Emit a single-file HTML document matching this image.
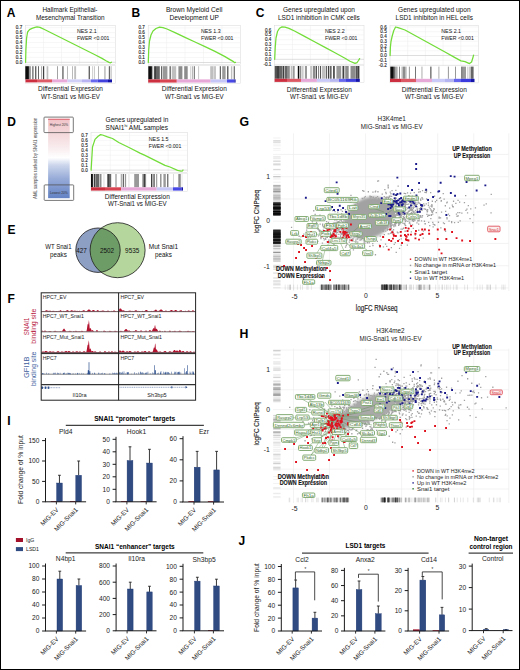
<!DOCTYPE html>
<html><head><meta charset="utf-8"><style>
html,body{margin:0;padding:0;background:#fff;}
body{width:520px;height:670px;overflow:hidden;}
svg{display:block;font-family:"Liberation Sans",sans-serif;}
</style></head><body>
<svg width="520" height="670" viewBox="0 0 520 670">
<defs><filter id="mblur" x="-20%" y="-20%" width="140%" height="140%"><feGaussianBlur stdDeviation="1.8"/></filter></defs>
<rect x="0" y="0" width="520" height="670" fill="#fff"/>
<rect x="25.5" y="25.5" width="90.1" height="39" fill="#fff" stroke="#d8d8d8" stroke-width="0.5"/>
<line x1="43.52" y1="25.5" x2="43.52" y2="64.5" stroke="#ececec" stroke-width="0.5"/>
<line x1="61.54" y1="25.5" x2="61.54" y2="64.5" stroke="#ececec" stroke-width="0.5"/>
<line x1="79.56" y1="25.5" x2="79.56" y2="64.5" stroke="#ececec" stroke-width="0.5"/>
<line x1="97.58" y1="25.5" x2="97.58" y2="64.5" stroke="#ececec" stroke-width="0.5"/>
<line x1="25.5" y1="27.65" x2="115.6" y2="27.65" stroke="#eeeeee" stroke-width="0.5"/>
<text x="22.2" y="29.25" font-size="4.6" text-anchor="end" fill="#222" stroke="#222" stroke-width="0.12">0.7</text>
<line x1="25.5" y1="32.6" x2="115.6" y2="32.6" stroke="#eeeeee" stroke-width="0.5"/>
<text x="22.2" y="34.2" font-size="4.6" text-anchor="end" fill="#222" stroke="#222" stroke-width="0.12">0.6</text>
<line x1="25.5" y1="37.55" x2="115.6" y2="37.55" stroke="#eeeeee" stroke-width="0.5"/>
<text x="22.2" y="39.15" font-size="4.6" text-anchor="end" fill="#222" stroke="#222" stroke-width="0.12">0.5</text>
<line x1="25.5" y1="42.5" x2="115.6" y2="42.5" stroke="#eeeeee" stroke-width="0.5"/>
<text x="22.2" y="44.1" font-size="4.6" text-anchor="end" fill="#222" stroke="#222" stroke-width="0.12">0.4</text>
<line x1="25.5" y1="47.45" x2="115.6" y2="47.45" stroke="#eeeeee" stroke-width="0.5"/>
<text x="22.2" y="49.05" font-size="4.6" text-anchor="end" fill="#222" stroke="#222" stroke-width="0.12">0.3</text>
<line x1="25.5" y1="52.4" x2="115.6" y2="52.4" stroke="#eeeeee" stroke-width="0.5"/>
<text x="22.2" y="54" font-size="4.6" text-anchor="end" fill="#222" stroke="#222" stroke-width="0.12">0.2</text>
<line x1="25.5" y1="57.35" x2="115.6" y2="57.35" stroke="#eeeeee" stroke-width="0.5"/>
<text x="22.2" y="58.95" font-size="4.6" text-anchor="end" fill="#222" stroke="#222" stroke-width="0.12">0.1</text>
<line x1="25.5" y1="62.3" x2="115.6" y2="62.3" stroke="#c8c8c8" stroke-width="0.6"/>
<text x="22.2" y="63.9" font-size="4.6" text-anchor="end" fill="#222" stroke="#222" stroke-width="0.12">0.0</text>
<polyline points="25.6,62.3 25.9,50 26.6,38 27.6,32 29.5,29.6 32,28.4 35,27.3 37,26.9 40,27.4 45,29.8 55,34.8 65,39.8 75,44.8 85,49.8 95,54.8 102,58.4 106,60.8 109,62.4 110.5,62.8 111.5,62.2" fill="none" stroke="#72dd38" stroke-width="1.25" stroke-linejoin="round" stroke-linecap="round"/>
<rect x="25.5" y="65.4" width="90.1" height="17.8" fill="#fff" stroke="#dcdcdc" stroke-width="0.5"/>
<rect x="25.3" y="66.2" width="3.6" height="13.2" fill="#000" fill-opacity="0.95"/>
<rect x="29.3" y="66.2" width="1.3" height="13.2" fill="#000" fill-opacity="0.6"/>
<rect x="32" y="66.2" width="1.7" height="13.2" fill="#000" fill-opacity="0.45"/>
<rect x="35" y="66.2" width="1.4" height="13.2" fill="#000" fill-opacity="0.6"/>
<rect x="38.2" y="66.2" width="0.8" height="13.2" fill="#000" fill-opacity="0.75"/>
<rect x="41.3" y="66.2" width="0.8" height="13.2" fill="#000" fill-opacity="0.45"/>
<rect x="43" y="66.2" width="1.2" height="13.2" fill="#000" fill-opacity="0.75"/>
<rect x="46.6" y="66.2" width="1.7" height="13.2" fill="#000" fill-opacity="0.25"/>
<rect x="57.2" y="66.2" width="0.8" height="13.2" fill="#000" fill-opacity="0.45"/>
<rect x="62" y="66.2" width="1.8" height="13.2" fill="#000" fill-opacity="0.45"/>
<rect x="67.2" y="66.2" width="0.6" height="13.2" fill="#000" fill-opacity="0.45"/>
<rect x="72.3" y="66.2" width="0.6" height="13.2" fill="#000" fill-opacity="0.45"/>
<rect x="74.2" y="66.2" width="1.9" height="13.2" fill="#000" fill-opacity="0.25"/>
<rect x="88.6" y="66.2" width="1.4" height="13.2" fill="#000" fill-opacity="0.6"/>
<rect x="92" y="66.2" width="0.7" height="13.2" fill="#000" fill-opacity="0.25"/>
<rect x="93.9" y="66.2" width="0.9" height="13.2" fill="#000" fill-opacity="0.25"/>
<rect x="98.2" y="66.2" width="0.7" height="13.2" fill="#000" fill-opacity="0.45"/>
<rect x="104.5" y="66.2" width="0.9" height="13.2" fill="#000" fill-opacity="0.45"/>
<rect x="108.8" y="66.2" width="1.4" height="13.2" fill="#000" fill-opacity="0.6"/>
<rect x="111" y="66.2" width="0.7" height="13.2" fill="#000" fill-opacity="0.25"/>
<rect x="25.5" y="79.4" width="11.5" height="3" fill="#cc2f3f"/>
<rect x="37" y="79.4" width="15" height="3" fill="#dd5a66"/>
<rect x="52" y="79.4" width="15.5" height="3" fill="#e8aad8"/>
<rect x="67.5" y="79.4" width="14.5" height="3" fill="#cfcff8"/>
<rect x="82" y="79.4" width="9" height="3" fill="#b9b3f2"/>
<rect x="91" y="79.4" width="6.5" height="3" fill="#6868ee"/>
<rect x="97.5" y="79.4" width="10.5" height="3" fill="#4040dd"/>
<rect x="108" y="79.4" width="4" height="3" fill="#1414a8"/>
<text x="70" y="12.3" font-size="6.5" text-anchor="middle" fill="#111" textLength="55" lengthAdjust="spacingAndGlyphs">Hallmark Epithelial-</text>
<text x="70.3" y="20.1" font-size="6.5" text-anchor="middle" fill="#111" textLength="68.7" lengthAdjust="spacingAndGlyphs">Mesenchymal Transition</text>
<text x="76.9" y="33.2" font-size="5.7" fill="#111" textLength="19.74" lengthAdjust="spacingAndGlyphs">NES 2.1</text>
<text x="76.9" y="39.8" font-size="5.7" fill="#111" textLength="32.5" lengthAdjust="spacingAndGlyphs">FWER &lt;0.001</text>
<text x="70.5" y="91.3" font-size="6.5" text-anchor="middle" fill="#111" textLength="65" lengthAdjust="spacingAndGlyphs">Differential Expression</text>
<text x="70.5" y="99" font-size="6.5" text-anchor="middle" fill="#111" textLength="58.8" lengthAdjust="spacingAndGlyphs">WT-Snai1 vs MIG-EV</text>
<text x="6.8" y="17" font-size="12" font-weight="bold">A</text>
<rect x="148.2" y="25.5" width="92.1" height="39" fill="#fff" stroke="#d8d8d8" stroke-width="0.5"/>
<line x1="166.62" y1="25.5" x2="166.62" y2="64.5" stroke="#ececec" stroke-width="0.5"/>
<line x1="185.04" y1="25.5" x2="185.04" y2="64.5" stroke="#ececec" stroke-width="0.5"/>
<line x1="203.46" y1="25.5" x2="203.46" y2="64.5" stroke="#ececec" stroke-width="0.5"/>
<line x1="221.88" y1="25.5" x2="221.88" y2="64.5" stroke="#ececec" stroke-width="0.5"/>
<line x1="148.2" y1="27.85" x2="240.3" y2="27.85" stroke="#eeeeee" stroke-width="0.5"/>
<text x="144.9" y="29.45" font-size="4.6" text-anchor="end" fill="#222" stroke="#222" stroke-width="0.12">0.7</text>
<line x1="148.2" y1="32.8" x2="240.3" y2="32.8" stroke="#eeeeee" stroke-width="0.5"/>
<text x="144.9" y="34.4" font-size="4.6" text-anchor="end" fill="#222" stroke="#222" stroke-width="0.12">0.6</text>
<line x1="148.2" y1="37.75" x2="240.3" y2="37.75" stroke="#eeeeee" stroke-width="0.5"/>
<text x="144.9" y="39.35" font-size="4.6" text-anchor="end" fill="#222" stroke="#222" stroke-width="0.12">0.5</text>
<line x1="148.2" y1="42.7" x2="240.3" y2="42.7" stroke="#eeeeee" stroke-width="0.5"/>
<text x="144.9" y="44.3" font-size="4.6" text-anchor="end" fill="#222" stroke="#222" stroke-width="0.12">0.4</text>
<line x1="148.2" y1="47.65" x2="240.3" y2="47.65" stroke="#eeeeee" stroke-width="0.5"/>
<text x="144.9" y="49.25" font-size="4.6" text-anchor="end" fill="#222" stroke="#222" stroke-width="0.12">0.3</text>
<line x1="148.2" y1="52.6" x2="240.3" y2="52.6" stroke="#eeeeee" stroke-width="0.5"/>
<text x="144.9" y="54.2" font-size="4.6" text-anchor="end" fill="#222" stroke="#222" stroke-width="0.12">0.2</text>
<line x1="148.2" y1="57.55" x2="240.3" y2="57.55" stroke="#eeeeee" stroke-width="0.5"/>
<text x="144.9" y="59.15" font-size="4.6" text-anchor="end" fill="#222" stroke="#222" stroke-width="0.12">0.1</text>
<line x1="148.2" y1="62.5" x2="240.3" y2="62.5" stroke="#c8c8c8" stroke-width="0.6"/>
<text x="144.9" y="64.1" font-size="4.6" text-anchor="end" fill="#222" stroke="#222" stroke-width="0.12">0.0</text>
<polyline points="148.3,62.5 148.7,50 149.5,41 151,35 153,31 156,28.5 159.5,27.1 163,27.6 167,29 175,32.6 185,37.4 195,42 205,46.6 215,51.4 225,56.6 230,59.6 233.5,61.6 234.5,62.6 235.5,62.3" fill="none" stroke="#72dd38" stroke-width="1.25" stroke-linejoin="round" stroke-linecap="round"/>
<rect x="148.2" y="65.4" width="92.1" height="18" fill="#fff" stroke="#dcdcdc" stroke-width="0.5"/>
<rect x="148.3" y="66.2" width="3.6" height="13.2" fill="#000" fill-opacity="0.95"/>
<rect x="152.3" y="66.2" width="0.9" height="13.2" fill="#000" fill-opacity="0.45"/>
<rect x="154.1" y="66.2" width="1.9" height="13.2" fill="#000" fill-opacity="0.75"/>
<rect x="156" y="66.2" width="3.8" height="13.2" fill="#000" fill-opacity="0.6"/>
<rect x="161.2" y="66.2" width="1" height="13.2" fill="#000" fill-opacity="0.75"/>
<rect x="162.9" y="66.2" width="4.5" height="13.2" fill="#000" fill-opacity="0.4"/>
<rect x="169.6" y="66.2" width="1.1" height="13.2" fill="#000" fill-opacity="0.75"/>
<rect x="171.8" y="66.2" width="4.4" height="13.2" fill="#000" fill-opacity="0.25"/>
<rect x="178.4" y="66.2" width="4" height="13.2" fill="#000" fill-opacity="0.45"/>
<rect x="184.2" y="66.2" width="3.5" height="13.2" fill="#000" fill-opacity="0.45"/>
<rect x="190.4" y="66.2" width="0.8" height="13.2" fill="#000" fill-opacity="0.25"/>
<rect x="192.4" y="66.2" width="0.6" height="13.2" fill="#000" fill-opacity="0.45"/>
<rect x="193.8" y="66.2" width="1" height="13.2" fill="#000" fill-opacity="0.6"/>
<rect x="198.2" y="66.2" width="0.9" height="13.2" fill="#000" fill-opacity="0.25"/>
<rect x="210.2" y="66.2" width="3.4" height="13.2" fill="#000" fill-opacity="0.25"/>
<rect x="214.5" y="66.2" width="1" height="13.2" fill="#000" fill-opacity="0.45"/>
<rect x="219.8" y="66.2" width="1" height="13.2" fill="#000" fill-opacity="0.75"/>
<rect x="222.2" y="66.2" width="3.4" height="13.2" fill="#000" fill-opacity="0.4"/>
<rect x="227" y="66.2" width="1.5" height="13.2" fill="#000" fill-opacity="0.6"/>
<rect x="230.9" y="66.2" width="1.4" height="13.2" fill="#000" fill-opacity="0.25"/>
<rect x="233.75" y="66.2" width="0.95" height="13.2" fill="#000" fill-opacity="0.75"/>
<rect x="148.2" y="79.4" width="11.8" height="3.2" fill="#cc2f3f"/>
<rect x="160" y="79.4" width="16.8" height="3.2" fill="#d94452"/>
<rect x="176.8" y="79.4" width="33.9" height="3.2" fill="#e6a8d6"/>
<rect x="210.7" y="79.4" width="16.3" height="3.2" fill="#c6c6f6"/>
<rect x="227" y="79.4" width="7.3" height="3.2" fill="#4848e6"/>
<rect x="234.3" y="79.4" width="1.3" height="3.2" fill="#1414a8"/>
<text x="194.2" y="12.3" font-size="6.5" text-anchor="middle" fill="#111" textLength="56.5" lengthAdjust="spacingAndGlyphs">Brown Myeloid Cell</text>
<text x="194.1" y="20.1" font-size="6.5" text-anchor="middle" fill="#111" textLength="49.3" lengthAdjust="spacingAndGlyphs">Development UP</text>
<text x="201" y="33.2" font-size="5.7" fill="#111" textLength="19.74" lengthAdjust="spacingAndGlyphs">NES 1.3</text>
<text x="201" y="39.8" font-size="5.7" fill="#111" textLength="32.5" lengthAdjust="spacingAndGlyphs">FWER &lt;0.001</text>
<text x="194.3" y="91.3" font-size="6.5" text-anchor="middle" fill="#111" textLength="65" lengthAdjust="spacingAndGlyphs">Differential Expression</text>
<text x="194.3" y="99" font-size="6.5" text-anchor="middle" fill="#111" textLength="58.8" lengthAdjust="spacingAndGlyphs">WT-Snai1 vs MIG-EV</text>
<text x="131.6" y="17" font-size="12" font-weight="bold">B</text>
<rect x="274.6" y="25.5" width="89.4" height="39.3" fill="#fff" stroke="#d8d8d8" stroke-width="0.5"/>
<line x1="292.48" y1="25.5" x2="292.48" y2="64.8" stroke="#ececec" stroke-width="0.5"/>
<line x1="310.36" y1="25.5" x2="310.36" y2="64.8" stroke="#ececec" stroke-width="0.5"/>
<line x1="328.24" y1="25.5" x2="328.24" y2="64.8" stroke="#ececec" stroke-width="0.5"/>
<line x1="346.12" y1="25.5" x2="346.12" y2="64.8" stroke="#ececec" stroke-width="0.5"/>
<line x1="274.6" y1="29.9" x2="364" y2="29.9" stroke="#eeeeee" stroke-width="0.5"/>
<text x="271.3" y="31.5" font-size="4.6" text-anchor="end" fill="#222" stroke="#222" stroke-width="0.12">0.6</text>
<line x1="274.6" y1="34.8" x2="364" y2="34.8" stroke="#eeeeee" stroke-width="0.5"/>
<text x="271.3" y="36.4" font-size="4.6" text-anchor="end" fill="#222" stroke="#222" stroke-width="0.12">0.5</text>
<line x1="274.6" y1="39.7" x2="364" y2="39.7" stroke="#eeeeee" stroke-width="0.5"/>
<text x="271.3" y="41.3" font-size="4.6" text-anchor="end" fill="#222" stroke="#222" stroke-width="0.12">0.4</text>
<line x1="274.6" y1="44.6" x2="364" y2="44.6" stroke="#eeeeee" stroke-width="0.5"/>
<text x="271.3" y="46.2" font-size="4.6" text-anchor="end" fill="#222" stroke="#222" stroke-width="0.12">0.3</text>
<line x1="274.6" y1="49.5" x2="364" y2="49.5" stroke="#eeeeee" stroke-width="0.5"/>
<text x="271.3" y="51.1" font-size="4.6" text-anchor="end" fill="#222" stroke="#222" stroke-width="0.12">0.2</text>
<line x1="274.6" y1="54.4" x2="364" y2="54.4" stroke="#eeeeee" stroke-width="0.5"/>
<text x="271.3" y="56" font-size="4.6" text-anchor="end" fill="#222" stroke="#222" stroke-width="0.12">0.1</text>
<line x1="274.6" y1="59.3" x2="364" y2="59.3" stroke="#c8c8c8" stroke-width="0.6"/>
<text x="271.3" y="60.9" font-size="4.6" text-anchor="end" fill="#222" stroke="#222" stroke-width="0.12">0.0</text>
<line x1="274.6" y1="64.2" x2="364" y2="64.2" stroke="#eeeeee" stroke-width="0.5"/>
<text x="271.3" y="65.8" font-size="4.6" text-anchor="end" fill="#222" stroke="#222" stroke-width="0.12">-0.1</text>
<polyline points="274.7,59.3 275.2,48 276,38 277.5,31.5 279.5,28.2 282,26.9 285,27.1 289,28.4 295,31.2 305,36.6 315,42 325,47.4 335,52.8 345,58.2 350,61.2 355,63.4 357,62.6 358.5,60.5 359.6,58.6" fill="none" stroke="#72dd38" stroke-width="1.25" stroke-linejoin="round" stroke-linecap="round"/>
<rect x="274.6" y="65.2" width="89.4" height="17.5" fill="#fff" stroke="#dcdcdc" stroke-width="0.5"/>
<rect x="274.8" y="66" width="0.9" height="12.8" fill="#000" fill-opacity="0.95"/>
<rect x="276.1" y="66" width="2.9" height="12.8" fill="#000" fill-opacity="0.75"/>
<rect x="279" y="66" width="3.7" height="12.8" fill="#000" fill-opacity="0.6"/>
<rect x="283.2" y="66" width="0.8" height="12.8" fill="#000" fill-opacity="0.95"/>
<rect x="284.5" y="66" width="2.5" height="12.8" fill="#000" fill-opacity="0.6"/>
<rect x="287" y="66" width="2.8" height="12.8" fill="#000" fill-opacity="0.45"/>
<rect x="290.7" y="66" width="1.8" height="12.8" fill="#000" fill-opacity="0.25"/>
<rect x="292.9" y="66" width="1.8" height="12.8" fill="#000" fill-opacity="0.4"/>
<rect x="297.8" y="66" width="1.3" height="12.8" fill="#000" fill-opacity="0.95"/>
<rect x="299.5" y="66" width="1.8" height="12.8" fill="#000" fill-opacity="0.45"/>
<rect x="302.2" y="66" width="1.3" height="12.8" fill="#000" fill-opacity="0.25"/>
<rect x="304.9" y="66" width="2.1" height="12.8" fill="#000" fill-opacity="0.4"/>
<rect x="310.2" y="66" width="1.7" height="12.8" fill="#000" fill-opacity="0.25"/>
<rect x="312.8" y="66" width="2.7" height="12.8" fill="#000" fill-opacity="0.45"/>
<rect x="315.9" y="66" width="1" height="12.8" fill="#000" fill-opacity="0.75"/>
<rect x="318.2" y="66" width="0.9" height="12.8" fill="#000" fill-opacity="0.6"/>
<rect x="320" y="66" width="0.9" height="12.8" fill="#000" fill-opacity="0.75"/>
<rect x="321.8" y="66" width="3.9" height="12.8" fill="#000" fill-opacity="0.25"/>
<rect x="326.2" y="66" width="0.9" height="12.8" fill="#000" fill-opacity="0.75"/>
<rect x="328" y="66" width="1.3" height="12.8" fill="#000" fill-opacity="0.75"/>
<rect x="330.2" y="66" width="1.3" height="12.8" fill="#000" fill-opacity="0.75"/>
<rect x="333.3" y="66" width="1.3" height="12.8" fill="#000" fill-opacity="0.95"/>
<rect x="336.4" y="66" width="4.8" height="12.8" fill="#000" fill-opacity="0.4"/>
<rect x="342.5" y="66" width="1.8" height="12.8" fill="#000" fill-opacity="0.75"/>
<rect x="345.2" y="66" width="3.5" height="12.8" fill="#000" fill-opacity="0.45"/>
<rect x="350.5" y="66" width="5.3" height="12.8" fill="#000" fill-opacity="0.45"/>
<rect x="356.3" y="66" width="1.3" height="12.8" fill="#000" fill-opacity="0.95"/>
<rect x="358" y="66" width="1.4" height="12.8" fill="#000" fill-opacity="0.75"/>
<rect x="274.6" y="78.8" width="12.4" height="3.1" fill="#cc2f3f"/>
<rect x="287" y="78.8" width="14" height="3.1" fill="#dc5864"/>
<rect x="301" y="78.8" width="15.9" height="3.1" fill="#e6a8d6"/>
<rect x="316.9" y="78.8" width="13.1" height="3.1" fill="#cacaf8"/>
<rect x="330" y="78.8" width="9" height="3.1" fill="#b8b8f0"/>
<rect x="339" y="78.8" width="7" height="3.1" fill="#6868ee"/>
<rect x="346" y="78.8" width="10" height="3.1" fill="#4040dd"/>
<rect x="356" y="78.8" width="3.8" height="3.1" fill="#1414a8"/>
<text x="319" y="12.3" font-size="6.5" text-anchor="middle" fill="#111" textLength="72" lengthAdjust="spacingAndGlyphs">Genes upregulated upon</text>
<text x="318.9" y="20.1" font-size="6.5" text-anchor="middle" fill="#111" textLength="81.8" lengthAdjust="spacingAndGlyphs">LSD1 inhibition in CMK cells</text>
<text x="325" y="33.2" font-size="5.7" fill="#111" textLength="19.74" lengthAdjust="spacingAndGlyphs">NES 2.2</text>
<text x="325" y="39.8" font-size="5.7" fill="#111" textLength="32.5" lengthAdjust="spacingAndGlyphs">FWER &lt;0.001</text>
<text x="319.3" y="91.5" font-size="6.5" text-anchor="middle" fill="#111" textLength="65" lengthAdjust="spacingAndGlyphs">Differential Expression</text>
<text x="319.3" y="99.2" font-size="6.5" text-anchor="middle" fill="#111" textLength="58.8" lengthAdjust="spacingAndGlyphs">WT-Snai1 vs MIG-EV</text>
<text x="255.8" y="17" font-size="12" font-weight="bold">C</text>
<rect x="390" y="25.5" width="88.5" height="40.5" fill="#fff" stroke="#d8d8d8" stroke-width="0.5"/>
<line x1="407.7" y1="25.5" x2="407.7" y2="66" stroke="#ececec" stroke-width="0.5"/>
<line x1="425.4" y1="25.5" x2="425.4" y2="66" stroke="#ececec" stroke-width="0.5"/>
<line x1="443.1" y1="25.5" x2="443.1" y2="66" stroke="#ececec" stroke-width="0.5"/>
<line x1="460.8" y1="25.5" x2="460.8" y2="66" stroke="#ececec" stroke-width="0.5"/>
<line x1="390" y1="26.94" x2="478.5" y2="26.94" stroke="#eeeeee" stroke-width="0.5"/>
<text x="386.7" y="28.54" font-size="4.6" text-anchor="end" fill="#222" stroke="#222" stroke-width="0.12">0.6</text>
<line x1="390" y1="31.7" x2="478.5" y2="31.7" stroke="#eeeeee" stroke-width="0.5"/>
<text x="386.7" y="33.3" font-size="4.6" text-anchor="end" fill="#222" stroke="#222" stroke-width="0.12">0.5</text>
<line x1="390" y1="36.46" x2="478.5" y2="36.46" stroke="#eeeeee" stroke-width="0.5"/>
<text x="386.7" y="38.06" font-size="4.6" text-anchor="end" fill="#222" stroke="#222" stroke-width="0.12">0.4</text>
<line x1="390" y1="41.22" x2="478.5" y2="41.22" stroke="#eeeeee" stroke-width="0.5"/>
<text x="386.7" y="42.82" font-size="4.6" text-anchor="end" fill="#222" stroke="#222" stroke-width="0.12">0.3</text>
<line x1="390" y1="45.98" x2="478.5" y2="45.98" stroke="#eeeeee" stroke-width="0.5"/>
<text x="386.7" y="47.58" font-size="4.6" text-anchor="end" fill="#222" stroke="#222" stroke-width="0.12">0.2</text>
<line x1="390" y1="50.74" x2="478.5" y2="50.74" stroke="#eeeeee" stroke-width="0.5"/>
<text x="386.7" y="52.34" font-size="4.6" text-anchor="end" fill="#222" stroke="#222" stroke-width="0.12">0.1</text>
<line x1="390" y1="55.5" x2="478.5" y2="55.5" stroke="#c8c8c8" stroke-width="0.6"/>
<text x="386.7" y="57.1" font-size="4.6" text-anchor="end" fill="#222" stroke="#222" stroke-width="0.12">0.0</text>
<line x1="390" y1="60.26" x2="478.5" y2="60.26" stroke="#eeeeee" stroke-width="0.5"/>
<text x="386.7" y="61.86" font-size="4.6" text-anchor="end" fill="#222" stroke="#222" stroke-width="0.12">-0.1</text>
<line x1="390" y1="65.02" x2="478.5" y2="65.02" stroke="#eeeeee" stroke-width="0.5"/>
<text x="386.7" y="66.62" font-size="4.6" text-anchor="end" fill="#222" stroke="#222" stroke-width="0.12">-0.2</text>
<polyline points="390.1,55.5 390.4,47 391,41.5 392.2,36 393.8,30.5 395.6,27 398,27.6 405,30 415,35.5 425,41 435,46.5 445,52 455,57.6 461,60.9 465,61.6 469.5,63.6 471.6,62 472.8,58 473.6,55.2" fill="none" stroke="#72dd38" stroke-width="1.25" stroke-linejoin="round" stroke-linecap="round"/>
<rect x="390" y="65.8" width="88.5" height="17.1" fill="#fff" stroke="#dcdcdc" stroke-width="0.5"/>
<rect x="390.3" y="66.6" width="2.7" height="12.2" fill="#000" fill-opacity="0.95"/>
<rect x="393" y="66.6" width="1.8" height="12.2" fill="#000" fill-opacity="0.75"/>
<rect x="395.2" y="66.6" width="1.3" height="12.2" fill="#000" fill-opacity="0.45"/>
<rect x="396.5" y="66.6" width="1.3" height="12.2" fill="#000" fill-opacity="0.25"/>
<rect x="399.2" y="66.6" width="0.8" height="12.2" fill="#000" fill-opacity="0.6"/>
<rect x="401.4" y="66.6" width="1.6" height="12.2" fill="#000" fill-opacity="0.25"/>
<rect x="403" y="66.6" width="2.2" height="12.2" fill="#000" fill-opacity="0.45"/>
<rect x="405.2" y="66.6" width="1.5" height="12.2" fill="#000" fill-opacity="0.25"/>
<rect x="408.9" y="66.6" width="0.9" height="12.2" fill="#000" fill-opacity="0.45"/>
<rect x="415.1" y="66.6" width="0.9" height="12.2" fill="#000" fill-opacity="0.6"/>
<rect x="421.3" y="66.6" width="1.3" height="12.2" fill="#000" fill-opacity="0.25"/>
<rect x="430.2" y="66.6" width="1.3" height="12.2" fill="#000" fill-opacity="0.6"/>
<rect x="438.2" y="66.6" width="1.3" height="12.2" fill="#000" fill-opacity="0.25"/>
<rect x="447.9" y="66.6" width="0.9" height="12.2" fill="#000" fill-opacity="0.45"/>
<rect x="455" y="66.6" width="0.9" height="12.2" fill="#000" fill-opacity="0.45"/>
<rect x="461.2" y="66.6" width="1.3" height="12.2" fill="#000" fill-opacity="0.6"/>
<rect x="462.5" y="66.6" width="3.5" height="12.2" fill="#000" fill-opacity="0.4"/>
<rect x="467.4" y="66.6" width="0.9" height="12.2" fill="#000" fill-opacity="0.25"/>
<rect x="469.2" y="66.6" width="1.8" height="12.2" fill="#000" fill-opacity="0.25"/>
<rect x="471" y="66.6" width="2.6" height="12.2" fill="#000" fill-opacity="0.6"/>
<rect x="390" y="78.8" width="11" height="3.3" fill="#cc2f3f"/>
<rect x="401" y="78.8" width="15" height="3.3" fill="#dc5864"/>
<rect x="416" y="78.8" width="16" height="3.3" fill="#e6a8d6"/>
<rect x="432" y="78.8" width="13" height="3.3" fill="#cacaf8"/>
<rect x="445" y="78.8" width="9" height="3.3" fill="#b4b4f0"/>
<rect x="454" y="78.8" width="7" height="3.3" fill="#6464ee"/>
<rect x="461" y="78.8" width="10" height="3.3" fill="#3a3ade"/>
<rect x="471" y="78.8" width="3.5" height="3.3" fill="#1414a8"/>
<text x="434.3" y="12.3" font-size="6.5" text-anchor="middle" fill="#111" textLength="72.6" lengthAdjust="spacingAndGlyphs">Genes upregulated upon</text>
<text x="434.3" y="20.1" font-size="6.5" text-anchor="middle" fill="#111" textLength="77.4" lengthAdjust="spacingAndGlyphs">LSD1 inhibiton in HEL cells</text>
<text x="441.3" y="33.2" font-size="5.7" fill="#111" textLength="19.74" lengthAdjust="spacingAndGlyphs">NES 2.1</text>
<text x="441.3" y="39.8" font-size="5.7" fill="#111" textLength="32.5" lengthAdjust="spacingAndGlyphs">FWER &lt;0.001</text>
<text x="434.3" y="91.5" font-size="6.5" text-anchor="middle" fill="#111" textLength="65" lengthAdjust="spacingAndGlyphs">Differential Expression</text>
<text x="434.3" y="99.2" font-size="6.5" text-anchor="middle" fill="#111" textLength="58.8" lengthAdjust="spacingAndGlyphs">WT-Snai1 vs MIG-EV</text>
<rect x="91" y="132.7" width="96.5" height="39.7" fill="#fff" stroke="#d8d8d8" stroke-width="0.5"/>
<line x1="110.3" y1="132.7" x2="110.3" y2="172.4" stroke="#ececec" stroke-width="0.5"/>
<line x1="129.6" y1="132.7" x2="129.6" y2="172.4" stroke="#ececec" stroke-width="0.5"/>
<line x1="148.9" y1="132.7" x2="148.9" y2="172.4" stroke="#ececec" stroke-width="0.5"/>
<line x1="168.2" y1="132.7" x2="168.2" y2="172.4" stroke="#ececec" stroke-width="0.5"/>
<line x1="91" y1="135.45" x2="187.5" y2="135.45" stroke="#eeeeee" stroke-width="0.5"/>
<text x="87.7" y="137.05" font-size="4.6" text-anchor="end" fill="#222" stroke="#222" stroke-width="0.12">0.7</text>
<line x1="91" y1="140.4" x2="187.5" y2="140.4" stroke="#eeeeee" stroke-width="0.5"/>
<text x="87.7" y="142" font-size="4.6" text-anchor="end" fill="#222" stroke="#222" stroke-width="0.12">0.6</text>
<line x1="91" y1="145.35" x2="187.5" y2="145.35" stroke="#eeeeee" stroke-width="0.5"/>
<text x="87.7" y="146.95" font-size="4.6" text-anchor="end" fill="#222" stroke="#222" stroke-width="0.12">0.5</text>
<line x1="91" y1="150.3" x2="187.5" y2="150.3" stroke="#eeeeee" stroke-width="0.5"/>
<text x="87.7" y="151.9" font-size="4.6" text-anchor="end" fill="#222" stroke="#222" stroke-width="0.12">0.4</text>
<line x1="91" y1="155.25" x2="187.5" y2="155.25" stroke="#eeeeee" stroke-width="0.5"/>
<text x="87.7" y="156.85" font-size="4.6" text-anchor="end" fill="#222" stroke="#222" stroke-width="0.12">0.3</text>
<line x1="91" y1="160.2" x2="187.5" y2="160.2" stroke="#eeeeee" stroke-width="0.5"/>
<text x="87.7" y="161.8" font-size="4.6" text-anchor="end" fill="#222" stroke="#222" stroke-width="0.12">0.2</text>
<line x1="91" y1="165.15" x2="187.5" y2="165.15" stroke="#eeeeee" stroke-width="0.5"/>
<text x="87.7" y="166.75" font-size="4.6" text-anchor="end" fill="#222" stroke="#222" stroke-width="0.12">0.1</text>
<line x1="91" y1="170.1" x2="187.5" y2="170.1" stroke="#c8c8c8" stroke-width="0.6"/>
<text x="87.7" y="171.7" font-size="4.6" text-anchor="end" fill="#222" stroke="#222" stroke-width="0.12">0.0</text>
<polyline points="91.1,170.1 91.6,162 92.5,147 95,139.4 98.1,136.2 100.6,134.6 102.5,135 107.5,136.9 112.5,138.5 118.75,142.5 130,148 140,153.1 145,155.4 155,160.4 165,165.4 170,167 177.5,170.4 181,171.2 182.5,171 183,170" fill="none" stroke="#72dd38" stroke-width="1.25" stroke-linejoin="round" stroke-linecap="round"/>
<rect x="91" y="173.2" width="96.5" height="18.2" fill="#fff" stroke="#dcdcdc" stroke-width="0.5"/>
<rect x="91" y="174" width="1.9" height="13.3" fill="#000" fill-opacity="0.95"/>
<rect x="93.8" y="174" width="1" height="13.3" fill="#000" fill-opacity="0.95"/>
<rect x="95.3" y="174" width="3.8" height="13.3" fill="#000" fill-opacity="0.6"/>
<rect x="99.6" y="174" width="1.9" height="13.3" fill="#000" fill-opacity="0.45"/>
<rect x="103.5" y="174" width="0.9" height="13.3" fill="#000" fill-opacity="0.15"/>
<rect x="107.3" y="174" width="1.7" height="13.3" fill="#000" fill-opacity="0.75"/>
<rect x="109" y="174" width="2.2" height="13.3" fill="#000" fill-opacity="0.6"/>
<rect x="115" y="174" width="2" height="13.3" fill="#000" fill-opacity="0.25"/>
<rect x="120.8" y="174" width="0.9" height="13.3" fill="#000" fill-opacity="0.45"/>
<rect x="122.7" y="174" width="1.4" height="13.3" fill="#000" fill-opacity="0.6"/>
<rect x="125.1" y="174" width="1" height="13.3" fill="#000" fill-opacity="0.45"/>
<rect x="128.5" y="174" width="0.9" height="13.3" fill="#000" fill-opacity="0.15"/>
<rect x="134.2" y="174" width="4.8" height="13.3" fill="#000" fill-opacity="0.4"/>
<rect x="142.3" y="174" width="1.3" height="13.3" fill="#000" fill-opacity="0.45"/>
<rect x="143.6" y="174" width="1.6" height="13.3" fill="#000" fill-opacity="0.75"/>
<rect x="145.2" y="174" width="0.9" height="13.3" fill="#000" fill-opacity="0.45"/>
<rect x="151" y="174" width="1.4" height="13.3" fill="#000" fill-opacity="0.75"/>
<rect x="153.3" y="174" width="1.5" height="13.3" fill="#000" fill-opacity="0.6"/>
<rect x="156.2" y="174" width="1" height="13.3" fill="#000" fill-opacity="0.45"/>
<rect x="160.1" y="174" width="1.4" height="13.3" fill="#000" fill-opacity="0.45"/>
<rect x="163.4" y="174" width="2.4" height="13.3" fill="#000" fill-opacity="0.4"/>
<rect x="167.3" y="174" width="1" height="13.3" fill="#000" fill-opacity="0.75"/>
<rect x="173" y="174" width="1" height="13.3" fill="#000" fill-opacity="0.15"/>
<rect x="178.3" y="174" width="2.45" height="13.3" fill="#000" fill-opacity="0.45"/>
<rect x="181.7" y="174" width="0.6" height="13.3" fill="#000" fill-opacity="0.15"/>
<rect x="91" y="187.3" width="14" height="3.3" fill="#cc2f3f"/>
<rect x="105" y="187.3" width="16.25" height="3.3" fill="#d94452"/>
<rect x="121.25" y="187.3" width="35.45" height="3.3" fill="#e6a8d6"/>
<rect x="156.7" y="187.3" width="16.3" height="3.3" fill="#c8c8f6"/>
<rect x="173" y="187.3" width="8.5" height="3.3" fill="#4848e6"/>
<rect x="181.5" y="187.3" width="1.5" height="3.3" fill="#1414a8"/>
<text x="137" y="121.6" font-size="6.5" text-anchor="middle" fill="#111" textLength="62.9" lengthAdjust="spacingAndGlyphs">Genes upregulated in</text>
<text x="148.8" y="141.2" font-size="5.7" fill="#111" textLength="19.74" lengthAdjust="spacingAndGlyphs">NES 1.5</text>
<text x="148.8" y="147.8" font-size="5.7" fill="#111" textLength="32.5" lengthAdjust="spacingAndGlyphs">FWER &lt;0.001</text>
<text x="137.3" y="199" font-size="6.5" text-anchor="middle" fill="#111" textLength="65" lengthAdjust="spacingAndGlyphs">Differential Expression</text>
<text x="137.3" y="206.3" font-size="6.5" text-anchor="middle" fill="#111" textLength="58.8" lengthAdjust="spacingAndGlyphs">WT-Snai1 vs MIG-EV</text>
<text x="7.3" y="125.6" font-size="12" font-weight="bold">D</text>
<text x="105.6" y="129.6" font-size="6.5" fill="#111">SNAI1<tspan font-size="3.8" dy="-2.6">hi</tspan><tspan dy="2.6"> AML samples</tspan></text>
<text x="36.7" y="158.3" font-size="4.6" text-anchor="middle" fill="#444" textLength="81.3" lengthAdjust="spacingAndGlyphs" transform="rotate(-90 36.7 158.3)">AML samples ranked by SNAI1 expression</text>
<defs><linearGradient id="rk" x1="0" y1="0" x2="0" y2="1"><stop offset="0" stop-color="#e9a2aa"/><stop offset="0.02" stop-color="#f1c6cb"/><stop offset="0.17" stop-color="#f3d6d9"/><stop offset="0.38" stop-color="#f9eef0"/><stop offset="0.49" stop-color="#ffffff"/><stop offset="0.58" stop-color="#cdd7ec"/><stop offset="0.75" stop-color="#98acd8"/><stop offset="1" stop-color="#6382c4"/></linearGradient></defs>
<rect x="48.1" y="118.8" width="21.6" height="79.4" fill="url(#rk)"/>
<rect x="48.1" y="118.8" width="21.6" height="1" fill="#de6a76"/>
<rect x="44" y="117.1" width="29.3" height="15.5" fill="none" stroke="#555" stroke-width="0.8" rx="0.8"/>
<rect x="44.2" y="184.9" width="29.5" height="15.5" fill="none" stroke="#555" stroke-width="0.8" rx="0.8"/>
<text x="59" y="126.4" font-size="3.9" text-anchor="middle" fill="#333" textLength="18.3" lengthAdjust="spacingAndGlyphs">Highest 20%</text>
<text x="58.9" y="194.2" font-size="3.9" text-anchor="middle" fill="#333" textLength="17.7" lengthAdjust="spacingAndGlyphs">Lowest 20%</text>
<text x="7.5" y="233.5" font-size="12" font-weight="bold">E</text>
<defs><clipPath id="cb"><circle cx="98" cy="250.2" r="22.2"/></clipPath></defs>
<circle cx="98" cy="250.2" r="22.2" fill="#8e9fc4"/>
<circle cx="117.6" cy="250.2" r="27.5" fill="#b5d79d"/>
<circle cx="117.6" cy="250.2" r="27.5" fill="#6e9c67" clip-path="url(#cb)"/>
<circle cx="98" cy="250.2" r="22.2" fill="none" stroke="#1a1a1a" stroke-width="0.8"/>
<circle cx="117.6" cy="250.2" r="27.5" fill="none" stroke="#1a1a1a" stroke-width="0.8"/>
<text x="81.6" y="252.6" font-size="6.4" text-anchor="middle" fill="#111">427</text>
<text x="107" y="252.6" font-size="6.4" text-anchor="middle" fill="#111">2502</text>
<text x="132.2" y="252.6" font-size="6.4" text-anchor="middle" fill="#111">9535</text>
<text x="58.4" y="248.6" font-size="6.3" text-anchor="middle" fill="#111" textLength="26.3" lengthAdjust="spacingAndGlyphs">WT Snai1</text>
<text x="58.4" y="256.8" font-size="6.3" text-anchor="middle" fill="#111">peaks</text>
<text x="163.4" y="248.6" font-size="6.3" text-anchor="middle" fill="#111" textLength="29.2" lengthAdjust="spacingAndGlyphs">Mut Snai1</text>
<text x="163.4" y="256.8" font-size="6.3" text-anchor="middle" fill="#111">peaks</text>
<text x="7.5" y="302.8" font-size="12" font-weight="bold">F</text>
<path d="M41.7,311.4 L41.7,310.88 L42.1,310.92 L42.5,311.09 L42.9,311.17 L43.3,311.04 L43.7,311.1 L44.1,310.91 L44.5,311.15 L44.9,311.06 L45.3,310.83 L45.7,310.56 L46.1,310.33 L46.5,310.21 L46.9,310.25 L47.3,310.43 L47.7,310.7 L48.1,310.85 L48.5,310.81 L48.9,310.89 L49.3,310.83 L49.7,310.65 L50.1,310.61 L50.5,310.73 L50.9,310.94 L51.3,311.06 L51.7,311.25 L52.1,311.08 L52.5,310.99 L52.9,310.84 L53.3,310.82 L53.7,311.06 L54.1,310.87 L54.5,311.17 L54.9,310.9 L55.3,311.03 L55.7,311.29 L56.1,310.94 L56.5,311.1 L56.9,310.89 L57.3,310.97 L57.7,311.3 L58.1,311.05 L58.5,310.87 L58.9,311.18 L59.3,310.96 L59.7,310.63 L60.1,310.33 L60.5,310.2 L60.9,310.33 L61.3,310.63 L61.7,310.9 L62.1,311.08 L62.5,311.26 L62.9,311.14 L63.3,311.05 L63.7,310.83 L64.1,311.25 L64.5,311.02 L64.9,310.95 L65.3,311.03 L65.7,310.89 L66.1,310.79 L66.5,310.49 L66.9,310.24 L67.3,310.11 L67.7,310.15 L68.1,310.35 L68.5,310.64 L68.9,310.92 L69.3,311.14 L69.7,311.2 L70.1,311.02 L70.5,310.77 L70.9,310.5 L71.3,310.28 L71.7,310.2 L72.1,310.28 L72.5,310.5 L72.9,310.77 L73.3,310.88 L73.7,310.85 L74.1,310.84 L74.5,310.73 L74.9,310.61 L75.3,310.65 L75.7,310.83 L76.1,310.89 L76.5,310.88 L76.9,310.85 L77.3,311.01 L77.7,310.83 L78.1,311.01 L78.5,311.07 L78.9,310.97 L79.3,310.8 L79.7,310.84 L80.1,310.9 L80.5,311.26 L80.9,310.99 L81.3,311.06 L81.7,310.98 L82.1,310.88 L82.5,310.83 L82.9,310.56 L83.3,310.33 L83.7,310.21 L84.1,310.25 L84.5,310.43 L84.9,310.7 L85.3,310.96 L85.7,311.16 L86.1,310.95 L86.5,311.11 L86.9,310.89 L87.3,310.58 L87.7,310.21 L88.1,309.84 L88.5,309.55 L88.9,309.41 L89.3,309.45 L89.7,309.68 L90.1,310.02 L90.5,310.4 L90.9,310.74 L91.3,311.01 L91.7,310.98 L92.1,310.69 L92.5,310.35 L92.9,310.06 L93.3,309.91 L93.7,309.96 L94.1,310.19 L94.5,310.52 L94.9,310.85 L95.3,311.1 L95.7,311.17 L96.1,311.18 L96.5,310.92 L96.9,310.57 L97.3,310.24 L97.7,310.1 L98.1,310.24 L98.5,310.57 L98.9,310.81 L99.3,311.18 L99.7,311.12 L100.1,310.93 L100.5,310.88 L100.9,310.84 L101.3,311.08 L101.7,310.87 L102.1,310.65 L102.5,310.47 L102.9,310.4 L103.3,310.47 L103.7,310.65 L104.1,310.87 L104.5,311 L104.9,311.08 L105.3,311.21 L105.7,311.06 L106.1,311.1 L106.5,311.02 L106.9,311.05 L107.3,310.83 L107.7,310.65 L108.1,310.61 L108.5,310.73 L108.9,310.94 L109.3,311.15 L109.7,310.93 L110.1,311.13 L110.5,311.28 L110.9,311.16 L111.3,311.18 L111.7,310.82 L112.1,311.12 L112.5,311.16 L112.9,310.97 L113.3,310.69 L113.7,310.46 L114.1,310.41 L114.5,310.56 L114.9,310.83 L115.3,311.09 L115.7,310.97 L116.1,311.3 L116.5,311.2 L116.9,311.13 L117.3,311.18 L117.7,310.98 L118.1,311.11 L118.1,311.4 Z" fill="#b3132f" stroke="none" stroke-width="1"/>
<path d="M119.1,311.4 L119.1,309.62 L119.5,309.06 L119.9,308.62 L120.3,308.41 L120.7,308.48 L121.1,308.82 L121.5,309.33 L121.9,309.9 L122.3,310.42 L122.7,310.25 L123.1,310.21 L123.5,310.33 L123.9,310.56 L124.3,310.83 L124.7,310.87 L125.1,311 L125.5,311.11 L125.9,311.16 L126.3,310.96 L126.7,311.07 L127.1,310.96 L127.5,310.97 L127.9,311.23 L128.3,310.92 L128.7,310.81 L129.1,310.82 L129.5,310.73 L129.9,310.61 L130.3,310.65 L130.7,310.83 L131.1,310.83 L131.5,311.15 L131.9,311.12 L132.3,310.85 L132.7,311.14 L133.1,311.03 L133.5,311.08 L133.9,311.23 L134.3,311.01 L134.7,310.83 L135.1,310.56 L135.5,310.33 L135.9,310.21 L136.3,310.25 L136.7,310.43 L137.1,310.7 L137.5,310.96 L137.9,311.03 L138.3,310.87 L138.7,311.23 L139.1,311.02 L139.5,311.11 L139.9,311 L140.3,311.24 L140.7,310.91 L141.1,311.25 L141.5,311.22 L141.9,310.9 L142.3,310.83 L142.7,311.08 L143.1,311.09 L143.5,311.18 L143.9,311.16 L144.3,310.99 L144.7,310.92 L145.1,310.61 L145.5,310.27 L145.9,310 L146.3,309.9 L146.7,310 L147.1,310.27 L147.5,310.61 L147.9,310.92 L148.3,311.08 L148.7,311.28 L149.1,310.94 L149.5,311.13 L149.9,311.14 L150.3,311.26 L150.7,311.08 L151.1,311.01 L151.5,311.1 L151.9,310.87 L152.3,310.96 L152.7,311.18 L153.1,311.04 L153.5,310.84 L153.9,311.04 L154.3,310.74 L154.7,310.35 L155.1,309.95 L155.5,309.67 L155.9,309.61 L156.3,309.79 L156.7,310.14 L157.1,310.55 L157.5,310.9 L157.9,311.15 L158.3,311.08 L158.7,310.82 L159.1,310.74 L159.5,310.4 L159.9,310.02 L160.3,309.68 L160.7,309.45 L161.1,309.41 L161.5,309.55 L161.9,309.84 L162.3,310.21 L162.7,310.58 L163.1,310.89 L163.5,311.08 L163.9,311.05 L164.3,311.08 L164.7,310.94 L165.1,310.85 L165.5,310.73 L165.9,310.61 L166.3,310.65 L166.7,310.83 L167.1,311.05 L167.5,311.18 L167.9,310.99 L168.3,310.96 L168.7,310.98 L169.1,311.01 L169.5,310.89 L169.9,310.85 L170.3,310.52 L170.7,310.19 L171.1,309.96 L171.5,309.91 L171.9,310.06 L172.3,310.35 L172.7,310.69 L173.1,310.84 L173.5,310.92 L173.9,310.82 L174.3,310.77 L174.7,310.44 L175.1,310.12 L175.5,309.93 L175.9,309.93 L176.3,310.12 L176.7,310.44 L177.1,310.77 L177.5,311.04 L177.9,311.2 L178.3,311.2 L178.7,311.25 L179.1,310.8 L179.5,310.86 L179.9,310.84 L180.3,310.47 L180.7,310.18 L181.1,310.11 L181.5,310.31 L181.9,310.66 L182.3,311 L182.7,311.17 L183.1,311.12 L183.5,310.99 L183.9,310.99 L184.3,311.2 L184.7,311 L185.1,310.86 L185.5,310.86 L185.9,310.97 L186.3,311.26 L186.7,311.09 L187.1,311.23 L187.5,311.03 L187.9,310.76 L188.3,310.51 L188.7,310.4 L189.1,310.51 L189.5,310.76 L189.9,310.95 L190.3,311.05 L190.7,311.05 L191.1,311.17 L191.5,311.08 L191.9,310.88 L192.3,310.55 L192.7,310.27 L193.1,310.21 L193.5,310.39 L193.9,310.72 L194.3,310.96 L194.7,310.94 L195.1,310.9 L195.1,311.4 Z" fill="#b3132f" stroke="none" stroke-width="1"/>
<line x1="41.2" y1="311.65" x2="195.6" y2="311.65" stroke="#222" stroke-width="0.6"/>
<path d="M41.7,331.6 L41.7,331 L42.1,330.85 L42.5,330.8 L42.9,330.85 L43.3,331 L43.7,331.13 L44.1,330.9 L44.5,330.71 L44.9,330.6 L45.3,330.64 L45.7,330.8 L46.1,331.02 L46.5,331.12 L46.9,331.4 L47.3,331.28 L47.7,331.14 L48.1,331.39 L48.5,331.03 L48.9,331.05 L49.3,331.04 L49.7,330.93 L50.1,330.9 L50.5,330.97 L50.9,331.11 L51.3,331.27 L51.7,331.29 L52.1,331.49 L52.5,331.39 L52.9,331.28 L53.3,331.25 L53.7,331.22 L54.1,331.04 L54.5,330.88 L54.9,330.8 L55.3,330.83 L55.7,330.96 L56.1,331.08 L56.5,331.22 L56.9,331.18 L57.3,331.41 L57.7,331 L58.1,331.07 L58.5,331.44 L58.9,331.33 L59.3,331.14 L59.7,331.14 L60.1,331.03 L60.5,331.29 L60.9,331.08 L61.3,331.16 L61.7,331.31 L62.1,331 L62.5,330.5 L62.9,329.85 L63.3,329.19 L63.7,328.72 L64.1,328.61 L64.5,328.92 L64.9,329.51 L65.3,330.18 L65.7,330.77 L66.1,331.18 L66.5,331.15 L66.9,331.16 L67.3,331.31 L67.7,331.28 L68.1,331.25 L68.5,331.11 L68.9,331.13 L69.3,330.96 L69.7,330.83 L70.1,330.8 L70.5,330.88 L70.9,331.04 L71.3,331.01 L71.7,331.2 L72.1,331.3 L72.5,331.41 L72.9,331.25 L73.3,331.01 L73.7,331.11 L74.1,331.23 L74.5,331.07 L74.9,331.13 L75.3,330.96 L75.7,330.83 L76.1,330.8 L76.5,330.88 L76.9,331.04 L77.3,331.22 L77.7,331.02 L78.1,331.49 L78.5,331.11 L78.9,331.09 L79.3,331.06 L79.7,331.13 L80.1,331.1 L80.5,331.24 L80.9,331.13 L81.3,330.96 L81.7,330.83 L82.1,330.8 L82.5,330.88 L82.9,331.04 L83.3,331.22 L83.7,331.26 L84.1,331.32 L84.5,331.33 L84.9,331.23 L85.3,331.19 L85.7,331.19 L86.1,331.27 L86.5,331.01 L86.9,329.31 L87.3,326.16 L87.7,323.72 L88.1,324.64 L88.5,323.31 L88.9,320 L89.3,323.31 L89.7,328.58 L90.1,328.57 L90.5,328.1 L90.9,328.57 L91.3,329.64 L91.7,330.64 L92.1,330.26 L92.5,330.1 L92.9,330.26 L93.3,330.64 L93.7,331.05 L94.1,331.35 L94.5,331.42 L94.9,331.24 L95.3,331.4 L95.7,331.14 L96.1,330.75 L96.5,330.34 L96.9,330.11 L97.3,330.19 L97.7,330.53 L98.1,330.95 L98.5,331.29 L98.9,331.41 L99.3,331.45 L99.7,331.05 L100.1,331.24 L100.5,331.4 L100.9,331.2 L101.3,331.09 L101.7,331.49 L102.1,331.49 L102.5,331.39 L102.9,331.14 L103.3,330.89 L103.7,330.66 L104.1,330.61 L104.5,330.76 L104.9,331.03 L105.3,331.01 L105.7,331.1 L106.1,331.24 L106.5,331.39 L106.9,331.18 L107.3,331.3 L107.7,331.21 L108.1,331.34 L108.5,331.18 L108.9,331.25 L109.3,331.03 L109.7,330.85 L110.1,330.81 L110.5,330.93 L110.9,331.07 L111.3,331.34 L111.7,331.03 L112.1,331.13 L112.5,331.29 L112.9,331.37 L113.3,331.49 L113.7,331.06 L114.1,331.14 L114.5,330.93 L114.9,330.81 L115.3,330.85 L115.7,331.03 L116.1,331.07 L116.5,331.01 L116.9,331.15 L117.3,331.25 L117.7,331.31 L118.1,331.33 L118.1,331.6 Z" fill="#b3132f" stroke="none" stroke-width="1"/>
<path d="M119.1,331.6 L119.1,331.27 L119.5,331.22 L119.9,331.04 L120.3,330.96 L120.7,330.83 L121.1,330.8 L121.5,330.88 L121.9,331.04 L122.3,331.19 L122.7,331.1 L123.1,331.41 L123.5,331.22 L123.9,330.93 L124.3,330.53 L124.7,330.06 L125.1,329.58 L125.5,329.19 L125.9,329.01 L126.3,329.07 L126.7,329.36 L127.1,329.81 L127.5,330.3 L127.9,330.75 L128.3,330.63 L128.7,330.45 L129.1,330.41 L129.5,330.53 L129.9,330.76 L130.3,331.03 L130.7,331.08 L131.1,331.24 L131.5,331.18 L131.9,331.25 L132.3,331.17 L132.7,331.27 L133.1,331.36 L133.5,331 L133.9,331 L134.3,331.08 L134.7,330.89 L135.1,330.55 L135.5,330.26 L135.9,330.11 L136.3,330.16 L136.7,330.39 L137.1,330.72 L137.5,331.05 L137.9,331.3 L138.3,331.02 L138.7,331.08 L139.1,331.36 L139.5,331.16 L139.9,330.9 L140.3,330.63 L140.7,330.45 L141.1,330.41 L141.5,330.53 L141.9,330.76 L142.3,331.03 L142.7,331.27 L143.1,331.43 L143.5,331.33 L143.9,331.02 L144.3,331.12 L144.7,331.13 L145.1,330.9 L145.5,330.71 L145.9,330.6 L146.3,330.64 L146.7,330.8 L147.1,331.02 L147.5,331.23 L147.9,331.39 L148.3,331.13 L148.7,330.89 L149.1,330.55 L149.5,330.26 L149.9,330.11 L150.3,330.16 L150.7,330.39 L151.1,330.72 L151.5,331.05 L151.9,331.01 L152.3,330.31 L152.7,329.36 L153.1,328.47 L153.5,328.1 L153.9,328.47 L154.3,328.45 L154.7,325.77 L155.1,325 L155.5,327.04 L155.9,329.26 L156.3,328.68 L156.7,328.68 L157.1,329.26 L157.5,330.1 L157.9,330.83 L158.3,331.28 L158.7,331.2 L159.1,331.03 L159.5,330.76 L159.9,330.61 L160.3,330.66 L160.7,330.89 L161.1,331.07 L161.5,331.39 L161.9,331.42 L162.3,331.05 L162.7,331.09 L163.1,331.38 L163.5,331.41 L163.9,331.13 L164.3,331.03 L164.7,330.85 L165.1,330.81 L165.5,330.93 L165.9,331.14 L166.3,331.29 L166.7,331.45 L167.1,331.48 L167.5,331.02 L167.9,331.38 L168.3,331.15 L168.7,331.29 L169.1,331.03 L169.5,330.76 L169.9,330.61 L170.3,330.66 L170.7,330.89 L171.1,331.17 L171.5,331.39 L171.9,331.22 L172.3,331.07 L172.7,331.19 L173.1,331.36 L173.5,331.04 L173.9,331.25 L174.3,331.03 L174.7,330.85 L175.1,330.81 L175.5,330.93 L175.9,331.14 L176.3,331.32 L176.7,331.21 L177.1,331.43 L177.5,331.32 L177.9,331.05 L178.3,331.01 L178.7,331.17 L179.1,331.03 L179.5,330.76 L179.9,330.61 L180.3,330.66 L180.7,330.89 L181.1,331.04 L181.5,331.15 L181.9,331.02 L182.3,331.49 L182.7,331.18 L183.1,331.26 L183.5,331.13 L183.9,331.34 L184.3,331 L184.7,331.46 L185.1,331.23 L185.5,331.13 L185.9,331.05 L186.3,331.13 L186.7,331.15 L187.1,331.1 L187.5,330.93 L187.9,330.81 L188.3,330.85 L188.7,331.03 L189.1,331.06 L189.5,331.29 L189.9,331.1 L190.3,331.07 L190.7,331.21 L191.1,331.19 L191.5,331.31 L191.9,331.21 L192.3,331.1 L192.7,330.94 L193.1,330.9 L193.5,331 L193.9,331.06 L194.3,331.14 L194.7,331.31 L195.1,331.13 L195.1,331.6 Z" fill="#b3132f" stroke="none" stroke-width="1"/>
<line x1="41.2" y1="331.85" x2="195.6" y2="331.85" stroke="#222" stroke-width="0.6"/>
<path d="M41.7,352.4 L41.7,351.82 L42.1,351.7 L42.5,351.51 L42.9,351.4 L43.3,351.44 L43.7,351.6 L44.1,351.82 L44.5,351.65 L44.9,351.37 L45.3,351.11 L45.7,350.94 L46.1,350.9 L46.5,351.01 L46.9,351.23 L47.3,351.51 L47.7,351.79 L48.1,351.83 L48.5,351.96 L48.9,351.7 L49.3,351.43 L49.7,351.25 L50.1,351.21 L50.5,351.33 L50.9,351.56 L51.3,351.83 L51.7,351.85 L52.1,351.7 L52.5,351.51 L52.9,351.4 L53.3,351.44 L53.7,351.6 L54.1,351.82 L54.5,352.03 L54.9,351.8 L55.3,351.96 L55.7,352.21 L56.1,351.85 L56.5,351.9 L56.9,351.64 L57.3,351.35 L57.7,351.15 L58.1,351.11 L58.5,351.24 L58.9,351.49 L59.3,351.79 L59.7,352.04 L60.1,351.92 L60.5,351.94 L60.9,351.82 L61.3,351.6 L61.7,351.44 L62.1,351.4 L62.5,351.51 L62.9,351.7 L63.3,351.93 L63.7,351.86 L64.1,351.85 L64.5,351.85 L64.9,351.52 L65.3,351.19 L65.7,350.96 L66.1,350.91 L66.5,351.06 L66.9,351.35 L67.3,351.69 L67.7,351.69 L68.1,351.35 L68.5,351.06 L68.9,350.91 L69.3,350.96 L69.7,351.19 L70.1,351.52 L70.5,351.85 L70.9,352.04 L71.3,351.97 L71.7,351.93 L72.1,351.7 L72.5,351.51 L72.9,351.4 L73.3,351.44 L73.7,351.6 L74.1,351.82 L74.5,351.89 L74.9,351.94 L75.3,351.85 L75.7,351.83 L76.1,351.56 L76.5,351.33 L76.9,351.21 L77.3,351.25 L77.7,351.43 L78.1,351.7 L78.5,351.96 L78.9,351.82 L79.3,351.6 L79.7,351.44 L80.1,351.4 L80.5,351.51 L80.9,351.7 L81.3,351.93 L81.7,352.12 L82.1,352.12 L82.5,351.96 L82.9,351.7 L83.3,351.43 L83.7,351.25 L84.1,351.21 L84.5,351.33 L84.9,351.56 L85.3,351.83 L85.7,351.89 L86.1,352.14 L86.5,351.31 L86.9,349.33 L87.3,346.45 L87.7,344.49 L88.1,345.21 L88.5,342.14 L88.9,340.26 L89.3,345.07 L89.7,349.51 L90.1,348.54 L90.5,348.54 L90.9,349.51 L91.3,350.79 L91.7,351.44 L92.1,351.06 L92.5,350.9 L92.9,351.06 L93.3,351.44 L93.7,351.85 L94.1,351.72 L94.5,351.39 L94.9,351.21 L95.3,351.27 L95.7,351.55 L96.1,351.88 L96.5,352.08 L96.9,351.86 L97.3,352.24 L97.7,352.01 L98.1,352.1 L98.5,352.04 L98.9,351.97 L99.3,351.69 L99.7,351.46 L100.1,351.41 L100.5,351.56 L100.9,351.83 L101.3,352.02 L101.7,352.23 L102.1,352.27 L102.5,352.28 L102.9,352.22 L103.3,352.23 L103.7,351.98 L104.1,351.66 L104.5,351.31 L104.9,351.11 L105.3,351.18 L105.7,351.47 L106.1,351.84 L106.5,352.13 L106.9,352 L107.3,351.99 L107.7,351.9 L108.1,351.83 L108.5,351.56 L108.9,351.41 L109.3,351.46 L109.7,351.69 L110.1,351.97 L110.5,352.1 L110.9,351.88 L111.3,351.55 L111.7,351.27 L112.1,351.21 L112.5,351.39 L112.9,351.72 L113.3,352.03 L113.7,352.04 L114.1,351.94 L114.5,351.73 L114.9,351.61 L115.3,351.65 L115.7,351.83 L116.1,351.82 L116.5,351.94 L116.9,352.08 L117.3,352.04 L117.7,352.01 L118.1,352.27 L118.1,352.4 Z" fill="#b3132f" stroke="none" stroke-width="1"/>
<path d="M119.1,352.4 L119.1,351 L119.5,350.61 L119.9,350.41 L120.3,350.48 L120.7,350.79 L121.1,351.23 L121.5,351.5 L121.9,351.16 L122.3,350.85 L122.7,350.65 L123.1,350.61 L123.5,350.73 L123.9,351 L124.3,351.33 L124.7,351.66 L125.1,351.85 L125.5,351.96 L125.9,351.7 L126.3,351.43 L126.7,351.25 L127.1,351.21 L127.5,351.33 L127.9,351.56 L128.3,351.83 L128.7,351.69 L129.1,351.35 L129.5,351.06 L129.9,350.91 L130.3,350.96 L130.7,351.19 L131.1,351.52 L131.5,351.85 L131.9,352.1 L132.3,352.14 L132.7,351.99 L133.1,352.2 L133.5,351.95 L133.9,351.82 L134.3,351.6 L134.7,351.44 L135.1,351.4 L135.5,351.51 L135.9,351.7 L136.3,351.93 L136.7,351.83 L137.1,351.56 L137.5,351.33 L137.9,351.21 L138.3,351.25 L138.7,351.43 L139.1,351.7 L139.5,351.96 L139.9,351.95 L140.3,351.96 L140.7,351.93 L141.1,351.7 L141.5,351.51 L141.9,351.4 L142.3,351.44 L142.7,351.6 L143.1,351.82 L143.5,351.85 L143.9,351.52 L144.3,351.19 L144.7,350.96 L145.1,350.91 L145.5,351.06 L145.9,351.35 L146.3,351.69 L146.7,351.98 L147.1,352.16 L147.5,351.95 L147.9,351.7 L148.3,351.43 L148.7,351.25 L149.1,351.21 L149.5,351.33 L149.9,351.56 L150.3,351.83 L150.7,352.07 L151.1,352.06 L151.5,351.82 L151.9,352.06 L152.3,351.82 L152.7,351.72 L153.1,350.48 L153.5,348.68 L153.9,347.46 L154.3,347.9 L154.7,346.84 L155.1,343.2 L155.5,344.62 L155.9,349.04 L156.3,349.48 L156.7,349.48 L157.1,350.06 L157.5,350.9 L157.9,351.63 L158.3,351.81 L158.7,351.8 L159.1,351.7 L159.5,351.51 L159.9,351.4 L160.3,351.44 L160.7,351.6 L161.1,351.82 L161.5,352.03 L161.9,352.04 L162.3,352.06 L162.7,351.99 L163.1,352.1 L163.5,351.83 L163.9,351.52 L164.3,351.19 L164.7,350.96 L165.1,350.91 L165.5,351.06 L165.9,351.35 L166.3,351.69 L166.7,351.95 L167.1,351.95 L167.5,352.19 L167.9,352.16 L168.3,352.07 L168.7,351.83 L169.1,351.56 L169.5,351.33 L169.9,351.21 L170.3,351.25 L170.7,351.43 L171.1,351.7 L171.5,351.81 L171.9,352.02 L172.3,351.99 L172.7,351.81 L173.1,351.35 L173.5,350.8 L173.9,350.27 L174.3,349.94 L174.7,349.94 L175.1,350.27 L175.5,350.8 L175.9,351.23 L176.3,350.79 L176.7,350.48 L177.1,350.41 L177.5,350.61 L177.9,351 L178.3,351.44 L178.7,350.88 L179.1,350.31 L179.5,349.9 L179.9,349.81 L180.3,350.07 L180.7,350.59 L181.1,351.17 L181.5,351.68 L181.9,351.52 L182.3,351.19 L182.7,350.96 L183.1,350.91 L183.5,351.06 L183.9,351.35 L184.3,351.69 L184.7,351.95 L185.1,352.1 L185.5,351.96 L185.9,351.7 L186.3,351.43 L186.7,351.25 L187.1,351.21 L187.5,351.33 L187.9,351.56 L188.3,351.83 L188.7,351.92 L189.1,351.97 L189.5,351.75 L189.9,351.39 L190.3,351.14 L190.7,351.14 L191.1,351.39 L191.5,351.75 L191.9,351.97 L192.3,352.13 L192.7,352.15 L193.1,351.94 L193.5,351.73 L193.9,351.61 L194.3,351.65 L194.7,351.83 L195.1,352.05 L195.1,352.4 Z" fill="#b3132f" stroke="none" stroke-width="1"/>
<line x1="41.2" y1="352.65" x2="195.6" y2="352.65" stroke="#222" stroke-width="0.6"/>
<line x1="41.2" y1="374.2" x2="195.6" y2="374.2" stroke="#333" stroke-width="0.6"/>
<rect x="88.65" y="362.2" width="0.7" height="12" fill="#2c4f8e"/>
<rect x="87.8" y="370.2" width="1.2" height="4" fill="#2c4f8e"/>
<rect x="89.3" y="371.2" width="1" height="3" fill="#2c4f8e"/>
<rect x="89.12" y="372.91" width="0.45" height="1.29" fill="#2c4f8e"/>
<rect x="98.01" y="372.69" width="0.45" height="1.51" fill="#2c4f8e"/>
<rect x="113.47" y="373.02" width="0.45" height="1.18" fill="#2c4f8e"/>
<rect x="77.42" y="373.5" width="0.45" height="0.7" fill="#2c4f8e"/>
<rect x="42.77" y="373.54" width="0.45" height="0.66" fill="#2c4f8e"/>
<rect x="99.97" y="373.61" width="0.45" height="0.59" fill="#2c4f8e"/>
<rect x="88.7" y="373.65" width="0.45" height="0.55" fill="#2c4f8e"/>
<rect x="57.69" y="373.54" width="0.45" height="0.66" fill="#2c4f8e"/>
<rect x="63.76" y="372.65" width="0.45" height="1.55" fill="#2c4f8e"/>
<rect x="57.34" y="372.67" width="0.45" height="1.53" fill="#2c4f8e"/>
<rect x="109.7" y="373.44" width="0.45" height="0.76" fill="#2c4f8e"/>
<rect x="52.85" y="373.72" width="0.45" height="0.48" fill="#2c4f8e"/>
<rect x="42.03" y="372.99" width="0.45" height="1.21" fill="#2c4f8e"/>
<rect x="103.98" y="373.22" width="0.45" height="0.98" fill="#2c4f8e"/>
<rect x="95.33" y="373.73" width="0.45" height="0.47" fill="#2c4f8e"/>
<rect x="98.76" y="372.79" width="0.45" height="1.41" fill="#2c4f8e"/>
<rect x="69.61" y="373.11" width="0.45" height="1.09" fill="#2c4f8e"/>
<rect x="55.52" y="372.65" width="0.45" height="1.55" fill="#2c4f8e"/>
<rect x="112.43" y="372.67" width="0.45" height="1.53" fill="#2c4f8e"/>
<rect x="81.65" y="372.87" width="0.45" height="1.33" fill="#2c4f8e"/>
<rect x="102.36" y="372.77" width="0.45" height="1.43" fill="#2c4f8e"/>
<rect x="48.7" y="373.39" width="0.45" height="0.81" fill="#2c4f8e"/>
<rect x="67.61" y="372.69" width="0.45" height="1.51" fill="#2c4f8e"/>
<rect x="65.85" y="373.59" width="0.45" height="0.61" fill="#2c4f8e"/>
<rect x="94.15" y="372.6" width="0.45" height="1.6" fill="#2c4f8e"/>
<rect x="116.76" y="373.16" width="0.45" height="1.04" fill="#2c4f8e"/>
<rect x="86.92" y="372.81" width="0.45" height="1.39" fill="#2c4f8e"/>
<rect x="46.01" y="372.7" width="0.45" height="1.5" fill="#2c4f8e"/>
<rect x="105.5" y="373.64" width="0.45" height="0.56" fill="#2c4f8e"/>
<rect x="89.69" y="372.85" width="0.45" height="1.35" fill="#2c4f8e"/>
<rect x="53.12" y="372.79" width="0.45" height="1.41" fill="#2c4f8e"/>
<rect x="117.72" y="372.78" width="0.45" height="1.42" fill="#2c4f8e"/>
<rect x="78.88" y="372.92" width="0.45" height="1.28" fill="#2c4f8e"/>
<rect x="72.46" y="373.62" width="0.45" height="0.58" fill="#2c4f8e"/>
<rect x="114.72" y="373.05" width="0.45" height="1.15" fill="#2c4f8e"/>
<rect x="48.55" y="373.47" width="0.45" height="0.73" fill="#2c4f8e"/>
<rect x="69.24" y="372.86" width="0.45" height="1.34" fill="#2c4f8e"/>
<rect x="92.24" y="372.89" width="0.45" height="1.31" fill="#2c4f8e"/>
<rect x="63.12" y="373.22" width="0.45" height="0.98" fill="#2c4f8e"/>
<rect x="64.11" y="372.67" width="0.45" height="1.53" fill="#2c4f8e"/>
<rect x="42.66" y="373.14" width="0.45" height="1.06" fill="#2c4f8e"/>
<rect x="76.96" y="372.82" width="0.45" height="1.38" fill="#2c4f8e"/>
<rect x="68.21" y="373.03" width="0.45" height="1.17" fill="#2c4f8e"/>
<rect x="68.38" y="372.79" width="0.45" height="1.41" fill="#2c4f8e"/>
<rect x="115.96" y="372.65" width="0.45" height="1.55" fill="#2c4f8e"/>
<rect x="54.4" y="372.8" width="0.45" height="1.4" fill="#2c4f8e"/>
<rect x="94.32" y="372.94" width="0.45" height="1.26" fill="#2c4f8e"/>
<rect x="101.08" y="373.1" width="0.45" height="1.1" fill="#2c4f8e"/>
<rect x="89.18" y="372.87" width="0.45" height="1.33" fill="#2c4f8e"/>
<rect x="43.87" y="373.61" width="0.45" height="0.59" fill="#2c4f8e"/>
<rect x="58.42" y="372.98" width="0.45" height="1.22" fill="#2c4f8e"/>
<rect x="77.62" y="373.53" width="0.45" height="0.67" fill="#2c4f8e"/>
<rect x="65.89" y="373.58" width="0.45" height="0.62" fill="#2c4f8e"/>
<rect x="77.14" y="373.34" width="0.45" height="0.86" fill="#2c4f8e"/>
<rect x="59.85" y="372.72" width="0.45" height="1.48" fill="#2c4f8e"/>
<rect x="62.94" y="373.31" width="0.45" height="0.89" fill="#2c4f8e"/>
<rect x="70.19" y="373.76" width="0.45" height="0.44" fill="#2c4f8e"/>
<rect x="83.21" y="373.39" width="0.45" height="0.81" fill="#2c4f8e"/>
<rect x="103.98" y="373.3" width="0.45" height="0.9" fill="#2c4f8e"/>
<rect x="69.85" y="373.63" width="0.45" height="0.57" fill="#2c4f8e"/>
<rect x="114.52" y="372.64" width="0.45" height="1.56" fill="#2c4f8e"/>
<rect x="109.68" y="373.8" width="0.45" height="0.4" fill="#2c4f8e"/>
<rect x="88.53" y="373.63" width="0.45" height="0.57" fill="#2c4f8e"/>
<rect x="70.34" y="373.28" width="0.45" height="0.92" fill="#2c4f8e"/>
<rect x="115.68" y="373.34" width="0.45" height="0.86" fill="#2c4f8e"/>
<rect x="87.06" y="373.49" width="0.45" height="0.71" fill="#2c4f8e"/>
<rect x="73.35" y="373.42" width="0.45" height="0.78" fill="#2c4f8e"/>
<rect x="63.54" y="373.23" width="0.45" height="0.97" fill="#2c4f8e"/>
<rect x="75.48" y="373.45" width="0.45" height="0.75" fill="#2c4f8e"/>
<rect x="42.78" y="373.16" width="0.45" height="1.04" fill="#2c4f8e"/>
<rect x="154.3" y="365.2" width="0.6" height="9" fill="#2c4f8e"/>
<rect x="154.8" y="370.2" width="1" height="4" fill="#2c4f8e"/>
<rect x="184.15" y="368.2" width="0.5" height="6" fill="#2c4f8e"/>
<rect x="187" y="365.2" width="0.6" height="9" fill="#2c4f8e"/>
<rect x="186.1" y="371.2" width="0.8" height="3" fill="#2c4f8e"/>
<rect x="192.75" y="371.2" width="0.5" height="3" fill="#2c4f8e"/>
<rect x="179.31" y="371.73" width="0.45" height="2.47" fill="#2c4f8e"/>
<rect x="121.46" y="372.78" width="0.45" height="1.42" fill="#2c4f8e"/>
<rect x="187.29" y="373.55" width="0.45" height="0.65" fill="#2c4f8e"/>
<rect x="160.33" y="372.54" width="0.45" height="1.66" fill="#2c4f8e"/>
<rect x="140.38" y="371.78" width="0.45" height="2.42" fill="#2c4f8e"/>
<rect x="179.46" y="373.49" width="0.45" height="0.71" fill="#2c4f8e"/>
<rect x="119.41" y="371.88" width="0.45" height="2.32" fill="#2c4f8e"/>
<rect x="193.45" y="371.88" width="0.45" height="2.32" fill="#2c4f8e"/>
<rect x="159.99" y="372.31" width="0.45" height="1.89" fill="#2c4f8e"/>
<rect x="171.42" y="371.67" width="0.45" height="2.53" fill="#2c4f8e"/>
<rect x="146.54" y="373.43" width="0.45" height="0.77" fill="#2c4f8e"/>
<rect x="142.03" y="372.47" width="0.45" height="1.73" fill="#2c4f8e"/>
<rect x="144.79" y="373.12" width="0.45" height="1.08" fill="#2c4f8e"/>
<rect x="143.12" y="372.74" width="0.45" height="1.46" fill="#2c4f8e"/>
<rect x="192.9" y="373.75" width="0.45" height="0.45" fill="#2c4f8e"/>
<rect x="120.64" y="372.07" width="0.45" height="2.13" fill="#2c4f8e"/>
<rect x="119.96" y="373.7" width="0.45" height="0.5" fill="#2c4f8e"/>
<rect x="134.11" y="372.14" width="0.45" height="2.06" fill="#2c4f8e"/>
<rect x="145.28" y="373.02" width="0.45" height="1.18" fill="#2c4f8e"/>
<rect x="127.43" y="372.15" width="0.45" height="2.05" fill="#2c4f8e"/>
<rect x="122.04" y="371.72" width="0.45" height="2.48" fill="#2c4f8e"/>
<rect x="165.39" y="371.78" width="0.45" height="2.42" fill="#2c4f8e"/>
<rect x="160.43" y="373.11" width="0.45" height="1.09" fill="#2c4f8e"/>
<rect x="125.18" y="373.47" width="0.45" height="0.73" fill="#2c4f8e"/>
<rect x="131.47" y="373.69" width="0.45" height="0.51" fill="#2c4f8e"/>
<rect x="149.92" y="373.28" width="0.45" height="0.92" fill="#2c4f8e"/>
<rect x="153.68" y="372.87" width="0.45" height="1.33" fill="#2c4f8e"/>
<rect x="121.75" y="372.71" width="0.45" height="1.49" fill="#2c4f8e"/>
<rect x="174.52" y="371.71" width="0.45" height="2.49" fill="#2c4f8e"/>
<rect x="127.33" y="372.84" width="0.45" height="1.36" fill="#2c4f8e"/>
<rect x="141.53" y="372.8" width="0.45" height="1.4" fill="#2c4f8e"/>
<rect x="192.96" y="372.8" width="0.45" height="1.4" fill="#2c4f8e"/>
<rect x="155.44" y="373.16" width="0.45" height="1.04" fill="#2c4f8e"/>
<rect x="147.74" y="371.63" width="0.45" height="2.57" fill="#2c4f8e"/>
<rect x="156.97" y="373.06" width="0.45" height="1.14" fill="#2c4f8e"/>
<rect x="178.32" y="371.89" width="0.45" height="2.31" fill="#2c4f8e"/>
<rect x="177.78" y="372.27" width="0.45" height="1.93" fill="#2c4f8e"/>
<rect x="146.71" y="372.25" width="0.45" height="1.95" fill="#2c4f8e"/>
<rect x="177.39" y="372.28" width="0.45" height="1.92" fill="#2c4f8e"/>
<rect x="168.33" y="372.52" width="0.45" height="1.68" fill="#2c4f8e"/>
<rect x="138.2" y="372.32" width="0.45" height="1.88" fill="#2c4f8e"/>
<rect x="168.16" y="372.05" width="0.45" height="2.15" fill="#2c4f8e"/>
<rect x="174.98" y="371.98" width="0.45" height="2.22" fill="#2c4f8e"/>
<rect x="184.95" y="372.29" width="0.45" height="1.91" fill="#2c4f8e"/>
<rect x="158.39" y="372.64" width="0.45" height="1.56" fill="#2c4f8e"/>
<rect x="190.05" y="372.75" width="0.45" height="1.45" fill="#2c4f8e"/>
<rect x="174.42" y="373.42" width="0.45" height="0.78" fill="#2c4f8e"/>
<rect x="169.52" y="372.87" width="0.45" height="1.33" fill="#2c4f8e"/>
<rect x="167.36" y="372.22" width="0.45" height="1.98" fill="#2c4f8e"/>
<rect x="152.58" y="372.37" width="0.45" height="1.83" fill="#2c4f8e"/>
<rect x="166.91" y="373.71" width="0.45" height="0.49" fill="#2c4f8e"/>
<rect x="123.36" y="373.51" width="0.45" height="0.69" fill="#2c4f8e"/>
<rect x="133.87" y="373.72" width="0.45" height="0.48" fill="#2c4f8e"/>
<rect x="165.47" y="372.5" width="0.45" height="1.7" fill="#2c4f8e"/>
<rect x="119.32" y="372.91" width="0.45" height="1.29" fill="#2c4f8e"/>
<rect x="127.96" y="371.97" width="0.45" height="2.23" fill="#2c4f8e"/>
<rect x="165.6" y="373.59" width="0.45" height="0.61" fill="#2c4f8e"/>
<rect x="163.13" y="371.69" width="0.45" height="2.51" fill="#2c4f8e"/>
<rect x="180.66" y="372.39" width="0.45" height="1.81" fill="#2c4f8e"/>
<rect x="164.27" y="372.56" width="0.45" height="1.64" fill="#2c4f8e"/>
<rect x="165.23" y="373.03" width="0.45" height="1.17" fill="#2c4f8e"/>
<rect x="127.42" y="372.56" width="0.45" height="1.64" fill="#2c4f8e"/>
<rect x="166.8" y="371.84" width="0.45" height="2.36" fill="#2c4f8e"/>
<rect x="136.36" y="373.16" width="0.45" height="1.04" fill="#2c4f8e"/>
<rect x="191.84" y="371.79" width="0.45" height="2.41" fill="#2c4f8e"/>
<rect x="193.34" y="372.71" width="0.45" height="1.49" fill="#2c4f8e"/>
<rect x="193.59" y="372.72" width="0.45" height="1.48" fill="#2c4f8e"/>
<rect x="128.48" y="372.43" width="0.45" height="1.77" fill="#2c4f8e"/>
<rect x="178.29" y="371.98" width="0.45" height="2.22" fill="#2c4f8e"/>
<rect x="139.95" y="371.74" width="0.45" height="2.46" fill="#2c4f8e"/>
<rect x="123.75" y="371.37" width="0.5" height="2.83" fill="#2c4f8e"/>
<rect x="126.75" y="372.28" width="0.5" height="1.92" fill="#2c4f8e"/>
<rect x="141.75" y="372.24" width="0.5" height="1.96" fill="#2c4f8e"/>
<rect x="145.75" y="372.44" width="0.5" height="1.76" fill="#2c4f8e"/>
<rect x="160.75" y="371.02" width="0.5" height="3.18" fill="#2c4f8e"/>
<rect x="165.75" y="372.2" width="0.5" height="2" fill="#2c4f8e"/>
<rect x="175.75" y="371.67" width="0.5" height="2.53" fill="#2c4f8e"/>
<rect x="178.75" y="371.89" width="0.5" height="2.31" fill="#2c4f8e"/>
<rect x="189.75" y="371.6" width="0.5" height="2.6" fill="#2c4f8e"/>
<line x1="41.2" y1="353.6" x2="195.6" y2="353.6" stroke="#222" stroke-width="1"/>
<line x1="41.2" y1="384.6" x2="195.6" y2="384.6" stroke="#333" stroke-width="1.2"/>
<line x1="41.5" y1="387.7" x2="60.5" y2="387.7" stroke="#2c4f8e" stroke-width="0.5" stroke-dasharray="1 0.6"/>
<rect x="41.4" y="386.5" width="1.6" height="2.4" fill="#2c4f8e"/>
<rect x="44.7" y="386.5" width="1.6" height="2.4" fill="#2c4f8e"/>
<rect x="47.7" y="386.5" width="1.6" height="2.4" fill="#2c4f8e"/>
<line x1="119.5" y1="387.3" x2="187" y2="387.3" stroke="#2c4f8e" stroke-width="0.5" stroke-dasharray="1.1 0.7"/>
<rect x="171.3" y="386.3" width="1" height="2" fill="#2c4f8e"/>
<path d="M185.5,386.1 L187.5,387.3 L185.5,388.5 Z" fill="#2c4f8e" stroke="none" stroke-width="1"/>
<text x="79.6" y="396.8" font-size="5.6" text-anchor="middle" fill="#222">Il10ra</text>
<text x="157" y="396.6" font-size="5.6" text-anchor="middle" fill="#222">Sh3bp5</text>
<text x="42.8" y="299.4" font-size="5" fill="#222" textLength="23.7" lengthAdjust="spacingAndGlyphs">HPC7_EV</text>
<text x="42.8" y="318.4" font-size="5" fill="#222" textLength="41" lengthAdjust="spacingAndGlyphs">HPC7_WT_Snai1</text>
<text x="42.8" y="339.1" font-size="5" fill="#222" textLength="41.62" lengthAdjust="spacingAndGlyphs">HPC7_Mut_Snai1</text>
<text x="42.8" y="359.6" font-size="5" fill="#222" textLength="13.87" lengthAdjust="spacingAndGlyphs">HPC7</text>
<text x="120.4" y="299.4" font-size="5" fill="#222" textLength="23.7" lengthAdjust="spacingAndGlyphs">HPC7_EV</text>
<text x="120.4" y="318.4" font-size="5" fill="#222" textLength="41" lengthAdjust="spacingAndGlyphs">HPC7_WT_Snai1</text>
<text x="120.4" y="339.1" font-size="5" fill="#222" textLength="41.62" lengthAdjust="spacingAndGlyphs">HPC7_Mut_Snai1</text>
<text x="120.4" y="359.6" font-size="5" fill="#222" textLength="13.87" lengthAdjust="spacingAndGlyphs">HPC7</text>
<rect x="41.2" y="292.8" width="154.4" height="107.4" fill="none" stroke="#222" stroke-width="1"/>
<line x1="118.6" y1="292.8" x2="118.6" y2="400.2" stroke="#222" stroke-width="1"/>
<text x="28.8" y="326.4" font-size="6.4" text-anchor="middle" fill="#b8203f" textLength="17.7" lengthAdjust="spacingAndGlyphs" transform="rotate(-90 28.8 326.4)">SNAI1</text>
<text x="35.9" y="326.2" font-size="6.3" text-anchor="middle" fill="#b8203f" textLength="35" lengthAdjust="spacingAndGlyphs" transform="rotate(-90 35.9 326.2)">binding site</text>
<text x="28.8" y="367.2" font-size="6.4" text-anchor="middle" fill="#3d5d9c" textLength="21.5" lengthAdjust="spacingAndGlyphs" transform="rotate(-90 28.8 367.2)">GFI1B</text>
<text x="35.9" y="368.8" font-size="6.3" text-anchor="middle" fill="#3d5d9c" textLength="34.3" lengthAdjust="spacingAndGlyphs" transform="rotate(-90 35.9 368.8)">binding site</text>
<text x="7.2" y="425" font-size="12" font-weight="bold">I</text>
<text x="94.2" y="420.8" font-size="6.3" font-weight="bold" textLength="80.9" lengthAdjust="spacingAndGlyphs">SNAI1 “promoter” targets</text>
<line x1="65.8" y1="425.3" x2="203.9" y2="425.3" stroke="#111" stroke-width="1"/>
<text x="95" y="548.6" font-size="6.3" font-weight="bold" textLength="79.7" lengthAdjust="spacingAndGlyphs">SNAI1 “enhancer” targets</text>
<line x1="65.7" y1="552.9" x2="203.3" y2="552.9" stroke="#111" stroke-width="1"/>
<text x="23" y="469.6" font-size="7.3" text-anchor="middle" fill="#1a1a1a" textLength="68.7" lengthAdjust="spacingAndGlyphs" transform="rotate(-90 23 469.6)">Fold change of % input</text>
<rect x="15.9" y="538" width="7.1" height="4" fill="#a3102a"/>
<rect x="15.9" y="547.1" width="7.1" height="4" fill="#2f4b82"/>
<text x="26" y="542.2" font-size="5.2" fill="#222">IgG</text>
<text x="26" y="551.2" font-size="5.2" fill="#222">LSD1</text>
<rect x="50.8" y="501" width="5.6" height="0.8" fill="#a3102a"/>
<rect x="70" y="501" width="5.6" height="0.8" fill="#a3102a"/>
<line x1="59.45" y1="483.03" x2="59.45" y2="475.28" stroke="#222" stroke-width="0.9"/>
<line x1="58.05" y1="475.28" x2="60.85" y2="475.28" stroke="#222" stroke-width="0.9"/>
<rect x="56.6" y="483.03" width="5.7" height="18.77" fill="#2f4b82" stroke="#1d3670" stroke-width="0.4"/>
<line x1="78.65" y1="475.28" x2="78.65" y2="461" stroke="#222" stroke-width="0.9"/>
<line x1="77.25" y1="461" x2="80.05" y2="461" stroke="#222" stroke-width="0.9"/>
<rect x="75.8" y="475.28" width="5.7" height="26.52" fill="#2f4b82" stroke="#1d3670" stroke-width="0.4"/>
<line x1="45.5" y1="501.8" x2="45.5" y2="438" stroke="#1a1a1a" stroke-width="1"/>
<line x1="45" y1="501.8" x2="86.1" y2="501.8" stroke="#1a1a1a" stroke-width="1"/>
<line x1="42.1" y1="501.8" x2="45.5" y2="501.8" stroke="#1a1a1a" stroke-width="1"/>
<text x="39.4" y="504.2" font-size="6.6" text-anchor="end" fill="#1a1a1a">0</text>
<line x1="42.1" y1="481.4" x2="45.5" y2="481.4" stroke="#1a1a1a" stroke-width="1"/>
<text x="39.4" y="483.8" font-size="6.6" text-anchor="end" fill="#1a1a1a">50</text>
<line x1="42.1" y1="461" x2="45.5" y2="461" stroke="#1a1a1a" stroke-width="1"/>
<text x="39.4" y="463.4" font-size="6.6" text-anchor="end" fill="#1a1a1a">100</text>
<line x1="42.1" y1="440.6" x2="45.5" y2="440.6" stroke="#1a1a1a" stroke-width="1"/>
<text x="39.4" y="443" font-size="6.6" text-anchor="end" fill="#1a1a1a">150</text>
<line x1="56.4" y1="501.8" x2="56.4" y2="504.4" stroke="#1a1a1a" stroke-width="0.9"/>
<text x="59" y="510.2" font-size="6.4" text-anchor="end" fill="#1a1a1a" transform="rotate(-45 59 510.2)">MIG-EV</text>
<line x1="75.7" y1="501.8" x2="75.7" y2="504.4" stroke="#1a1a1a" stroke-width="0.9"/>
<text x="78.3" y="510.2" font-size="6.4" text-anchor="end" fill="#1a1a1a" transform="rotate(-45 78.3 510.2)">MIG-Snai1</text>
<text x="65.7" y="433.5" font-size="6.7" text-anchor="middle" fill="#1a1a1a">Pld4</text>
<rect x="121.1" y="501" width="5.9" height="0.8" fill="#a3102a"/>
<rect x="140.6" y="501" width="5.9" height="0.8" fill="#a3102a"/>
<line x1="130" y1="460.55" x2="130" y2="446.8" stroke="#222" stroke-width="0.9"/>
<line x1="128.6" y1="446.8" x2="131.4" y2="446.8" stroke="#222" stroke-width="0.9"/>
<rect x="127.1" y="460.55" width="5.8" height="41.25" fill="#2f4b82" stroke="#1d3670" stroke-width="0.4"/>
<line x1="149.45" y1="463.05" x2="149.45" y2="449.3" stroke="#222" stroke-width="0.9"/>
<line x1="148.05" y1="449.3" x2="150.85" y2="449.3" stroke="#222" stroke-width="0.9"/>
<rect x="146.6" y="463.05" width="5.7" height="38.75" fill="#2f4b82" stroke="#1d3670" stroke-width="0.4"/>
<line x1="116" y1="501.8" x2="116" y2="436.8" stroke="#1a1a1a" stroke-width="1"/>
<line x1="115.5" y1="501.8" x2="156.6" y2="501.8" stroke="#1a1a1a" stroke-width="1"/>
<line x1="112.6" y1="501.8" x2="116" y2="501.8" stroke="#1a1a1a" stroke-width="1"/>
<text x="109.9" y="504.2" font-size="6.6" text-anchor="end" fill="#1a1a1a">0</text>
<line x1="112.6" y1="489.3" x2="116" y2="489.3" stroke="#1a1a1a" stroke-width="1"/>
<text x="109.9" y="491.7" font-size="6.6" text-anchor="end" fill="#1a1a1a">10</text>
<line x1="112.6" y1="476.8" x2="116" y2="476.8" stroke="#1a1a1a" stroke-width="1"/>
<text x="109.9" y="479.2" font-size="6.6" text-anchor="end" fill="#1a1a1a">20</text>
<line x1="112.6" y1="464.3" x2="116" y2="464.3" stroke="#1a1a1a" stroke-width="1"/>
<text x="109.9" y="466.7" font-size="6.6" text-anchor="end" fill="#1a1a1a">30</text>
<line x1="112.6" y1="451.8" x2="116" y2="451.8" stroke="#1a1a1a" stroke-width="1"/>
<text x="109.9" y="454.2" font-size="6.6" text-anchor="end" fill="#1a1a1a">40</text>
<line x1="112.6" y1="439.3" x2="116" y2="439.3" stroke="#1a1a1a" stroke-width="1"/>
<text x="109.9" y="441.7" font-size="6.6" text-anchor="end" fill="#1a1a1a">50</text>
<line x1="126.9" y1="501.8" x2="126.9" y2="504.4" stroke="#1a1a1a" stroke-width="0.9"/>
<text x="129.5" y="510.2" font-size="6.4" text-anchor="end" fill="#1a1a1a" transform="rotate(-45 129.5 510.2)">MIG-EV</text>
<line x1="146.2" y1="501.8" x2="146.2" y2="504.4" stroke="#1a1a1a" stroke-width="0.9"/>
<text x="148.8" y="510.2" font-size="6.4" text-anchor="end" fill="#1a1a1a" transform="rotate(-45 148.8 510.2)">MIG-Snai1</text>
<text x="136.5" y="433.8" font-size="6.7" text-anchor="middle" fill="#1a1a1a">Hook1</text>
<rect x="188.3" y="501.16" width="5.8" height="0.84" fill="#a3102a"/>
<rect x="207.9" y="501.2" width="5.8" height="0.8" fill="#a3102a"/>
<line x1="197.15" y1="467.19" x2="197.15" y2="451.36" stroke="#222" stroke-width="0.9"/>
<line x1="195.75" y1="451.36" x2="198.55" y2="451.36" stroke="#222" stroke-width="0.9"/>
<rect x="194.2" y="467.19" width="5.9" height="34.82" fill="#2f4b82" stroke="#1d3670" stroke-width="0.4"/>
<line x1="216.6" y1="469.93" x2="216.6" y2="451.36" stroke="#222" stroke-width="0.9"/>
<line x1="215.2" y1="451.36" x2="218" y2="451.36" stroke="#222" stroke-width="0.9"/>
<rect x="213.8" y="469.93" width="5.6" height="32.07" fill="#2f4b82" stroke="#1d3670" stroke-width="0.4"/>
<line x1="183" y1="502" x2="183" y2="436.2" stroke="#1a1a1a" stroke-width="1"/>
<line x1="182.5" y1="502" x2="224" y2="502" stroke="#1a1a1a" stroke-width="1"/>
<line x1="179.6" y1="502" x2="183" y2="502" stroke="#1a1a1a" stroke-width="1"/>
<text x="176.9" y="504.4" font-size="6.6" text-anchor="end" fill="#1a1a1a">0</text>
<line x1="179.6" y1="480.9" x2="183" y2="480.9" stroke="#1a1a1a" stroke-width="1"/>
<text x="176.9" y="483.3" font-size="6.6" text-anchor="end" fill="#1a1a1a">20</text>
<line x1="179.6" y1="459.8" x2="183" y2="459.8" stroke="#1a1a1a" stroke-width="1"/>
<text x="176.9" y="462.2" font-size="6.6" text-anchor="end" fill="#1a1a1a">40</text>
<line x1="179.6" y1="438.7" x2="183" y2="438.7" stroke="#1a1a1a" stroke-width="1"/>
<text x="176.9" y="441.1" font-size="6.6" text-anchor="end" fill="#1a1a1a">60</text>
<line x1="194" y1="502" x2="194" y2="504.6" stroke="#1a1a1a" stroke-width="0.9"/>
<text x="196.6" y="510.4" font-size="6.4" text-anchor="end" fill="#1a1a1a" transform="rotate(-45 196.6 510.4)">MIG-EV</text>
<line x1="213.6" y1="502" x2="213.6" y2="504.6" stroke="#1a1a1a" stroke-width="0.9"/>
<text x="216.2" y="510.4" font-size="6.4" text-anchor="end" fill="#1a1a1a" transform="rotate(-45 216.2 510.4)">MIG-Snai1</text>
<text x="203.9" y="433.9" font-size="6.7" text-anchor="middle" fill="#1a1a1a">Ezr</text>
<line x1="59.8" y1="579" x2="59.8" y2="571.2" stroke="#222" stroke-width="0.9"/>
<line x1="58.4" y1="571.2" x2="61.2" y2="571.2" stroke="#222" stroke-width="0.9"/>
<rect x="57" y="579" width="5.6" height="52" fill="#2f4b82" stroke="#1d3670" stroke-width="0.4"/>
<line x1="78.9" y1="585.5" x2="78.9" y2="579" stroke="#222" stroke-width="0.9"/>
<line x1="77.5" y1="579" x2="80.3" y2="579" stroke="#222" stroke-width="0.9"/>
<rect x="76.1" y="585.5" width="5.6" height="45.5" fill="#2f4b82" stroke="#1d3670" stroke-width="0.4"/>
<line x1="45.5" y1="631" x2="45.5" y2="563.5" stroke="#1a1a1a" stroke-width="1"/>
<line x1="45" y1="631" x2="86.1" y2="631" stroke="#1a1a1a" stroke-width="1"/>
<line x1="42.1" y1="631" x2="45.5" y2="631" stroke="#1a1a1a" stroke-width="1"/>
<text x="39.4" y="633.4" font-size="6.6" text-anchor="end" fill="#1a1a1a">0</text>
<line x1="42.1" y1="618" x2="45.5" y2="618" stroke="#1a1a1a" stroke-width="1"/>
<text x="39.4" y="620.4" font-size="6.6" text-anchor="end" fill="#1a1a1a">20</text>
<line x1="42.1" y1="605" x2="45.5" y2="605" stroke="#1a1a1a" stroke-width="1"/>
<text x="39.4" y="607.4" font-size="6.6" text-anchor="end" fill="#1a1a1a">40</text>
<line x1="42.1" y1="592" x2="45.5" y2="592" stroke="#1a1a1a" stroke-width="1"/>
<text x="39.4" y="594.4" font-size="6.6" text-anchor="end" fill="#1a1a1a">60</text>
<line x1="42.1" y1="579" x2="45.5" y2="579" stroke="#1a1a1a" stroke-width="1"/>
<text x="39.4" y="581.4" font-size="6.6" text-anchor="end" fill="#1a1a1a">80</text>
<line x1="42.1" y1="566" x2="45.5" y2="566" stroke="#1a1a1a" stroke-width="1"/>
<text x="39.4" y="568.4" font-size="6.6" text-anchor="end" fill="#1a1a1a">100</text>
<line x1="56.4" y1="631" x2="56.4" y2="633.6" stroke="#1a1a1a" stroke-width="0.9"/>
<text x="59" y="639.4" font-size="6.4" text-anchor="end" fill="#1a1a1a" transform="rotate(-45 59 639.4)">MIG-EV</text>
<line x1="75.7" y1="631" x2="75.7" y2="633.6" stroke="#1a1a1a" stroke-width="0.9"/>
<text x="78.3" y="639.4" font-size="6.4" text-anchor="end" fill="#1a1a1a" transform="rotate(-45 78.3 639.4)">MIG-Snai1</text>
<text x="65.7" y="561.3" font-size="6.7" text-anchor="middle" fill="#1a1a1a">N4bp1</text>
<line x1="130.25" y1="589" x2="130.25" y2="582.2" stroke="#222" stroke-width="0.9"/>
<line x1="128.85" y1="582.2" x2="131.65" y2="582.2" stroke="#222" stroke-width="0.9"/>
<rect x="127.4" y="589" width="5.7" height="41.8" fill="#2f4b82" stroke="#1d3670" stroke-width="0.4"/>
<line x1="149.5" y1="591.92" x2="149.5" y2="586.25" stroke="#222" stroke-width="0.9"/>
<line x1="148.1" y1="586.25" x2="150.9" y2="586.25" stroke="#222" stroke-width="0.9"/>
<rect x="146.8" y="591.92" width="5.4" height="38.88" fill="#2f4b82" stroke="#1d3670" stroke-width="0.4"/>
<line x1="116.1" y1="630.8" x2="116.1" y2="563.5" stroke="#1a1a1a" stroke-width="1"/>
<line x1="115.6" y1="630.8" x2="156.5" y2="630.8" stroke="#1a1a1a" stroke-width="1"/>
<line x1="112.7" y1="630.8" x2="116.1" y2="630.8" stroke="#1a1a1a" stroke-width="1"/>
<text x="110" y="633.2" font-size="6.6" text-anchor="end" fill="#1a1a1a">0</text>
<line x1="112.7" y1="614.6" x2="116.1" y2="614.6" stroke="#1a1a1a" stroke-width="1"/>
<text x="110" y="617" font-size="6.6" text-anchor="end" fill="#1a1a1a">200</text>
<line x1="112.7" y1="598.4" x2="116.1" y2="598.4" stroke="#1a1a1a" stroke-width="1"/>
<text x="110" y="600.8" font-size="6.6" text-anchor="end" fill="#1a1a1a">400</text>
<line x1="112.7" y1="582.2" x2="116.1" y2="582.2" stroke="#1a1a1a" stroke-width="1"/>
<text x="110" y="584.6" font-size="6.6" text-anchor="end" fill="#1a1a1a">600</text>
<line x1="112.7" y1="566" x2="116.1" y2="566" stroke="#1a1a1a" stroke-width="1"/>
<text x="110" y="568.4" font-size="6.6" text-anchor="end" fill="#1a1a1a">800</text>
<line x1="127.1" y1="630.8" x2="127.1" y2="633.4" stroke="#1a1a1a" stroke-width="0.9"/>
<text x="129.7" y="639.2" font-size="6.4" text-anchor="end" fill="#1a1a1a" transform="rotate(-45 129.7 639.2)">MIG-EV</text>
<line x1="146.5" y1="630.8" x2="146.5" y2="633.4" stroke="#1a1a1a" stroke-width="0.9"/>
<text x="149.1" y="639.2" font-size="6.4" text-anchor="end" fill="#1a1a1a" transform="rotate(-45 149.1 639.2)">MIG-Snai1</text>
<text x="136.6" y="561.3" font-size="6.7" text-anchor="middle" fill="#1a1a1a">Il10ra</text>
<rect x="208" y="630" width="5.5" height="0.8" fill="#a3102a"/>
<line x1="197.35" y1="581.13" x2="197.35" y2="577.26" stroke="#222" stroke-width="0.9"/>
<line x1="195.95" y1="577.26" x2="198.75" y2="577.26" stroke="#222" stroke-width="0.9"/>
<rect x="194.6" y="581.13" width="5.5" height="49.66" fill="#2f4b82" stroke="#1d3670" stroke-width="0.4"/>
<line x1="216.45" y1="585.97" x2="216.45" y2="579.2" stroke="#222" stroke-width="0.9"/>
<line x1="215.05" y1="579.2" x2="217.85" y2="579.2" stroke="#222" stroke-width="0.9"/>
<rect x="213.6" y="585.97" width="5.7" height="44.83" fill="#2f4b82" stroke="#1d3670" stroke-width="0.4"/>
<line x1="183" y1="630.8" x2="183" y2="563.8" stroke="#1a1a1a" stroke-width="1"/>
<line x1="182.5" y1="630.8" x2="224" y2="630.8" stroke="#1a1a1a" stroke-width="1"/>
<line x1="179.6" y1="630.8" x2="183" y2="630.8" stroke="#1a1a1a" stroke-width="1"/>
<text x="176.9" y="633.2" font-size="6.6" text-anchor="end" fill="#1a1a1a">0</text>
<line x1="179.6" y1="617.9" x2="183" y2="617.9" stroke="#1a1a1a" stroke-width="1"/>
<text x="176.9" y="620.3" font-size="6.6" text-anchor="end" fill="#1a1a1a">20</text>
<line x1="179.6" y1="605" x2="183" y2="605" stroke="#1a1a1a" stroke-width="1"/>
<text x="176.9" y="607.4" font-size="6.6" text-anchor="end" fill="#1a1a1a">40</text>
<line x1="179.6" y1="592.1" x2="183" y2="592.1" stroke="#1a1a1a" stroke-width="1"/>
<text x="176.9" y="594.5" font-size="6.6" text-anchor="end" fill="#1a1a1a">60</text>
<line x1="179.6" y1="579.2" x2="183" y2="579.2" stroke="#1a1a1a" stroke-width="1"/>
<text x="176.9" y="581.6" font-size="6.6" text-anchor="end" fill="#1a1a1a">80</text>
<line x1="179.6" y1="566.3" x2="183" y2="566.3" stroke="#1a1a1a" stroke-width="1"/>
<text x="176.9" y="568.7" font-size="6.6" text-anchor="end" fill="#1a1a1a">100</text>
<line x1="194.4" y1="630.8" x2="194.4" y2="633.4" stroke="#1a1a1a" stroke-width="0.9"/>
<text x="197" y="639.2" font-size="6.4" text-anchor="end" fill="#1a1a1a" transform="rotate(-45 197 639.2)">MIG-EV</text>
<line x1="213.4" y1="630.8" x2="213.4" y2="633.4" stroke="#1a1a1a" stroke-width="0.9"/>
<text x="216" y="639.2" font-size="6.4" text-anchor="end" fill="#1a1a1a" transform="rotate(-45 216 639.2)">MIG-Snai1</text>
<text x="204.1" y="561.6" font-size="6.7" text-anchor="middle" fill="#1a1a1a">Sh3bp5</text>
<text x="238.6" y="545.2" font-size="12" font-weight="bold">J</text>
<text x="345.6" y="548.3" font-size="6.3" font-weight="bold" textLength="39.8" lengthAdjust="spacingAndGlyphs">LSD1 targets</text>
<line x1="302" y1="553.1" x2="428.6" y2="553.1" stroke="#111" stroke-width="1"/>
<text x="474" y="540.6" font-size="6.3" font-weight="bold" textLength="34" lengthAdjust="spacingAndGlyphs">Non-target</text>
<text x="469.5" y="548.6" font-size="6.3" font-weight="bold" textLength="43" lengthAdjust="spacingAndGlyphs">control region</text>
<line x1="468.6" y1="553.1" x2="513" y2="553.1" stroke="#111" stroke-width="1"/>
<text x="259" y="597.6" font-size="7.3" text-anchor="middle" fill="#1a1a1a" textLength="68.7" lengthAdjust="spacingAndGlyphs" transform="rotate(-90 259 597.6)">Fold change of % input</text>
<line x1="295.65" y1="587.91" x2="295.65" y2="580.04" stroke="#222" stroke-width="0.9"/>
<line x1="294.25" y1="580.04" x2="297.05" y2="580.04" stroke="#222" stroke-width="0.9"/>
<rect x="292.9" y="587.91" width="5.5" height="43.09" fill="#2f4b82" stroke="#1d3670" stroke-width="0.4"/>
<line x1="314.9" y1="618.1" x2="314.9" y2="612.29" stroke="#222" stroke-width="0.9"/>
<line x1="313.5" y1="612.29" x2="316.3" y2="612.29" stroke="#222" stroke-width="0.9"/>
<rect x="312.1" y="618.1" width="5.6" height="12.9" fill="#2f4b82" stroke="#1d3670" stroke-width="0.4"/>
<line x1="281.3" y1="631" x2="281.3" y2="564" stroke="#1a1a1a" stroke-width="1"/>
<line x1="280.8" y1="631" x2="322" y2="631" stroke="#1a1a1a" stroke-width="1"/>
<line x1="277.9" y1="631" x2="281.3" y2="631" stroke="#1a1a1a" stroke-width="1"/>
<text x="275.2" y="633.4" font-size="6.6" text-anchor="end" fill="#1a1a1a">0</text>
<line x1="277.9" y1="618.1" x2="281.3" y2="618.1" stroke="#1a1a1a" stroke-width="1"/>
<text x="275.2" y="620.5" font-size="6.6" text-anchor="end" fill="#1a1a1a">20</text>
<line x1="277.9" y1="605.2" x2="281.3" y2="605.2" stroke="#1a1a1a" stroke-width="1"/>
<text x="275.2" y="607.6" font-size="6.6" text-anchor="end" fill="#1a1a1a">40</text>
<line x1="277.9" y1="592.3" x2="281.3" y2="592.3" stroke="#1a1a1a" stroke-width="1"/>
<text x="275.2" y="594.7" font-size="6.6" text-anchor="end" fill="#1a1a1a">60</text>
<line x1="277.9" y1="579.4" x2="281.3" y2="579.4" stroke="#1a1a1a" stroke-width="1"/>
<text x="275.2" y="581.8" font-size="6.6" text-anchor="end" fill="#1a1a1a">80</text>
<line x1="277.9" y1="566.5" x2="281.3" y2="566.5" stroke="#1a1a1a" stroke-width="1"/>
<text x="275.2" y="568.9" font-size="6.6" text-anchor="end" fill="#1a1a1a">100</text>
<line x1="292.2" y1="631" x2="292.2" y2="633.6" stroke="#1a1a1a" stroke-width="0.9"/>
<text x="294.8" y="639.4" font-size="6.4" text-anchor="end" fill="#1a1a1a" transform="rotate(-45 294.8 639.4)">MIG-EV</text>
<line x1="311.4" y1="631" x2="311.4" y2="633.6" stroke="#1a1a1a" stroke-width="0.9"/>
<text x="314" y="639.4" font-size="6.4" text-anchor="end" fill="#1a1a1a" transform="rotate(-45 314 639.4)">MIG-Snai1</text>
<text x="302" y="561.5" font-size="6.7" text-anchor="middle" fill="#1a1a1a">Ccl2</text>
<polyline points="295.4,579.5 295.4,571.9 314.7,571.9 314.7,599.9" fill="none" stroke="#1a1a1a" stroke-width="0.8" stroke-linejoin="round" stroke-linecap="round"/>
<text x="305.4" y="570.7" font-size="4.5" text-anchor="middle" fill="#1a1a1a">*</text>
<line x1="359.05" y1="589.56" x2="359.05" y2="581" stroke="#222" stroke-width="0.9"/>
<line x1="357.65" y1="581" x2="360.45" y2="581" stroke="#222" stroke-width="0.9"/>
<rect x="356.2" y="589.56" width="5.7" height="41.44" fill="#2f4b82" stroke="#1d3670" stroke-width="0.4"/>
<line x1="378.3" y1="613.73" x2="378.3" y2="606" stroke="#222" stroke-width="0.9"/>
<line x1="376.9" y1="606" x2="379.7" y2="606" stroke="#222" stroke-width="0.9"/>
<rect x="375.4" y="613.73" width="5.8" height="17.27" fill="#2f4b82" stroke="#1d3670" stroke-width="0.4"/>
<line x1="344.4" y1="631" x2="344.4" y2="567.9" stroke="#1a1a1a" stroke-width="1"/>
<line x1="343.9" y1="631" x2="385.4" y2="631" stroke="#1a1a1a" stroke-width="1"/>
<line x1="341" y1="631" x2="344.4" y2="631" stroke="#1a1a1a" stroke-width="1"/>
<text x="338.3" y="633.4" font-size="6.6" text-anchor="end" fill="#1a1a1a">0</text>
<line x1="341" y1="615.85" x2="344.4" y2="615.85" stroke="#1a1a1a" stroke-width="1"/>
<text x="338.3" y="618.25" font-size="6.6" text-anchor="end" fill="#1a1a1a">20</text>
<line x1="341" y1="600.7" x2="344.4" y2="600.7" stroke="#1a1a1a" stroke-width="1"/>
<text x="338.3" y="603.1" font-size="6.6" text-anchor="end" fill="#1a1a1a">40</text>
<line x1="341" y1="585.55" x2="344.4" y2="585.55" stroke="#1a1a1a" stroke-width="1"/>
<text x="338.3" y="587.95" font-size="6.6" text-anchor="end" fill="#1a1a1a">60</text>
<line x1="341" y1="570.4" x2="344.4" y2="570.4" stroke="#1a1a1a" stroke-width="1"/>
<text x="338.3" y="572.8" font-size="6.6" text-anchor="end" fill="#1a1a1a">80</text>
<line x1="355.6" y1="631" x2="355.6" y2="633.6" stroke="#1a1a1a" stroke-width="0.9"/>
<text x="358.2" y="639.4" font-size="6.4" text-anchor="end" fill="#1a1a1a" transform="rotate(-45 358.2 639.4)">MIG-EV</text>
<line x1="374.9" y1="631" x2="374.9" y2="633.6" stroke="#1a1a1a" stroke-width="0.9"/>
<text x="377.5" y="639.4" font-size="6.4" text-anchor="end" fill="#1a1a1a" transform="rotate(-45 377.5 639.4)">MIG-Snai1</text>
<text x="365.2" y="561.7" font-size="6.7" text-anchor="middle" fill="#1a1a1a">Anxa2</text>
<polyline points="358.5,577.5 358.5,574.2 378.3,574.2 378.3,601.2" fill="none" stroke="#1a1a1a" stroke-width="0.8" stroke-linejoin="round" stroke-linecap="round"/>
<text x="368.7" y="573" font-size="4.5" text-anchor="middle" fill="#1a1a1a">*</text>
<rect x="413" y="629.38" width="6.8" height="1.62" fill="#a3102a"/>
<rect x="432.6" y="630.2" width="6.6" height="0.8" fill="#a3102a"/>
<line x1="422.85" y1="580.1" x2="422.85" y2="576.46" stroke="#222" stroke-width="0.9"/>
<line x1="421.45" y1="576.46" x2="424.25" y2="576.46" stroke="#222" stroke-width="0.9"/>
<rect x="419.9" y="580.1" width="5.9" height="50.9" fill="#2f4b82" stroke="#1d3670" stroke-width="0.4"/>
<line x1="442" y1="614.84" x2="442" y2="607.37" stroke="#222" stroke-width="0.9"/>
<line x1="440.6" y1="607.37" x2="443.4" y2="607.37" stroke="#222" stroke-width="0.9"/>
<rect x="439.3" y="614.84" width="5.4" height="16.16" fill="#2f4b82" stroke="#1d3670" stroke-width="0.4"/>
<line x1="408.1" y1="631" x2="408.1" y2="567.9" stroke="#1a1a1a" stroke-width="1"/>
<line x1="407.6" y1="631" x2="449.1" y2="631" stroke="#1a1a1a" stroke-width="1"/>
<line x1="404.7" y1="631" x2="408.1" y2="631" stroke="#1a1a1a" stroke-width="1"/>
<text x="402" y="633.4" font-size="6.6" text-anchor="end" fill="#1a1a1a">0</text>
<line x1="404.7" y1="610.8" x2="408.1" y2="610.8" stroke="#1a1a1a" stroke-width="1"/>
<text x="402" y="613.2" font-size="6.6" text-anchor="end" fill="#1a1a1a">10</text>
<line x1="404.7" y1="590.6" x2="408.1" y2="590.6" stroke="#1a1a1a" stroke-width="1"/>
<text x="402" y="593" font-size="6.6" text-anchor="end" fill="#1a1a1a">20</text>
<line x1="404.7" y1="570.4" x2="408.1" y2="570.4" stroke="#1a1a1a" stroke-width="1"/>
<text x="402" y="572.8" font-size="6.6" text-anchor="end" fill="#1a1a1a">30</text>
<line x1="419.6" y1="631" x2="419.6" y2="633.6" stroke="#1a1a1a" stroke-width="0.9"/>
<text x="422.2" y="639.4" font-size="6.4" text-anchor="end" fill="#1a1a1a" transform="rotate(-45 422.2 639.4)">MIG-EV</text>
<line x1="439" y1="631" x2="439" y2="633.6" stroke="#1a1a1a" stroke-width="0.9"/>
<text x="441.6" y="639.4" font-size="6.4" text-anchor="end" fill="#1a1a1a" transform="rotate(-45 441.6 639.4)">MIG-Snai1</text>
<text x="428.9" y="561.7" font-size="6.7" text-anchor="middle" fill="#1a1a1a">Cd14</text>
<polyline points="422.3,575.5 422.3,571.9 442.2,571.9 442.2,599" fill="none" stroke="#1a1a1a" stroke-width="0.8" stroke-linejoin="round" stroke-linecap="round"/>
<text x="432.4" y="570.7" font-size="4.5" text-anchor="middle" fill="#1a1a1a">*</text>
<line x1="486.25" y1="629.31" x2="486.25" y2="628.67" stroke="#222" stroke-width="0.9"/>
<line x1="484.85" y1="628.67" x2="487.65" y2="628.67" stroke="#222" stroke-width="0.9"/>
<rect x="483.8" y="629.31" width="4.9" height="1.29" fill="#2f4b82" stroke="#1d3670" stroke-width="0.4"/>
<line x1="506" y1="629.74" x2="506" y2="629.52" stroke="#222" stroke-width="0.9"/>
<line x1="504.6" y1="629.52" x2="507.4" y2="629.52" stroke="#222" stroke-width="0.9"/>
<rect x="503.5" y="629.74" width="5" height="0.86" fill="#2f4b82" stroke="#1d3670" stroke-width="0.4"/>
<line x1="472.2" y1="630.6" x2="472.2" y2="563.6" stroke="#1a1a1a" stroke-width="1"/>
<line x1="471.7" y1="630.6" x2="512.5" y2="630.6" stroke="#1a1a1a" stroke-width="1"/>
<line x1="468.8" y1="630.6" x2="472.2" y2="630.6" stroke="#1a1a1a" stroke-width="1"/>
<text x="466.1" y="633" font-size="6.6" text-anchor="end" fill="#1a1a1a">0</text>
<line x1="468.8" y1="609.1" x2="472.2" y2="609.1" stroke="#1a1a1a" stroke-width="1"/>
<text x="466.1" y="611.5" font-size="6.6" text-anchor="end" fill="#1a1a1a">10</text>
<line x1="468.8" y1="587.6" x2="472.2" y2="587.6" stroke="#1a1a1a" stroke-width="1"/>
<text x="466.1" y="590" font-size="6.6" text-anchor="end" fill="#1a1a1a">20</text>
<line x1="468.8" y1="566.1" x2="472.2" y2="566.1" stroke="#1a1a1a" stroke-width="1"/>
<text x="466.1" y="568.5" font-size="6.6" text-anchor="end" fill="#1a1a1a">30</text>
<line x1="483.5" y1="630.6" x2="483.5" y2="633.2" stroke="#1a1a1a" stroke-width="0.9"/>
<text x="486.1" y="639" font-size="6.4" text-anchor="end" fill="#1a1a1a" transform="rotate(-45 486.1 639)">MIG-EV</text>
<line x1="503.2" y1="630.6" x2="503.2" y2="633.2" stroke="#1a1a1a" stroke-width="0.9"/>
<text x="505.8" y="639" font-size="6.4" text-anchor="end" fill="#1a1a1a" transform="rotate(-45 505.8 639)">MIG-Snai1</text>
<text x="492.8" y="561.1" font-size="6.7" text-anchor="middle" fill="#1a1a1a">Control</text>
<line x1="293.5" y1="133.3" x2="293.5" y2="291" stroke="#ebebeb" stroke-width="0.6"/>
<line x1="329.55" y1="133.3" x2="329.55" y2="291" stroke="#ebebeb" stroke-width="0.6"/>
<line x1="365.6" y1="133.3" x2="365.6" y2="291" stroke="#ebebeb" stroke-width="0.6"/>
<line x1="401.65" y1="133.3" x2="401.65" y2="291" stroke="#ebebeb" stroke-width="0.6"/>
<line x1="437.7" y1="133.3" x2="437.7" y2="291" stroke="#ebebeb" stroke-width="0.6"/>
<line x1="473.75" y1="133.3" x2="473.75" y2="291" stroke="#ebebeb" stroke-width="0.6"/>
<line x1="508.79" y1="133.3" x2="508.79" y2="291" stroke="#ebebeb" stroke-width="0.6"/>
<line x1="273" y1="154.45" x2="508.6" y2="154.45" stroke="#ebebeb" stroke-width="0.6"/>
<line x1="273" y1="176.7" x2="508.6" y2="176.7" stroke="#ebebeb" stroke-width="0.6"/>
<line x1="273" y1="198.95" x2="508.6" y2="198.95" stroke="#ebebeb" stroke-width="0.6"/>
<line x1="273" y1="221.2" x2="508.6" y2="221.2" stroke="#ebebeb" stroke-width="0.6"/>
<line x1="273" y1="243.45" x2="508.6" y2="243.45" stroke="#ebebeb" stroke-width="0.6"/>
<line x1="273" y1="265.7" x2="508.6" y2="265.7" stroke="#ebebeb" stroke-width="0.6"/>
<line x1="273" y1="287.95" x2="508.6" y2="287.95" stroke="#ebebeb" stroke-width="0.6"/>
<path d="M273.2 141.6H280.6M273.2 150.2H280.6M273.2 182.2H280.6M273.2 142.2H280.6M273.2 158.8H280.6M273.2 195.5H280.6M273.2 161.0H280.6M273.2 144.1H280.6M273.2 176.9H280.6M273.2 157.1H280.6M273.2 186.1H280.6M273.2 158.1H280.6M273.2 188.7H280.6M273.2 188.5H280.6M273.2 145.8H280.6M273.2 170.1H280.6M273.2 163.4H280.6M273.2 142.1H280.6M273.2 194.2H280.6M273.2 156.6H280.6M273.2 174.4H280.6M273.2 138.0H280.6M273.2 196.7H280.6M273.2 198.7H280.6M273.2 179.1H280.6M273.2 142.6H280.6M273.2 177.8H280.6M273.2 164.9H280.6M273.2 165.2H280.6M273.2 148.4H280.6" stroke="#000" stroke-width="0.5" stroke-opacity="0.12"/>
<path d="M273.2 140.6H280.6M273.2 161.2H280.6M273.2 164.2H280.6M273.2 169.4H280.6M273.2 176.5H280.6" stroke="#000" stroke-width="0.5" stroke-opacity="0.3"/>
<path d="M273.2 187.6H280.6M273.2 199.4H280.6M273.2 195.3H280.6M273.2 197.7H280.6M273.2 197.6H280.6M273.2 191.8H280.6M273.2 194.3H280.6M273.2 190.1H280.6M273.2 196.1H280.6M273.2 192.3H280.6M273.2 198.3H280.6M273.2 190.0H280.6M273.2 191.5H280.6M273.2 186.4H280.6M273.2 185.7H280.6M273.2 188.6H280.6M273.2 185.3H280.6M273.2 192.2H280.6M273.2 191.5H280.6M273.2 200.0H280.6M273.2 185.7H280.6M273.2 201.7H280.6M273.2 186.6H280.6M273.2 199.1H280.6M273.2 191.1H280.6M273.2 189.2H280.6M273.2 195.4H280.6M273.2 191.0H280.6M273.2 185.3H280.6M273.2 187.2H280.6M273.2 196.5H280.6M273.2 197.2H280.6M273.2 201.9H280.6M273.2 189.3H280.6M273.2 198.1H280.6M273.2 190.8H280.6M273.2 193.8H280.6M273.2 189.7H280.6M273.2 192.0H280.6M273.2 200.5H280.6M273.2 256.5H280.6M273.2 259.8H280.6M273.2 252.6H280.6M273.2 244.1H280.6M273.2 243.7H280.6M273.2 244.6H280.6M273.2 245.4H280.6M273.2 246.3H280.6M273.2 248.6H280.6M273.2 245.9H280.6M273.2 259.2H280.6M273.2 249.8H280.6M273.2 252.1H280.6M273.2 257.9H280.6M273.2 246.4H280.6M273.2 252.5H280.6M273.2 243.8H280.6M273.2 252.2H280.6M273.2 260.6H280.6M273.2 253.8H280.6M273.2 248.7H280.6M273.2 255.0H280.6M273.2 252.5H280.6M273.2 252.5H280.6M273.2 255.1H280.6M273.2 256.5H280.6M273.2 259.9H280.6M273.2 261.6H280.6M273.2 261.3H280.6M273.2 258.4H280.6M273.2 256.0H280.6M273.2 258.2H280.6M273.2 246.7H280.6M273.2 246.8H280.6M273.2 259.0H280.6M273.2 251.3H280.6M273.2 243.4H280.6M273.2 257.2H280.6M273.2 245.5H280.6M273.2 248.2H280.6" stroke="#000" stroke-width="0.5" stroke-opacity="0.2"/>
<path d="M273.2 205.8H280.6M273.2 208.0H280.6M273.2 214.3H280.6M273.2 208.4H280.6M273.2 213.1H280.6M273.2 209.4H280.6M273.2 207.0H280.6M273.2 211.9H280.6M273.2 211.0H280.6M273.2 207.4H280.6M273.2 215.5H280.6M273.2 203.7H280.6M273.2 213.5H280.6M273.2 211.9H280.6M273.2 211.7H280.6M273.2 208.7H280.6M273.2 212.2H280.6M273.2 203.1H280.6M273.2 211.2H280.6M273.2 213.8H280.6M273.2 207.8H280.6M273.2 212.1H280.6M273.2 211.5H280.6M273.2 209.0H280.6M273.2 212.5H280.6M273.2 208.8H280.6M273.2 204.1H280.6M273.2 209.3H280.6M273.2 212.3H280.6M273.2 204.6H280.6M273.2 208.5H280.6M273.2 213.4H280.6M273.2 202.7H280.6M273.2 213.7H280.6M273.2 207.1H280.6M273.2 207.2H280.6M273.2 211.6H280.6M273.2 210.0H280.6M273.2 206.2H280.6M273.2 204.5H280.6M273.2 208.0H280.6M273.2 214.1H280.6M273.2 215.4H280.6M273.2 211.8H280.6M273.2 211.5H280.6M273.2 211.4H280.6M273.2 214.4H280.6M273.2 204.6H280.6M273.2 204.4H280.6M273.2 213.5H280.6M273.2 202.8H280.6M273.2 209.3H280.6M273.2 207.7H280.6M273.2 214.4H280.6M273.2 210.6H280.6M273.2 205.4H280.6M273.2 203.3H280.6M273.2 208.6H280.6M273.2 209.7H280.6M273.2 208.6H280.6M273.2 210.1H280.6M273.2 203.3H280.6M273.2 207.2H280.6M273.2 213.3H280.6M273.2 206.3H280.6M273.2 204.9H280.6M273.2 204.8H280.6M273.2 214.7H280.6M273.2 213.8H280.6M273.2 207.8H280.6M273.2 206.8H280.6M273.2 207.3H280.6M273.2 214.0H280.6M273.2 214.3H280.6M273.2 214.9H280.6M273.2 213.6H280.6M273.2 211.3H280.6M273.2 204.0H280.6M273.2 214.7H280.6M273.2 204.7H280.6M273.2 212.1H280.6M273.2 207.1H280.6M273.2 203.0H280.6M273.2 211.1H280.6M273.2 205.8H280.6M273.2 214.0H280.6M273.2 204.8H280.6M273.2 211.2H280.6M273.2 208.2H280.6M273.2 203.1H280.6M273.2 233.5H280.6M273.2 233.9H280.6M273.2 240.4H280.6M273.2 240.4H280.6M273.2 242.7H280.6M273.2 231.8H280.6M273.2 232.5H280.6M273.2 234.8H280.6M273.2 234.0H280.6M273.2 232.4H280.6M273.2 240.1H280.6M273.2 229.6H280.6M273.2 237.1H280.6M273.2 231.4H280.6M273.2 233.9H280.6M273.2 233.6H280.6M273.2 236.0H280.6M273.2 242.7H280.6M273.2 239.9H280.6M273.2 235.6H280.6M273.2 243.5H280.6M273.2 233.1H280.6M273.2 232.2H280.6M273.2 238.5H280.6M273.2 240.4H280.6M273.2 239.7H280.6M273.2 236.6H280.6M273.2 239.7H280.6M273.2 234.2H280.6M273.2 242.9H280.6M273.2 239.9H280.6M273.2 240.8H280.6M273.2 237.1H280.6M273.2 242.4H280.6M273.2 236.1H280.6M273.2 242.9H280.6M273.2 235.8H280.6M273.2 242.9H280.6M273.2 234.0H280.6M273.2 236.8H280.6M273.2 237.4H280.6M273.2 237.3H280.6M273.2 241.4H280.6M273.2 241.5H280.6M273.2 232.1H280.6M273.2 239.5H280.6M273.2 236.9H280.6M273.2 235.2H280.6M273.2 231.1H280.6M273.2 242.3H280.6M273.2 243.4H280.6M273.2 239.7H280.6M273.2 237.6H280.6M273.2 230.7H280.6M273.2 234.0H280.6M273.2 234.1H280.6M273.2 230.7H280.6M273.2 234.8H280.6M273.2 234.7H280.6M273.2 235.3H280.6M273.2 230.5H280.6M273.2 231.4H280.6M273.2 242.9H280.6M273.2 237.3H280.6M273.2 232.8H280.6M273.2 235.8H280.6M273.2 234.6H280.6M273.2 236.3H280.6M273.2 232.0H280.6M273.2 240.0H280.6M273.2 242.7H280.6M273.2 238.4H280.6M273.2 243.0H280.6M273.2 241.0H280.6M273.2 237.1H280.6M273.2 236.9H280.6M273.2 239.2H280.6M273.2 234.7H280.6M273.2 230.6H280.6M273.2 235.9H280.6M273.2 241.0H280.6M273.2 239.0H280.6M273.2 230.1H280.6M273.2 241.2H280.6M273.2 230.2H280.6M273.2 236.8H280.6M273.2 232.0H280.6M273.2 233.7H280.6M273.2 232.8H280.6M273.2 238.2H280.6" stroke="#000" stroke-width="0.5" stroke-opacity="0.6"/>
<path d="M273.2 287.8H280.6M273.2 267.3H280.6M273.2 285.1H280.6M273.2 269.5H280.6M273.2 284.2H280.6M273.2 272.7H280.6M273.2 277.7H280.6M273.2 281.1H280.6M273.2 282.1H280.6M273.2 267.8H280.6M273.2 280.8H280.6M273.2 266.7H280.6M273.2 268.9H280.6M273.2 283.8H280.6M273.2 266.3H280.6M273.2 273.6H280.6M273.2 265.2H280.6M273.2 278.3H280.6" stroke="#000" stroke-width="0.5" stroke-opacity="0.18"/>
<path d="M290.5 284.6V289.9M297.4 284.6V289.9M320.2 284.6V289.9M300.5 284.6V289.9M302.5 284.6V289.9M285.2 284.6V289.9M293.7 284.6V289.9M287.9 284.6V289.9M306.9 284.6V289.9M289.7 284.6V289.9M290.5 284.6V289.9M289.3 284.6V289.9M311.4 284.6V289.9M308.1 284.6V289.9" stroke="#000" stroke-width="0.5" stroke-opacity="0.18"/>
<path d="M329.2 284.6V289.9M329.8 284.6V289.9M328.7 284.6V289.9M336.3 284.6V289.9M336.9 284.6V289.9M324.7 284.6V289.9M325.3 284.6V289.9M338.5 284.6V289.9M328.8 284.6V289.9M339.6 284.6V289.9M325.9 284.6V289.9M323.7 284.6V289.9M323.0 284.6V289.9M345.0 284.6V289.9M336.0 284.6V289.9M321.5 284.6V289.9M331.0 284.6V289.9M338.7 284.6V289.9M327.1 284.6V289.9M344.3 284.6V289.9M321.1 284.6V289.9M335.7 284.6V289.9M337.1 284.6V289.9M326.3 284.6V289.9M348.6 284.6V289.9M336.3 284.6V289.9M324.7 284.6V289.9M342.1 284.6V289.9M321.8 284.6V289.9M340.1 284.6V289.9M344.4 284.6V289.9M338.9 284.6V289.9M321.6 284.6V289.9M322.8 284.6V289.9M344.2 284.6V289.9M344.7 284.6V289.9M328.5 284.6V289.9M347.0 284.6V289.9M343.8 284.6V289.9M324.0 284.6V289.9M345.8 284.6V289.9M321.4 284.6V289.9M330.1 284.6V289.9M326.9 284.6V289.9M326.9 284.6V289.9M335.0 284.6V289.9M322.3 284.6V289.9M348.0 284.6V289.9M326.9 284.6V289.9M340.1 284.6V289.9M330.8 284.6V289.9M346.7 284.6V289.9M336.7 284.6V289.9M334.9 284.6V289.9M342.3 284.6V289.9M336.7 284.6V289.9M333.6 284.6V289.9M325.9 284.6V289.9M343.4 284.6V289.9M338.6 284.6V289.9M334.0 284.6V289.9M348.7 284.6V289.9M334.0 284.6V289.9M341.8 284.6V289.9M325.6 284.6V289.9M331.1 284.6V289.9M338.7 284.6V289.9M328.2 284.6V289.9M348.9 284.6V289.9M348.7 284.6V289.9M339.1 284.6V289.9M341.1 284.6V289.9M328.6 284.6V289.9M342.6 284.6V289.9M345.1 284.6V289.9M333.9 284.6V289.9M336.8 284.6V289.9M339.3 284.6V289.9M328.0 284.6V289.9M322.3 284.6V289.9M384.5 284.6V289.9M391.0 284.6V289.9M393.1 284.6V289.9M397.3 284.6V289.9M386.1 284.6V289.9M384.2 284.6V289.9M389.0 284.6V289.9M384.1 284.6V289.9M385.9 284.6V289.9M390.3 284.6V289.9M394.0 284.6V289.9M383.0 284.6V289.9M384.3 284.6V289.9M390.0 284.6V289.9M390.9 284.6V289.9M384.3 284.6V289.9M393.5 284.6V289.9M391.7 284.6V289.9M399.3 284.6V289.9M399.1 284.6V289.9M392.9 284.6V289.9M382.7 284.6V289.9M390.9 284.6V289.9M386.2 284.6V289.9M386.3 284.6V289.9M382.4 284.6V289.9M394.1 284.6V289.9M393.5 284.6V289.9M386.2 284.6V289.9M385.4 284.6V289.9M399.9 284.6V289.9M391.5 284.6V289.9M394.2 284.6V289.9M385.7 284.6V289.9M398.9 284.6V289.9M394.7 284.6V289.9M390.7 284.6V289.9M383.1 284.6V289.9M389.3 284.6V289.9M381.5 284.6V289.9M385.0 284.6V289.9M395.9 284.6V289.9M383.1 284.6V289.9M384.9 284.6V289.9M387.5 284.6V289.9M399.4 284.6V289.9M384.1 284.6V289.9M388.9 284.6V289.9M391.1 284.6V289.9M381.9 284.6V289.9M391.7 284.6V289.9M382.3 284.6V289.9M387.1 284.6V289.9M387.1 284.6V289.9M399.9 284.6V289.9M389.3 284.6V289.9M386.7 284.6V289.9M387.3 284.6V289.9M386.7 284.6V289.9M384.1 284.6V289.9M387.0 284.6V289.9M394.1 284.6V289.9M387.7 284.6V289.9M385.4 284.6V289.9M381.7 284.6V289.9M396.0 284.6V289.9M386.7 284.6V289.9M386.1 284.6V289.9M397.1 284.6V289.9M399.4 284.6V289.9M391.5 284.6V289.9M382.3 284.6V289.9M396.9 284.6V289.9M395.5 284.6V289.9M381.3 284.6V289.9M386.5 284.6V289.9M396.9 284.6V289.9M390.0 284.6V289.9M384.4 284.6V289.9M399.7 284.6V289.9" stroke="#000" stroke-width="0.5" stroke-opacity="0.45"/>
<path d="M406.4 284.6V289.9M405.4 284.6V289.9M420.8 284.6V289.9M429.6 284.6V289.9M421.2 284.6V289.9M400.6 284.6V289.9M400.6 284.6V289.9M406.4 284.6V289.9M419.9 284.6V289.9M428.8 284.6V289.9M403.5 284.6V289.9M420.1 284.6V289.9M420.3 284.6V289.9M400.9 284.6V289.9M427.1 284.6V289.9M409.4 284.6V289.9M411.2 284.6V289.9M423.8 284.6V289.9M416.3 284.6V289.9M418.8 284.6V289.9M401.7 284.6V289.9M418.7 284.6V289.9M404.5 284.6V289.9M424.7 284.6V289.9M423.2 284.6V289.9M419.5 284.6V289.9M419.3 284.6V289.9M429.3 284.6V289.9M424.9 284.6V289.9M421.5 284.6V289.9M410.8 284.6V289.9M400.4 284.6V289.9M430.0 284.6V289.9M401.9 284.6V289.9M401.3 284.6V289.9M417.8 284.6V289.9M429.8 284.6V289.9M413.4 284.6V289.9M406.3 284.6V289.9M400.6 284.6V289.9" stroke="#000" stroke-width="0.5" stroke-opacity="0.25"/>
<path d="M442.1 284.6V289.9M457.2 284.6V289.9M456.2 284.6V289.9M450.2 284.6V289.9M495.9 284.6V289.9M505.0 284.6V289.9M503.4 284.6V289.9M444.7 284.6V289.9M482.3 284.6V289.9M442.3 284.6V289.9M464.7 284.6V289.9M467.5 284.6V289.9M453.6 284.6V289.9M488.8 284.6V289.9M446.5 284.6V289.9M490.2 284.6V289.9M487.4 284.6V289.9M477.2 284.6V289.9M435.7 284.6V289.9M439.1 284.6V289.9M490.5 284.6V289.9M501.9 284.6V289.9M448.0 284.6V289.9M480.0 284.6V289.9M486.8 284.6V289.9" stroke="#000" stroke-width="0.5" stroke-opacity="0.2"/>
<path d="M345.7 222.4h1.3v1.3h-1.3zM393.7 215.8h1.3v1.3h-1.3zM343.4 226.4h1.3v1.3h-1.3zM382.5 206.7h1.3v1.3h-1.3zM345.9 235.0h1.3v1.3h-1.3zM387.4 210.1h1.3v1.3h-1.3zM405.3 201.2h1.3v1.3h-1.3zM370.0 220.6h1.3v1.3h-1.3zM427.8 204.6h1.3v1.3h-1.3zM355.2 231.2h1.3v1.3h-1.3zM374.2 216.2h1.3v1.3h-1.3zM364.7 220.4h1.3v1.3h-1.3zM378.1 211.0h1.3v1.3h-1.3zM395.9 209.7h1.3v1.3h-1.3zM333.4 223.3h1.3v1.3h-1.3zM341.5 227.7h1.3v1.3h-1.3zM340.3 226.7h1.3v1.3h-1.3zM355.3 220.9h1.3v1.3h-1.3zM443.5 198.4h1.3v1.3h-1.3zM390.4 222.8h1.3v1.3h-1.3zM365.9 214.6h1.3v1.3h-1.3zM370.2 215.6h1.3v1.3h-1.3zM374.4 224.9h1.3v1.3h-1.3zM384.4 220.6h1.3v1.3h-1.3zM412.6 210.5h1.3v1.3h-1.3zM387.0 213.7h1.3v1.3h-1.3zM392.8 216.7h1.3v1.3h-1.3zM393.8 212.8h1.3v1.3h-1.3zM399.5 205.6h1.3v1.3h-1.3zM375.2 222.9h1.3v1.3h-1.3zM388.8 209.7h1.3v1.3h-1.3zM407.7 210.9h1.3v1.3h-1.3zM384.2 210.7h1.3v1.3h-1.3zM378.3 214.6h1.3v1.3h-1.3zM376.1 221.3h1.3v1.3h-1.3zM350.2 227.0h1.3v1.3h-1.3zM384.9 202.9h1.3v1.3h-1.3zM393.3 204.0h1.3v1.3h-1.3zM389.0 207.9h1.3v1.3h-1.3zM376.1 210.9h1.3v1.3h-1.3zM410.5 209.7h1.3v1.3h-1.3zM357.2 207.2h1.3v1.3h-1.3zM377.5 209.1h1.3v1.3h-1.3zM391.1 221.2h1.3v1.3h-1.3zM424.8 189.8h1.3v1.3h-1.3zM376.0 211.1h1.3v1.3h-1.3zM374.9 223.8h1.3v1.3h-1.3zM369.7 215.7h1.3v1.3h-1.3zM396.3 205.8h1.3v1.3h-1.3zM373.4 207.3h1.3v1.3h-1.3zM355.7 216.5h1.3v1.3h-1.3zM396.2 213.4h1.3v1.3h-1.3zM333.4 235.5h1.3v1.3h-1.3zM377.3 212.5h1.3v1.3h-1.3zM405.6 216.2h1.3v1.3h-1.3zM372.2 213.0h1.3v1.3h-1.3zM368.7 236.8h1.3v1.3h-1.3zM389.6 195.5h1.3v1.3h-1.3zM393.9 218.8h1.3v1.3h-1.3zM363.2 218.7h1.3v1.3h-1.3zM426.0 198.3h1.3v1.3h-1.3zM374.6 205.4h1.3v1.3h-1.3zM370.4 204.3h1.3v1.3h-1.3zM357.3 225.6h1.3v1.3h-1.3zM387.8 202.8h1.3v1.3h-1.3zM386.3 211.7h1.3v1.3h-1.3zM332.8 234.2h1.3v1.3h-1.3zM359.0 225.6h1.3v1.3h-1.3zM384.8 216.9h1.3v1.3h-1.3zM389.2 212.5h1.3v1.3h-1.3zM365.0 219.0h1.3v1.3h-1.3zM381.4 208.8h1.3v1.3h-1.3zM361.8 222.5h1.3v1.3h-1.3zM342.7 213.9h1.3v1.3h-1.3zM403.6 210.5h1.3v1.3h-1.3zM361.8 230.1h1.3v1.3h-1.3zM375.8 215.3h1.3v1.3h-1.3zM419.4 202.9h1.3v1.3h-1.3zM355.3 241.0h1.3v1.3h-1.3zM402.6 208.0h1.3v1.3h-1.3zM337.4 226.2h1.3v1.3h-1.3zM337.4 201.2h1.3v1.3h-1.3zM396.4 206.8h1.3v1.3h-1.3zM368.4 235.1h1.3v1.3h-1.3zM369.4 230.4h1.3v1.3h-1.3zM385.1 230.5h1.3v1.3h-1.3zM352.5 214.1h1.3v1.3h-1.3zM407.7 216.9h1.3v1.3h-1.3zM339.0 220.4h1.3v1.3h-1.3zM390.6 220.2h1.3v1.3h-1.3zM357.1 227.3h1.3v1.3h-1.3zM346.4 230.2h1.3v1.3h-1.3zM399.2 205.1h1.3v1.3h-1.3zM416.6 206.2h1.3v1.3h-1.3zM369.2 226.1h1.3v1.3h-1.3zM369.5 228.6h1.3v1.3h-1.3zM333.7 223.3h1.3v1.3h-1.3zM403.3 202.9h1.3v1.3h-1.3zM401.0 208.0h1.3v1.3h-1.3zM356.6 221.5h1.3v1.3h-1.3zM364.1 228.5h1.3v1.3h-1.3zM335.6 239.3h1.3v1.3h-1.3zM372.0 216.8h1.3v1.3h-1.3zM361.9 209.9h1.3v1.3h-1.3zM376.0 212.4h1.3v1.3h-1.3zM398.5 216.8h1.3v1.3h-1.3zM329.6 224.0h1.3v1.3h-1.3zM357.3 212.1h1.3v1.3h-1.3zM379.5 208.2h1.3v1.3h-1.3zM388.7 229.0h1.3v1.3h-1.3zM387.7 218.7h1.3v1.3h-1.3zM355.8 225.7h1.3v1.3h-1.3zM388.8 206.6h1.3v1.3h-1.3zM394.0 224.4h1.3v1.3h-1.3zM359.4 239.4h1.3v1.3h-1.3zM370.0 214.0h1.3v1.3h-1.3zM355.6 220.6h1.3v1.3h-1.3zM377.2 208.9h1.3v1.3h-1.3zM354.4 229.1h1.3v1.3h-1.3zM355.7 209.2h1.3v1.3h-1.3zM395.7 212.3h1.3v1.3h-1.3zM377.0 215.7h1.3v1.3h-1.3zM376.6 218.2h1.3v1.3h-1.3zM364.9 229.4h1.3v1.3h-1.3zM358.3 209.3h1.3v1.3h-1.3zM383.8 214.2h1.3v1.3h-1.3zM367.5 218.7h1.3v1.3h-1.3zM379.8 220.6h1.3v1.3h-1.3zM376.4 214.9h1.3v1.3h-1.3zM356.0 228.3h1.3v1.3h-1.3zM350.6 231.9h1.3v1.3h-1.3zM391.4 230.4h1.3v1.3h-1.3zM366.4 224.1h1.3v1.3h-1.3zM358.8 220.9h1.3v1.3h-1.3zM396.6 210.5h1.3v1.3h-1.3zM369.1 223.4h1.3v1.3h-1.3zM369.4 211.8h1.3v1.3h-1.3zM363.6 228.9h1.3v1.3h-1.3zM344.8 233.8h1.3v1.3h-1.3zM342.1 217.9h1.3v1.3h-1.3zM379.8 217.5h1.3v1.3h-1.3zM403.7 214.1h1.3v1.3h-1.3zM388.4 207.3h1.3v1.3h-1.3zM338.7 238.9h1.3v1.3h-1.3zM352.1 216.6h1.3v1.3h-1.3zM400.2 219.4h1.3v1.3h-1.3zM394.8 214.5h1.3v1.3h-1.3zM363.6 224.4h1.3v1.3h-1.3zM365.2 233.6h1.3v1.3h-1.3zM350.5 233.2h1.3v1.3h-1.3zM382.8 199.1h1.3v1.3h-1.3zM431.2 204.0h1.3v1.3h-1.3zM334.9 231.3h1.3v1.3h-1.3zM351.8 208.5h1.3v1.3h-1.3zM384.5 220.0h1.3v1.3h-1.3zM392.4 208.2h1.3v1.3h-1.3zM337.0 231.7h1.3v1.3h-1.3zM367.0 219.2h1.3v1.3h-1.3zM375.0 219.7h1.3v1.3h-1.3zM376.3 221.2h1.3v1.3h-1.3zM352.8 211.8h1.3v1.3h-1.3zM380.0 212.4h1.3v1.3h-1.3zM337.7 228.7h1.3v1.3h-1.3zM389.9 222.7h1.3v1.3h-1.3zM395.9 214.2h1.3v1.3h-1.3zM380.9 216.5h1.3v1.3h-1.3zM376.9 207.5h1.3v1.3h-1.3zM363.4 208.5h1.3v1.3h-1.3zM355.2 229.6h1.3v1.3h-1.3zM387.5 221.7h1.3v1.3h-1.3zM364.1 213.2h1.3v1.3h-1.3zM398.3 224.0h1.3v1.3h-1.3zM383.1 200.6h1.3v1.3h-1.3zM398.0 212.5h1.3v1.3h-1.3zM359.2 223.7h1.3v1.3h-1.3zM347.2 226.8h1.3v1.3h-1.3zM368.1 220.1h1.3v1.3h-1.3zM397.7 212.5h1.3v1.3h-1.3zM340.6 218.7h1.3v1.3h-1.3zM349.0 227.7h1.3v1.3h-1.3zM369.3 221.3h1.3v1.3h-1.3zM350.5 225.8h1.3v1.3h-1.3zM419.4 209.3h1.3v1.3h-1.3zM369.2 210.2h1.3v1.3h-1.3zM388.3 207.6h1.3v1.3h-1.3zM390.8 227.6h1.3v1.3h-1.3zM353.5 222.1h1.3v1.3h-1.3zM383.0 205.1h1.3v1.3h-1.3zM382.3 216.9h1.3v1.3h-1.3zM373.0 219.2h1.3v1.3h-1.3zM377.5 211.3h1.3v1.3h-1.3zM364.8 226.1h1.3v1.3h-1.3zM353.7 214.7h1.3v1.3h-1.3zM399.9 202.7h1.3v1.3h-1.3zM390.7 206.4h1.3v1.3h-1.3zM372.1 212.9h1.3v1.3h-1.3zM349.4 225.7h1.3v1.3h-1.3zM356.3 216.8h1.3v1.3h-1.3zM359.6 222.2h1.3v1.3h-1.3zM380.8 205.2h1.3v1.3h-1.3zM355.0 229.7h1.3v1.3h-1.3zM389.8 221.3h1.3v1.3h-1.3zM381.9 219.5h1.3v1.3h-1.3zM369.9 232.3h1.3v1.3h-1.3zM387.6 217.4h1.3v1.3h-1.3zM352.7 207.6h1.3v1.3h-1.3zM387.6 187.1h1.3v1.3h-1.3zM381.0 218.1h1.3v1.3h-1.3zM374.5 205.1h1.3v1.3h-1.3zM371.6 214.6h1.3v1.3h-1.3zM383.3 221.7h1.3v1.3h-1.3zM374.9 220.9h1.3v1.3h-1.3zM345.2 218.8h1.3v1.3h-1.3zM386.6 213.3h1.3v1.3h-1.3zM352.5 238.5h1.3v1.3h-1.3zM382.7 215.7h1.3v1.3h-1.3zM335.7 228.5h1.3v1.3h-1.3zM339.3 227.2h1.3v1.3h-1.3zM375.3 214.3h1.3v1.3h-1.3zM376.9 215.3h1.3v1.3h-1.3zM347.5 227.6h1.3v1.3h-1.3zM361.1 222.7h1.3v1.3h-1.3zM378.0 211.6h1.3v1.3h-1.3zM407.5 227.5h1.3v1.3h-1.3zM380.8 217.0h1.3v1.3h-1.3zM421.4 197.1h1.3v1.3h-1.3zM336.4 224.8h1.3v1.3h-1.3zM360.9 213.5h1.3v1.3h-1.3zM349.3 225.0h1.3v1.3h-1.3zM369.3 219.4h1.3v1.3h-1.3zM359.5 235.3h1.3v1.3h-1.3zM382.1 207.6h1.3v1.3h-1.3zM370.7 226.0h1.3v1.3h-1.3zM376.6 212.4h1.3v1.3h-1.3zM368.4 219.0h1.3v1.3h-1.3zM402.6 217.9h1.3v1.3h-1.3zM360.1 235.6h1.3v1.3h-1.3zM357.0 227.7h1.3v1.3h-1.3zM351.4 228.9h1.3v1.3h-1.3zM411.0 208.6h1.3v1.3h-1.3zM369.7 201.9h1.3v1.3h-1.3zM370.8 231.4h1.3v1.3h-1.3zM380.9 222.5h1.3v1.3h-1.3zM407.6 217.5h1.3v1.3h-1.3zM359.6 233.5h1.3v1.3h-1.3zM374.3 225.0h1.3v1.3h-1.3zM370.7 221.1h1.3v1.3h-1.3zM358.9 214.4h1.3v1.3h-1.3zM392.4 211.8h1.3v1.3h-1.3zM352.7 231.4h1.3v1.3h-1.3zM378.0 198.2h1.3v1.3h-1.3zM362.3 226.6h1.3v1.3h-1.3zM357.1 230.4h1.3v1.3h-1.3zM351.1 225.3h1.3v1.3h-1.3zM403.2 209.3h1.3v1.3h-1.3zM361.1 233.2h1.3v1.3h-1.3zM376.8 216.8h1.3v1.3h-1.3zM345.6 233.5h1.3v1.3h-1.3zM371.2 210.5h1.3v1.3h-1.3zM385.7 212.6h1.3v1.3h-1.3zM365.2 217.4h1.3v1.3h-1.3zM371.9 201.5h1.3v1.3h-1.3zM347.7 227.5h1.3v1.3h-1.3zM399.6 212.3h1.3v1.3h-1.3zM403.0 209.7h1.3v1.3h-1.3zM375.3 219.8h1.3v1.3h-1.3zM342.3 233.5h1.3v1.3h-1.3zM420.1 199.7h1.3v1.3h-1.3zM385.3 207.0h1.3v1.3h-1.3zM384.5 206.7h1.3v1.3h-1.3zM366.4 221.2h1.3v1.3h-1.3zM393.4 214.6h1.3v1.3h-1.3zM343.4 227.6h1.3v1.3h-1.3zM360.4 216.5h1.3v1.3h-1.3zM356.6 230.2h1.3v1.3h-1.3zM365.0 208.1h1.3v1.3h-1.3zM371.1 216.9h1.3v1.3h-1.3zM372.4 215.6h1.3v1.3h-1.3zM392.2 201.7h1.3v1.3h-1.3zM336.6 217.5h1.3v1.3h-1.3zM372.1 220.3h1.3v1.3h-1.3zM424.0 204.8h1.3v1.3h-1.3zM414.2 198.9h1.3v1.3h-1.3zM349.9 220.4h1.3v1.3h-1.3zM388.1 214.4h1.3v1.3h-1.3zM321.8 234.5h1.3v1.3h-1.3zM368.0 227.4h1.3v1.3h-1.3zM411.7 208.8h1.3v1.3h-1.3zM363.7 222.5h1.3v1.3h-1.3zM355.2 228.5h1.3v1.3h-1.3zM374.2 214.9h1.3v1.3h-1.3zM361.2 221.6h1.3v1.3h-1.3zM342.1 222.3h1.3v1.3h-1.3zM355.9 220.8h1.3v1.3h-1.3zM352.5 227.2h1.3v1.3h-1.3zM376.8 225.8h1.3v1.3h-1.3zM425.6 203.3h1.3v1.3h-1.3zM370.6 223.9h1.3v1.3h-1.3zM406.7 197.8h1.3v1.3h-1.3zM378.6 226.4h1.3v1.3h-1.3zM361.3 216.2h1.3v1.3h-1.3zM361.1 229.9h1.3v1.3h-1.3zM346.5 230.8h1.3v1.3h-1.3zM372.5 222.7h1.3v1.3h-1.3zM372.6 196.6h1.3v1.3h-1.3zM410.5 215.1h1.3v1.3h-1.3zM379.6 215.2h1.3v1.3h-1.3zM369.2 210.8h1.3v1.3h-1.3zM365.0 222.3h1.3v1.3h-1.3zM364.1 220.9h1.3v1.3h-1.3zM400.0 204.3h1.3v1.3h-1.3zM343.1 229.3h1.3v1.3h-1.3zM354.9 216.5h1.3v1.3h-1.3zM377.0 209.8h1.3v1.3h-1.3zM370.8 232.7h1.3v1.3h-1.3zM381.9 213.4h1.3v1.3h-1.3zM383.1 224.7h1.3v1.3h-1.3zM373.9 222.6h1.3v1.3h-1.3zM357.3 219.3h1.3v1.3h-1.3zM379.8 222.5h1.3v1.3h-1.3zM335.1 246.9h1.3v1.3h-1.3zM359.7 212.8h1.3v1.3h-1.3zM371.0 235.2h1.3v1.3h-1.3zM353.5 219.9h1.3v1.3h-1.3zM408.3 199.0h1.3v1.3h-1.3zM380.1 214.2h1.3v1.3h-1.3zM349.2 227.7h1.3v1.3h-1.3zM365.0 225.7h1.3v1.3h-1.3zM373.5 220.5h1.3v1.3h-1.3zM379.5 205.0h1.3v1.3h-1.3zM388.2 210.3h1.3v1.3h-1.3zM367.0 230.8h1.3v1.3h-1.3zM369.7 214.5h1.3v1.3h-1.3zM350.3 214.5h1.3v1.3h-1.3zM364.9 217.1h1.3v1.3h-1.3zM365.1 229.4h1.3v1.3h-1.3zM416.9 214.2h1.3v1.3h-1.3zM392.0 216.6h1.3v1.3h-1.3zM378.2 222.3h1.3v1.3h-1.3zM363.2 213.4h1.3v1.3h-1.3zM414.2 212.6h1.3v1.3h-1.3zM372.4 210.7h1.3v1.3h-1.3zM358.5 216.3h1.3v1.3h-1.3zM355.2 218.0h1.3v1.3h-1.3zM381.6 206.1h1.3v1.3h-1.3zM380.0 224.7h1.3v1.3h-1.3zM386.5 222.2h1.3v1.3h-1.3zM388.4 201.9h1.3v1.3h-1.3zM385.0 218.5h1.3v1.3h-1.3zM398.0 209.4h1.3v1.3h-1.3zM345.2 228.0h1.3v1.3h-1.3zM402.9 211.7h1.3v1.3h-1.3zM374.8 219.7h1.3v1.3h-1.3zM335.7 231.9h1.3v1.3h-1.3zM379.9 214.2h1.3v1.3h-1.3zM368.4 235.1h1.3v1.3h-1.3zM398.6 205.1h1.3v1.3h-1.3zM394.3 201.9h1.3v1.3h-1.3zM362.5 225.1h1.3v1.3h-1.3zM379.0 203.3h1.3v1.3h-1.3zM335.7 229.7h1.3v1.3h-1.3zM356.7 217.9h1.3v1.3h-1.3zM403.8 211.3h1.3v1.3h-1.3zM345.3 225.0h1.3v1.3h-1.3zM366.0 231.3h1.3v1.3h-1.3zM391.3 216.5h1.3v1.3h-1.3zM386.9 223.7h1.3v1.3h-1.3zM395.9 222.2h1.3v1.3h-1.3zM394.9 225.3h1.3v1.3h-1.3zM402.0 212.4h1.3v1.3h-1.3zM338.5 229.0h1.3v1.3h-1.3zM379.5 223.3h1.3v1.3h-1.3zM361.5 218.8h1.3v1.3h-1.3zM368.5 242.1h1.3v1.3h-1.3zM362.9 217.2h1.3v1.3h-1.3zM378.6 208.5h1.3v1.3h-1.3zM357.2 202.7h1.3v1.3h-1.3zM389.5 210.7h1.3v1.3h-1.3zM395.6 204.1h1.3v1.3h-1.3zM374.4 222.0h1.3v1.3h-1.3zM394.3 208.5h1.3v1.3h-1.3zM331.2 237.6h1.3v1.3h-1.3zM382.3 214.3h1.3v1.3h-1.3zM378.2 211.3h1.3v1.3h-1.3zM375.3 205.0h1.3v1.3h-1.3zM359.4 224.4h1.3v1.3h-1.3zM379.1 210.3h1.3v1.3h-1.3zM389.2 201.9h1.3v1.3h-1.3zM361.8 211.9h1.3v1.3h-1.3zM382.3 223.0h1.3v1.3h-1.3zM369.2 202.9h1.3v1.3h-1.3zM389.1 216.7h1.3v1.3h-1.3zM320.3 237.9h1.3v1.3h-1.3zM357.0 221.5h1.3v1.3h-1.3zM422.1 198.4h1.3v1.3h-1.3zM378.9 223.1h1.3v1.3h-1.3zM346.5 226.6h1.3v1.3h-1.3zM362.0 197.9h1.3v1.3h-1.3zM363.4 225.0h1.3v1.3h-1.3zM396.6 210.5h1.3v1.3h-1.3zM345.5 215.5h1.3v1.3h-1.3zM365.4 229.8h1.3v1.3h-1.3zM379.1 212.3h1.3v1.3h-1.3zM364.9 214.6h1.3v1.3h-1.3zM389.9 219.6h1.3v1.3h-1.3zM327.7 248.3h1.3v1.3h-1.3zM369.4 209.3h1.3v1.3h-1.3zM393.8 201.3h1.3v1.3h-1.3zM412.3 206.6h1.3v1.3h-1.3zM395.0 223.1h1.3v1.3h-1.3zM387.1 210.8h1.3v1.3h-1.3zM370.1 221.8h1.3v1.3h-1.3zM348.0 223.5h1.3v1.3h-1.3zM399.8 213.0h1.3v1.3h-1.3zM383.7 219.7h1.3v1.3h-1.3zM377.7 224.0h1.3v1.3h-1.3zM380.3 217.3h1.3v1.3h-1.3zM379.0 220.6h1.3v1.3h-1.3zM346.7 227.4h1.3v1.3h-1.3zM394.6 199.7h1.3v1.3h-1.3zM365.1 213.8h1.3v1.3h-1.3zM388.6 210.4h1.3v1.3h-1.3zM338.6 224.7h1.3v1.3h-1.3zM351.2 214.8h1.3v1.3h-1.3zM389.2 208.5h1.3v1.3h-1.3zM317.3 228.4h1.3v1.3h-1.3zM387.3 223.3h1.3v1.3h-1.3zM393.1 211.5h1.3v1.3h-1.3zM368.2 224.4h1.3v1.3h-1.3zM350.1 227.3h1.3v1.3h-1.3zM438.9 197.8h1.3v1.3h-1.3zM376.7 221.5h1.3v1.3h-1.3zM358.8 225.8h1.3v1.3h-1.3zM353.0 216.6h1.3v1.3h-1.3zM366.3 213.0h1.3v1.3h-1.3zM347.2 217.8h1.3v1.3h-1.3zM371.6 213.0h1.3v1.3h-1.3zM369.9 225.2h1.3v1.3h-1.3zM398.3 213.9h1.3v1.3h-1.3zM369.0 225.5h1.3v1.3h-1.3zM376.6 219.6h1.3v1.3h-1.3zM378.3 213.6h1.3v1.3h-1.3zM357.3 232.7h1.3v1.3h-1.3zM381.5 208.3h1.3v1.3h-1.3zM387.2 222.4h1.3v1.3h-1.3zM385.2 211.3h1.3v1.3h-1.3zM378.3 212.9h1.3v1.3h-1.3zM365.2 218.2h1.3v1.3h-1.3zM392.2 216.1h1.3v1.3h-1.3zM341.0 227.3h1.3v1.3h-1.3zM376.4 230.7h1.3v1.3h-1.3zM357.5 217.5h1.3v1.3h-1.3zM368.9 218.1h1.3v1.3h-1.3zM344.9 218.6h1.3v1.3h-1.3zM410.1 208.9h1.3v1.3h-1.3zM356.3 231.0h1.3v1.3h-1.3zM391.4 211.7h1.3v1.3h-1.3zM355.0 213.5h1.3v1.3h-1.3zM388.7 208.7h1.3v1.3h-1.3zM334.1 229.2h1.3v1.3h-1.3zM385.7 223.4h1.3v1.3h-1.3zM392.3 201.5h1.3v1.3h-1.3zM394.5 217.1h1.3v1.3h-1.3zM356.9 215.0h1.3v1.3h-1.3zM393.7 202.6h1.3v1.3h-1.3zM398.1 211.4h1.3v1.3h-1.3zM363.3 234.4h1.3v1.3h-1.3zM389.1 195.9h1.3v1.3h-1.3zM362.1 224.3h1.3v1.3h-1.3zM386.2 211.2h1.3v1.3h-1.3zM342.5 231.5h1.3v1.3h-1.3zM348.4 209.2h1.3v1.3h-1.3zM356.6 215.7h1.3v1.3h-1.3zM413.6 192.0h1.3v1.3h-1.3zM403.0 197.0h1.3v1.3h-1.3zM345.4 227.9h1.3v1.3h-1.3zM356.4 224.4h1.3v1.3h-1.3zM428.9 214.8h1.3v1.3h-1.3zM384.2 223.9h1.3v1.3h-1.3zM401.1 200.0h1.3v1.3h-1.3zM361.1 205.3h1.3v1.3h-1.3zM373.8 207.6h1.3v1.3h-1.3zM378.9 220.2h1.3v1.3h-1.3zM363.9 221.1h1.3v1.3h-1.3zM385.5 213.2h1.3v1.3h-1.3zM423.2 205.2h1.3v1.3h-1.3zM362.1 226.1h1.3v1.3h-1.3zM355.4 233.4h1.3v1.3h-1.3zM350.8 216.9h1.3v1.3h-1.3zM373.5 218.8h1.3v1.3h-1.3zM379.7 207.7h1.3v1.3h-1.3zM385.5 208.3h1.3v1.3h-1.3zM360.1 223.2h1.3v1.3h-1.3zM355.4 223.3h1.3v1.3h-1.3zM354.5 225.6h1.3v1.3h-1.3zM368.4 220.6h1.3v1.3h-1.3zM366.4 223.2h1.3v1.3h-1.3zM400.5 212.6h1.3v1.3h-1.3zM350.3 222.5h1.3v1.3h-1.3zM348.6 232.5h1.3v1.3h-1.3zM374.0 230.0h1.3v1.3h-1.3zM302.5 235.0h1.3v1.3h-1.3zM394.5 224.3h1.3v1.3h-1.3zM352.8 218.9h1.3v1.3h-1.3zM329.2 236.4h1.3v1.3h-1.3zM346.1 226.6h1.3v1.3h-1.3zM329.5 223.0h1.3v1.3h-1.3zM369.0 216.5h1.3v1.3h-1.3zM365.1 235.9h1.3v1.3h-1.3zM368.9 228.9h1.3v1.3h-1.3zM372.4 224.3h1.3v1.3h-1.3zM365.3 221.4h1.3v1.3h-1.3zM388.9 207.4h1.3v1.3h-1.3zM350.4 224.0h1.3v1.3h-1.3zM403.7 205.4h1.3v1.3h-1.3zM356.4 223.2h1.3v1.3h-1.3zM364.6 212.8h1.3v1.3h-1.3zM372.9 214.8h1.3v1.3h-1.3zM420.0 215.0h1.3v1.3h-1.3zM350.2 237.1h1.3v1.3h-1.3zM337.7 221.0h1.3v1.3h-1.3zM378.5 203.8h1.3v1.3h-1.3zM329.5 236.4h1.3v1.3h-1.3zM403.4 201.4h1.3v1.3h-1.3zM391.3 206.0h1.3v1.3h-1.3zM372.9 217.8h1.3v1.3h-1.3zM372.9 211.3h1.3v1.3h-1.3zM368.6 216.4h1.3v1.3h-1.3zM403.6 217.7h1.3v1.3h-1.3zM355.9 218.1h1.3v1.3h-1.3zM366.5 220.6h1.3v1.3h-1.3zM417.5 202.1h1.3v1.3h-1.3zM363.1 212.1h1.3v1.3h-1.3zM426.6 211.1h1.3v1.3h-1.3zM357.7 221.0h1.3v1.3h-1.3zM358.4 205.3h1.3v1.3h-1.3zM383.5 217.7h1.3v1.3h-1.3zM382.8 221.0h1.3v1.3h-1.3zM359.1 220.7h1.3v1.3h-1.3zM423.8 220.6h1.3v1.3h-1.3zM381.2 205.1h1.3v1.3h-1.3zM388.2 198.9h1.3v1.3h-1.3zM381.9 214.1h1.3v1.3h-1.3zM369.3 225.1h1.3v1.3h-1.3zM407.5 217.0h1.3v1.3h-1.3zM369.5 222.6h1.3v1.3h-1.3zM355.2 239.4h1.3v1.3h-1.3zM363.9 219.1h1.3v1.3h-1.3zM375.3 210.6h1.3v1.3h-1.3zM368.6 223.7h1.3v1.3h-1.3zM378.8 211.0h1.3v1.3h-1.3zM352.6 234.8h1.3v1.3h-1.3zM350.0 216.0h1.3v1.3h-1.3zM393.8 218.6h1.3v1.3h-1.3zM374.6 210.9h1.3v1.3h-1.3zM400.9 214.9h1.3v1.3h-1.3zM367.0 208.7h1.3v1.3h-1.3zM424.3 191.8h1.3v1.3h-1.3zM347.5 221.3h1.3v1.3h-1.3zM365.7 220.1h1.3v1.3h-1.3zM357.8 225.5h1.3v1.3h-1.3zM371.9 204.3h1.3v1.3h-1.3zM387.3 210.4h1.3v1.3h-1.3zM372.7 223.4h1.3v1.3h-1.3zM367.2 209.9h1.3v1.3h-1.3zM390.1 198.0h1.3v1.3h-1.3zM377.8 216.5h1.3v1.3h-1.3zM337.2 224.6h1.3v1.3h-1.3zM334.9 216.7h1.3v1.3h-1.3zM358.5 221.7h1.3v1.3h-1.3zM342.9 229.7h1.3v1.3h-1.3zM352.0 214.9h1.3v1.3h-1.3zM377.5 225.3h1.3v1.3h-1.3zM330.4 230.0h1.3v1.3h-1.3zM361.6 229.2h1.3v1.3h-1.3zM384.9 215.7h1.3v1.3h-1.3zM374.6 221.7h1.3v1.3h-1.3zM359.8 224.8h1.3v1.3h-1.3zM337.5 222.7h1.3v1.3h-1.3zM380.9 228.5h1.3v1.3h-1.3zM374.4 208.5h1.3v1.3h-1.3zM377.3 206.7h1.3v1.3h-1.3zM366.4 219.5h1.3v1.3h-1.3zM344.0 232.5h1.3v1.3h-1.3zM332.7 235.6h1.3v1.3h-1.3zM377.4 212.5h1.3v1.3h-1.3zM397.3 209.9h1.3v1.3h-1.3zM350.7 220.6h1.3v1.3h-1.3zM369.0 205.3h1.3v1.3h-1.3zM414.5 198.9h1.3v1.3h-1.3zM347.6 228.7h1.3v1.3h-1.3zM376.3 222.1h1.3v1.3h-1.3zM383.5 209.5h1.3v1.3h-1.3zM390.3 211.1h1.3v1.3h-1.3zM353.0 229.6h1.3v1.3h-1.3zM369.5 208.6h1.3v1.3h-1.3zM406.2 201.0h1.3v1.3h-1.3zM380.0 210.6h1.3v1.3h-1.3zM389.9 203.2h1.3v1.3h-1.3zM390.7 224.4h1.3v1.3h-1.3zM392.8 209.2h1.3v1.3h-1.3zM362.2 216.7h1.3v1.3h-1.3zM378.4 216.6h1.3v1.3h-1.3zM335.6 227.2h1.3v1.3h-1.3zM384.2 214.9h1.3v1.3h-1.3zM337.8 224.0h1.3v1.3h-1.3zM387.7 212.2h1.3v1.3h-1.3zM381.4 218.0h1.3v1.3h-1.3zM357.9 217.9h1.3v1.3h-1.3zM364.5 218.6h1.3v1.3h-1.3zM442.6 192.9h1.3v1.3h-1.3zM375.1 229.3h1.3v1.3h-1.3zM374.2 211.6h1.3v1.3h-1.3zM356.9 223.9h1.3v1.3h-1.3zM323.4 227.2h1.3v1.3h-1.3zM359.3 216.3h1.3v1.3h-1.3zM401.7 210.9h1.3v1.3h-1.3zM393.5 210.1h1.3v1.3h-1.3zM367.7 221.2h1.3v1.3h-1.3zM353.7 213.3h1.3v1.3h-1.3zM391.2 220.2h1.3v1.3h-1.3zM390.4 218.3h1.3v1.3h-1.3zM339.6 217.9h1.3v1.3h-1.3zM344.5 216.6h1.3v1.3h-1.3zM376.5 209.9h1.3v1.3h-1.3zM383.2 206.1h1.3v1.3h-1.3zM379.7 211.4h1.3v1.3h-1.3zM377.5 208.1h1.3v1.3h-1.3zM363.7 212.5h1.3v1.3h-1.3zM404.7 209.3h1.3v1.3h-1.3zM381.7 219.1h1.3v1.3h-1.3zM365.9 217.6h1.3v1.3h-1.3zM364.8 226.6h1.3v1.3h-1.3zM371.5 216.6h1.3v1.3h-1.3zM379.1 210.6h1.3v1.3h-1.3zM333.8 217.8h1.3v1.3h-1.3zM368.4 224.8h1.3v1.3h-1.3zM364.1 216.8h1.3v1.3h-1.3zM391.0 215.4h1.3v1.3h-1.3zM375.6 229.0h1.3v1.3h-1.3zM375.8 217.7h1.3v1.3h-1.3zM362.8 213.8h1.3v1.3h-1.3zM410.9 199.3h1.3v1.3h-1.3zM355.3 211.0h1.3v1.3h-1.3zM364.9 220.2h1.3v1.3h-1.3zM359.6 217.9h1.3v1.3h-1.3zM384.1 213.5h1.3v1.3h-1.3zM367.6 220.2h1.3v1.3h-1.3zM363.5 212.9h1.3v1.3h-1.3zM360.9 222.1h1.3v1.3h-1.3zM367.6 224.8h1.3v1.3h-1.3zM367.2 230.3h1.3v1.3h-1.3zM381.0 211.3h1.3v1.3h-1.3zM365.7 207.9h1.3v1.3h-1.3zM354.5 218.6h1.3v1.3h-1.3zM382.5 219.1h1.3v1.3h-1.3zM367.0 212.6h1.3v1.3h-1.3zM373.5 215.4h1.3v1.3h-1.3zM402.3 207.9h1.3v1.3h-1.3zM336.1 233.4h1.3v1.3h-1.3zM390.1 213.9h1.3v1.3h-1.3zM348.9 239.2h1.3v1.3h-1.3zM379.1 204.6h1.3v1.3h-1.3zM345.2 241.7h1.3v1.3h-1.3zM382.9 219.0h1.3v1.3h-1.3zM365.8 222.1h1.3v1.3h-1.3zM352.8 220.0h1.3v1.3h-1.3zM391.9 209.6h1.3v1.3h-1.3zM360.2 213.4h1.3v1.3h-1.3zM369.8 214.2h1.3v1.3h-1.3zM352.1 218.5h1.3v1.3h-1.3zM388.2 203.7h1.3v1.3h-1.3zM372.8 214.4h1.3v1.3h-1.3zM359.8 214.7h1.3v1.3h-1.3zM388.9 205.1h1.3v1.3h-1.3zM363.9 229.3h1.3v1.3h-1.3zM370.7 219.8h1.3v1.3h-1.3zM356.2 217.8h1.3v1.3h-1.3zM392.5 209.3h1.3v1.3h-1.3zM396.0 208.3h1.3v1.3h-1.3zM351.3 228.1h1.3v1.3h-1.3zM364.6 214.8h1.3v1.3h-1.3zM391.9 211.4h1.3v1.3h-1.3zM393.9 218.0h1.3v1.3h-1.3zM369.8 207.3h1.3v1.3h-1.3zM381.7 207.4h1.3v1.3h-1.3zM331.9 241.5h1.3v1.3h-1.3zM353.7 215.5h1.3v1.3h-1.3zM406.9 212.8h1.3v1.3h-1.3zM351.2 231.3h1.3v1.3h-1.3zM353.2 219.0h1.3v1.3h-1.3zM365.5 205.7h1.3v1.3h-1.3zM387.6 218.7h1.3v1.3h-1.3zM377.2 217.6h1.3v1.3h-1.3zM389.1 206.4h1.3v1.3h-1.3zM364.8 213.3h1.3v1.3h-1.3zM384.4 215.1h1.3v1.3h-1.3zM377.7 211.3h1.3v1.3h-1.3zM365.4 224.8h1.3v1.3h-1.3zM399.3 210.3h1.3v1.3h-1.3zM359.6 217.9h1.3v1.3h-1.3zM340.8 226.1h1.3v1.3h-1.3zM343.3 229.1h1.3v1.3h-1.3zM334.3 233.7h1.3v1.3h-1.3zM391.3 213.9h1.3v1.3h-1.3zM346.4 212.1h1.3v1.3h-1.3zM358.9 210.5h1.3v1.3h-1.3zM361.1 231.8h1.3v1.3h-1.3zM411.5 210.1h1.3v1.3h-1.3zM388.4 204.5h1.3v1.3h-1.3zM344.3 225.0h1.3v1.3h-1.3zM360.1 216.7h1.3v1.3h-1.3zM372.0 227.3h1.3v1.3h-1.3zM373.5 211.8h1.3v1.3h-1.3zM366.0 215.4h1.3v1.3h-1.3zM361.0 221.3h1.3v1.3h-1.3zM379.7 214.7h1.3v1.3h-1.3zM399.2 203.3h1.3v1.3h-1.3zM390.2 207.5h1.3v1.3h-1.3zM375.6 225.5h1.3v1.3h-1.3zM394.8 198.6h1.3v1.3h-1.3zM377.1 218.3h1.3v1.3h-1.3zM371.5 209.1h1.3v1.3h-1.3zM378.4 223.4h1.3v1.3h-1.3zM368.7 224.5h1.3v1.3h-1.3zM368.0 225.6h1.3v1.3h-1.3zM353.8 211.9h1.3v1.3h-1.3zM394.5 223.5h1.3v1.3h-1.3zM351.6 226.9h1.3v1.3h-1.3zM364.1 230.3h1.3v1.3h-1.3zM391.1 224.5h1.3v1.3h-1.3zM387.0 208.5h1.3v1.3h-1.3zM364.6 224.8h1.3v1.3h-1.3zM373.6 216.3h1.3v1.3h-1.3zM328.0 239.4h1.3v1.3h-1.3zM383.6 215.5h1.3v1.3h-1.3zM363.5 227.6h1.3v1.3h-1.3zM357.4 227.6h1.3v1.3h-1.3zM431.4 210.6h1.3v1.3h-1.3zM404.8 205.2h1.3v1.3h-1.3zM376.8 215.1h1.3v1.3h-1.3zM364.3 208.1h1.3v1.3h-1.3zM383.1 215.0h1.3v1.3h-1.3zM369.7 217.0h1.3v1.3h-1.3zM348.2 226.8h1.3v1.3h-1.3zM359.1 216.9h1.3v1.3h-1.3zM385.0 228.0h1.3v1.3h-1.3zM367.6 211.8h1.3v1.3h-1.3zM345.0 234.1h1.3v1.3h-1.3zM393.5 212.9h1.3v1.3h-1.3zM362.8 229.4h1.3v1.3h-1.3zM375.9 220.9h1.3v1.3h-1.3zM376.8 213.4h1.3v1.3h-1.3zM387.2 216.0h1.3v1.3h-1.3zM361.2 220.6h1.3v1.3h-1.3zM370.3 217.1h1.3v1.3h-1.3zM361.1 222.6h1.3v1.3h-1.3zM359.9 225.6h1.3v1.3h-1.3zM375.6 208.3h1.3v1.3h-1.3zM361.0 216.6h1.3v1.3h-1.3zM379.6 214.9h1.3v1.3h-1.3zM386.7 217.9h1.3v1.3h-1.3zM384.3 212.2h1.3v1.3h-1.3zM298.5 235.6h1.3v1.3h-1.3zM385.0 199.8h1.3v1.3h-1.3zM349.9 223.3h1.3v1.3h-1.3zM379.8 222.9h1.3v1.3h-1.3zM397.7 207.4h1.3v1.3h-1.3zM355.5 231.3h1.3v1.3h-1.3zM363.5 202.7h1.3v1.3h-1.3zM418.0 223.4h1.3v1.3h-1.3zM333.8 223.5h1.3v1.3h-1.3zM370.1 223.1h1.3v1.3h-1.3zM385.1 213.5h1.3v1.3h-1.3zM378.4 214.1h1.3v1.3h-1.3zM349.3 214.4h1.3v1.3h-1.3zM362.6 212.1h1.3v1.3h-1.3zM387.0 213.4h1.3v1.3h-1.3zM375.3 217.3h1.3v1.3h-1.3zM333.3 231.0h1.3v1.3h-1.3zM381.4 227.2h1.3v1.3h-1.3zM340.7 218.5h1.3v1.3h-1.3zM389.5 224.5h1.3v1.3h-1.3zM382.1 215.4h1.3v1.3h-1.3zM393.0 214.4h1.3v1.3h-1.3zM367.6 224.7h1.3v1.3h-1.3zM376.1 217.7h1.3v1.3h-1.3zM358.4 224.2h1.3v1.3h-1.3zM356.3 217.6h1.3v1.3h-1.3zM350.4 235.4h1.3v1.3h-1.3zM351.8 215.4h1.3v1.3h-1.3zM361.5 216.0h1.3v1.3h-1.3zM387.9 217.2h1.3v1.3h-1.3zM388.4 209.6h1.3v1.3h-1.3zM371.4 223.3h1.3v1.3h-1.3zM371.0 227.7h1.3v1.3h-1.3zM366.4 223.8h1.3v1.3h-1.3zM381.6 212.7h1.3v1.3h-1.3zM358.6 215.2h1.3v1.3h-1.3zM397.7 210.3h1.3v1.3h-1.3zM356.5 218.4h1.3v1.3h-1.3zM320.2 236.6h1.3v1.3h-1.3zM384.7 199.4h1.3v1.3h-1.3zM356.5 210.8h1.3v1.3h-1.3zM421.9 190.0h1.3v1.3h-1.3zM322.0 223.6h1.3v1.3h-1.3zM376.4 209.1h1.3v1.3h-1.3zM368.5 223.5h1.3v1.3h-1.3zM367.4 207.9h1.3v1.3h-1.3zM390.2 215.0h1.3v1.3h-1.3zM380.4 209.1h1.3v1.3h-1.3zM384.4 214.8h1.3v1.3h-1.3zM358.2 227.3h1.3v1.3h-1.3zM362.9 224.6h1.3v1.3h-1.3zM338.5 237.8h1.3v1.3h-1.3zM391.0 221.0h1.3v1.3h-1.3zM344.2 226.0h1.3v1.3h-1.3zM403.2 199.8h1.3v1.3h-1.3zM363.4 228.0h1.3v1.3h-1.3zM360.7 227.9h1.3v1.3h-1.3zM360.5 217.5h1.3v1.3h-1.3zM349.4 230.0h1.3v1.3h-1.3zM366.7 219.6h1.3v1.3h-1.3zM355.8 228.3h1.3v1.3h-1.3zM348.0 230.2h1.3v1.3h-1.3zM383.4 216.6h1.3v1.3h-1.3zM305.5 231.8h1.3v1.3h-1.3zM370.7 224.8h1.3v1.3h-1.3zM366.7 242.1h1.3v1.3h-1.3zM336.6 219.0h1.3v1.3h-1.3zM418.1 188.7h1.3v1.3h-1.3zM356.4 222.0h1.3v1.3h-1.3zM389.0 222.4h1.3v1.3h-1.3zM409.8 212.9h1.3v1.3h-1.3zM379.8 224.4h1.3v1.3h-1.3zM380.1 215.8h1.3v1.3h-1.3zM395.5 220.1h1.3v1.3h-1.3zM372.0 204.2h1.3v1.3h-1.3zM346.5 222.4h1.3v1.3h-1.3zM381.6 219.0h1.3v1.3h-1.3zM366.4 208.8h1.3v1.3h-1.3zM396.8 206.7h1.3v1.3h-1.3zM378.0 224.8h1.3v1.3h-1.3zM374.2 203.8h1.3v1.3h-1.3zM394.9 221.8h1.3v1.3h-1.3zM327.4 235.3h1.3v1.3h-1.3zM375.8 221.0h1.3v1.3h-1.3zM365.5 217.1h1.3v1.3h-1.3zM391.6 210.9h1.3v1.3h-1.3zM399.2 221.1h1.3v1.3h-1.3zM382.3 211.8h1.3v1.3h-1.3zM340.0 217.3h1.3v1.3h-1.3zM337.6 238.4h1.3v1.3h-1.3zM430.0 192.0h1.3v1.3h-1.3zM380.3 205.3h1.3v1.3h-1.3zM397.1 219.5h1.3v1.3h-1.3zM382.7 204.3h1.3v1.3h-1.3zM368.7 218.3h1.3v1.3h-1.3zM362.1 215.1h1.3v1.3h-1.3zM360.2 225.7h1.3v1.3h-1.3zM345.6 232.3h1.3v1.3h-1.3zM376.9 213.0h1.3v1.3h-1.3zM363.8 228.2h1.3v1.3h-1.3zM379.6 213.1h1.3v1.3h-1.3zM399.8 214.0h1.3v1.3h-1.3zM363.2 216.5h1.3v1.3h-1.3zM405.3 209.0h1.3v1.3h-1.3zM370.4 225.5h1.3v1.3h-1.3zM364.0 213.0h1.3v1.3h-1.3zM390.7 204.2h1.3v1.3h-1.3zM336.5 221.4h1.3v1.3h-1.3zM352.1 218.9h1.3v1.3h-1.3zM320.6 232.9h1.3v1.3h-1.3zM353.0 213.5h1.3v1.3h-1.3zM374.8 207.2h1.3v1.3h-1.3zM362.6 205.5h1.3v1.3h-1.3zM362.5 206.1h1.3v1.3h-1.3zM361.6 228.3h1.3v1.3h-1.3zM391.7 215.5h1.3v1.3h-1.3zM370.9 228.5h1.3v1.3h-1.3zM364.7 219.1h1.3v1.3h-1.3zM356.8 219.2h1.3v1.3h-1.3zM322.1 225.0h1.3v1.3h-1.3zM363.3 209.1h1.3v1.3h-1.3zM364.5 225.0h1.3v1.3h-1.3zM362.4 218.5h1.3v1.3h-1.3zM385.2 217.8h1.3v1.3h-1.3zM354.8 219.4h1.3v1.3h-1.3zM390.2 226.2h1.3v1.3h-1.3zM349.3 229.4h1.3v1.3h-1.3zM409.5 198.1h1.3v1.3h-1.3zM389.6 209.2h1.3v1.3h-1.3zM347.7 216.1h1.3v1.3h-1.3zM362.5 226.6h1.3v1.3h-1.3zM414.5 217.2h1.3v1.3h-1.3zM402.5 207.9h1.3v1.3h-1.3zM352.0 222.1h1.3v1.3h-1.3zM353.8 221.5h1.3v1.3h-1.3zM358.1 230.9h1.3v1.3h-1.3zM430.4 205.5h1.3v1.3h-1.3zM393.8 212.2h1.3v1.3h-1.3zM387.0 223.4h1.3v1.3h-1.3zM349.4 249.3h1.3v1.3h-1.3zM394.2 208.3h1.3v1.3h-1.3zM346.4 218.6h1.3v1.3h-1.3zM385.2 191.8h1.3v1.3h-1.3zM377.4 209.4h1.3v1.3h-1.3zM385.7 208.2h1.3v1.3h-1.3zM371.7 221.2h1.3v1.3h-1.3zM387.8 204.1h1.3v1.3h-1.3zM346.7 233.7h1.3v1.3h-1.3zM371.3 204.3h1.3v1.3h-1.3zM367.7 232.1h1.3v1.3h-1.3zM389.9 207.1h1.3v1.3h-1.3zM414.8 204.5h1.3v1.3h-1.3zM415.4 211.4h1.3v1.3h-1.3zM392.0 211.3h1.3v1.3h-1.3zM346.1 227.2h1.3v1.3h-1.3zM401.4 201.2h1.3v1.3h-1.3zM364.0 211.6h1.3v1.3h-1.3zM392.0 205.5h1.3v1.3h-1.3zM378.5 213.7h1.3v1.3h-1.3zM354.2 223.4h1.3v1.3h-1.3zM375.0 222.7h1.3v1.3h-1.3zM366.0 218.3h1.3v1.3h-1.3zM376.9 208.4h1.3v1.3h-1.3zM349.8 227.1h1.3v1.3h-1.3zM378.2 219.1h1.3v1.3h-1.3zM379.5 219.4h1.3v1.3h-1.3zM398.1 212.4h1.3v1.3h-1.3zM347.4 219.0h1.3v1.3h-1.3zM408.7 222.4h1.3v1.3h-1.3zM369.4 218.1h1.3v1.3h-1.3zM394.9 200.1h1.3v1.3h-1.3zM368.8 230.7h1.3v1.3h-1.3zM386.9 206.0h1.3v1.3h-1.3zM382.4 214.4h1.3v1.3h-1.3zM354.5 204.1h1.3v1.3h-1.3zM346.0 236.6h1.3v1.3h-1.3zM393.7 209.7h1.3v1.3h-1.3zM387.0 211.0h1.3v1.3h-1.3zM409.2 196.7h1.3v1.3h-1.3zM360.3 213.5h1.3v1.3h-1.3zM346.6 238.0h1.3v1.3h-1.3zM398.6 213.8h1.3v1.3h-1.3zM325.3 231.0h1.3v1.3h-1.3zM357.8 217.9h1.3v1.3h-1.3zM371.0 224.0h1.3v1.3h-1.3zM356.7 216.3h1.3v1.3h-1.3zM352.0 222.4h1.3v1.3h-1.3zM350.7 220.3h1.3v1.3h-1.3zM411.3 202.6h1.3v1.3h-1.3zM396.7 207.6h1.3v1.3h-1.3zM351.3 225.9h1.3v1.3h-1.3zM373.8 214.0h1.3v1.3h-1.3zM359.1 216.8h1.3v1.3h-1.3zM356.6 221.7h1.3v1.3h-1.3zM372.1 226.6h1.3v1.3h-1.3zM394.2 211.3h1.3v1.3h-1.3zM374.7 217.4h1.3v1.3h-1.3zM326.3 241.3h1.3v1.3h-1.3zM352.8 215.6h1.3v1.3h-1.3zM359.7 216.6h1.3v1.3h-1.3zM349.8 230.5h1.3v1.3h-1.3zM362.1 212.5h1.3v1.3h-1.3zM336.1 229.2h1.3v1.3h-1.3zM381.2 214.3h1.3v1.3h-1.3zM371.9 211.9h1.3v1.3h-1.3zM378.6 223.7h1.3v1.3h-1.3zM386.2 219.9h1.3v1.3h-1.3zM364.9 208.8h1.3v1.3h-1.3zM425.6 191.9h1.3v1.3h-1.3zM381.6 221.1h1.3v1.3h-1.3zM355.7 209.7h1.3v1.3h-1.3zM379.6 226.4h1.3v1.3h-1.3zM406.6 203.8h1.3v1.3h-1.3zM401.1 206.7h1.3v1.3h-1.3zM325.3 236.5h1.3v1.3h-1.3zM369.2 219.9h1.3v1.3h-1.3zM405.3 213.8h1.3v1.3h-1.3zM370.2 218.8h1.3v1.3h-1.3zM370.3 226.2h1.3v1.3h-1.3zM345.6 244.9h1.3v1.3h-1.3zM379.6 217.3h1.3v1.3h-1.3zM376.7 224.6h1.3v1.3h-1.3zM372.4 225.2h1.3v1.3h-1.3zM350.2 221.4h1.3v1.3h-1.3zM386.2 209.5h1.3v1.3h-1.3zM371.4 221.0h1.3v1.3h-1.3zM402.8 199.8h1.3v1.3h-1.3zM358.5 229.9h1.3v1.3h-1.3zM380.4 213.1h1.3v1.3h-1.3zM352.4 205.9h1.3v1.3h-1.3zM326.7 236.8h1.3v1.3h-1.3zM377.6 208.8h1.3v1.3h-1.3zM331.9 232.3h1.3v1.3h-1.3zM403.6 198.4h1.3v1.3h-1.3zM366.8 219.0h1.3v1.3h-1.3zM353.0 220.1h1.3v1.3h-1.3zM349.4 239.6h1.3v1.3h-1.3zM339.1 226.6h1.3v1.3h-1.3zM343.5 217.3h1.3v1.3h-1.3zM400.3 202.4h1.3v1.3h-1.3zM386.5 205.2h1.3v1.3h-1.3zM378.1 209.6h1.3v1.3h-1.3zM382.5 209.0h1.3v1.3h-1.3zM350.2 229.0h1.3v1.3h-1.3zM350.5 217.5h1.3v1.3h-1.3zM383.3 220.7h1.3v1.3h-1.3zM350.8 228.2h1.3v1.3h-1.3zM391.3 213.4h1.3v1.3h-1.3zM367.0 224.5h1.3v1.3h-1.3zM369.7 206.3h1.3v1.3h-1.3zM357.3 224.7h1.3v1.3h-1.3zM409.3 202.0h1.3v1.3h-1.3zM347.5 216.4h1.3v1.3h-1.3zM344.8 221.2h1.3v1.3h-1.3zM317.2 240.7h1.3v1.3h-1.3zM392.3 216.8h1.3v1.3h-1.3zM356.5 221.8h1.3v1.3h-1.3zM372.4 221.3h1.3v1.3h-1.3zM357.6 208.2h1.3v1.3h-1.3zM404.8 206.2h1.3v1.3h-1.3zM347.2 228.8h1.3v1.3h-1.3zM366.0 215.8h1.3v1.3h-1.3zM407.2 212.1h1.3v1.3h-1.3zM375.5 220.2h1.3v1.3h-1.3zM375.4 222.2h1.3v1.3h-1.3zM380.5 206.7h1.3v1.3h-1.3zM363.7 222.7h1.3v1.3h-1.3zM374.8 227.1h1.3v1.3h-1.3zM411.8 217.0h1.3v1.3h-1.3zM364.5 226.7h1.3v1.3h-1.3zM405.0 212.4h1.3v1.3h-1.3zM361.3 206.4h1.3v1.3h-1.3zM369.7 224.4h1.3v1.3h-1.3zM372.2 216.3h1.3v1.3h-1.3zM356.1 223.7h1.3v1.3h-1.3zM367.7 213.5h1.3v1.3h-1.3zM389.0 206.8h1.3v1.3h-1.3zM369.7 212.4h1.3v1.3h-1.3zM367.7 210.2h1.3v1.3h-1.3zM381.1 218.6h1.3v1.3h-1.3zM399.2 221.9h1.3v1.3h-1.3zM351.2 229.7h1.3v1.3h-1.3zM369.5 227.9h1.3v1.3h-1.3zM346.1 239.4h1.3v1.3h-1.3zM374.8 222.9h1.3v1.3h-1.3zM420.0 198.6h1.3v1.3h-1.3zM347.4 214.6h1.3v1.3h-1.3zM374.6 208.9h1.3v1.3h-1.3zM348.1 215.7h1.3v1.3h-1.3zM396.2 214.3h1.3v1.3h-1.3zM353.8 225.8h1.3v1.3h-1.3zM378.1 197.8h1.3v1.3h-1.3zM411.7 195.4h1.3v1.3h-1.3zM367.6 221.6h1.3v1.3h-1.3zM380.3 217.6h1.3v1.3h-1.3zM362.1 222.2h1.3v1.3h-1.3zM390.7 213.2h1.3v1.3h-1.3zM377.5 218.3h1.3v1.3h-1.3zM368.1 221.5h1.3v1.3h-1.3zM399.8 208.4h1.3v1.3h-1.3zM404.9 210.0h1.3v1.3h-1.3zM395.5 221.9h1.3v1.3h-1.3zM363.6 220.7h1.3v1.3h-1.3zM358.5 222.5h1.3v1.3h-1.3zM352.2 224.6h1.3v1.3h-1.3zM357.8 221.8h1.3v1.3h-1.3zM365.9 227.2h1.3v1.3h-1.3zM363.4 220.0h1.3v1.3h-1.3zM344.6 224.7h1.3v1.3h-1.3zM399.5 211.9h1.3v1.3h-1.3zM384.3 209.7h1.3v1.3h-1.3zM354.9 212.6h1.3v1.3h-1.3zM426.9 210.4h1.3v1.3h-1.3zM419.0 210.2h1.3v1.3h-1.3zM404.1 222.7h1.3v1.3h-1.3zM397.0 209.9h1.3v1.3h-1.3zM344.4 231.8h1.3v1.3h-1.3zM349.5 231.0h1.3v1.3h-1.3zM380.6 216.9h1.3v1.3h-1.3zM317.8 235.3h1.3v1.3h-1.3zM382.5 214.3h1.3v1.3h-1.3zM409.1 221.5h1.3v1.3h-1.3zM377.6 216.1h1.3v1.3h-1.3zM388.0 223.6h1.3v1.3h-1.3zM343.9 227.0h1.3v1.3h-1.3zM374.0 231.1h1.3v1.3h-1.3zM380.3 215.6h1.3v1.3h-1.3zM388.3 233.2h1.3v1.3h-1.3zM383.2 221.5h1.3v1.3h-1.3zM361.9 214.7h1.3v1.3h-1.3zM409.1 206.4h1.3v1.3h-1.3zM369.9 208.5h1.3v1.3h-1.3zM352.9 224.4h1.3v1.3h-1.3zM361.3 228.3h1.3v1.3h-1.3zM376.5 201.1h1.3v1.3h-1.3zM377.7 212.5h1.3v1.3h-1.3zM371.6 209.4h1.3v1.3h-1.3zM376.2 223.4h1.3v1.3h-1.3zM374.5 206.2h1.3v1.3h-1.3zM370.5 209.2h1.3v1.3h-1.3zM370.8 202.8h1.3v1.3h-1.3zM378.4 211.1h1.3v1.3h-1.3zM366.0 213.2h1.3v1.3h-1.3zM367.4 230.4h1.3v1.3h-1.3zM378.9 225.1h1.3v1.3h-1.3zM404.5 202.8h1.3v1.3h-1.3zM372.7 212.4h1.3v1.3h-1.3zM315.9 221.8h1.3v1.3h-1.3zM358.2 216.6h1.3v1.3h-1.3zM428.1 214.6h1.3v1.3h-1.3zM363.3 217.7h1.3v1.3h-1.3zM381.5 228.1h1.3v1.3h-1.3zM352.0 212.1h1.3v1.3h-1.3zM359.2 217.2h1.3v1.3h-1.3zM342.5 233.0h1.3v1.3h-1.3zM332.7 226.7h1.3v1.3h-1.3zM397.5 210.1h1.3v1.3h-1.3zM366.4 217.6h1.3v1.3h-1.3zM382.5 217.2h1.3v1.3h-1.3zM384.4 199.6h1.3v1.3h-1.3zM420.7 208.7h1.3v1.3h-1.3zM344.9 210.8h1.3v1.3h-1.3zM393.7 202.6h1.3v1.3h-1.3zM385.5 215.8h1.3v1.3h-1.3zM393.6 203.3h1.3v1.3h-1.3zM397.9 218.9h1.3v1.3h-1.3zM394.7 214.2h1.3v1.3h-1.3zM364.6 217.2h1.3v1.3h-1.3zM364.8 202.2h1.3v1.3h-1.3zM384.6 212.3h1.3v1.3h-1.3zM368.2 217.0h1.3v1.3h-1.3zM367.3 214.7h1.3v1.3h-1.3zM391.1 206.2h1.3v1.3h-1.3zM345.0 227.9h1.3v1.3h-1.3zM374.2 226.5h1.3v1.3h-1.3zM380.6 216.6h1.3v1.3h-1.3zM373.6 214.5h1.3v1.3h-1.3zM358.8 209.7h1.3v1.3h-1.3zM394.9 215.7h1.3v1.3h-1.3zM382.5 209.3h1.3v1.3h-1.3zM355.7 225.1h1.3v1.3h-1.3zM387.6 233.2h1.3v1.3h-1.3zM343.7 223.2h1.3v1.3h-1.3zM385.9 221.0h1.3v1.3h-1.3zM391.0 195.7h1.3v1.3h-1.3zM376.9 216.8h1.3v1.3h-1.3zM373.9 225.0h1.3v1.3h-1.3zM384.4 213.0h1.3v1.3h-1.3zM388.6 202.4h1.3v1.3h-1.3zM373.2 216.1h1.3v1.3h-1.3zM379.5 202.5h1.3v1.3h-1.3zM340.7 226.6h1.3v1.3h-1.3zM358.8 220.6h1.3v1.3h-1.3zM390.5 212.2h1.3v1.3h-1.3zM388.4 211.9h1.3v1.3h-1.3zM356.9 227.0h1.3v1.3h-1.3zM342.3 224.4h1.3v1.3h-1.3zM363.8 213.7h1.3v1.3h-1.3zM393.4 218.6h1.3v1.3h-1.3zM348.8 219.7h1.3v1.3h-1.3zM353.3 221.4h1.3v1.3h-1.3zM385.7 217.0h1.3v1.3h-1.3zM411.1 212.9h1.3v1.3h-1.3zM381.7 218.3h1.3v1.3h-1.3zM309.8 236.4h1.3v1.3h-1.3zM369.0 214.3h1.3v1.3h-1.3zM369.5 224.1h1.3v1.3h-1.3zM361.2 223.1h1.3v1.3h-1.3zM388.9 215.2h1.3v1.3h-1.3zM399.2 203.8h1.3v1.3h-1.3zM356.3 214.3h1.3v1.3h-1.3zM323.2 231.2h1.3v1.3h-1.3zM351.1 224.4h1.3v1.3h-1.3zM397.5 210.8h1.3v1.3h-1.3zM368.8 209.0h1.3v1.3h-1.3zM355.9 228.6h1.3v1.3h-1.3zM393.6 207.2h1.3v1.3h-1.3zM341.4 225.2h1.3v1.3h-1.3zM389.4 214.2h1.3v1.3h-1.3zM363.6 219.1h1.3v1.3h-1.3zM377.0 221.8h1.3v1.3h-1.3zM390.6 224.7h1.3v1.3h-1.3zM370.8 201.9h1.3v1.3h-1.3zM349.4 224.4h1.3v1.3h-1.3zM323.0 237.7h1.3v1.3h-1.3zM347.4 224.2h1.3v1.3h-1.3zM361.7 206.7h1.3v1.3h-1.3zM352.4 223.5h1.3v1.3h-1.3zM377.1 211.5h1.3v1.3h-1.3zM391.8 224.2h1.3v1.3h-1.3zM420.0 206.8h1.3v1.3h-1.3zM356.8 234.5h1.3v1.3h-1.3zM362.8 233.9h1.3v1.3h-1.3zM376.4 221.2h1.3v1.3h-1.3zM379.4 221.8h1.3v1.3h-1.3zM374.0 200.4h1.3v1.3h-1.3zM397.8 209.5h1.3v1.3h-1.3zM351.0 212.6h1.3v1.3h-1.3zM335.6 238.7h1.3v1.3h-1.3zM400.5 214.5h1.3v1.3h-1.3zM401.6 205.3h1.3v1.3h-1.3zM419.6 191.1h1.3v1.3h-1.3zM385.0 219.0h1.3v1.3h-1.3zM385.2 203.5h1.3v1.3h-1.3zM375.4 238.9h1.3v1.3h-1.3zM364.1 222.8h1.3v1.3h-1.3zM371.1 220.8h1.3v1.3h-1.3zM397.1 220.5h1.3v1.3h-1.3zM381.9 230.2h1.3v1.3h-1.3zM325.1 238.6h1.3v1.3h-1.3zM356.0 229.1h1.3v1.3h-1.3zM357.1 217.4h1.3v1.3h-1.3zM384.8 213.7h1.3v1.3h-1.3zM376.6 221.9h1.3v1.3h-1.3zM350.9 234.5h1.3v1.3h-1.3zM363.3 228.9h1.3v1.3h-1.3zM365.2 214.3h1.3v1.3h-1.3zM384.1 204.5h1.3v1.3h-1.3zM352.0 240.1h1.3v1.3h-1.3zM348.2 209.4h1.3v1.3h-1.3zM387.4 217.0h1.3v1.3h-1.3zM400.9 213.0h1.3v1.3h-1.3zM408.4 210.8h1.3v1.3h-1.3zM363.4 215.0h1.3v1.3h-1.3zM347.4 226.0h1.3v1.3h-1.3zM414.2 202.9h1.3v1.3h-1.3zM348.3 226.4h1.3v1.3h-1.3zM371.6 223.8h1.3v1.3h-1.3zM381.1 205.9h1.3v1.3h-1.3zM373.2 210.9h1.3v1.3h-1.3zM378.6 215.0h1.3v1.3h-1.3zM355.9 215.1h1.3v1.3h-1.3zM401.5 213.1h1.3v1.3h-1.3zM353.2 219.2h1.3v1.3h-1.3zM374.4 208.7h1.3v1.3h-1.3zM382.8 215.9h1.3v1.3h-1.3zM342.1 221.5h1.3v1.3h-1.3zM374.3 226.9h1.3v1.3h-1.3zM339.9 240.7h1.3v1.3h-1.3zM385.6 217.4h1.3v1.3h-1.3zM300.2 244.5h1.3v1.3h-1.3zM358.4 222.6h1.3v1.3h-1.3zM372.9 220.3h1.3v1.3h-1.3zM388.2 205.7h1.3v1.3h-1.3zM367.3 207.3h1.3v1.3h-1.3zM369.4 225.2h1.3v1.3h-1.3zM375.5 227.8h1.3v1.3h-1.3zM365.6 227.7h1.3v1.3h-1.3zM362.8 219.0h1.3v1.3h-1.3zM319.0 229.7h1.3v1.3h-1.3zM377.8 218.0h1.3v1.3h-1.3zM387.6 211.0h1.3v1.3h-1.3zM364.2 227.7h1.3v1.3h-1.3zM388.0 207.8h1.3v1.3h-1.3zM340.1 232.3h1.3v1.3h-1.3zM346.5 218.7h1.3v1.3h-1.3zM359.6 230.9h1.3v1.3h-1.3zM404.8 205.4h1.3v1.3h-1.3zM377.2 214.7h1.3v1.3h-1.3zM368.2 218.7h1.3v1.3h-1.3zM391.5 209.2h1.3v1.3h-1.3zM362.1 220.0h1.3v1.3h-1.3zM412.7 210.9h1.3v1.3h-1.3zM343.5 225.0h1.3v1.3h-1.3zM347.3 204.9h1.3v1.3h-1.3zM385.6 209.7h1.3v1.3h-1.3zM380.0 200.8h1.3v1.3h-1.3zM350.0 224.5h1.3v1.3h-1.3zM335.8 218.6h1.3v1.3h-1.3zM370.4 205.0h1.3v1.3h-1.3zM366.0 227.6h1.3v1.3h-1.3zM356.7 216.1h1.3v1.3h-1.3zM354.1 221.0h1.3v1.3h-1.3zM356.3 227.7h1.3v1.3h-1.3zM359.8 209.0h1.3v1.3h-1.3zM348.6 222.0h1.3v1.3h-1.3zM389.5 218.8h1.3v1.3h-1.3zM339.3 215.7h1.3v1.3h-1.3zM409.7 209.4h1.3v1.3h-1.3zM345.9 218.6h1.3v1.3h-1.3zM371.1 224.5h1.3v1.3h-1.3zM363.6 238.5h1.3v1.3h-1.3zM354.2 232.2h1.3v1.3h-1.3zM343.3 221.5h1.3v1.3h-1.3zM377.7 203.5h1.3v1.3h-1.3zM313.5 239.3h1.3v1.3h-1.3zM353.6 213.0h1.3v1.3h-1.3zM394.5 210.9h1.3v1.3h-1.3zM373.9 223.2h1.3v1.3h-1.3zM360.6 224.6h1.3v1.3h-1.3zM316.9 218.9h1.3v1.3h-1.3zM387.9 197.7h1.3v1.3h-1.3zM398.8 206.8h1.3v1.3h-1.3zM390.0 225.9h1.3v1.3h-1.3zM349.7 217.7h1.3v1.3h-1.3zM363.5 232.7h1.3v1.3h-1.3zM371.6 228.0h1.3v1.3h-1.3zM371.8 206.1h1.3v1.3h-1.3zM347.0 228.4h1.3v1.3h-1.3zM383.8 215.0h1.3v1.3h-1.3zM375.8 223.4h1.3v1.3h-1.3zM364.4 238.4h1.3v1.3h-1.3zM367.9 209.4h1.3v1.3h-1.3zM347.3 226.4h1.3v1.3h-1.3zM387.3 204.5h1.3v1.3h-1.3zM397.2 217.9h1.3v1.3h-1.3zM362.6 207.2h1.3v1.3h-1.3zM361.5 218.8h1.3v1.3h-1.3zM353.3 228.3h1.3v1.3h-1.3zM306.8 240.4h1.3v1.3h-1.3zM323.6 239.3h1.3v1.3h-1.3zM350.2 213.8h1.3v1.3h-1.3zM388.4 210.4h1.3v1.3h-1.3zM360.3 232.0h1.3v1.3h-1.3zM382.2 221.6h1.3v1.3h-1.3zM369.1 211.7h1.3v1.3h-1.3zM367.5 219.6h1.3v1.3h-1.3zM349.8 216.2h1.3v1.3h-1.3zM383.3 209.5h1.3v1.3h-1.3zM407.2 220.8h1.3v1.3h-1.3zM372.2 213.1h1.3v1.3h-1.3zM378.9 213.8h1.3v1.3h-1.3zM381.9 227.1h1.3v1.3h-1.3zM369.9 209.8h1.3v1.3h-1.3zM370.4 220.1h1.3v1.3h-1.3zM390.1 226.5h1.3v1.3h-1.3zM380.3 204.2h1.3v1.3h-1.3zM366.0 226.1h1.3v1.3h-1.3zM383.1 218.5h1.3v1.3h-1.3zM353.6 222.0h1.3v1.3h-1.3zM335.2 223.2h1.3v1.3h-1.3zM345.3 229.7h1.3v1.3h-1.3zM387.5 214.1h1.3v1.3h-1.3zM377.3 206.1h1.3v1.3h-1.3zM404.9 193.0h1.3v1.3h-1.3zM359.5 214.5h1.3v1.3h-1.3zM335.3 222.2h1.3v1.3h-1.3zM400.2 215.9h1.3v1.3h-1.3zM381.8 209.0h1.3v1.3h-1.3zM368.1 224.1h1.3v1.3h-1.3zM404.7 219.2h1.3v1.3h-1.3zM375.2 209.9h1.3v1.3h-1.3zM376.7 204.7h1.3v1.3h-1.3zM404.1 205.6h1.3v1.3h-1.3zM410.5 201.7h1.3v1.3h-1.3zM344.6 228.2h1.3v1.3h-1.3zM377.5 215.1h1.3v1.3h-1.3zM334.4 210.9h1.3v1.3h-1.3zM337.3 236.4h1.3v1.3h-1.3zM381.4 214.0h1.3v1.3h-1.3zM405.3 207.1h1.3v1.3h-1.3zM379.9 210.3h1.3v1.3h-1.3zM355.5 232.6h1.3v1.3h-1.3zM361.5 213.2h1.3v1.3h-1.3zM365.4 210.3h1.3v1.3h-1.3zM359.5 215.8h1.3v1.3h-1.3zM372.3 211.6h1.3v1.3h-1.3zM371.9 216.6h1.3v1.3h-1.3zM361.4 211.5h1.3v1.3h-1.3zM370.9 214.5h1.3v1.3h-1.3zM386.0 221.1h1.3v1.3h-1.3zM353.5 223.5h1.3v1.3h-1.3zM399.6 218.5h1.3v1.3h-1.3zM349.4 231.9h1.3v1.3h-1.3zM363.1 228.7h1.3v1.3h-1.3zM353.8 219.1h1.3v1.3h-1.3zM347.8 224.9h1.3v1.3h-1.3zM345.9 226.9h1.3v1.3h-1.3zM383.1 230.3h1.3v1.3h-1.3zM372.9 216.1h1.3v1.3h-1.3zM370.4 216.5h1.3v1.3h-1.3zM380.8 225.6h1.3v1.3h-1.3zM369.0 213.9h1.3v1.3h-1.3zM400.1 220.7h1.3v1.3h-1.3zM358.7 232.2h1.3v1.3h-1.3zM371.3 226.4h1.3v1.3h-1.3zM350.2 218.2h1.3v1.3h-1.3zM420.9 220.3h1.3v1.3h-1.3zM407.8 215.1h1.3v1.3h-1.3zM386.7 211.3h1.3v1.3h-1.3zM398.8 212.2h1.3v1.3h-1.3zM353.6 223.6h1.3v1.3h-1.3zM389.0 220.2h1.3v1.3h-1.3zM380.7 215.7h1.3v1.3h-1.3zM375.7 216.9h1.3v1.3h-1.3zM385.0 208.3h1.3v1.3h-1.3zM365.5 222.6h1.3v1.3h-1.3zM324.8 237.9h1.3v1.3h-1.3zM338.5 222.2h1.3v1.3h-1.3zM348.2 230.0h1.3v1.3h-1.3zM383.4 207.3h1.3v1.3h-1.3zM398.4 217.2h1.3v1.3h-1.3zM377.0 208.5h1.3v1.3h-1.3zM353.3 225.0h1.3v1.3h-1.3zM345.2 230.4h1.3v1.3h-1.3zM387.3 213.1h1.3v1.3h-1.3zM363.8 224.6h1.3v1.3h-1.3zM405.0 203.1h1.3v1.3h-1.3zM344.8 209.0h1.3v1.3h-1.3zM362.8 221.7h1.3v1.3h-1.3zM361.1 225.4h1.3v1.3h-1.3zM385.8 225.2h1.3v1.3h-1.3zM372.5 220.4h1.3v1.3h-1.3zM409.9 204.5h1.3v1.3h-1.3zM381.4 211.4h1.3v1.3h-1.3zM384.9 213.5h1.3v1.3h-1.3zM318.4 229.7h1.3v1.3h-1.3zM364.9 214.6h1.3v1.3h-1.3zM378.7 220.3h1.3v1.3h-1.3zM352.4 231.2h1.3v1.3h-1.3zM378.1 217.1h1.3v1.3h-1.3zM352.6 226.2h1.3v1.3h-1.3zM379.5 221.0h1.3v1.3h-1.3zM369.1 223.4h1.3v1.3h-1.3zM315.3 233.0h1.3v1.3h-1.3zM373.3 211.5h1.3v1.3h-1.3zM400.3 215.7h1.3v1.3h-1.3zM384.9 212.4h1.3v1.3h-1.3zM373.6 211.2h1.3v1.3h-1.3zM391.0 222.4h1.3v1.3h-1.3zM404.1 210.4h1.3v1.3h-1.3zM357.4 227.3h1.3v1.3h-1.3zM367.0 227.9h1.3v1.3h-1.3zM395.6 208.2h1.3v1.3h-1.3zM352.3 217.2h1.3v1.3h-1.3zM377.1 216.0h1.3v1.3h-1.3zM392.9 212.9h1.3v1.3h-1.3zM366.3 215.8h1.3v1.3h-1.3zM332.0 238.2h1.3v1.3h-1.3zM383.0 206.8h1.3v1.3h-1.3zM335.3 228.1h1.3v1.3h-1.3zM357.5 224.2h1.3v1.3h-1.3zM385.0 203.0h1.3v1.3h-1.3zM410.3 200.2h1.3v1.3h-1.3zM385.9 213.0h1.3v1.3h-1.3zM331.3 226.3h1.3v1.3h-1.3zM346.0 233.7h1.3v1.3h-1.3zM374.6 229.3h1.3v1.3h-1.3zM410.5 202.7h1.3v1.3h-1.3zM379.9 212.1h1.3v1.3h-1.3zM377.2 216.1h1.3v1.3h-1.3zM387.3 218.8h1.3v1.3h-1.3zM377.9 215.1h1.3v1.3h-1.3zM388.9 221.7h1.3v1.3h-1.3zM377.3 217.5h1.3v1.3h-1.3zM385.7 210.1h1.3v1.3h-1.3zM376.0 213.4h1.3v1.3h-1.3zM381.6 205.0h1.3v1.3h-1.3zM378.6 212.1h1.3v1.3h-1.3zM351.7 225.2h1.3v1.3h-1.3zM388.7 205.4h1.3v1.3h-1.3zM350.8 224.2h1.3v1.3h-1.3zM366.1 219.2h1.3v1.3h-1.3zM361.5 224.1h1.3v1.3h-1.3zM370.6 217.4h1.3v1.3h-1.3zM394.1 218.3h1.3v1.3h-1.3zM351.1 217.8h1.3v1.3h-1.3zM382.9 216.4h1.3v1.3h-1.3zM346.9 217.0h1.3v1.3h-1.3zM348.6 215.9h1.3v1.3h-1.3zM377.4 217.6h1.3v1.3h-1.3zM368.3 212.8h1.3v1.3h-1.3zM372.2 231.1h1.3v1.3h-1.3zM356.8 238.5h1.3v1.3h-1.3zM380.7 208.6h1.3v1.3h-1.3zM394.4 222.0h1.3v1.3h-1.3zM418.0 191.4h1.3v1.3h-1.3zM369.6 233.7h1.3v1.3h-1.3zM353.1 215.3h1.3v1.3h-1.3zM416.8 209.6h1.3v1.3h-1.3zM331.9 236.5h1.3v1.3h-1.3zM413.5 206.5h1.3v1.3h-1.3zM341.5 242.3h1.3v1.3h-1.3zM385.8 208.1h1.3v1.3h-1.3zM361.6 222.4h1.3v1.3h-1.3zM373.6 220.1h1.3v1.3h-1.3zM360.1 225.7h1.3v1.3h-1.3zM359.1 212.2h1.3v1.3h-1.3zM380.6 207.8h1.3v1.3h-1.3zM411.9 224.3h1.3v1.3h-1.3zM370.5 211.1h1.3v1.3h-1.3zM367.3 223.8h1.3v1.3h-1.3zM380.6 219.6h1.3v1.3h-1.3zM353.7 225.4h1.3v1.3h-1.3zM373.1 217.6h1.3v1.3h-1.3zM391.5 212.4h1.3v1.3h-1.3zM361.6 197.8h1.3v1.3h-1.3zM367.0 221.4h1.3v1.3h-1.3zM368.8 224.2h1.3v1.3h-1.3zM337.8 226.0h1.3v1.3h-1.3zM403.6 223.0h1.3v1.3h-1.3zM355.5 219.3h1.3v1.3h-1.3zM357.2 218.1h1.3v1.3h-1.3zM370.9 226.7h1.3v1.3h-1.3zM367.3 223.2h1.3v1.3h-1.3zM383.7 234.0h1.3v1.3h-1.3zM380.9 205.4h1.3v1.3h-1.3zM375.2 215.3h1.3v1.3h-1.3zM360.4 218.7h1.3v1.3h-1.3zM368.8 228.6h1.3v1.3h-1.3zM346.2 242.7h1.3v1.3h-1.3zM381.4 214.1h1.3v1.3h-1.3zM395.5 209.5h1.3v1.3h-1.3zM387.0 224.0h1.3v1.3h-1.3zM331.5 233.6h1.3v1.3h-1.3zM364.8 217.3h1.3v1.3h-1.3zM369.1 220.1h1.3v1.3h-1.3zM372.8 215.8h1.3v1.3h-1.3zM376.3 214.4h1.3v1.3h-1.3zM361.1 221.7h1.3v1.3h-1.3zM340.0 235.3h1.3v1.3h-1.3zM366.0 216.4h1.3v1.3h-1.3zM355.6 233.2h1.3v1.3h-1.3zM392.7 218.6h1.3v1.3h-1.3zM334.6 235.7h1.3v1.3h-1.3zM346.2 243.5h1.3v1.3h-1.3zM363.6 207.6h1.3v1.3h-1.3zM355.8 228.7h1.3v1.3h-1.3zM396.7 210.5h1.3v1.3h-1.3zM369.7 208.3h1.3v1.3h-1.3zM346.4 225.6h1.3v1.3h-1.3zM382.9 213.5h1.3v1.3h-1.3zM346.5 232.1h1.3v1.3h-1.3zM410.5 208.0h1.3v1.3h-1.3zM366.2 211.5h1.3v1.3h-1.3zM333.1 229.2h1.3v1.3h-1.3zM333.8 218.1h1.3v1.3h-1.3zM350.5 223.1h1.3v1.3h-1.3zM352.0 222.6h1.3v1.3h-1.3zM378.8 216.0h1.3v1.3h-1.3zM365.1 218.0h1.3v1.3h-1.3zM366.8 223.3h1.3v1.3h-1.3zM385.6 207.8h1.3v1.3h-1.3zM342.7 233.7h1.3v1.3h-1.3zM355.2 220.4h1.3v1.3h-1.3zM341.6 214.7h1.3v1.3h-1.3zM372.9 216.6h1.3v1.3h-1.3zM390.9 218.4h1.3v1.3h-1.3zM380.0 212.7h1.3v1.3h-1.3zM399.9 218.2h1.3v1.3h-1.3zM402.0 205.1h1.3v1.3h-1.3zM377.5 208.4h1.3v1.3h-1.3zM366.6 220.9h1.3v1.3h-1.3zM390.1 215.6h1.3v1.3h-1.3zM395.4 201.1h1.3v1.3h-1.3zM376.8 215.3h1.3v1.3h-1.3zM358.1 228.8h1.3v1.3h-1.3zM403.2 217.1h1.3v1.3h-1.3zM373.9 215.2h1.3v1.3h-1.3zM352.7 228.4h1.3v1.3h-1.3zM356.9 206.1h1.3v1.3h-1.3zM380.2 205.2h1.3v1.3h-1.3zM416.1 198.0h1.3v1.3h-1.3zM400.6 213.3h1.3v1.3h-1.3zM357.3 211.0h1.3v1.3h-1.3zM403.8 216.8h1.3v1.3h-1.3zM396.9 208.7h1.3v1.3h-1.3zM389.5 205.7h1.3v1.3h-1.3zM413.3 211.1h1.3v1.3h-1.3zM372.4 208.2h1.3v1.3h-1.3zM366.8 215.2h1.3v1.3h-1.3zM370.7 231.0h1.3v1.3h-1.3zM360.5 214.4h1.3v1.3h-1.3zM360.6 232.6h1.3v1.3h-1.3zM361.6 220.0h1.3v1.3h-1.3zM383.0 212.3h1.3v1.3h-1.3zM383.9 222.5h1.3v1.3h-1.3zM359.5 227.1h1.3v1.3h-1.3zM363.0 217.0h1.3v1.3h-1.3zM401.3 211.4h1.3v1.3h-1.3zM395.4 202.9h1.3v1.3h-1.3zM347.8 230.7h1.3v1.3h-1.3zM375.9 227.1h1.3v1.3h-1.3zM413.0 220.6h1.3v1.3h-1.3zM346.1 219.1h1.3v1.3h-1.3zM356.5 216.7h1.3v1.3h-1.3zM351.3 215.5h1.3v1.3h-1.3zM360.1 215.6h1.3v1.3h-1.3zM394.3 222.9h1.3v1.3h-1.3zM353.5 236.1h1.3v1.3h-1.3zM348.7 217.3h1.3v1.3h-1.3zM372.0 211.3h1.3v1.3h-1.3zM403.4 201.2h1.3v1.3h-1.3zM388.3 216.4h1.3v1.3h-1.3zM364.4 217.4h1.3v1.3h-1.3zM391.5 204.1h1.3v1.3h-1.3zM379.2 217.9h1.3v1.3h-1.3zM371.1 205.4h1.3v1.3h-1.3zM378.9 200.7h1.3v1.3h-1.3zM357.4 215.1h1.3v1.3h-1.3zM377.5 210.4h1.3v1.3h-1.3zM356.6 219.4h1.3v1.3h-1.3zM371.5 219.9h1.3v1.3h-1.3zM347.1 235.3h1.3v1.3h-1.3zM365.7 215.3h1.3v1.3h-1.3zM378.5 214.0h1.3v1.3h-1.3zM379.9 225.7h1.3v1.3h-1.3zM395.8 210.5h1.3v1.3h-1.3zM356.7 226.0h1.3v1.3h-1.3zM394.2 210.0h1.3v1.3h-1.3zM337.1 211.5h1.3v1.3h-1.3zM341.0 213.3h1.3v1.3h-1.3zM391.3 219.9h1.3v1.3h-1.3zM399.8 200.4h1.3v1.3h-1.3zM395.5 206.2h1.3v1.3h-1.3zM380.0 213.8h1.3v1.3h-1.3zM361.5 218.5h1.3v1.3h-1.3zM400.5 210.5h1.3v1.3h-1.3zM415.4 217.3h1.3v1.3h-1.3zM373.7 228.3h1.3v1.3h-1.3zM335.2 225.9h1.3v1.3h-1.3zM366.0 223.5h1.3v1.3h-1.3zM350.2 225.4h1.3v1.3h-1.3zM338.1 228.5h1.3v1.3h-1.3zM361.7 229.9h1.3v1.3h-1.3zM381.9 228.9h1.3v1.3h-1.3zM382.3 212.7h1.3v1.3h-1.3zM384.4 213.2h1.3v1.3h-1.3zM390.2 214.5h1.3v1.3h-1.3zM349.7 220.9h1.3v1.3h-1.3zM356.1 224.8h1.3v1.3h-1.3zM375.6 223.6h1.3v1.3h-1.3zM394.2 223.0h1.3v1.3h-1.3zM399.4 210.2h1.3v1.3h-1.3zM409.6 198.8h1.3v1.3h-1.3zM387.6 211.1h1.3v1.3h-1.3zM375.6 227.0h1.3v1.3h-1.3zM361.0 227.7h1.3v1.3h-1.3zM357.7 222.6h1.3v1.3h-1.3zM355.9 221.0h1.3v1.3h-1.3zM367.5 222.4h1.3v1.3h-1.3zM381.5 211.5h1.3v1.3h-1.3zM344.2 227.7h1.3v1.3h-1.3zM436.0 199.7h1.3v1.3h-1.3zM383.0 221.2h1.3v1.3h-1.3zM394.1 199.9h1.3v1.3h-1.3zM385.6 214.8h1.3v1.3h-1.3zM373.7 231.4h1.3v1.3h-1.3zM385.8 216.1h1.3v1.3h-1.3zM381.6 212.1h1.3v1.3h-1.3zM377.6 200.2h1.3v1.3h-1.3zM392.8 216.7h1.3v1.3h-1.3zM386.2 208.9h1.3v1.3h-1.3zM373.9 206.5h1.3v1.3h-1.3zM365.1 232.7h1.3v1.3h-1.3zM350.1 220.8h1.3v1.3h-1.3zM351.8 222.1h1.3v1.3h-1.3zM340.6 223.5h1.3v1.3h-1.3zM367.5 225.7h1.3v1.3h-1.3zM361.1 222.7h1.3v1.3h-1.3zM392.7 210.1h1.3v1.3h-1.3zM368.6 217.4h1.3v1.3h-1.3zM392.2 208.5h1.3v1.3h-1.3zM410.7 212.3h1.3v1.3h-1.3zM390.7 211.5h1.3v1.3h-1.3zM359.5 216.6h1.3v1.3h-1.3zM391.0 205.0h1.3v1.3h-1.3zM383.4 221.0h1.3v1.3h-1.3zM376.7 213.4h1.3v1.3h-1.3zM408.8 206.5h1.3v1.3h-1.3zM376.3 204.7h1.3v1.3h-1.3zM374.4 220.3h1.3v1.3h-1.3zM379.2 209.8h1.3v1.3h-1.3zM376.3 229.0h1.3v1.3h-1.3zM364.4 212.2h1.3v1.3h-1.3zM357.2 215.3h1.3v1.3h-1.3zM376.7 222.3h1.3v1.3h-1.3zM390.2 228.7h1.3v1.3h-1.3zM328.1 241.5h1.3v1.3h-1.3zM384.4 216.2h1.3v1.3h-1.3zM386.6 214.1h1.3v1.3h-1.3zM375.9 220.5h1.3v1.3h-1.3zM364.6 212.3h1.3v1.3h-1.3zM389.5 222.7h1.3v1.3h-1.3zM385.4 198.7h1.3v1.3h-1.3zM389.3 219.9h1.3v1.3h-1.3zM389.0 211.3h1.3v1.3h-1.3zM366.2 211.9h1.3v1.3h-1.3zM399.4 213.9h1.3v1.3h-1.3zM375.7 219.5h1.3v1.3h-1.3zM373.2 205.3h1.3v1.3h-1.3zM363.8 215.6h1.3v1.3h-1.3zM378.6 215.1h1.3v1.3h-1.3zM349.0 219.3h1.3v1.3h-1.3zM349.6 218.4h1.3v1.3h-1.3zM371.1 216.8h1.3v1.3h-1.3zM363.2 226.5h1.3v1.3h-1.3zM351.1 223.3h1.3v1.3h-1.3zM371.3 215.7h1.3v1.3h-1.3zM366.9 213.2h1.3v1.3h-1.3zM376.1 215.6h1.3v1.3h-1.3zM367.9 218.9h1.3v1.3h-1.3zM387.0 218.7h1.3v1.3h-1.3zM347.4 221.6h1.3v1.3h-1.3zM382.1 214.6h1.3v1.3h-1.3zM378.2 225.6h1.3v1.3h-1.3zM352.3 223.1h1.3v1.3h-1.3zM372.4 226.8h1.3v1.3h-1.3zM383.0 228.8h1.3v1.3h-1.3zM399.5 217.8h1.3v1.3h-1.3zM361.1 228.4h1.3v1.3h-1.3zM344.3 227.7h1.3v1.3h-1.3zM332.7 231.1h1.3v1.3h-1.3zM376.6 218.6h1.3v1.3h-1.3zM372.5 228.2h1.3v1.3h-1.3zM333.6 238.2h1.3v1.3h-1.3zM395.5 208.8h1.3v1.3h-1.3zM334.8 215.3h1.3v1.3h-1.3zM386.4 205.6h1.3v1.3h-1.3zM394.5 201.7h1.3v1.3h-1.3zM337.0 226.8h1.3v1.3h-1.3zM356.4 207.6h1.3v1.3h-1.3zM387.6 213.4h1.3v1.3h-1.3zM367.5 234.6h1.3v1.3h-1.3zM375.1 223.0h1.3v1.3h-1.3zM401.9 203.8h1.3v1.3h-1.3zM371.3 220.8h1.3v1.3h-1.3zM396.5 214.8h1.3v1.3h-1.3zM396.3 209.4h1.3v1.3h-1.3zM366.8 216.3h1.3v1.3h-1.3zM410.1 219.0h1.3v1.3h-1.3zM388.9 207.5h1.3v1.3h-1.3zM367.4 208.0h1.3v1.3h-1.3zM387.2 209.4h1.3v1.3h-1.3zM351.5 219.1h1.3v1.3h-1.3zM345.4 221.3h1.3v1.3h-1.3zM418.8 211.4h1.3v1.3h-1.3zM406.1 216.3h1.3v1.3h-1.3zM374.4 211.7h1.3v1.3h-1.3zM342.1 223.5h1.3v1.3h-1.3zM356.4 226.6h1.3v1.3h-1.3zM390.9 213.0h1.3v1.3h-1.3zM381.5 214.9h1.3v1.3h-1.3zM381.0 203.6h1.3v1.3h-1.3zM375.6 218.8h1.3v1.3h-1.3zM373.5 211.9h1.3v1.3h-1.3zM382.7 230.7h1.3v1.3h-1.3zM371.3 214.6h1.3v1.3h-1.3zM428.6 206.4h1.3v1.3h-1.3zM367.1 227.7h1.3v1.3h-1.3zM371.4 231.0h1.3v1.3h-1.3zM355.0 223.0h1.3v1.3h-1.3zM340.7 228.4h1.3v1.3h-1.3zM358.3 212.1h1.3v1.3h-1.3zM406.9 192.2h1.3v1.3h-1.3zM375.9 211.6h1.3v1.3h-1.3zM423.5 208.2h1.3v1.3h-1.3zM409.2 214.2h1.3v1.3h-1.3zM395.5 222.8h1.3v1.3h-1.3zM364.4 221.2h1.3v1.3h-1.3zM367.5 233.5h1.3v1.3h-1.3zM375.5 218.9h1.3v1.3h-1.3zM404.6 204.3h1.3v1.3h-1.3zM326.5 229.3h1.3v1.3h-1.3zM395.7 211.8h1.3v1.3h-1.3zM357.7 231.9h1.3v1.3h-1.3zM365.0 226.7h1.3v1.3h-1.3zM367.0 221.5h1.3v1.3h-1.3zM400.2 217.2h1.3v1.3h-1.3zM380.0 223.7h1.3v1.3h-1.3zM378.8 208.1h1.3v1.3h-1.3zM360.6 229.7h1.3v1.3h-1.3zM373.6 217.1h1.3v1.3h-1.3zM359.2 218.1h1.3v1.3h-1.3zM374.4 212.0h1.3v1.3h-1.3zM343.4 220.0h1.3v1.3h-1.3zM399.9 216.1h1.3v1.3h-1.3zM415.3 203.9h1.3v1.3h-1.3zM345.0 233.2h1.3v1.3h-1.3zM356.9 226.8h1.3v1.3h-1.3zM367.7 216.6h1.3v1.3h-1.3zM368.5 221.1h1.3v1.3h-1.3zM352.2 238.5h1.3v1.3h-1.3zM357.6 230.9h1.3v1.3h-1.3zM391.7 230.4h1.3v1.3h-1.3zM397.3 232.1h1.3v1.3h-1.3zM368.6 218.6h1.3v1.3h-1.3zM348.9 231.4h1.3v1.3h-1.3zM391.6 220.4h1.3v1.3h-1.3zM370.8 217.7h1.3v1.3h-1.3zM386.9 223.1h1.3v1.3h-1.3zM401.1 210.8h1.3v1.3h-1.3zM394.5 222.1h1.3v1.3h-1.3zM396.2 211.7h1.3v1.3h-1.3zM389.5 217.6h1.3v1.3h-1.3zM391.3 212.1h1.3v1.3h-1.3zM332.0 210.0h1.3v1.3h-1.3zM358.5 218.0h1.3v1.3h-1.3zM368.6 222.1h1.3v1.3h-1.3zM364.7 212.8h1.3v1.3h-1.3zM392.9 204.9h1.3v1.3h-1.3zM337.7 221.1h1.3v1.3h-1.3zM340.4 209.1h1.3v1.3h-1.3zM381.1 206.6h1.3v1.3h-1.3zM372.7 216.5h1.3v1.3h-1.3zM357.5 206.7h1.3v1.3h-1.3zM365.7 211.2h1.3v1.3h-1.3zM355.3 223.4h1.3v1.3h-1.3zM364.4 220.6h1.3v1.3h-1.3zM361.8 215.7h1.3v1.3h-1.3zM387.0 225.7h1.3v1.3h-1.3zM363.3 230.0h1.3v1.3h-1.3zM395.9 220.5h1.3v1.3h-1.3zM382.9 213.5h1.3v1.3h-1.3zM371.6 232.5h1.3v1.3h-1.3zM409.4 208.4h1.3v1.3h-1.3zM387.5 205.4h1.3v1.3h-1.3zM351.2 230.9h1.3v1.3h-1.3zM409.9 192.5h1.3v1.3h-1.3zM355.1 223.0h1.3v1.3h-1.3zM393.3 212.9h1.3v1.3h-1.3zM401.3 205.0h1.3v1.3h-1.3zM371.2 212.8h1.3v1.3h-1.3zM362.6 210.8h1.3v1.3h-1.3zM358.6 211.5h1.3v1.3h-1.3zM427.0 215.6h1.3v1.3h-1.3zM409.6 218.5h1.3v1.3h-1.3zM371.4 204.0h1.3v1.3h-1.3zM396.3 205.8h1.3v1.3h-1.3zM381.0 213.9h1.3v1.3h-1.3zM382.8 216.2h1.3v1.3h-1.3zM366.7 228.4h1.3v1.3h-1.3zM410.6 207.1h1.3v1.3h-1.3zM414.1 200.4h1.3v1.3h-1.3zM382.7 223.0h1.3v1.3h-1.3zM367.3 218.6h1.3v1.3h-1.3zM370.3 220.4h1.3v1.3h-1.3zM323.5 234.2h1.3v1.3h-1.3zM367.5 222.6h1.3v1.3h-1.3zM366.1 231.1h1.3v1.3h-1.3zM354.4 211.4h1.3v1.3h-1.3zM352.5 227.1h1.3v1.3h-1.3zM355.0 223.6h1.3v1.3h-1.3zM361.7 205.4h1.3v1.3h-1.3zM350.4 213.4h1.3v1.3h-1.3zM362.7 216.8h1.3v1.3h-1.3zM427.8 202.3h1.3v1.3h-1.3zM372.8 239.1h1.3v1.3h-1.3zM365.6 221.1h1.3v1.3h-1.3zM375.7 214.8h1.3v1.3h-1.3zM349.2 231.1h1.3v1.3h-1.3zM389.6 214.8h1.3v1.3h-1.3zM373.8 212.1h1.3v1.3h-1.3zM375.3 215.6h1.3v1.3h-1.3zM349.6 223.8h1.3v1.3h-1.3zM336.3 214.1h1.3v1.3h-1.3zM356.4 209.2h1.3v1.3h-1.3zM362.3 221.3h1.3v1.3h-1.3zM401.3 207.9h1.3v1.3h-1.3zM377.1 218.2h1.3v1.3h-1.3zM367.5 224.4h1.3v1.3h-1.3zM356.4 235.5h1.3v1.3h-1.3zM369.8 224.1h1.3v1.3h-1.3zM403.6 192.7h1.3v1.3h-1.3zM414.5 214.8h1.3v1.3h-1.3zM365.4 220.4h1.3v1.3h-1.3zM339.9 214.6h1.3v1.3h-1.3zM388.7 210.7h1.3v1.3h-1.3zM415.2 201.8h1.3v1.3h-1.3zM366.7 216.9h1.3v1.3h-1.3zM363.1 216.4h1.3v1.3h-1.3zM344.8 221.2h1.3v1.3h-1.3zM366.8 222.2h1.3v1.3h-1.3zM365.0 220.4h1.3v1.3h-1.3zM335.5 223.1h1.3v1.3h-1.3zM369.0 204.7h1.3v1.3h-1.3zM373.0 210.1h1.3v1.3h-1.3zM372.6 218.4h1.3v1.3h-1.3zM346.9 228.0h1.3v1.3h-1.3zM360.6 239.0h1.3v1.3h-1.3zM366.9 224.4h1.3v1.3h-1.3zM380.0 207.5h1.3v1.3h-1.3zM366.8 210.0h1.3v1.3h-1.3zM400.3 203.8h1.3v1.3h-1.3zM366.2 218.3h1.3v1.3h-1.3zM408.9 195.5h1.3v1.3h-1.3zM398.2 223.3h1.3v1.3h-1.3zM324.2 217.3h1.3v1.3h-1.3zM388.9 202.6h1.3v1.3h-1.3zM386.0 215.9h1.3v1.3h-1.3zM383.4 214.7h1.3v1.3h-1.3zM405.9 201.7h1.3v1.3h-1.3zM352.8 228.6h1.3v1.3h-1.3zM395.5 204.2h1.3v1.3h-1.3zM379.7 212.7h1.3v1.3h-1.3zM346.3 231.1h1.3v1.3h-1.3zM384.9 227.8h1.3v1.3h-1.3zM384.1 209.7h1.3v1.3h-1.3zM387.7 206.7h1.3v1.3h-1.3zM415.0 203.3h1.3v1.3h-1.3zM355.8 234.9h1.3v1.3h-1.3zM324.6 229.9h1.3v1.3h-1.3zM392.8 224.4h1.3v1.3h-1.3zM377.4 221.4h1.3v1.3h-1.3zM368.0 216.9h1.3v1.3h-1.3zM374.4 225.8h1.3v1.3h-1.3zM390.0 213.5h1.3v1.3h-1.3zM332.8 222.5h1.3v1.3h-1.3zM407.8 210.4h1.3v1.3h-1.3zM408.5 219.3h1.3v1.3h-1.3zM368.1 208.6h1.3v1.3h-1.3zM402.1 205.1h1.3v1.3h-1.3zM396.7 213.7h1.3v1.3h-1.3zM389.3 205.3h1.3v1.3h-1.3zM394.2 208.4h1.3v1.3h-1.3zM391.9 208.6h1.3v1.3h-1.3zM386.8 225.1h1.3v1.3h-1.3zM386.6 220.5h1.3v1.3h-1.3zM365.4 218.8h1.3v1.3h-1.3zM379.0 225.5h1.3v1.3h-1.3zM362.0 218.4h1.3v1.3h-1.3zM364.6 219.3h1.3v1.3h-1.3zM378.6 214.0h1.3v1.3h-1.3zM361.7 218.9h1.3v1.3h-1.3zM386.0 223.2h1.3v1.3h-1.3zM390.6 219.9h1.3v1.3h-1.3zM381.5 210.2h1.3v1.3h-1.3zM387.5 222.1h1.3v1.3h-1.3zM353.6 231.5h1.3v1.3h-1.3zM385.9 212.5h1.3v1.3h-1.3zM334.3 222.3h1.3v1.3h-1.3zM399.3 213.9h1.3v1.3h-1.3zM371.8 215.7h1.3v1.3h-1.3zM351.5 226.4h1.3v1.3h-1.3zM385.5 216.3h1.3v1.3h-1.3zM373.2 216.3h1.3v1.3h-1.3zM410.8 204.7h1.3v1.3h-1.3zM380.8 218.6h1.3v1.3h-1.3zM400.4 209.1h1.3v1.3h-1.3zM372.8 207.3h1.3v1.3h-1.3zM402.7 216.0h1.3v1.3h-1.3zM366.6 209.3h1.3v1.3h-1.3zM363.2 208.0h1.3v1.3h-1.3zM369.9 203.3h1.3v1.3h-1.3zM352.3 237.8h1.3v1.3h-1.3zM341.8 210.8h1.3v1.3h-1.3zM357.7 224.8h1.3v1.3h-1.3zM360.9 226.2h1.3v1.3h-1.3zM376.8 215.2h1.3v1.3h-1.3zM359.8 224.9h1.3v1.3h-1.3zM402.5 201.8h1.3v1.3h-1.3zM394.9 201.7h1.3v1.3h-1.3zM369.2 211.6h1.3v1.3h-1.3zM409.2 213.4h1.3v1.3h-1.3zM402.9 227.6h1.3v1.3h-1.3zM331.9 239.8h1.3v1.3h-1.3zM351.6 230.5h1.3v1.3h-1.3zM362.7 213.9h1.3v1.3h-1.3zM357.4 224.4h1.3v1.3h-1.3zM345.0 237.2h1.3v1.3h-1.3zM369.3 224.0h1.3v1.3h-1.3zM392.5 211.0h1.3v1.3h-1.3zM333.8 222.6h1.3v1.3h-1.3zM347.2 227.5h1.3v1.3h-1.3zM350.6 229.8h1.3v1.3h-1.3zM360.1 229.9h1.3v1.3h-1.3zM357.2 223.9h1.3v1.3h-1.3zM388.8 207.6h1.3v1.3h-1.3zM411.8 218.9h1.3v1.3h-1.3zM364.6 210.5h1.3v1.3h-1.3zM348.5 225.4h1.3v1.3h-1.3zM388.8 201.2h1.3v1.3h-1.3zM385.5 211.4h1.3v1.3h-1.3zM369.5 213.6h1.3v1.3h-1.3zM375.2 214.1h1.3v1.3h-1.3zM359.0 222.2h1.3v1.3h-1.3zM353.9 231.0h1.3v1.3h-1.3zM354.6 228.9h1.3v1.3h-1.3zM358.4 225.8h1.3v1.3h-1.3zM340.0 224.2h1.3v1.3h-1.3zM379.8 203.8h1.3v1.3h-1.3zM321.8 242.4h1.3v1.3h-1.3zM351.8 229.9h1.3v1.3h-1.3zM374.2 223.5h1.3v1.3h-1.3zM356.1 216.6h1.3v1.3h-1.3zM368.8 230.8h1.3v1.3h-1.3zM393.4 194.7h1.3v1.3h-1.3zM397.3 211.9h1.3v1.3h-1.3zM402.3 209.8h1.3v1.3h-1.3zM365.3 217.7h1.3v1.3h-1.3zM400.9 208.8h1.3v1.3h-1.3zM366.3 229.8h1.3v1.3h-1.3zM376.9 224.5h1.3v1.3h-1.3zM370.7 228.6h1.3v1.3h-1.3zM354.0 230.0h1.3v1.3h-1.3zM358.4 230.1h1.3v1.3h-1.3zM399.5 204.2h1.3v1.3h-1.3zM365.6 227.4h1.3v1.3h-1.3zM396.5 212.8h1.3v1.3h-1.3zM385.1 206.4h1.3v1.3h-1.3zM364.0 216.6h1.3v1.3h-1.3zM382.5 218.1h1.3v1.3h-1.3zM369.1 223.2h1.3v1.3h-1.3zM299.3 240.9h1.3v1.3h-1.3zM408.5 199.9h1.3v1.3h-1.3zM431.7 200.6h1.3v1.3h-1.3zM392.0 216.9h1.3v1.3h-1.3zM356.6 228.6h1.3v1.3h-1.3zM382.6 208.9h1.3v1.3h-1.3zM331.4 223.7h1.3v1.3h-1.3zM392.5 206.1h1.3v1.3h-1.3zM345.2 223.7h1.3v1.3h-1.3zM379.8 225.6h1.3v1.3h-1.3zM348.2 207.7h1.3v1.3h-1.3zM358.2 225.3h1.3v1.3h-1.3zM330.6 233.9h1.3v1.3h-1.3zM402.1 206.4h1.3v1.3h-1.3zM354.4 222.3h1.3v1.3h-1.3zM380.6 210.9h1.3v1.3h-1.3zM351.2 220.7h1.3v1.3h-1.3zM358.4 225.3h1.3v1.3h-1.3zM354.3 228.7h1.3v1.3h-1.3zM383.2 227.9h1.3v1.3h-1.3zM376.9 195.9h1.3v1.3h-1.3zM353.4 225.0h1.3v1.3h-1.3zM371.2 206.2h1.3v1.3h-1.3zM341.9 221.8h1.3v1.3h-1.3zM370.6 203.3h1.3v1.3h-1.3zM368.2 203.8h1.3v1.3h-1.3zM351.9 220.6h1.3v1.3h-1.3zM348.9 228.6h1.3v1.3h-1.3zM345.7 228.1h1.3v1.3h-1.3zM406.1 212.3h1.3v1.3h-1.3zM425.9 190.6h1.3v1.3h-1.3zM379.2 215.7h1.3v1.3h-1.3zM379.4 221.4h1.3v1.3h-1.3zM385.4 213.3h1.3v1.3h-1.3zM330.5 229.0h1.3v1.3h-1.3zM385.1 213.7h1.3v1.3h-1.3zM379.3 215.7h1.3v1.3h-1.3zM362.2 212.6h1.3v1.3h-1.3zM402.8 211.5h1.3v1.3h-1.3zM389.8 221.0h1.3v1.3h-1.3zM399.5 216.3h1.3v1.3h-1.3zM373.5 210.2h1.3v1.3h-1.3zM361.8 220.3h1.3v1.3h-1.3zM394.2 215.7h1.3v1.3h-1.3zM379.9 207.4h1.3v1.3h-1.3zM378.0 221.9h1.3v1.3h-1.3zM364.1 221.9h1.3v1.3h-1.3zM372.9 212.8h1.3v1.3h-1.3zM339.2 227.4h1.3v1.3h-1.3zM376.8 205.1h1.3v1.3h-1.3zM341.2 233.0h1.3v1.3h-1.3zM391.6 212.7h1.3v1.3h-1.3zM396.0 211.4h1.3v1.3h-1.3zM358.7 221.9h1.3v1.3h-1.3zM399.0 204.9h1.3v1.3h-1.3zM376.8 215.4h1.3v1.3h-1.3zM395.5 206.6h1.3v1.3h-1.3zM377.8 210.7h1.3v1.3h-1.3zM374.7 225.4h1.3v1.3h-1.3zM391.8 203.3h1.3v1.3h-1.3zM402.3 209.9h1.3v1.3h-1.3zM346.9 221.7h1.3v1.3h-1.3zM360.1 235.0h1.3v1.3h-1.3zM375.8 222.4h1.3v1.3h-1.3zM374.1 220.8h1.3v1.3h-1.3zM390.0 206.4h1.3v1.3h-1.3zM383.3 205.9h1.3v1.3h-1.3zM361.2 203.2h1.3v1.3h-1.3zM335.8 222.3h1.3v1.3h-1.3zM394.5 214.5h1.3v1.3h-1.3zM375.1 225.8h1.3v1.3h-1.3zM363.2 218.1h1.3v1.3h-1.3zM345.6 239.6h1.3v1.3h-1.3zM365.0 226.0h1.3v1.3h-1.3zM352.1 224.6h1.3v1.3h-1.3zM343.3 217.7h1.3v1.3h-1.3zM396.9 210.6h1.3v1.3h-1.3zM360.0 221.6h1.3v1.3h-1.3zM370.3 224.1h1.3v1.3h-1.3zM358.8 218.3h1.3v1.3h-1.3zM353.4 227.7h1.3v1.3h-1.3zM363.0 227.7h1.3v1.3h-1.3zM377.9 225.6h1.3v1.3h-1.3zM392.1 207.0h1.3v1.3h-1.3zM371.8 211.6h1.3v1.3h-1.3zM395.6 214.1h1.3v1.3h-1.3zM371.3 222.5h1.3v1.3h-1.3zM364.7 222.7h1.3v1.3h-1.3zM374.2 213.4h1.3v1.3h-1.3zM418.8 202.4h1.3v1.3h-1.3zM392.4 213.9h1.3v1.3h-1.3zM407.2 207.2h1.3v1.3h-1.3zM368.7 220.8h1.3v1.3h-1.3zM373.0 220.5h1.3v1.3h-1.3zM376.1 203.7h1.3v1.3h-1.3zM373.9 222.9h1.3v1.3h-1.3zM333.4 229.4h1.3v1.3h-1.3zM351.2 229.3h1.3v1.3h-1.3zM375.4 214.4h1.3v1.3h-1.3zM382.2 206.6h1.3v1.3h-1.3zM352.4 228.1h1.3v1.3h-1.3zM353.9 230.3h1.3v1.3h-1.3zM358.6 227.8h1.3v1.3h-1.3zM386.7 221.6h1.3v1.3h-1.3zM418.3 220.1h1.3v1.3h-1.3zM389.6 224.5h1.3v1.3h-1.3zM362.1 229.6h1.3v1.3h-1.3zM372.3 214.3h1.3v1.3h-1.3zM363.5 225.1h1.3v1.3h-1.3zM351.4 229.8h1.3v1.3h-1.3zM354.3 227.9h1.3v1.3h-1.3zM373.4 211.1h1.3v1.3h-1.3zM357.4 236.9h1.3v1.3h-1.3zM364.3 214.1h1.3v1.3h-1.3zM350.5 221.3h1.3v1.3h-1.3zM347.7 234.1h1.3v1.3h-1.3zM376.5 230.3h1.3v1.3h-1.3zM363.3 240.3h1.3v1.3h-1.3zM349.8 221.5h1.3v1.3h-1.3zM361.3 226.3h1.3v1.3h-1.3zM382.9 221.8h1.3v1.3h-1.3zM347.6 227.9h1.3v1.3h-1.3zM370.1 217.6h1.3v1.3h-1.3zM367.8 210.6h1.3v1.3h-1.3zM383.4 216.0h1.3v1.3h-1.3zM419.7 216.3h1.3v1.3h-1.3zM376.6 222.6h1.3v1.3h-1.3zM416.4 203.7h1.3v1.3h-1.3zM388.7 210.6h1.3v1.3h-1.3zM402.2 213.8h1.3v1.3h-1.3zM390.5 225.6h1.3v1.3h-1.3zM383.3 206.7h1.3v1.3h-1.3zM389.7 208.9h1.3v1.3h-1.3zM332.3 228.6h1.3v1.3h-1.3zM364.3 209.2h1.3v1.3h-1.3zM382.7 210.4h1.3v1.3h-1.3zM398.8 206.9h1.3v1.3h-1.3zM342.9 232.2h1.3v1.3h-1.3zM327.7 221.7h1.3v1.3h-1.3zM367.3 228.9h1.3v1.3h-1.3zM381.7 218.6h1.3v1.3h-1.3zM365.0 210.6h1.3v1.3h-1.3zM328.4 241.1h1.3v1.3h-1.3zM369.3 220.8h1.3v1.3h-1.3zM395.0 214.5h1.3v1.3h-1.3zM382.3 202.7h1.3v1.3h-1.3zM342.7 236.8h1.3v1.3h-1.3zM356.4 224.1h1.3v1.3h-1.3zM348.3 222.9h1.3v1.3h-1.3zM355.1 214.6h1.3v1.3h-1.3zM381.9 210.5h1.3v1.3h-1.3zM375.9 215.6h1.3v1.3h-1.3zM337.2 229.5h1.3v1.3h-1.3zM334.0 219.1h1.3v1.3h-1.3zM347.5 231.7h1.3v1.3h-1.3zM361.7 205.0h1.3v1.3h-1.3zM348.0 212.6h1.3v1.3h-1.3zM374.1 198.7h1.3v1.3h-1.3zM366.6 223.7h1.3v1.3h-1.3zM370.7 222.7h1.3v1.3h-1.3zM356.3 217.4h1.3v1.3h-1.3zM361.8 214.6h1.3v1.3h-1.3zM383.8 208.2h1.3v1.3h-1.3zM404.3 201.5h1.3v1.3h-1.3zM351.4 214.1h1.3v1.3h-1.3zM319.5 223.5h1.3v1.3h-1.3zM396.7 219.2h1.3v1.3h-1.3zM398.0 224.8h1.3v1.3h-1.3zM392.4 215.6h1.3v1.3h-1.3zM365.3 221.4h1.3v1.3h-1.3zM359.5 216.3h1.3v1.3h-1.3zM370.3 219.1h1.3v1.3h-1.3zM372.4 220.8h1.3v1.3h-1.3zM350.1 219.9h1.3v1.3h-1.3zM388.9 222.2h1.3v1.3h-1.3zM391.4 203.6h1.3v1.3h-1.3zM375.0 206.7h1.3v1.3h-1.3zM325.9 220.9h1.3v1.3h-1.3zM355.8 220.5h1.3v1.3h-1.3zM352.1 205.8h1.3v1.3h-1.3zM362.8 215.9h1.3v1.3h-1.3zM340.7 229.1h1.3v1.3h-1.3zM380.4 216.7h1.3v1.3h-1.3zM355.6 211.8h1.3v1.3h-1.3zM339.0 226.7h1.3v1.3h-1.3zM367.8 222.1h1.3v1.3h-1.3zM385.0 212.8h1.3v1.3h-1.3zM367.6 214.6h1.3v1.3h-1.3zM369.7 214.9h1.3v1.3h-1.3zM398.2 209.1h1.3v1.3h-1.3zM372.8 222.2h1.3v1.3h-1.3zM401.1 203.0h1.3v1.3h-1.3zM382.6 213.0h1.3v1.3h-1.3zM354.0 222.5h1.3v1.3h-1.3zM377.8 225.1h1.3v1.3h-1.3zM351.4 224.7h1.3v1.3h-1.3zM411.7 204.5h1.3v1.3h-1.3zM341.0 217.5h1.3v1.3h-1.3zM390.3 207.9h1.3v1.3h-1.3zM360.0 222.3h1.3v1.3h-1.3zM417.4 197.4h1.3v1.3h-1.3zM467.7 204.9h1.3v1.3h-1.3zM338.4 230.6h1.3v1.3h-1.3zM352.3 228.5h1.3v1.3h-1.3zM386.8 204.3h1.3v1.3h-1.3zM341.6 222.4h1.3v1.3h-1.3zM389.6 211.4h1.3v1.3h-1.3zM400.0 201.8h1.3v1.3h-1.3zM354.6 222.0h1.3v1.3h-1.3zM377.3 225.4h1.3v1.3h-1.3zM366.7 212.1h1.3v1.3h-1.3zM379.8 215.7h1.3v1.3h-1.3zM426.0 198.5h1.3v1.3h-1.3zM391.7 219.0h1.3v1.3h-1.3zM397.3 214.3h1.3v1.3h-1.3zM367.9 222.3h1.3v1.3h-1.3zM344.8 221.4h1.3v1.3h-1.3zM345.7 219.3h1.3v1.3h-1.3zM354.7 213.5h1.3v1.3h-1.3zM378.7 207.6h1.3v1.3h-1.3zM348.4 220.4h1.3v1.3h-1.3zM387.3 211.8h1.3v1.3h-1.3zM369.4 223.1h1.3v1.3h-1.3zM303.2 233.4h1.3v1.3h-1.3zM345.0 233.3h1.3v1.3h-1.3zM379.6 235.5h1.3v1.3h-1.3zM355.6 217.5h1.3v1.3h-1.3zM372.3 219.6h1.3v1.3h-1.3zM355.3 221.4h1.3v1.3h-1.3zM339.2 231.3h1.3v1.3h-1.3zM388.7 220.2h1.3v1.3h-1.3zM369.0 221.6h1.3v1.3h-1.3zM345.4 240.0h1.3v1.3h-1.3zM353.4 228.9h1.3v1.3h-1.3zM349.9 224.6h1.3v1.3h-1.3zM378.3 211.6h1.3v1.3h-1.3zM379.4 224.6h1.3v1.3h-1.3zM401.2 207.3h1.3v1.3h-1.3zM387.4 223.2h1.3v1.3h-1.3zM394.8 194.7h1.3v1.3h-1.3zM382.8 206.7h1.3v1.3h-1.3zM359.5 220.3h1.3v1.3h-1.3zM370.7 213.5h1.3v1.3h-1.3zM375.3 215.1h1.3v1.3h-1.3zM352.6 232.2h1.3v1.3h-1.3zM371.6 199.4h1.3v1.3h-1.3zM351.0 219.9h1.3v1.3h-1.3zM400.3 214.9h1.3v1.3h-1.3zM337.1 224.9h1.3v1.3h-1.3zM371.0 224.7h1.3v1.3h-1.3zM404.0 203.8h1.3v1.3h-1.3zM371.8 228.2h1.3v1.3h-1.3zM398.7 202.1h1.3v1.3h-1.3zM389.6 201.0h1.3v1.3h-1.3zM350.0 231.5h1.3v1.3h-1.3zM390.5 209.5h1.3v1.3h-1.3zM371.0 221.8h1.3v1.3h-1.3zM393.8 210.0h1.3v1.3h-1.3zM390.5 221.3h1.3v1.3h-1.3zM373.3 214.5h1.3v1.3h-1.3zM393.8 224.3h1.3v1.3h-1.3zM367.7 224.0h1.3v1.3h-1.3zM372.2 218.9h1.3v1.3h-1.3zM381.1 209.5h1.3v1.3h-1.3zM377.8 216.9h1.3v1.3h-1.3zM390.9 202.3h1.3v1.3h-1.3zM373.5 223.5h1.3v1.3h-1.3zM409.8 200.6h1.3v1.3h-1.3zM418.7 208.0h1.3v1.3h-1.3zM363.8 221.5h1.3v1.3h-1.3zM370.2 229.4h1.3v1.3h-1.3zM390.1 224.0h1.3v1.3h-1.3zM312.9 234.7h1.3v1.3h-1.3zM349.3 222.3h1.3v1.3h-1.3zM347.4 234.9h1.3v1.3h-1.3zM328.3 239.5h1.3v1.3h-1.3zM365.9 203.6h1.3v1.3h-1.3zM386.5 218.7h1.3v1.3h-1.3zM401.0 208.0h1.3v1.3h-1.3zM332.1 242.1h1.3v1.3h-1.3zM339.7 231.2h1.3v1.3h-1.3zM372.9 222.3h1.3v1.3h-1.3zM360.6 228.1h1.3v1.3h-1.3zM375.8 210.9h1.3v1.3h-1.3zM349.2 214.9h1.3v1.3h-1.3zM354.2 225.0h1.3v1.3h-1.3zM408.0 203.4h1.3v1.3h-1.3zM373.2 232.0h1.3v1.3h-1.3zM373.9 220.1h1.3v1.3h-1.3zM367.5 210.9h1.3v1.3h-1.3zM360.4 207.7h1.3v1.3h-1.3zM373.2 216.3h1.3v1.3h-1.3zM365.5 219.0h1.3v1.3h-1.3zM401.2 208.0h1.3v1.3h-1.3zM350.7 229.6h1.3v1.3h-1.3zM397.2 206.8h1.3v1.3h-1.3zM353.9 223.9h1.3v1.3h-1.3zM374.3 213.0h1.3v1.3h-1.3zM351.6 222.8h1.3v1.3h-1.3zM344.3 231.4h1.3v1.3h-1.3zM367.3 209.0h1.3v1.3h-1.3zM370.3 205.9h1.3v1.3h-1.3zM380.4 205.8h1.3v1.3h-1.3zM368.8 232.3h1.3v1.3h-1.3zM473.0 214.3h1.3v1.3h-1.3zM455.8 213.5h1.3v1.3h-1.3zM400.9 211.8h1.3v1.3h-1.3zM395.3 221.1h1.3v1.3h-1.3zM387.9 214.9h1.3v1.3h-1.3zM404.3 224.1h1.3v1.3h-1.3zM448.4 220.5h1.3v1.3h-1.3zM418.1 217.2h1.3v1.3h-1.3zM385.4 216.0h1.3v1.3h-1.3zM446.6 201.4h1.3v1.3h-1.3zM381.0 218.0h1.3v1.3h-1.3zM421.4 216.4h1.3v1.3h-1.3zM386.7 228.2h1.3v1.3h-1.3zM396.7 218.3h1.3v1.3h-1.3zM440.9 211.4h1.3v1.3h-1.3zM474.8 207.3h1.3v1.3h-1.3zM413.7 204.7h1.3v1.3h-1.3zM394.7 216.1h1.3v1.3h-1.3zM444.7 205.1h1.3v1.3h-1.3zM469.4 217.9h1.3v1.3h-1.3zM397.9 218.2h1.3v1.3h-1.3zM388.1 228.8h1.3v1.3h-1.3zM391.8 230.4h1.3v1.3h-1.3zM403.6 219.2h1.3v1.3h-1.3zM390.5 215.3h1.3v1.3h-1.3zM411.9 213.2h1.3v1.3h-1.3zM392.5 218.8h1.3v1.3h-1.3zM380.6 223.6h1.3v1.3h-1.3zM457.4 199.8h1.3v1.3h-1.3zM390.4 206.4h1.3v1.3h-1.3zM417.0 220.3h1.3v1.3h-1.3zM393.4 214.0h1.3v1.3h-1.3zM393.3 226.0h1.3v1.3h-1.3zM443.8 223.0h1.3v1.3h-1.3zM419.7 211.2h1.3v1.3h-1.3zM439.8 197.1h1.3v1.3h-1.3zM400.1 221.4h1.3v1.3h-1.3zM386.5 218.2h1.3v1.3h-1.3zM395.8 218.0h1.3v1.3h-1.3zM412.7 208.0h1.3v1.3h-1.3zM408.5 218.0h1.3v1.3h-1.3zM411.7 220.1h1.3v1.3h-1.3zM383.5 221.6h1.3v1.3h-1.3zM405.0 225.0h1.3v1.3h-1.3zM396.1 211.1h1.3v1.3h-1.3zM392.8 220.8h1.3v1.3h-1.3zM405.4 220.1h1.3v1.3h-1.3zM393.6 216.1h1.3v1.3h-1.3zM485.6 203.2h1.3v1.3h-1.3zM389.9 213.1h1.3v1.3h-1.3zM438.5 217.4h1.3v1.3h-1.3zM398.3 212.6h1.3v1.3h-1.3zM404.8 220.9h1.3v1.3h-1.3zM445.0 210.8h1.3v1.3h-1.3zM432.5 226.2h1.3v1.3h-1.3zM397.7 222.4h1.3v1.3h-1.3zM400.9 206.0h1.3v1.3h-1.3zM424.7 223.3h1.3v1.3h-1.3zM409.2 218.6h1.3v1.3h-1.3zM380.7 215.4h1.3v1.3h-1.3zM432.8 210.1h1.3v1.3h-1.3zM455.2 202.8h1.3v1.3h-1.3zM402.9 218.3h1.3v1.3h-1.3zM438.5 216.4h1.3v1.3h-1.3zM421.9 215.0h1.3v1.3h-1.3zM403.3 211.1h1.3v1.3h-1.3zM408.8 213.8h1.3v1.3h-1.3zM426.3 213.8h1.3v1.3h-1.3zM410.6 215.6h1.3v1.3h-1.3zM459.5 220.3h1.3v1.3h-1.3zM457.2 212.0h1.3v1.3h-1.3zM423.1 203.3h1.3v1.3h-1.3zM386.4 226.7h1.3v1.3h-1.3zM381.8 227.3h1.3v1.3h-1.3zM400.3 209.1h1.3v1.3h-1.3zM431.4 205.1h1.3v1.3h-1.3zM379.9 208.7h1.3v1.3h-1.3zM400.4 228.5h1.3v1.3h-1.3zM437.8 221.6h1.3v1.3h-1.3zM404.5 230.6h1.3v1.3h-1.3zM414.7 234.5h1.3v1.3h-1.3zM432.1 221.7h1.3v1.3h-1.3zM430.2 217.9h1.3v1.3h-1.3zM413.5 218.8h1.3v1.3h-1.3zM398.1 207.7h1.3v1.3h-1.3zM405.2 203.8h1.3v1.3h-1.3zM381.2 219.5h1.3v1.3h-1.3zM394.7 205.8h1.3v1.3h-1.3zM431.3 206.3h1.3v1.3h-1.3zM400.0 216.5h1.3v1.3h-1.3zM422.6 237.5h1.3v1.3h-1.3zM429.5 207.9h1.3v1.3h-1.3zM424.4 223.1h1.3v1.3h-1.3zM430.8 214.8h1.3v1.3h-1.3zM466.9 212.3h1.3v1.3h-1.3zM452.0 206.0h1.3v1.3h-1.3zM418.1 229.6h1.3v1.3h-1.3zM396.0 217.7h1.3v1.3h-1.3zM386.8 212.2h1.3v1.3h-1.3zM420.4 233.8h1.3v1.3h-1.3zM386.8 208.4h1.3v1.3h-1.3zM432.6 223.4h1.3v1.3h-1.3zM457.6 221.8h1.3v1.3h-1.3zM396.1 219.5h1.3v1.3h-1.3zM414.4 217.5h1.3v1.3h-1.3zM433.8 224.0h1.3v1.3h-1.3zM389.4 211.0h1.3v1.3h-1.3zM442.8 222.2h1.3v1.3h-1.3zM398.4 218.0h1.3v1.3h-1.3zM429.1 225.0h1.3v1.3h-1.3zM446.3 216.9h1.3v1.3h-1.3zM383.1 214.8h1.3v1.3h-1.3zM394.9 211.7h1.3v1.3h-1.3zM413.9 219.4h1.3v1.3h-1.3zM390.3 215.2h1.3v1.3h-1.3zM410.7 231.3h1.3v1.3h-1.3zM416.5 208.3h1.3v1.3h-1.3zM420.0 216.5h1.3v1.3h-1.3zM456.4 215.6h1.3v1.3h-1.3zM466.3 208.5h1.3v1.3h-1.3zM390.1 232.6h1.3v1.3h-1.3zM407.1 208.0h1.3v1.3h-1.3zM393.7 219.0h1.3v1.3h-1.3zM433.2 208.0h1.3v1.3h-1.3zM402.9 218.5h1.3v1.3h-1.3zM397.5 208.4h1.3v1.3h-1.3zM392.9 229.1h1.3v1.3h-1.3zM386.9 221.0h1.3v1.3h-1.3zM397.3 206.3h1.3v1.3h-1.3zM382.4 222.8h1.3v1.3h-1.3zM411.0 212.1h1.3v1.3h-1.3zM412.8 212.0h1.3v1.3h-1.3zM387.5 215.4h1.3v1.3h-1.3zM444.9 230.6h1.3v1.3h-1.3zM444.0 228.1h1.3v1.3h-1.3zM421.2 206.5h1.3v1.3h-1.3zM434.8 201.1h1.3v1.3h-1.3zM428.0 221.8h1.3v1.3h-1.3zM472.2 222.0h1.3v1.3h-1.3zM409.6 209.2h1.3v1.3h-1.3zM427.0 209.0h1.3v1.3h-1.3zM390.2 204.6h1.3v1.3h-1.3zM382.7 218.0h1.3v1.3h-1.3zM396.5 220.6h1.3v1.3h-1.3zM385.5 207.9h1.3v1.3h-1.3zM449.0 207.4h1.3v1.3h-1.3zM383.9 223.1h1.3v1.3h-1.3zM395.8 220.9h1.3v1.3h-1.3zM398.2 218.2h1.3v1.3h-1.3zM388.8 208.8h1.3v1.3h-1.3zM439.9 217.2h1.3v1.3h-1.3zM414.4 219.5h1.3v1.3h-1.3zM396.8 212.7h1.3v1.3h-1.3zM382.6 227.4h1.3v1.3h-1.3zM386.1 212.9h1.3v1.3h-1.3zM451.7 204.4h1.3v1.3h-1.3zM452.7 206.2h1.3v1.3h-1.3zM435.6 211.9h1.3v1.3h-1.3zM380.9 209.9h1.3v1.3h-1.3zM382.3 222.6h1.3v1.3h-1.3zM411.0 214.3h1.3v1.3h-1.3zM389.3 210.5h1.3v1.3h-1.3zM397.5 206.5h1.3v1.3h-1.3zM410.3 214.7h1.3v1.3h-1.3zM381.7 213.4h1.3v1.3h-1.3zM412.7 227.8h1.3v1.3h-1.3zM397.0 220.7h1.3v1.3h-1.3zM393.7 210.8h1.3v1.3h-1.3zM461.2 212.5h1.3v1.3h-1.3zM422.8 230.4h1.3v1.3h-1.3zM389.5 218.0h1.3v1.3h-1.3zM403.1 209.0h1.3v1.3h-1.3zM419.5 215.2h1.3v1.3h-1.3zM440.5 200.5h1.3v1.3h-1.3zM388.7 210.8h1.3v1.3h-1.3zM417.6 200.3h1.3v1.3h-1.3zM414.8 209.7h1.3v1.3h-1.3zM385.4 212.1h1.3v1.3h-1.3zM447.8 213.4h1.3v1.3h-1.3zM382.8 227.2h1.3v1.3h-1.3zM490.4 212.2h1.3v1.3h-1.3zM399.8 222.1h1.3v1.3h-1.3zM431.1 211.1h1.3v1.3h-1.3zM465.3 209.8h1.3v1.3h-1.3zM459.1 212.0h1.3v1.3h-1.3zM385.5 193.0h1.3v1.3h-1.3zM388.5 220.0h1.3v1.3h-1.3zM407.9 194.9h1.3v1.3h-1.3zM399.5 231.4h1.3v1.3h-1.3zM384.3 220.4h1.3v1.3h-1.3zM412.9 219.0h1.3v1.3h-1.3zM386.7 229.5h1.3v1.3h-1.3zM432.1 213.5h1.3v1.3h-1.3zM451.0 220.9h1.3v1.3h-1.3zM446.1 202.3h1.3v1.3h-1.3zM397.5 210.2h1.3v1.3h-1.3zM385.2 216.2h1.3v1.3h-1.3zM381.7 218.7h1.3v1.3h-1.3zM457.6 215.2h1.3v1.3h-1.3zM394.7 217.4h1.3v1.3h-1.3zM385.5 203.4h1.3v1.3h-1.3zM384.6 214.9h1.3v1.3h-1.3zM430.4 209.3h1.3v1.3h-1.3zM408.9 210.3h1.3v1.3h-1.3zM446.4 218.1h1.3v1.3h-1.3zM490.6 193.8h1.3v1.3h-1.3zM382.0 204.2h1.3v1.3h-1.3zM463.8 202.0h1.3v1.3h-1.3zM405.0 218.4h1.3v1.3h-1.3zM414.9 232.9h1.3v1.3h-1.3zM440.7 200.1h1.3v1.3h-1.3zM418.6 217.7h1.3v1.3h-1.3zM396.7 231.4h1.3v1.3h-1.3zM418.5 219.2h1.3v1.3h-1.3zM410.1 201.3h1.3v1.3h-1.3zM400.6 238.3h1.3v1.3h-1.3zM430.5 209.7h1.3v1.3h-1.3zM387.7 224.4h1.3v1.3h-1.3zM470.1 208.3h1.3v1.3h-1.3zM392.5 231.8h1.3v1.3h-1.3zM402.4 208.8h1.3v1.3h-1.3zM386.7 222.2h1.3v1.3h-1.3zM390.9 231.9h1.3v1.3h-1.3zM483.4 204.5h1.3v1.3h-1.3zM440.2 227.2h1.3v1.3h-1.3zM394.6 209.2h1.3v1.3h-1.3zM392.7 207.9h1.3v1.3h-1.3zM382.8 246.3h1.3v1.3h-1.3zM451.0 221.9h1.3v1.3h-1.3zM448.9 215.0h1.3v1.3h-1.3zM380.9 222.9h1.3v1.3h-1.3zM421.3 209.7h1.3v1.3h-1.3zM452.9 200.6h1.3v1.3h-1.3zM401.9 212.4h1.3v1.3h-1.3zM426.1 209.5h1.3v1.3h-1.3zM433.9 195.6h1.3v1.3h-1.3zM409.8 223.4h1.3v1.3h-1.3zM386.9 216.2h1.3v1.3h-1.3zM401.9 228.5h1.3v1.3h-1.3zM430.7 214.1h1.3v1.3h-1.3zM459.0 201.5h1.3v1.3h-1.3zM408.9 214.3h1.3v1.3h-1.3zM389.7 225.7h1.3v1.3h-1.3zM402.0 208.9h1.3v1.3h-1.3zM400.2 202.9h1.3v1.3h-1.3zM424.8 208.6h1.3v1.3h-1.3zM388.2 226.4h1.3v1.3h-1.3zM384.6 227.0h1.3v1.3h-1.3zM393.8 220.8h1.3v1.3h-1.3zM402.2 206.7h1.3v1.3h-1.3zM416.3 222.2h1.3v1.3h-1.3zM431.8 211.8h1.3v1.3h-1.3zM402.2 222.4h1.3v1.3h-1.3zM395.0 205.8h1.3v1.3h-1.3zM381.6 214.9h1.3v1.3h-1.3zM433.5 208.6h1.3v1.3h-1.3zM434.2 224.5h1.3v1.3h-1.3zM453.9 222.0h1.3v1.3h-1.3zM399.2 223.1h1.3v1.3h-1.3zM465.0 194.9h1.3v1.3h-1.3zM322.6 229.5h1.3v1.3h-1.3zM335.9 230.6h1.3v1.3h-1.3zM333.5 222.5h1.3v1.3h-1.3zM344.5 215.9h1.3v1.3h-1.3zM332.8 234.2h1.3v1.3h-1.3zM347.1 226.0h1.3v1.3h-1.3zM345.3 222.7h1.3v1.3h-1.3zM319.3 214.4h1.3v1.3h-1.3zM314.7 223.3h1.3v1.3h-1.3zM340.5 219.8h1.3v1.3h-1.3zM342.9 231.5h1.3v1.3h-1.3zM344.5 235.4h1.3v1.3h-1.3zM345.1 227.3h1.3v1.3h-1.3zM313.1 210.1h1.3v1.3h-1.3zM336.9 221.8h1.3v1.3h-1.3zM322.6 225.9h1.3v1.3h-1.3zM340.5 233.6h1.3v1.3h-1.3zM334.3 230.8h1.3v1.3h-1.3zM345.2 220.1h1.3v1.3h-1.3zM343.5 215.0h1.3v1.3h-1.3zM339.7 224.0h1.3v1.3h-1.3zM290.9 226.8h1.3v1.3h-1.3zM342.2 236.3h1.3v1.3h-1.3zM347.0 230.7h1.3v1.3h-1.3zM344.1 226.0h1.3v1.3h-1.3zM342.9 226.1h1.3v1.3h-1.3zM340.5 223.5h1.3v1.3h-1.3zM335.6 219.2h1.3v1.3h-1.3zM346.2 223.1h1.3v1.3h-1.3zM314.5 213.8h1.3v1.3h-1.3zM306.3 227.4h1.3v1.3h-1.3zM339.4 222.3h1.3v1.3h-1.3zM345.2 226.8h1.3v1.3h-1.3zM331.5 217.6h1.3v1.3h-1.3zM306.0 229.5h1.3v1.3h-1.3zM338.5 231.0h1.3v1.3h-1.3zM343.1 242.5h1.3v1.3h-1.3zM307.4 237.0h1.3v1.3h-1.3zM345.1 238.4h1.3v1.3h-1.3zM341.8 233.0h1.3v1.3h-1.3zM308.9 233.2h1.3v1.3h-1.3zM343.8 226.6h1.3v1.3h-1.3zM311.8 221.2h1.3v1.3h-1.3zM342.2 233.8h1.3v1.3h-1.3zM318.8 230.7h1.3v1.3h-1.3zM343.0 215.0h1.3v1.3h-1.3zM346.2 226.5h1.3v1.3h-1.3zM329.3 228.8h1.3v1.3h-1.3zM345.9 226.8h1.3v1.3h-1.3zM340.9 220.4h1.3v1.3h-1.3zM342.1 215.7h1.3v1.3h-1.3zM339.9 235.8h1.3v1.3h-1.3zM339.9 227.8h1.3v1.3h-1.3zM343.3 218.9h1.3v1.3h-1.3zM339.5 237.1h1.3v1.3h-1.3zM309.7 226.7h1.3v1.3h-1.3zM317.5 228.1h1.3v1.3h-1.3zM338.2 233.7h1.3v1.3h-1.3zM331.9 238.5h1.3v1.3h-1.3zM342.3 229.5h1.3v1.3h-1.3zM402.2 199.3h1.3v1.3h-1.3zM385.6 196.6h1.3v1.3h-1.3zM395.2 189.8h1.3v1.3h-1.3zM386.1 197.4h1.3v1.3h-1.3zM372.3 191.5h1.3v1.3h-1.3zM397.5 185.5h1.3v1.3h-1.3zM387.5 185.4h1.3v1.3h-1.3zM388.5 200.3h1.3v1.3h-1.3zM377.3 191.1h1.3v1.3h-1.3zM394.4 197.0h1.3v1.3h-1.3zM374.2 198.5h1.3v1.3h-1.3zM388.8 195.4h1.3v1.3h-1.3zM385.2 200.6h1.3v1.3h-1.3zM384.2 200.7h1.3v1.3h-1.3zM377.0 180.4h1.3v1.3h-1.3zM374.7 191.1h1.3v1.3h-1.3zM378.2 200.2h1.3v1.3h-1.3zM390.3 193.1h1.3v1.3h-1.3zM383.4 199.6h1.3v1.3h-1.3zM387.1 196.4h1.3v1.3h-1.3zM383.4 200.1h1.3v1.3h-1.3zM394.8 200.6h1.3v1.3h-1.3zM363.2 190.6h1.3v1.3h-1.3zM388.3 196.8h1.3v1.3h-1.3zM381.6 193.5h1.3v1.3h-1.3zM384.2 188.9h1.3v1.3h-1.3zM395.5 197.6h1.3v1.3h-1.3zM369.5 197.3h1.3v1.3h-1.3zM363.6 197.2h1.3v1.3h-1.3zM369.4 195.6h1.3v1.3h-1.3zM391.4 190.0h1.3v1.3h-1.3zM384.7 197.3h1.3v1.3h-1.3zM377.9 180.2h1.3v1.3h-1.3zM362.0 189.9h1.3v1.3h-1.3zM401.9 198.8h1.3v1.3h-1.3zM367.7 191.1h1.3v1.3h-1.3zM350.2 201.6h1.3v1.3h-1.3zM363.8 201.7h1.3v1.3h-1.3zM375.0 190.4h1.3v1.3h-1.3zM389.6 191.5h1.3v1.3h-1.3zM364.6 196.0h1.3v1.3h-1.3zM383.6 195.9h1.3v1.3h-1.3zM375.4 196.9h1.3v1.3h-1.3zM396.9 199.4h1.3v1.3h-1.3zM350.3 194.7h1.3v1.3h-1.3zM387.5 184.6h1.3v1.3h-1.3zM375.5 201.8h1.3v1.3h-1.3zM378.5 199.2h1.3v1.3h-1.3zM370.8 196.1h1.3v1.3h-1.3zM346.6 198.7h1.3v1.3h-1.3zM369.2 237.1h1.3v1.3h-1.3zM390.7 247.0h1.3v1.3h-1.3zM361.7 236.9h1.3v1.3h-1.3zM361.6 236.5h1.3v1.3h-1.3zM369.2 245.8h1.3v1.3h-1.3zM398.7 238.9h1.3v1.3h-1.3zM379.4 246.7h1.3v1.3h-1.3zM350.9 239.2h1.3v1.3h-1.3zM407.1 239.0h1.3v1.3h-1.3zM364.2 242.6h1.3v1.3h-1.3zM400.6 244.6h1.3v1.3h-1.3zM384.9 243.5h1.3v1.3h-1.3zM367.6 239.3h1.3v1.3h-1.3zM393.6 243.8h1.3v1.3h-1.3zM383.0 236.4h1.3v1.3h-1.3zM364.5 237.7h1.3v1.3h-1.3zM357.1 241.4h1.3v1.3h-1.3zM344.9 246.4h1.3v1.3h-1.3zM363.9 238.9h1.3v1.3h-1.3zM379.3 246.3h1.3v1.3h-1.3zM374.8 254.1h1.3v1.3h-1.3zM380.4 239.2h1.3v1.3h-1.3zM342.4 240.3h1.3v1.3h-1.3zM398.9 247.8h1.3v1.3h-1.3zM363.5 242.3h1.3v1.3h-1.3zM376.7 240.8h1.3v1.3h-1.3zM348.7 241.4h1.3v1.3h-1.3zM333.3 243.7h1.3v1.3h-1.3zM386.1 245.7h1.3v1.3h-1.3zM364.2 240.6h1.3v1.3h-1.3zM406.7 244.5h1.3v1.3h-1.3zM395.6 251.7h1.3v1.3h-1.3zM372.1 242.9h1.3v1.3h-1.3zM378.8 244.5h1.3v1.3h-1.3zM372.3 245.0h1.3v1.3h-1.3zM352.8 249.3h1.3v1.3h-1.3zM394.7 241.9h1.3v1.3h-1.3zM358.6 244.4h1.3v1.3h-1.3zM375.5 239.2h1.3v1.3h-1.3zM365.4 236.5h1.3v1.3h-1.3z" fill="#a2a2a2"/>
<path d="M393,214 L392.2,219.6 L389.8,225 L386,230 L381,234.2 L375.2,237.2 L369,239 L362.8,239.3 L357,238.2 L352,235.7 L348.2,232 L345.8,227.3 L345,222 L345.8,216.4 L348.2,211 L352,206 L357,201.8 L362.8,198.8 L369,197 L375.2,196.7 L381,197.8 L386,200.3 L389.8,204 L392.2,208.7 Z" fill="#a2a2a2" filter="url(#mblur)"/>
<line x1="320" y1="236" x2="330" y2="228" stroke="#5f8f50" stroke-width="0.45"/>
<line x1="330" y1="243" x2="345" y2="237" stroke="#5f8f50" stroke-width="0.45"/>
<line x1="313" y1="226" x2="325" y2="233" stroke="#5f8f50" stroke-width="0.45"/>
<line x1="360" y1="226" x2="350" y2="234" stroke="#5f8f50" stroke-width="0.45"/>
<line x1="340" y1="238" x2="350" y2="246" stroke="#5f8f50" stroke-width="0.45"/>
<line x1="325" y1="248" x2="332" y2="240" stroke="#5f8f50" stroke-width="0.45"/>
<line x1="315" y1="256" x2="322" y2="245" stroke="#5f8f50" stroke-width="0.45"/>
<line x1="345" y1="253" x2="340" y2="242" stroke="#5f8f50" stroke-width="0.45"/>
<line x1="367" y1="240" x2="355" y2="236" stroke="#5f8f50" stroke-width="0.45"/>
<line x1="367" y1="250" x2="352" y2="240" stroke="#5f8f50" stroke-width="0.45"/>
<line x1="322" y1="262" x2="325" y2="250" stroke="#5f8f50" stroke-width="0.45"/>
<line x1="300" y1="237" x2="320" y2="234" stroke="#5f8f50" stroke-width="0.45"/>
<line x1="370" y1="207" x2="384" y2="212" stroke="#5f8f50" stroke-width="0.45"/>
<line x1="399" y1="211" x2="395" y2="205" stroke="#5f8f50" stroke-width="0.45"/>
<line x1="385" y1="215" x2="392" y2="210" stroke="#5f8f50" stroke-width="0.45"/>
<path d="M333.8 229.9h1.9v1.9h-1.9zM335.0 235.3h1.9v1.9h-1.9zM334.8 237.8h1.9v1.9h-1.9zM345.5 227.2h1.9v1.9h-1.9zM327.8 226.0h1.9v1.9h-1.9zM329.7 235.1h1.9v1.9h-1.9zM333.5 229.6h1.9v1.9h-1.9zM337.5 223.1h1.9v1.9h-1.9zM339.5 230.9h1.9v1.9h-1.9zM342.6 230.4h1.9v1.9h-1.9zM345.6 236.6h1.9v1.9h-1.9zM333.8 234.4h1.9v1.9h-1.9zM328.4 228.5h1.9v1.9h-1.9zM326.6 230.8h1.9v1.9h-1.9zM325.5 226.8h1.9v1.9h-1.9zM334.5 225.1h1.9v1.9h-1.9zM341.8 227.6h1.9v1.9h-1.9zM334.2 230.4h1.9v1.9h-1.9zM345.7 234.5h1.9v1.9h-1.9zM334.3 229.1h1.9v1.9h-1.9zM344.2 231.1h1.9v1.9h-1.9zM326.9 232.3h1.9v1.9h-1.9zM342.2 231.6h1.9v1.9h-1.9zM336.9 238.4h1.9v1.9h-1.9zM331.7 235.2h1.9v1.9h-1.9zM350.6 239.4h1.9v1.9h-1.9zM326.0 234.2h1.9v1.9h-1.9zM337.7 241.1h1.9v1.9h-1.9zM348.0 236.3h1.9v1.9h-1.9zM347.2 234.3h1.9v1.9h-1.9zM327.0 241.1h1.9v1.9h-1.9zM321.1 235.3h1.9v1.9h-1.9zM343.5 232.7h1.9v1.9h-1.9zM345.7 231.7h1.9v1.9h-1.9zM343.8 232.9h1.9v1.9h-1.9zM329.9 236.2h1.9v1.9h-1.9zM331.4 234.6h1.9v1.9h-1.9zM327.1 232.9h1.9v1.9h-1.9zM341.5 237.0h1.9v1.9h-1.9zM326.6 229.3h1.9v1.9h-1.9zM336.4 227.1h1.9v1.9h-1.9zM342.0 241.1h1.9v1.9h-1.9zM342.7 234.6h1.9v1.9h-1.9zM329.0 234.4h1.9v1.9h-1.9zM341.4 240.7h1.9v1.9h-1.9zM333.4 237.4h1.9v1.9h-1.9zM333.4 230.5h1.9v1.9h-1.9zM332.7 233.1h1.9v1.9h-1.9zM323.0 230.1h1.9v1.9h-1.9zM350.0 223.6h1.9v1.9h-1.9zM302.1 235.1h1.9v1.9h-1.9zM305.1 236.1h1.9v1.9h-1.9zM289.1 240.1h1.9v1.9h-1.9zM295.1 242.1h1.9v1.9h-1.9zM297.1 243.1h1.9v1.9h-1.9zM300.1 244.1h1.9v1.9h-1.9zM309.1 242.1h1.9v1.9h-1.9zM311.1 245.1h1.9v1.9h-1.9zM303.1 247.1h1.9v1.9h-1.9zM305.1 249.1h1.9v1.9h-1.9zM295.1 257.1h1.9v1.9h-1.9zM304.1 261.1h1.9v1.9h-1.9zM315.1 257.1h1.9v1.9h-1.9zM283.1 265.1h1.9v1.9h-1.9zM326.1 267.1h1.9v1.9h-1.9zM329.1 270.1h1.9v1.9h-1.9zM321.1 276.1h1.9v1.9h-1.9zM329.1 279.1h1.9v1.9h-1.9zM298.1 251.1h1.9v1.9h-1.9zM310.1 231.1h1.9v1.9h-1.9zM418.1 238.7h1.9v1.9h-1.9zM399.9 230.9h1.9v1.9h-1.9zM421.6 233.0h1.9v1.9h-1.9zM410.0 233.7h1.9v1.9h-1.9zM390.3 240.0h1.9v1.9h-1.9zM415.0 230.1h1.9v1.9h-1.9zM421.2 228.5h1.9v1.9h-1.9zM388.1 239.1h1.9v1.9h-1.9zM399.9 234.8h1.9v1.9h-1.9zM428.0 229.4h1.9v1.9h-1.9zM414.4 232.8h1.9v1.9h-1.9zM407.2 233.7h1.9v1.9h-1.9zM394.9 235.1h1.9v1.9h-1.9zM393.0 234.9h1.9v1.9h-1.9zM392.6 233.4h1.9v1.9h-1.9zM407.7 227.7h1.9v1.9h-1.9zM405.0 238.3h1.9v1.9h-1.9zM407.5 239.5h1.9v1.9h-1.9zM392.0 237.7h1.9v1.9h-1.9zM410.2 225.1h1.9v1.9h-1.9zM405.7 239.2h1.9v1.9h-1.9zM404.9 235.0h1.9v1.9h-1.9zM404.0 234.0h1.9v1.9h-1.9zM391.4 231.3h1.9v1.9h-1.9zM379.1 245.1h1.9v1.9h-1.9zM405.6 235.9h1.9v1.9h-1.9zM414.5 237.4h1.9v1.9h-1.9zM404.8 226.9h1.9v1.9h-1.9zM389.2 228.5h1.9v1.9h-1.9zM406.6 230.0h1.9v1.9h-1.9zM423.9 228.5h1.9v1.9h-1.9zM436.8 228.5h1.9v1.9h-1.9zM443.9 228.5h1.9v1.9h-1.9zM419.4 234.2h1.9v1.9h-1.9zM428.2 232.8h1.9v1.9h-1.9zM436.8 238.0h1.9v1.9h-1.9zM445.4 238.0h1.9v1.9h-1.9zM455.6 237.2h1.9v1.9h-1.9zM461.2 239.5h1.9v1.9h-1.9zM494.4 238.0h1.9v1.9h-1.9zM387.8 248.7h1.9v1.9h-1.9zM438.2 248.7h1.9v1.9h-1.9zM440.6 252.4h1.9v1.9h-1.9zM469.1 240.1h1.9v1.9h-1.9zM451.1 231.1h1.9v1.9h-1.9zM397.1 240.1h1.9v1.9h-1.9zM401.1 242.1h1.9v1.9h-1.9zM382.1 236.1h1.9v1.9h-1.9z" fill="#e0101c"/>
<path d="M385.2 213.1h1.9v1.9h-1.9zM403.2 207.4h1.9v1.9h-1.9zM386.8 201.1h1.9v1.9h-1.9zM401.4 199.5h1.9v1.9h-1.9zM411.7 199.5h1.9v1.9h-1.9zM393.7 197.4h1.9v1.9h-1.9zM402.4 210.9h1.9v1.9h-1.9zM400.8 203.7h1.9v1.9h-1.9zM394.5 208.2h1.9v1.9h-1.9zM398.5 213.5h1.9v1.9h-1.9zM395.5 201.7h1.9v1.9h-1.9zM392.7 193.2h1.9v1.9h-1.9zM401.0 204.5h1.9v1.9h-1.9zM380.8 197.3h1.9v1.9h-1.9zM386.6 202.0h1.9v1.9h-1.9zM387.2 208.0h1.9v1.9h-1.9zM411.7 200.2h1.9v1.9h-1.9zM398.7 197.9h1.9v1.9h-1.9zM413.1 197.8h1.9v1.9h-1.9zM389.7 203.8h1.9v1.9h-1.9zM389.5 215.1h1.9v1.9h-1.9zM396.4 202.4h1.9v1.9h-1.9zM387.5 203.3h1.9v1.9h-1.9zM391.7 201.4h1.9v1.9h-1.9zM409.5 200.5h1.9v1.9h-1.9zM403.1 200.3h1.9v1.9h-1.9zM409.6 199.6h1.9v1.9h-1.9zM387.8 202.4h1.9v1.9h-1.9zM412.3 201.5h1.9v1.9h-1.9zM388.8 202.9h1.9v1.9h-1.9zM390.6 205.2h1.9v1.9h-1.9zM391.0 205.5h1.9v1.9h-1.9zM408.3 206.5h1.9v1.9h-1.9zM415.1 205.4h1.9v1.9h-1.9zM418.8 210.8h1.9v1.9h-1.9zM395.5 208.0h1.9v1.9h-1.9zM390.4 202.6h1.9v1.9h-1.9zM397.5 199.4h1.9v1.9h-1.9zM401.9 203.3h1.9v1.9h-1.9zM420.4 208.0h1.9v1.9h-1.9zM395.8 200.1h1.9v1.9h-1.9zM392.6 200.0h1.9v1.9h-1.9zM390.2 203.8h1.9v1.9h-1.9zM383.6 202.1h1.9v1.9h-1.9zM403.9 200.6h1.9v1.9h-1.9zM386.2 201.0h1.9v1.9h-1.9zM407.9 199.6h1.9v1.9h-1.9zM415.5 194.6h1.9v1.9h-1.9zM389.6 207.1h1.9v1.9h-1.9zM413.3 202.6h1.9v1.9h-1.9zM380.3 202.2h1.9v1.9h-1.9zM388.5 200.0h1.9v1.9h-1.9zM394.4 200.5h1.9v1.9h-1.9zM398.0 204.6h1.9v1.9h-1.9zM395.3 194.0h1.9v1.9h-1.9zM396.5 193.1h1.9v1.9h-1.9zM399.2 201.4h1.9v1.9h-1.9zM388.3 215.1h1.9v1.9h-1.9zM416.7 211.1h1.9v1.9h-1.9zM400.8 201.1h1.9v1.9h-1.9zM403.5 212.7h1.9v1.9h-1.9zM397.5 202.9h1.9v1.9h-1.9zM392.1 203.4h1.9v1.9h-1.9zM407.6 198.8h1.9v1.9h-1.9zM410.0 204.5h1.9v1.9h-1.9zM421.1 204.8h1.9v1.9h-1.9zM412.3 198.4h1.9v1.9h-1.9zM421.1 204.2h1.9v1.9h-1.9zM397.7 212.0h1.9v1.9h-1.9zM400.2 197.0h1.9v1.9h-1.9zM415.2 163.1h1.9v1.9h-1.9zM415.2 168.0h1.9v1.9h-1.9zM396.4 176.7h1.9v1.9h-1.9zM439.7 181.8h1.9v1.9h-1.9zM449.8 175.2h1.9v1.9h-1.9zM465.6 181.0h1.9v1.9h-1.9zM475.7 189.6h1.9v1.9h-1.9zM484.4 184.4h1.9v1.9h-1.9zM425.2 188.8h1.9v1.9h-1.9zM438.2 190.2h1.9v1.9h-1.9zM399.4 192.5h1.9v1.9h-1.9zM454.1 194.8h1.9v1.9h-1.9zM445.4 214.1h1.9v1.9h-1.9zM437.4 190.7h1.9v1.9h-1.9zM449.9 192.1h1.9v1.9h-1.9zM453.6 175.7h1.9v1.9h-1.9zM335.7 181.4h1.9v1.9h-1.9zM336.6 192.8h1.9v1.9h-1.9zM304.9 196.8h1.9v1.9h-1.9zM324.6 200.2h1.9v1.9h-1.9zM331.1 206.1h1.9v1.9h-1.9zM333.1 209.1h1.9v1.9h-1.9zM337.1 209.1h1.9v1.9h-1.9zM338.8 204.8h1.9v1.9h-1.9zM345.1 211.1h1.9v1.9h-1.9zM342.1 207.1h1.9v1.9h-1.9zM348.1 213.1h1.9v1.9h-1.9zM427.1 199.1h1.9v1.9h-1.9zM432.1 196.1h1.9v1.9h-1.9zM420.1 204.1h1.9v1.9h-1.9zM411.1 189.1h1.9v1.9h-1.9zM407.1 185.1h1.9v1.9h-1.9zM418.1 182.1h1.9v1.9h-1.9zM403.1 198.1h1.9v1.9h-1.9z" fill="#1a1a8c"/>
<rect x="324.3" y="187.7" width="14.9" height="4.9" fill="#fbfdf9" stroke="#79a569" stroke-width="0.9" rx="1"/>
<text x="331.75" y="191.65" font-size="4.17" text-anchor="middle" fill="#36682c" textLength="12.9" lengthAdjust="spacingAndGlyphs">Cited1</text>
<rect x="326.8" y="197.4" width="31.2" height="4.9" fill="#fbfdf9" stroke="#79a569" stroke-width="0.9" rx="1"/>
<text x="342.4" y="201.35" font-size="4.17" text-anchor="middle" fill="#36682c" textLength="29.2" lengthAdjust="spacingAndGlyphs">BC051169Rik</text>
<rect x="315.6" y="205.6" width="15.4" height="4.8" fill="#fbfdf9" stroke="#79a569" stroke-width="0.9" rx="1"/>
<text x="323.3" y="209.5" font-size="4.08" text-anchor="middle" fill="#36682c" textLength="13.4" lengthAdjust="spacingAndGlyphs">Lrp53</text>
<rect x="347.7" y="205.6" width="10.2" height="4.6" fill="#fbfdf9" stroke="#79a569" stroke-width="0.9" rx="1"/>
<text x="352.8" y="209.4" font-size="3.91" text-anchor="middle" fill="#36682c" textLength="8.2" lengthAdjust="spacingAndGlyphs">Lat</text>
<rect x="295" y="216.5" width="13.5" height="4.9" fill="#fbfdf9" stroke="#79a569" stroke-width="0.9" rx="1"/>
<text x="301.75" y="220.45" font-size="4.17" text-anchor="middle" fill="#36682c" textLength="11.5" lengthAdjust="spacingAndGlyphs">Abcg1</text>
<rect x="310.4" y="215.8" width="14.8" height="5" fill="#fbfdf9" stroke="#79a569" stroke-width="0.9" rx="1"/>
<text x="317.8" y="219.8" font-size="4.25" text-anchor="middle" fill="#36682c" textLength="12.8" lengthAdjust="spacingAndGlyphs">Vamp5</text>
<rect x="328" y="214.2" width="20.3" height="5.2" fill="#fbfdf9" stroke="#79a569" stroke-width="0.9" rx="1"/>
<text x="338.15" y="218.3" font-size="4.3" text-anchor="middle" fill="#36682c" textLength="18.3" lengthAdjust="spacingAndGlyphs">Tbc1d8b</text>
<rect x="351.5" y="214.6" width="14.9" height="4.7" fill="#fbfdf9" stroke="#79a569" stroke-width="0.9" rx="1"/>
<text x="358.95" y="218.45" font-size="4" text-anchor="middle" fill="#36682c" textLength="12.9" lengthAdjust="spacingAndGlyphs">Mrps35</text>
<rect x="307" y="223.5" width="11" height="4.7" fill="#fbfdf9" stroke="#79a569" stroke-width="0.9" rx="1"/>
<text x="312.5" y="227.35" font-size="3.99" text-anchor="middle" fill="#36682c" textLength="9" lengthAdjust="spacingAndGlyphs">Egfl7</text>
<rect x="324.6" y="223.5" width="11.2" height="4.7" fill="#fbfdf9" stroke="#79a569" stroke-width="0.9" rx="1"/>
<text x="330.2" y="227.35" font-size="3.99" text-anchor="middle" fill="#36682c" textLength="9.2" lengthAdjust="spacingAndGlyphs">Flt3</text>
<rect x="336.7" y="222.9" width="11.6" height="4.8" fill="#fbfdf9" stroke="#79a569" stroke-width="0.9" rx="1"/>
<text x="342.5" y="226.8" font-size="4.08" text-anchor="middle" fill="#36682c" textLength="9.6" lengthAdjust="spacingAndGlyphs">Fgfr1</text>
<rect x="358.5" y="223.9" width="13" height="4.6" fill="#fbfdf9" stroke="#79a569" stroke-width="0.9" rx="1"/>
<text x="365" y="227.7" font-size="3.91" text-anchor="middle" fill="#36682c" textLength="11" lengthAdjust="spacingAndGlyphs">Arntl2</text>
<rect x="290.6" y="230.6" width="8" height="4.8" fill="#fbfdf9" stroke="#79a569" stroke-width="0.9" rx="1"/>
<text x="294.6" y="234.5" font-size="4.08" text-anchor="middle" fill="#36682c" textLength="6" lengthAdjust="spacingAndGlyphs">Lrk</text>
<rect x="306" y="231.9" width="10.5" height="4.8" fill="#fbfdf9" stroke="#79a569" stroke-width="0.9" rx="1"/>
<text x="311.25" y="235.8" font-size="4.08" text-anchor="middle" fill="#36682c" textLength="8.5" lengthAdjust="spacingAndGlyphs">Hst1</text>
<rect x="320" y="231.5" width="10.5" height="4.8" fill="#fbfdf9" stroke="#79a569" stroke-width="0.9" rx="1"/>
<text x="325.25" y="235.4" font-size="4.08" text-anchor="middle" fill="#36682c" textLength="8.5" lengthAdjust="spacingAndGlyphs">Piob</text>
<rect x="350" y="231.6" width="12" height="4.2" fill="#fbfdf9" stroke="#79a569" stroke-width="0.9" rx="1"/>
<text x="356" y="235.2" font-size="3.57" text-anchor="middle" fill="#36682c" textLength="10" lengthAdjust="spacingAndGlyphs">Ssrp2</text>
<rect x="364.6" y="236.5" width="11.6" height="4.7" fill="#fbfdf9" stroke="#79a569" stroke-width="0.9" rx="1"/>
<text x="370.4" y="240.35" font-size="3.99" text-anchor="middle" fill="#36682c" textLength="9.6" lengthAdjust="spacingAndGlyphs">Tsnp</text>
<rect x="285.8" y="239.2" width="15.4" height="4.8" fill="#fbfdf9" stroke="#79a569" stroke-width="0.9" rx="1"/>
<text x="293.5" y="243.1" font-size="4.08" text-anchor="middle" fill="#36682c" textLength="13.4" lengthAdjust="spacingAndGlyphs">Rasgrp2</text>
<rect x="306" y="239.2" width="11.5" height="5" fill="#fbfdf9" stroke="#79a569" stroke-width="0.9" rx="1"/>
<text x="311.75" y="243.2" font-size="4.25" text-anchor="middle" fill="#36682c" textLength="9.5" lengthAdjust="spacingAndGlyphs">Pkdcc</text>
<rect x="331" y="238.3" width="15.3" height="5" fill="#fbfdf9" stroke="#79a569" stroke-width="0.9" rx="1"/>
<text x="338.65" y="242.3" font-size="4.25" text-anchor="middle" fill="#36682c" textLength="13.3" lengthAdjust="spacingAndGlyphs">Lrrc1Tal</text>
<rect x="350" y="243.9" width="14.6" height="4.4" fill="#fbfdf9" stroke="#79a569" stroke-width="0.9" rx="1"/>
<text x="357.3" y="247.6" font-size="3.74" text-anchor="middle" fill="#36682c" textLength="12.6" lengthAdjust="spacingAndGlyphs">Slc4a1</text>
<rect x="320.8" y="245.4" width="16.9" height="5.2" fill="#fbfdf9" stroke="#79a569" stroke-width="0.9" rx="1"/>
<text x="329.25" y="249.5" font-size="4.3" text-anchor="middle" fill="#36682c" textLength="14.9" lengthAdjust="spacingAndGlyphs">Col4a5</text>
<rect x="306.9" y="253" width="15" height="5.3" fill="#fbfdf9" stroke="#79a569" stroke-width="0.9" rx="1"/>
<text x="314.4" y="257.15" font-size="4.3" text-anchor="middle" fill="#36682c" textLength="13" lengthAdjust="spacingAndGlyphs">Sh3bp5</text>
<rect x="340.2" y="250.5" width="10" height="5.3" fill="#fbfdf9" stroke="#79a569" stroke-width="0.9" rx="1"/>
<text x="345.2" y="254.65" font-size="4.3" text-anchor="middle" fill="#36682c" textLength="8" lengthAdjust="spacingAndGlyphs">Cd7</text>
<rect x="362.6" y="250.7" width="10.2" height="4.9" fill="#fbfdf9" stroke="#79a569" stroke-width="0.9" rx="1"/>
<text x="367.7" y="254.65" font-size="4.17" text-anchor="middle" fill="#36682c" textLength="8.2" lengthAdjust="spacingAndGlyphs">Vnn3</text>
<rect x="316.5" y="260.4" width="14.5" height="4.6" fill="#fbfdf9" stroke="#79a569" stroke-width="0.9" rx="1"/>
<text x="323.75" y="264.2" font-size="3.91" text-anchor="middle" fill="#36682c" textLength="12.5" lengthAdjust="spacingAndGlyphs">Nrbp2</text>
<rect x="302.6" y="279.8" width="12.1" height="4.5" fill="#fbfdf9" stroke="#79a569" stroke-width="0.9" rx="1"/>
<text x="308.65" y="283.55" font-size="3.82" text-anchor="middle" fill="#36682c" textLength="10.1" lengthAdjust="spacingAndGlyphs">Fh1a</text>
<rect x="368.8" y="204.5" width="10.7" height="4.3" fill="#fbfdf9" stroke="#79a569" stroke-width="0.9" rx="1"/>
<text x="374.15" y="208.15" font-size="3.66" text-anchor="middle" fill="#36682c" textLength="8.7" lengthAdjust="spacingAndGlyphs">Ctnd</text>
<rect x="382.6" y="199.3" width="10.2" height="4.2" fill="#fbfdf9" stroke="#79a569" stroke-width="0.9" rx="1"/>
<text x="387.7" y="202.9" font-size="3.57" text-anchor="middle" fill="#36682c" textLength="8.2" lengthAdjust="spacingAndGlyphs">Ern1</text>
<rect x="403.5" y="196.2" width="15" height="4.2" fill="#fbfdf9" stroke="#79a569" stroke-width="0.9" rx="1"/>
<text x="411" y="199.8" font-size="3.57" text-anchor="middle" fill="#36682c" textLength="13" lengthAdjust="spacingAndGlyphs">Emdm3</text>
<rect x="393.4" y="207" width="12" height="4.2" fill="#fbfdf9" stroke="#79a569" stroke-width="0.9" rx="1"/>
<text x="399.4" y="210.6" font-size="3.57" text-anchor="middle" fill="#36682c" textLength="10" lengthAdjust="spacingAndGlyphs">Nacc2</text>
<rect x="368.8" y="213.2" width="16.6" height="4.1" fill="#fbfdf9" stroke="#79a569" stroke-width="0.9" rx="1"/>
<text x="377.1" y="216.75" font-size="3.49" text-anchor="middle" fill="#36682c" textLength="14.6" lengthAdjust="spacingAndGlyphs">Zc3h12a</text>
<rect x="406.6" y="214.2" width="12.3" height="4.6" fill="#fbfdf9" stroke="#79a569" stroke-width="0.9" rx="1"/>
<text x="412.75" y="218" font-size="3.91" text-anchor="middle" fill="#36682c" textLength="10.3" lengthAdjust="spacingAndGlyphs">Celsr2</text>
<rect x="375.4" y="220.4" width="13.1" height="4.6" fill="#fbfdf9" stroke="#79a569" stroke-width="0.9" rx="1"/>
<text x="381.95" y="224.2" font-size="3.91" text-anchor="middle" fill="#36682c" textLength="11.1" lengthAdjust="spacingAndGlyphs">Cdk18</text>
<rect x="391.8" y="217.8" width="10.8" height="4.6" fill="#fbfdf9" stroke="#79a569" stroke-width="0.9" rx="1"/>
<text x="397.2" y="221.6" font-size="3.91" text-anchor="middle" fill="#36682c" textLength="8.8" lengthAdjust="spacingAndGlyphs">Ppm1</text>
<rect x="464.6" y="175.3" width="14.7" height="5.4" fill="#fbfdf9" stroke="#79a569" stroke-width="0.9" rx="1"/>
<text x="471.95" y="179.5" font-size="4.3" text-anchor="middle" fill="#36682c" textLength="12.7" lengthAdjust="spacingAndGlyphs">Mpeg1</text>
<rect x="487.7" y="226.2" width="12.3" height="5.6" fill="#fdeeee" stroke="#e0505a" stroke-width="0.9" rx="1"/>
<text x="493.85" y="230.5" font-size="4.2" text-anchor="middle" fill="#d02a30" textLength="9.9" lengthAdjust="spacingAndGlyphs">Snai1</text>
<text x="301.3" y="271" font-size="6.5" text-anchor="middle" font-weight="bold" fill="#111" textLength="50.5" lengthAdjust="spacingAndGlyphs" stroke="#111" stroke-width="0.12">DOWN Methylation</text>
<text x="301.3" y="277.7" font-size="6.5" text-anchor="middle" font-weight="bold" fill="#111" textLength="47.1" lengthAdjust="spacingAndGlyphs" stroke="#111" stroke-width="0.12">DOWN Expression</text>
<text x="472" y="150.8" font-size="6.5" text-anchor="middle" font-weight="bold" fill="#111" textLength="39.7" lengthAdjust="spacingAndGlyphs" stroke="#111" stroke-width="0.12">UP Methylation</text>
<text x="472" y="157.6" font-size="6.5" text-anchor="middle" font-weight="bold" fill="#111" textLength="36.5" lengthAdjust="spacingAndGlyphs" stroke="#111" stroke-width="0.12">UP Expression</text>
<text x="268.2" y="179" font-size="6.8" text-anchor="middle" fill="#222">1</text>
<text x="268.2" y="223.4" font-size="6.8" text-anchor="middle" fill="#222">0</text>
<text x="266.8" y="269" font-size="6.8" text-anchor="middle" fill="#222">-1</text>
<text x="294.5" y="298.6" font-size="6.8" text-anchor="middle" fill="#222">-5</text>
<text x="365.8" y="298.4" font-size="6.8" text-anchor="middle" fill="#222">0</text>
<text x="437.5" y="297.9" font-size="6.8" text-anchor="middle" fill="#222">5</text>
<rect x="409.8" y="258.5" width="1.4" height="1.4" fill="#e0101c"/>
<text x="414.6" y="261.1" font-size="5.3" fill="#222" textLength="57.7" lengthAdjust="spacingAndGlyphs">DOWN in WT H3K4me1</text>
<rect x="409.8" y="264.7" width="1.4" height="1.4" fill="#999"/>
<text x="414.6" y="267.3" font-size="5.3" fill="#222" textLength="81.5" lengthAdjust="spacingAndGlyphs">No change in mRNA or H3K4me1</text>
<rect x="409.8" y="271.3" width="1.4" height="1.4" fill="#2a7a2a"/>
<text x="414.6" y="273.9" font-size="5.3" fill="#222" textLength="32.5" lengthAdjust="spacingAndGlyphs">Snai1 target</text>
<rect x="409.8" y="277.5" width="1.4" height="1.4" fill="#1a1a8c"/>
<text x="414.6" y="280.1" font-size="5.3" fill="#222" textLength="49.5" lengthAdjust="spacingAndGlyphs">Up in WT H3K4me1</text>
<text x="239.6" y="125.9" font-size="12.3" font-weight="bold">G</text>
<text x="391.7" y="120.9" font-size="6.3" text-anchor="middle" fill="#222" textLength="28.2" lengthAdjust="spacingAndGlyphs">H3K4me1</text>
<text x="391.7" y="128.9" font-size="6.3" text-anchor="middle" fill="#222" textLength="61.8" lengthAdjust="spacingAndGlyphs">MIG-Snai1 vs MIG-EV</text>
<text x="376.7" y="310.6" font-size="8.6" text-anchor="middle" fill="#222" textLength="41.8" lengthAdjust="spacingAndGlyphs" stroke="#222" stroke-width="0.15">logFC RNAseq</text>
<text x="259.2" y="211.5" font-size="8" text-anchor="middle" fill="#222" textLength="43.2" lengthAdjust="spacingAndGlyphs" transform="rotate(-90 259.2 211.5)" stroke="#222" stroke-width="0.15">logFC ChIPseq</text>
<line x1="293.5" y1="348.6" x2="293.5" y2="503" stroke="#ebebeb" stroke-width="0.6"/>
<line x1="329.55" y1="348.6" x2="329.55" y2="503" stroke="#ebebeb" stroke-width="0.6"/>
<line x1="365.6" y1="348.6" x2="365.6" y2="503" stroke="#ebebeb" stroke-width="0.6"/>
<line x1="401.65" y1="348.6" x2="401.65" y2="503" stroke="#ebebeb" stroke-width="0.6"/>
<line x1="437.7" y1="348.6" x2="437.7" y2="503" stroke="#ebebeb" stroke-width="0.6"/>
<line x1="473.75" y1="348.6" x2="473.75" y2="503" stroke="#ebebeb" stroke-width="0.6"/>
<line x1="508.79" y1="348.6" x2="508.79" y2="503" stroke="#ebebeb" stroke-width="0.6"/>
<line x1="273" y1="350.05" x2="508.6" y2="350.05" stroke="#ebebeb" stroke-width="0.6"/>
<line x1="273" y1="369.9" x2="508.6" y2="369.9" stroke="#ebebeb" stroke-width="0.6"/>
<line x1="273" y1="389.75" x2="508.6" y2="389.75" stroke="#ebebeb" stroke-width="0.6"/>
<line x1="273" y1="409.6" x2="508.6" y2="409.6" stroke="#ebebeb" stroke-width="0.6"/>
<line x1="273" y1="429.45" x2="508.6" y2="429.45" stroke="#ebebeb" stroke-width="0.6"/>
<line x1="273" y1="449.3" x2="508.6" y2="449.3" stroke="#ebebeb" stroke-width="0.6"/>
<line x1="273" y1="469.15" x2="508.6" y2="469.15" stroke="#ebebeb" stroke-width="0.6"/>
<line x1="273" y1="489" x2="508.6" y2="489" stroke="#ebebeb" stroke-width="0.6"/>
<path d="M273.2 354.2H280.6M273.2 367.0H280.6M273.2 354.3H280.6M273.2 390.7H280.6M273.2 361.8H280.6M273.2 389.1H280.6M273.2 363.5H280.6M273.2 350.7H280.6M273.2 389.5H280.6M273.2 368.5H280.6M273.2 350.3H280.6M273.2 358.3H280.6M273.2 389.4H280.6M273.2 393.2H280.6M273.2 393.4H280.6M273.2 377.7H280.6M273.2 384.5H280.6M273.2 394.6H280.6M273.2 355.3H280.6M273.2 389.7H280.6M273.2 362.2H280.6M273.2 364.3H280.6M273.2 377.2H280.6M273.2 383.1H280.6M273.2 350.4H280.6M273.2 374.7H280.6M273.2 370.1H280.6M273.2 386.8H280.6M273.2 370.6H280.6M273.2 385.3H280.6M273.2 368.1H280.6M273.2 369.7H280.6M273.2 351.6H280.6M273.2 376.0H280.6M273.2 377.5H280.6" stroke="#000" stroke-width="0.5" stroke-opacity="0.14"/>
<path d="M273.2 401.1H280.6M273.2 388.1H280.6M273.2 400.3H280.6M273.2 395.9H280.6M273.2 395.5H280.6M273.2 388.0H280.6M273.2 394.6H280.6M273.2 390.8H280.6M273.2 385.5H280.6M273.2 393.8H280.6M273.2 400.7H280.6M273.2 391.7H280.6M273.2 395.1H280.6M273.2 385.6H280.6M273.2 388.8H280.6M273.2 394.5H280.6M273.2 381.4H280.6M273.2 393.6H280.6M273.2 392.1H280.6M273.2 398.3H280.6M273.2 383.3H280.6M273.2 401.9H280.6M273.2 384.3H280.6M273.2 388.2H280.6M273.2 399.6H280.6M273.2 384.3H280.6M273.2 394.4H280.6M273.2 389.7H280.6M273.2 387.6H280.6M273.2 384.1H280.6M273.2 399.7H280.6M273.2 387.6H280.6M273.2 397.8H280.6M273.2 395.4H280.6M273.2 380.9H280.6M273.2 384.3H280.6M273.2 388.8H280.6M273.2 392.7H280.6M273.2 395.2H280.6M273.2 395.8H280.6" stroke="#000" stroke-width="0.5" stroke-opacity="0.18"/>
<path d="M273.2 418.6H280.6M273.2 433.5H280.6M273.2 428.5H280.6M273.2 427.9H280.6M273.2 431.9H280.6M273.2 434.9H280.6M273.2 426.4H280.6M273.2 419.5H280.6M273.2 437.0H280.6M273.2 420.5H280.6M273.2 421.4H280.6M273.2 415.3H280.6M273.2 417.2H280.6M273.2 419.5H280.6M273.2 420.1H280.6M273.2 425.4H280.6M273.2 432.7H280.6M273.2 432.5H280.6M273.2 418.7H280.6M273.2 427.3H280.6M273.2 432.1H280.6M273.2 435.6H280.6M273.2 429.0H280.6M273.2 423.8H280.6M273.2 428.0H280.6M273.2 439.7H280.6M273.2 417.2H280.6M273.2 431.5H280.6M273.2 423.3H280.6M273.2 435.3H280.6M273.2 421.1H280.6M273.2 432.1H280.6M273.2 425.3H280.6M273.2 424.1H280.6M273.2 422.6H280.6M273.2 428.9H280.6M273.2 415.5H280.6M273.2 437.8H280.6M273.2 419.5H280.6M273.2 420.9H280.6" stroke="#000" stroke-width="0.5" stroke-opacity="0.2"/>
<path d="M273.2 469.2H280.6M273.2 442.3H280.6M273.2 455.4H280.6M273.2 456.4H280.6M273.2 451.6H280.6M273.2 445.4H280.6M273.2 463.2H280.6M273.2 453.8H280.6M273.2 463.9H280.6M273.2 444.7H280.6M273.2 467.6H280.6M273.2 466.6H280.6M273.2 442.8H280.6M273.2 462.7H280.6M273.2 442.0H280.6M273.2 463.5H280.6M273.2 443.5H280.6M273.2 458.9H280.6M273.2 468.0H280.6M273.2 454.3H280.6M273.2 468.1H280.6M273.2 450.1H280.6M273.2 467.8H280.6M273.2 463.8H280.6M273.2 461.6H280.6M273.2 457.8H280.6M273.2 459.1H280.6M273.2 454.8H280.6M273.2 447.2H280.6M273.2 454.6H280.6" stroke="#000" stroke-width="0.5" stroke-opacity="0.13"/>
<path d="M273.2 496.5H280.6M273.2 493.2H280.6M273.2 488.3H280.6M273.2 470.2H280.6M273.2 493.8H280.6M273.2 476.6H280.6M273.2 497.6H280.6M273.2 483.4H280.6M273.2 487.5H280.6M273.2 479.5H280.6" stroke="#000" stroke-width="0.5" stroke-opacity="0.12"/>
<path d="M289.1 497.6V502.3M307.8 497.6V502.3M302.5 497.6V502.3M297.2 497.6V502.3M305.5 497.6V502.3M318.6 497.6V502.3M289.8 497.6V502.3M316.6 497.6V502.3M298.4 497.6V502.3M311.7 497.6V502.3M305.9 497.6V502.3M301.1 497.6V502.3M313.1 497.6V502.3M317.3 497.6V502.3" stroke="#000" stroke-width="0.5" stroke-opacity="0.18"/>
<path d="M343.4 497.6V502.3M322.9 497.6V502.3M336.1 497.6V502.3M344.2 497.6V502.3M324.1 497.6V502.3M348.7 497.6V502.3M333.0 497.6V502.3M347.3 497.6V502.3M346.7 497.6V502.3M336.5 497.6V502.3M327.7 497.6V502.3M347.5 497.6V502.3M344.2 497.6V502.3M344.7 497.6V502.3M348.4 497.6V502.3M335.6 497.6V502.3M322.2 497.6V502.3M342.8 497.6V502.3M327.5 497.6V502.3M337.5 497.6V502.3M322.4 497.6V502.3M326.3 497.6V502.3M330.1 497.6V502.3M327.5 497.6V502.3M330.9 497.6V502.3M336.3 497.6V502.3M330.6 497.6V502.3M327.9 497.6V502.3M336.7 497.6V502.3M347.9 497.6V502.3M343.4 497.6V502.3M340.7 497.6V502.3M325.1 497.6V502.3M326.2 497.6V502.3M322.7 497.6V502.3M331.3 497.6V502.3M328.0 497.6V502.3M327.9 497.6V502.3M328.7 497.6V502.3M325.0 497.6V502.3M342.1 497.6V502.3M324.2 497.6V502.3M344.2 497.6V502.3M345.8 497.6V502.3M340.1 497.6V502.3M340.7 497.6V502.3M334.3 497.6V502.3M340.4 497.6V502.3M335.9 497.6V502.3M344.4 497.6V502.3M346.2 497.6V502.3M328.7 497.6V502.3M334.5 497.6V502.3M347.1 497.6V502.3M339.6 497.6V502.3M345.8 497.6V502.3M346.7 497.6V502.3M343.2 497.6V502.3M333.3 497.6V502.3M341.0 497.6V502.3M342.9 497.6V502.3M334.4 497.6V502.3M338.0 497.6V502.3M345.8 497.6V502.3M331.3 497.6V502.3M337.4 497.6V502.3M330.0 497.6V502.3M347.4 497.6V502.3M321.5 497.6V502.3M344.2 497.6V502.3M393.1 497.6V502.3M381.3 497.6V502.3M398.8 497.6V502.3M394.8 497.6V502.3M394.5 497.6V502.3M391.1 497.6V502.3M393.6 497.6V502.3M384.1 497.6V502.3M385.2 497.6V502.3M387.7 497.6V502.3M389.1 497.6V502.3M397.5 497.6V502.3M382.4 497.6V502.3M381.3 497.6V502.3M395.2 497.6V502.3M399.3 497.6V502.3M385.5 497.6V502.3M398.1 497.6V502.3M384.9 497.6V502.3M396.8 497.6V502.3M387.4 497.6V502.3M383.9 497.6V502.3M388.3 497.6V502.3M399.9 497.6V502.3M388.9 497.6V502.3M384.4 497.6V502.3M384.3 497.6V502.3M397.5 497.6V502.3M395.6 497.6V502.3M396.9 497.6V502.3M392.5 497.6V502.3M396.4 497.6V502.3M387.7 497.6V502.3M385.6 497.6V502.3M396.2 497.6V502.3M391.1 497.6V502.3M388.9 497.6V502.3M384.3 497.6V502.3M388.1 497.6V502.3M395.6 497.6V502.3M395.3 497.6V502.3M395.4 497.6V502.3M397.4 497.6V502.3M382.5 497.6V502.3M384.5 497.6V502.3M384.1 497.6V502.3M384.1 497.6V502.3M382.8 497.6V502.3M393.0 497.6V502.3M387.9 497.6V502.3M389.4 497.6V502.3M395.5 497.6V502.3M384.7 497.6V502.3M388.1 497.6V502.3M399.3 497.6V502.3M385.2 497.6V502.3M392.2 497.6V502.3M388.8 497.6V502.3M382.6 497.6V502.3M382.3 497.6V502.3M393.4 497.6V502.3M389.1 497.6V502.3M381.1 497.6V502.3M395.8 497.6V502.3M384.9 497.6V502.3M388.6 497.6V502.3M383.8 497.6V502.3M397.2 497.6V502.3M384.5 497.6V502.3M383.5 497.6V502.3" stroke="#000" stroke-width="0.5" stroke-opacity="0.4"/>
<path d="M414.2 497.6V502.3M429.5 497.6V502.3M424.8 497.6V502.3M428.4 497.6V502.3M427.8 497.6V502.3M405.8 497.6V502.3M406.3 497.6V502.3M427.8 497.6V502.3M426.7 497.6V502.3M421.9 497.6V502.3M409.9 497.6V502.3M405.0 497.6V502.3M418.9 497.6V502.3M415.5 497.6V502.3M425.3 497.6V502.3M420.4 497.6V502.3M424.1 497.6V502.3M401.4 497.6V502.3M415.8 497.6V502.3M409.2 497.6V502.3M419.0 497.6V502.3M405.6 497.6V502.3M401.7 497.6V502.3M414.5 497.6V502.3M409.7 497.6V502.3M400.4 497.6V502.3M423.5 497.6V502.3M411.9 497.6V502.3M405.8 497.6V502.3M418.7 497.6V502.3M419.9 497.6V502.3M428.0 497.6V502.3M421.5 497.6V502.3M415.2 497.6V502.3M408.4 497.6V502.3M415.2 497.6V502.3M417.5 497.6V502.3M423.0 497.6V502.3M416.1 497.6V502.3M408.2 497.6V502.3" stroke="#000" stroke-width="0.5" stroke-opacity="0.25"/>
<path d="M442.0 497.6V502.3M457.2 497.6V502.3M477.3 497.6V502.3M435.6 497.6V502.3M445.4 497.6V502.3M463.2 497.6V502.3M460.6 497.6V502.3M479.6 497.6V502.3M454.4 497.6V502.3M473.3 497.6V502.3M480.3 497.6V502.3M435.9 497.6V502.3M499.2 497.6V502.3M454.4 497.6V502.3M497.1 497.6V502.3M448.5 497.6V502.3M448.8 497.6V502.3M478.6 497.6V502.3M440.4 497.6V502.3M493.4 497.6V502.3M478.2 497.6V502.3M467.8 497.6V502.3M494.0 497.6V502.3M500.4 497.6V502.3M489.3 497.6V502.3" stroke="#000" stroke-width="0.5" stroke-opacity="0.2"/>
<path d="M415.4 399.3h1.3v1.3h-1.3zM376.8 408.1h1.3v1.3h-1.3zM351.6 418.9h1.3v1.3h-1.3zM359.1 413.4h1.3v1.3h-1.3zM378.1 400.0h1.3v1.3h-1.3zM374.2 401.0h1.3v1.3h-1.3zM378.7 405.4h1.3v1.3h-1.3zM364.6 416.9h1.3v1.3h-1.3zM336.1 421.9h1.3v1.3h-1.3zM365.4 409.0h1.3v1.3h-1.3zM375.8 414.7h1.3v1.3h-1.3zM354.1 421.6h1.3v1.3h-1.3zM389.5 403.0h1.3v1.3h-1.3zM371.2 414.2h1.3v1.3h-1.3zM342.4 422.7h1.3v1.3h-1.3zM366.5 407.9h1.3v1.3h-1.3zM337.2 419.2h1.3v1.3h-1.3zM350.8 419.3h1.3v1.3h-1.3zM361.7 414.9h1.3v1.3h-1.3zM378.0 401.3h1.3v1.3h-1.3zM375.5 410.6h1.3v1.3h-1.3zM377.2 404.6h1.3v1.3h-1.3zM386.3 402.0h1.3v1.3h-1.3zM335.2 426.3h1.3v1.3h-1.3zM360.2 407.4h1.3v1.3h-1.3zM365.7 405.5h1.3v1.3h-1.3zM374.5 414.7h1.3v1.3h-1.3zM369.5 406.3h1.3v1.3h-1.3zM376.9 415.6h1.3v1.3h-1.3zM377.3 410.2h1.3v1.3h-1.3zM325.0 428.8h1.3v1.3h-1.3zM327.9 431.9h1.3v1.3h-1.3zM398.2 384.8h1.3v1.3h-1.3zM390.4 399.5h1.3v1.3h-1.3zM407.7 393.9h1.3v1.3h-1.3zM348.3 431.5h1.3v1.3h-1.3zM387.3 416.4h1.3v1.3h-1.3zM309.5 434.9h1.3v1.3h-1.3zM369.9 414.5h1.3v1.3h-1.3zM390.1 402.7h1.3v1.3h-1.3zM372.9 405.7h1.3v1.3h-1.3zM356.5 413.0h1.3v1.3h-1.3zM416.9 398.1h1.3v1.3h-1.3zM372.1 405.5h1.3v1.3h-1.3zM357.5 414.1h1.3v1.3h-1.3zM333.1 425.1h1.3v1.3h-1.3zM369.6 402.9h1.3v1.3h-1.3zM388.4 406.1h1.3v1.3h-1.3zM345.7 407.2h1.3v1.3h-1.3zM387.3 414.4h1.3v1.3h-1.3zM361.8 417.6h1.3v1.3h-1.3zM356.2 424.4h1.3v1.3h-1.3zM360.1 415.9h1.3v1.3h-1.3zM364.0 405.2h1.3v1.3h-1.3zM373.6 415.2h1.3v1.3h-1.3zM332.8 425.7h1.3v1.3h-1.3zM392.9 395.4h1.3v1.3h-1.3zM356.7 407.1h1.3v1.3h-1.3zM378.1 409.9h1.3v1.3h-1.3zM378.1 406.8h1.3v1.3h-1.3zM345.8 420.4h1.3v1.3h-1.3zM372.5 400.4h1.3v1.3h-1.3zM347.5 415.8h1.3v1.3h-1.3zM369.6 409.6h1.3v1.3h-1.3zM343.7 411.1h1.3v1.3h-1.3zM396.4 390.2h1.3v1.3h-1.3zM379.1 397.1h1.3v1.3h-1.3zM380.6 399.4h1.3v1.3h-1.3zM362.4 410.5h1.3v1.3h-1.3zM362.5 418.1h1.3v1.3h-1.3zM360.3 419.3h1.3v1.3h-1.3zM346.0 420.0h1.3v1.3h-1.3zM356.8 401.5h1.3v1.3h-1.3zM406.6 389.5h1.3v1.3h-1.3zM386.0 408.5h1.3v1.3h-1.3zM375.3 415.8h1.3v1.3h-1.3zM356.3 416.9h1.3v1.3h-1.3zM361.8 406.9h1.3v1.3h-1.3zM352.9 400.8h1.3v1.3h-1.3zM358.8 408.0h1.3v1.3h-1.3zM336.3 415.7h1.3v1.3h-1.3zM343.7 417.3h1.3v1.3h-1.3zM369.4 404.4h1.3v1.3h-1.3zM382.4 402.3h1.3v1.3h-1.3zM366.4 398.6h1.3v1.3h-1.3zM359.9 412.6h1.3v1.3h-1.3zM359.7 411.9h1.3v1.3h-1.3zM349.3 418.9h1.3v1.3h-1.3zM380.2 408.9h1.3v1.3h-1.3zM379.3 409.2h1.3v1.3h-1.3zM399.5 399.3h1.3v1.3h-1.3zM406.6 393.0h1.3v1.3h-1.3zM366.8 404.5h1.3v1.3h-1.3zM394.1 391.3h1.3v1.3h-1.3zM398.9 393.4h1.3v1.3h-1.3zM345.0 412.4h1.3v1.3h-1.3zM367.7 407.4h1.3v1.3h-1.3zM396.3 404.0h1.3v1.3h-1.3zM397.6 384.8h1.3v1.3h-1.3zM381.3 406.9h1.3v1.3h-1.3zM398.5 397.8h1.3v1.3h-1.3zM391.8 393.7h1.3v1.3h-1.3zM337.8 418.7h1.3v1.3h-1.3zM337.5 424.9h1.3v1.3h-1.3zM382.4 411.8h1.3v1.3h-1.3zM354.4 417.4h1.3v1.3h-1.3zM376.1 404.8h1.3v1.3h-1.3zM378.8 409.0h1.3v1.3h-1.3zM353.7 412.5h1.3v1.3h-1.3zM351.1 420.7h1.3v1.3h-1.3zM384.2 408.8h1.3v1.3h-1.3zM350.4 409.4h1.3v1.3h-1.3zM368.4 423.1h1.3v1.3h-1.3zM353.5 403.4h1.3v1.3h-1.3zM429.0 389.8h1.3v1.3h-1.3zM384.1 399.7h1.3v1.3h-1.3zM375.9 417.9h1.3v1.3h-1.3zM390.3 400.2h1.3v1.3h-1.3zM364.3 420.9h1.3v1.3h-1.3zM356.0 414.9h1.3v1.3h-1.3zM363.9 410.0h1.3v1.3h-1.3zM361.1 406.4h1.3v1.3h-1.3zM382.3 411.7h1.3v1.3h-1.3zM356.5 411.5h1.3v1.3h-1.3zM357.6 405.3h1.3v1.3h-1.3zM357.9 412.1h1.3v1.3h-1.3zM381.9 411.7h1.3v1.3h-1.3zM395.4 401.4h1.3v1.3h-1.3zM354.2 419.0h1.3v1.3h-1.3zM333.6 430.4h1.3v1.3h-1.3zM400.5 399.0h1.3v1.3h-1.3zM363.2 410.5h1.3v1.3h-1.3zM381.2 410.0h1.3v1.3h-1.3zM364.7 409.5h1.3v1.3h-1.3zM390.3 400.4h1.3v1.3h-1.3zM403.9 398.4h1.3v1.3h-1.3zM362.0 420.4h1.3v1.3h-1.3zM368.2 406.0h1.3v1.3h-1.3zM363.9 412.4h1.3v1.3h-1.3zM348.6 420.4h1.3v1.3h-1.3zM359.7 413.4h1.3v1.3h-1.3zM391.6 398.5h1.3v1.3h-1.3zM388.3 395.7h1.3v1.3h-1.3zM359.4 405.0h1.3v1.3h-1.3zM370.0 417.1h1.3v1.3h-1.3zM356.4 414.6h1.3v1.3h-1.3zM336.9 407.3h1.3v1.3h-1.3zM368.0 404.8h1.3v1.3h-1.3zM343.7 418.0h1.3v1.3h-1.3zM374.4 412.2h1.3v1.3h-1.3zM374.3 407.7h1.3v1.3h-1.3zM376.8 414.0h1.3v1.3h-1.3zM379.8 407.4h1.3v1.3h-1.3zM351.1 429.1h1.3v1.3h-1.3zM364.9 413.3h1.3v1.3h-1.3zM418.6 399.1h1.3v1.3h-1.3zM400.1 391.0h1.3v1.3h-1.3zM377.6 405.1h1.3v1.3h-1.3zM379.4 414.7h1.3v1.3h-1.3zM398.5 401.0h1.3v1.3h-1.3zM353.4 415.2h1.3v1.3h-1.3zM311.4 438.2h1.3v1.3h-1.3zM344.2 427.9h1.3v1.3h-1.3zM381.0 395.8h1.3v1.3h-1.3zM369.1 411.5h1.3v1.3h-1.3zM375.6 410.3h1.3v1.3h-1.3zM371.5 406.3h1.3v1.3h-1.3zM364.0 413.9h1.3v1.3h-1.3zM370.2 408.9h1.3v1.3h-1.3zM382.9 413.7h1.3v1.3h-1.3zM345.3 421.1h1.3v1.3h-1.3zM378.8 413.9h1.3v1.3h-1.3zM393.9 392.2h1.3v1.3h-1.3zM353.2 408.7h1.3v1.3h-1.3zM324.9 426.1h1.3v1.3h-1.3zM334.8 415.6h1.3v1.3h-1.3zM386.2 400.6h1.3v1.3h-1.3zM356.2 421.1h1.3v1.3h-1.3zM377.1 410.0h1.3v1.3h-1.3zM382.4 414.5h1.3v1.3h-1.3zM377.1 403.8h1.3v1.3h-1.3zM320.6 434.7h1.3v1.3h-1.3zM353.3 419.0h1.3v1.3h-1.3zM332.0 423.0h1.3v1.3h-1.3zM344.3 419.2h1.3v1.3h-1.3zM329.6 431.0h1.3v1.3h-1.3zM382.4 415.3h1.3v1.3h-1.3zM367.1 402.0h1.3v1.3h-1.3zM384.7 412.2h1.3v1.3h-1.3zM414.3 397.0h1.3v1.3h-1.3zM387.3 397.7h1.3v1.3h-1.3zM361.1 409.0h1.3v1.3h-1.3zM310.0 430.5h1.3v1.3h-1.3zM371.1 411.3h1.3v1.3h-1.3zM370.3 403.1h1.3v1.3h-1.3zM387.4 407.1h1.3v1.3h-1.3zM384.2 397.5h1.3v1.3h-1.3zM370.1 407.2h1.3v1.3h-1.3zM316.5 438.1h1.3v1.3h-1.3zM375.5 416.6h1.3v1.3h-1.3zM385.4 397.2h1.3v1.3h-1.3zM347.0 424.8h1.3v1.3h-1.3zM363.5 410.6h1.3v1.3h-1.3zM384.8 405.7h1.3v1.3h-1.3zM368.3 416.2h1.3v1.3h-1.3zM373.5 413.0h1.3v1.3h-1.3zM388.5 398.9h1.3v1.3h-1.3zM333.2 420.8h1.3v1.3h-1.3zM344.5 413.1h1.3v1.3h-1.3zM345.8 410.8h1.3v1.3h-1.3zM389.7 391.0h1.3v1.3h-1.3zM374.3 407.9h1.3v1.3h-1.3zM392.8 408.8h1.3v1.3h-1.3zM366.5 412.8h1.3v1.3h-1.3zM366.1 420.5h1.3v1.3h-1.3zM332.2 433.4h1.3v1.3h-1.3zM398.0 401.7h1.3v1.3h-1.3zM380.4 406.7h1.3v1.3h-1.3zM362.3 404.7h1.3v1.3h-1.3zM318.8 429.3h1.3v1.3h-1.3zM350.9 422.1h1.3v1.3h-1.3zM333.5 431.9h1.3v1.3h-1.3zM342.2 413.2h1.3v1.3h-1.3zM352.8 418.6h1.3v1.3h-1.3zM363.6 408.3h1.3v1.3h-1.3zM388.9 401.8h1.3v1.3h-1.3zM367.3 407.6h1.3v1.3h-1.3zM350.6 415.4h1.3v1.3h-1.3zM402.5 402.0h1.3v1.3h-1.3zM349.4 426.3h1.3v1.3h-1.3zM368.4 406.6h1.3v1.3h-1.3zM358.4 415.8h1.3v1.3h-1.3zM391.9 401.7h1.3v1.3h-1.3zM381.8 407.6h1.3v1.3h-1.3zM394.4 395.6h1.3v1.3h-1.3zM364.4 415.3h1.3v1.3h-1.3zM420.4 398.0h1.3v1.3h-1.3zM347.3 432.6h1.3v1.3h-1.3zM381.8 405.1h1.3v1.3h-1.3zM365.7 420.3h1.3v1.3h-1.3zM367.8 415.1h1.3v1.3h-1.3zM343.2 420.7h1.3v1.3h-1.3zM374.0 409.1h1.3v1.3h-1.3zM357.1 409.9h1.3v1.3h-1.3zM372.7 410.9h1.3v1.3h-1.3zM379.6 404.4h1.3v1.3h-1.3zM386.7 398.7h1.3v1.3h-1.3zM383.0 408.5h1.3v1.3h-1.3zM395.1 394.7h1.3v1.3h-1.3zM356.5 407.1h1.3v1.3h-1.3zM369.7 415.6h1.3v1.3h-1.3zM366.9 418.3h1.3v1.3h-1.3zM391.2 409.5h1.3v1.3h-1.3zM398.2 404.6h1.3v1.3h-1.3zM365.0 403.8h1.3v1.3h-1.3zM375.1 417.5h1.3v1.3h-1.3zM365.0 422.1h1.3v1.3h-1.3zM381.8 411.4h1.3v1.3h-1.3zM366.0 411.7h1.3v1.3h-1.3zM336.7 419.5h1.3v1.3h-1.3zM404.8 402.5h1.3v1.3h-1.3zM356.0 412.4h1.3v1.3h-1.3zM393.0 406.4h1.3v1.3h-1.3zM372.1 406.7h1.3v1.3h-1.3zM389.8 407.3h1.3v1.3h-1.3zM419.0 380.0h1.3v1.3h-1.3zM339.9 425.0h1.3v1.3h-1.3zM375.6 411.2h1.3v1.3h-1.3zM357.3 414.0h1.3v1.3h-1.3zM353.0 419.2h1.3v1.3h-1.3zM372.6 410.9h1.3v1.3h-1.3zM375.7 401.2h1.3v1.3h-1.3zM391.4 401.2h1.3v1.3h-1.3zM410.7 397.1h1.3v1.3h-1.3zM386.8 392.8h1.3v1.3h-1.3zM372.4 403.7h1.3v1.3h-1.3zM358.7 416.8h1.3v1.3h-1.3zM372.7 405.6h1.3v1.3h-1.3zM376.1 403.3h1.3v1.3h-1.3zM375.2 408.0h1.3v1.3h-1.3zM356.0 415.0h1.3v1.3h-1.3zM369.7 409.5h1.3v1.3h-1.3zM346.4 410.4h1.3v1.3h-1.3zM391.2 400.4h1.3v1.3h-1.3zM358.9 406.8h1.3v1.3h-1.3zM364.1 412.8h1.3v1.3h-1.3zM381.0 408.5h1.3v1.3h-1.3zM371.5 411.5h1.3v1.3h-1.3zM381.4 402.7h1.3v1.3h-1.3zM383.6 401.8h1.3v1.3h-1.3zM375.7 405.0h1.3v1.3h-1.3zM385.3 409.3h1.3v1.3h-1.3zM345.1 417.7h1.3v1.3h-1.3zM372.4 409.8h1.3v1.3h-1.3zM399.7 395.8h1.3v1.3h-1.3zM394.8 399.8h1.3v1.3h-1.3zM341.2 427.4h1.3v1.3h-1.3zM391.2 401.3h1.3v1.3h-1.3zM359.4 405.5h1.3v1.3h-1.3zM404.3 394.6h1.3v1.3h-1.3zM395.4 401.9h1.3v1.3h-1.3zM350.0 425.9h1.3v1.3h-1.3zM391.5 410.4h1.3v1.3h-1.3zM361.1 411.9h1.3v1.3h-1.3zM381.1 416.0h1.3v1.3h-1.3zM364.5 415.9h1.3v1.3h-1.3zM398.8 399.9h1.3v1.3h-1.3zM356.0 404.3h1.3v1.3h-1.3zM372.5 403.7h1.3v1.3h-1.3zM375.8 408.0h1.3v1.3h-1.3zM384.4 408.2h1.3v1.3h-1.3zM341.2 423.3h1.3v1.3h-1.3zM382.1 407.0h1.3v1.3h-1.3zM390.9 397.5h1.3v1.3h-1.3zM373.6 401.5h1.3v1.3h-1.3zM377.0 404.8h1.3v1.3h-1.3zM363.8 412.0h1.3v1.3h-1.3zM367.8 403.9h1.3v1.3h-1.3zM401.3 391.7h1.3v1.3h-1.3zM374.3 408.3h1.3v1.3h-1.3zM374.5 410.8h1.3v1.3h-1.3zM369.0 411.4h1.3v1.3h-1.3zM368.6 423.3h1.3v1.3h-1.3zM369.3 405.6h1.3v1.3h-1.3zM347.7 407.0h1.3v1.3h-1.3zM372.3 411.5h1.3v1.3h-1.3zM398.0 404.6h1.3v1.3h-1.3zM424.1 393.8h1.3v1.3h-1.3zM388.3 394.3h1.3v1.3h-1.3zM383.5 403.5h1.3v1.3h-1.3zM355.2 415.2h1.3v1.3h-1.3zM373.9 402.1h1.3v1.3h-1.3zM324.8 421.8h1.3v1.3h-1.3zM346.7 421.0h1.3v1.3h-1.3zM367.4 413.7h1.3v1.3h-1.3zM381.7 414.3h1.3v1.3h-1.3zM379.0 411.7h1.3v1.3h-1.3zM362.0 412.4h1.3v1.3h-1.3zM341.0 417.1h1.3v1.3h-1.3zM412.3 397.7h1.3v1.3h-1.3zM351.3 407.2h1.3v1.3h-1.3zM403.0 409.1h1.3v1.3h-1.3zM362.1 416.6h1.3v1.3h-1.3zM372.7 408.8h1.3v1.3h-1.3zM348.9 419.2h1.3v1.3h-1.3zM391.6 406.8h1.3v1.3h-1.3zM373.8 404.2h1.3v1.3h-1.3zM404.0 394.5h1.3v1.3h-1.3zM374.2 413.1h1.3v1.3h-1.3zM374.4 399.9h1.3v1.3h-1.3zM378.6 399.0h1.3v1.3h-1.3zM359.8 408.2h1.3v1.3h-1.3zM364.3 415.2h1.3v1.3h-1.3zM356.8 407.0h1.3v1.3h-1.3zM381.1 406.2h1.3v1.3h-1.3zM364.2 406.6h1.3v1.3h-1.3zM360.4 406.1h1.3v1.3h-1.3zM375.6 410.3h1.3v1.3h-1.3zM365.7 416.7h1.3v1.3h-1.3zM347.8 420.0h1.3v1.3h-1.3zM359.5 415.0h1.3v1.3h-1.3zM354.2 418.6h1.3v1.3h-1.3zM376.0 414.6h1.3v1.3h-1.3zM318.4 417.8h1.3v1.3h-1.3zM371.5 407.5h1.3v1.3h-1.3zM392.9 394.4h1.3v1.3h-1.3zM398.6 393.4h1.3v1.3h-1.3zM384.9 401.0h1.3v1.3h-1.3zM366.9 410.9h1.3v1.3h-1.3zM297.0 425.7h1.3v1.3h-1.3zM367.1 415.8h1.3v1.3h-1.3zM392.8 405.0h1.3v1.3h-1.3zM377.2 411.5h1.3v1.3h-1.3zM346.1 411.2h1.3v1.3h-1.3zM372.2 417.3h1.3v1.3h-1.3zM382.8 399.3h1.3v1.3h-1.3zM363.7 407.3h1.3v1.3h-1.3zM395.9 393.1h1.3v1.3h-1.3zM382.3 400.2h1.3v1.3h-1.3zM402.4 396.2h1.3v1.3h-1.3zM364.0 412.8h1.3v1.3h-1.3zM434.7 391.7h1.3v1.3h-1.3zM370.0 419.7h1.3v1.3h-1.3zM368.7 410.6h1.3v1.3h-1.3zM367.8 405.4h1.3v1.3h-1.3zM399.5 397.2h1.3v1.3h-1.3zM353.3 418.0h1.3v1.3h-1.3zM369.8 413.4h1.3v1.3h-1.3zM368.0 406.8h1.3v1.3h-1.3zM373.8 396.0h1.3v1.3h-1.3zM335.9 420.5h1.3v1.3h-1.3zM390.9 408.0h1.3v1.3h-1.3zM334.8 409.6h1.3v1.3h-1.3zM388.9 399.2h1.3v1.3h-1.3zM393.8 406.4h1.3v1.3h-1.3zM346.2 408.6h1.3v1.3h-1.3zM371.7 417.9h1.3v1.3h-1.3zM366.7 401.2h1.3v1.3h-1.3zM347.7 426.4h1.3v1.3h-1.3zM322.0 427.2h1.3v1.3h-1.3zM367.3 413.9h1.3v1.3h-1.3zM357.8 415.2h1.3v1.3h-1.3zM356.3 417.4h1.3v1.3h-1.3zM389.1 402.2h1.3v1.3h-1.3zM379.8 416.4h1.3v1.3h-1.3zM350.5 410.3h1.3v1.3h-1.3zM372.2 402.4h1.3v1.3h-1.3zM339.4 416.4h1.3v1.3h-1.3zM357.6 413.6h1.3v1.3h-1.3zM355.1 420.1h1.3v1.3h-1.3zM347.6 418.0h1.3v1.3h-1.3zM390.4 408.1h1.3v1.3h-1.3zM357.0 419.6h1.3v1.3h-1.3zM352.0 411.8h1.3v1.3h-1.3zM360.3 418.2h1.3v1.3h-1.3zM383.4 402.4h1.3v1.3h-1.3zM376.3 406.1h1.3v1.3h-1.3zM357.1 409.1h1.3v1.3h-1.3zM356.5 412.7h1.3v1.3h-1.3zM372.4 401.6h1.3v1.3h-1.3zM365.9 405.9h1.3v1.3h-1.3zM334.5 421.1h1.3v1.3h-1.3zM373.2 407.4h1.3v1.3h-1.3zM328.0 419.9h1.3v1.3h-1.3zM356.5 418.0h1.3v1.3h-1.3zM401.0 399.4h1.3v1.3h-1.3zM388.3 412.6h1.3v1.3h-1.3zM383.4 403.2h1.3v1.3h-1.3zM375.3 412.8h1.3v1.3h-1.3zM376.5 408.0h1.3v1.3h-1.3zM396.9 402.5h1.3v1.3h-1.3zM336.6 415.0h1.3v1.3h-1.3zM347.4 418.5h1.3v1.3h-1.3zM384.7 394.1h1.3v1.3h-1.3zM380.7 401.1h1.3v1.3h-1.3zM373.2 407.3h1.3v1.3h-1.3zM368.2 407.9h1.3v1.3h-1.3zM351.1 414.7h1.3v1.3h-1.3zM393.2 399.9h1.3v1.3h-1.3zM366.6 406.0h1.3v1.3h-1.3zM351.8 416.8h1.3v1.3h-1.3zM415.5 388.0h1.3v1.3h-1.3zM385.1 404.3h1.3v1.3h-1.3zM355.0 421.0h1.3v1.3h-1.3zM370.2 401.5h1.3v1.3h-1.3zM368.4 404.8h1.3v1.3h-1.3zM363.9 410.6h1.3v1.3h-1.3zM377.5 389.3h1.3v1.3h-1.3zM372.4 413.4h1.3v1.3h-1.3zM388.7 402.4h1.3v1.3h-1.3zM381.0 409.3h1.3v1.3h-1.3zM388.0 406.5h1.3v1.3h-1.3zM377.9 408.5h1.3v1.3h-1.3zM354.9 411.0h1.3v1.3h-1.3zM378.3 417.7h1.3v1.3h-1.3zM384.1 399.3h1.3v1.3h-1.3zM373.6 405.7h1.3v1.3h-1.3zM375.6 405.2h1.3v1.3h-1.3zM362.9 405.5h1.3v1.3h-1.3zM395.1 404.9h1.3v1.3h-1.3zM371.3 413.8h1.3v1.3h-1.3zM360.6 406.8h1.3v1.3h-1.3zM370.5 407.6h1.3v1.3h-1.3zM362.4 398.2h1.3v1.3h-1.3zM393.5 398.3h1.3v1.3h-1.3zM374.0 397.5h1.3v1.3h-1.3zM394.3 398.6h1.3v1.3h-1.3zM366.3 416.8h1.3v1.3h-1.3zM397.2 389.4h1.3v1.3h-1.3zM417.4 390.3h1.3v1.3h-1.3zM388.0 413.7h1.3v1.3h-1.3zM383.3 408.5h1.3v1.3h-1.3zM353.5 419.6h1.3v1.3h-1.3zM352.4 418.2h1.3v1.3h-1.3zM381.0 409.1h1.3v1.3h-1.3zM362.7 412.4h1.3v1.3h-1.3zM410.6 390.0h1.3v1.3h-1.3zM357.4 408.9h1.3v1.3h-1.3zM403.3 397.9h1.3v1.3h-1.3zM384.6 397.5h1.3v1.3h-1.3zM341.7 418.2h1.3v1.3h-1.3zM367.6 405.1h1.3v1.3h-1.3zM396.5 402.2h1.3v1.3h-1.3zM339.5 422.7h1.3v1.3h-1.3zM370.2 412.6h1.3v1.3h-1.3zM374.9 413.9h1.3v1.3h-1.3zM380.7 400.9h1.3v1.3h-1.3zM410.3 395.2h1.3v1.3h-1.3zM390.2 405.7h1.3v1.3h-1.3zM356.2 418.4h1.3v1.3h-1.3zM367.5 417.2h1.3v1.3h-1.3zM334.0 409.0h1.3v1.3h-1.3zM364.0 411.1h1.3v1.3h-1.3zM373.7 410.1h1.3v1.3h-1.3zM365.7 404.1h1.3v1.3h-1.3zM375.4 400.7h1.3v1.3h-1.3zM346.1 414.8h1.3v1.3h-1.3zM351.6 422.9h1.3v1.3h-1.3zM384.6 402.4h1.3v1.3h-1.3zM384.0 400.4h1.3v1.3h-1.3zM330.6 419.9h1.3v1.3h-1.3zM408.0 394.4h1.3v1.3h-1.3zM389.2 394.0h1.3v1.3h-1.3zM405.5 410.5h1.3v1.3h-1.3zM363.7 412.1h1.3v1.3h-1.3zM364.8 404.6h1.3v1.3h-1.3zM344.9 431.9h1.3v1.3h-1.3zM375.4 408.5h1.3v1.3h-1.3zM391.0 395.2h1.3v1.3h-1.3zM377.4 398.7h1.3v1.3h-1.3zM343.8 418.8h1.3v1.3h-1.3zM343.2 407.9h1.3v1.3h-1.3zM364.7 405.4h1.3v1.3h-1.3zM379.1 401.5h1.3v1.3h-1.3zM390.0 395.5h1.3v1.3h-1.3zM385.5 402.8h1.3v1.3h-1.3zM384.6 414.6h1.3v1.3h-1.3zM351.8 407.3h1.3v1.3h-1.3zM381.1 413.0h1.3v1.3h-1.3zM344.6 424.9h1.3v1.3h-1.3zM362.1 407.0h1.3v1.3h-1.3zM369.4 404.9h1.3v1.3h-1.3zM344.1 418.9h1.3v1.3h-1.3zM373.2 405.5h1.3v1.3h-1.3zM384.3 403.2h1.3v1.3h-1.3zM386.2 396.3h1.3v1.3h-1.3zM379.8 412.3h1.3v1.3h-1.3zM356.5 418.7h1.3v1.3h-1.3zM400.9 393.4h1.3v1.3h-1.3zM371.2 411.9h1.3v1.3h-1.3zM358.2 404.8h1.3v1.3h-1.3zM366.6 413.6h1.3v1.3h-1.3zM354.3 410.7h1.3v1.3h-1.3zM332.9 425.4h1.3v1.3h-1.3zM382.3 399.9h1.3v1.3h-1.3zM381.6 406.6h1.3v1.3h-1.3zM386.3 393.7h1.3v1.3h-1.3zM353.1 419.8h1.3v1.3h-1.3zM362.8 411.0h1.3v1.3h-1.3zM359.6 416.3h1.3v1.3h-1.3zM325.2 420.1h1.3v1.3h-1.3zM349.1 416.3h1.3v1.3h-1.3zM359.7 408.7h1.3v1.3h-1.3zM345.5 424.1h1.3v1.3h-1.3zM371.5 408.1h1.3v1.3h-1.3zM360.1 410.3h1.3v1.3h-1.3zM359.9 414.6h1.3v1.3h-1.3zM346.3 417.6h1.3v1.3h-1.3zM388.1 403.3h1.3v1.3h-1.3zM368.6 404.1h1.3v1.3h-1.3zM361.6 415.7h1.3v1.3h-1.3zM371.7 399.0h1.3v1.3h-1.3zM362.1 412.2h1.3v1.3h-1.3zM376.2 409.3h1.3v1.3h-1.3zM362.5 404.5h1.3v1.3h-1.3zM335.7 418.5h1.3v1.3h-1.3zM388.2 395.5h1.3v1.3h-1.3zM374.5 404.7h1.3v1.3h-1.3zM358.6 422.8h1.3v1.3h-1.3zM374.2 406.5h1.3v1.3h-1.3zM378.3 398.6h1.3v1.3h-1.3zM420.3 388.1h1.3v1.3h-1.3zM404.2 395.6h1.3v1.3h-1.3zM377.0 412.0h1.3v1.3h-1.3zM375.2 410.5h1.3v1.3h-1.3zM374.3 415.1h1.3v1.3h-1.3zM392.1 409.5h1.3v1.3h-1.3zM379.6 417.1h1.3v1.3h-1.3zM369.9 407.5h1.3v1.3h-1.3zM386.5 394.4h1.3v1.3h-1.3zM345.8 418.4h1.3v1.3h-1.3zM365.3 410.4h1.3v1.3h-1.3zM394.2 403.7h1.3v1.3h-1.3zM349.0 420.0h1.3v1.3h-1.3zM387.7 407.1h1.3v1.3h-1.3zM333.7 424.5h1.3v1.3h-1.3zM393.3 391.7h1.3v1.3h-1.3zM356.7 417.5h1.3v1.3h-1.3zM385.0 397.8h1.3v1.3h-1.3zM369.7 408.7h1.3v1.3h-1.3zM385.7 412.2h1.3v1.3h-1.3zM398.6 404.7h1.3v1.3h-1.3zM331.5 415.4h1.3v1.3h-1.3zM371.0 404.0h1.3v1.3h-1.3zM339.1 418.2h1.3v1.3h-1.3zM375.8 405.7h1.3v1.3h-1.3zM373.2 408.2h1.3v1.3h-1.3zM368.9 416.0h1.3v1.3h-1.3zM410.1 397.5h1.3v1.3h-1.3zM344.4 416.5h1.3v1.3h-1.3zM364.7 415.2h1.3v1.3h-1.3zM433.7 383.9h1.3v1.3h-1.3zM333.9 424.8h1.3v1.3h-1.3zM361.9 412.4h1.3v1.3h-1.3zM382.2 402.0h1.3v1.3h-1.3zM407.6 397.9h1.3v1.3h-1.3zM364.0 404.9h1.3v1.3h-1.3zM394.3 401.6h1.3v1.3h-1.3zM359.5 406.0h1.3v1.3h-1.3zM383.3 397.5h1.3v1.3h-1.3zM392.8 397.6h1.3v1.3h-1.3zM374.5 406.2h1.3v1.3h-1.3zM370.8 415.7h1.3v1.3h-1.3zM381.3 399.8h1.3v1.3h-1.3zM385.1 407.2h1.3v1.3h-1.3zM366.5 403.4h1.3v1.3h-1.3zM392.9 405.8h1.3v1.3h-1.3zM341.0 417.9h1.3v1.3h-1.3zM340.6 408.4h1.3v1.3h-1.3zM367.9 405.5h1.3v1.3h-1.3zM332.5 421.5h1.3v1.3h-1.3zM374.3 416.1h1.3v1.3h-1.3zM407.5 395.4h1.3v1.3h-1.3zM379.2 407.3h1.3v1.3h-1.3zM374.8 403.3h1.3v1.3h-1.3zM378.0 403.6h1.3v1.3h-1.3zM337.8 420.6h1.3v1.3h-1.3zM344.6 416.4h1.3v1.3h-1.3zM355.0 424.6h1.3v1.3h-1.3zM402.2 399.0h1.3v1.3h-1.3zM362.9 411.5h1.3v1.3h-1.3zM366.2 406.6h1.3v1.3h-1.3zM402.6 399.7h1.3v1.3h-1.3zM383.1 400.3h1.3v1.3h-1.3zM344.1 414.3h1.3v1.3h-1.3zM388.6 403.2h1.3v1.3h-1.3zM363.2 417.2h1.3v1.3h-1.3zM390.3 405.6h1.3v1.3h-1.3zM372.9 415.7h1.3v1.3h-1.3zM363.4 421.1h1.3v1.3h-1.3zM352.4 411.1h1.3v1.3h-1.3zM345.9 424.0h1.3v1.3h-1.3zM353.5 417.9h1.3v1.3h-1.3zM345.1 417.4h1.3v1.3h-1.3zM356.5 410.2h1.3v1.3h-1.3zM377.1 405.5h1.3v1.3h-1.3zM375.0 405.1h1.3v1.3h-1.3zM331.6 411.4h1.3v1.3h-1.3zM332.5 414.7h1.3v1.3h-1.3zM351.8 428.2h1.3v1.3h-1.3zM339.5 432.0h1.3v1.3h-1.3zM372.9 410.2h1.3v1.3h-1.3zM423.3 389.6h1.3v1.3h-1.3zM353.5 407.5h1.3v1.3h-1.3zM428.8 393.0h1.3v1.3h-1.3zM351.6 416.4h1.3v1.3h-1.3zM342.8 423.6h1.3v1.3h-1.3zM401.4 391.8h1.3v1.3h-1.3zM390.7 401.4h1.3v1.3h-1.3zM394.3 410.6h1.3v1.3h-1.3zM397.0 408.4h1.3v1.3h-1.3zM348.9 414.8h1.3v1.3h-1.3zM345.0 416.9h1.3v1.3h-1.3zM374.1 401.9h1.3v1.3h-1.3zM366.0 410.2h1.3v1.3h-1.3zM363.1 412.4h1.3v1.3h-1.3zM363.2 412.1h1.3v1.3h-1.3zM379.2 399.6h1.3v1.3h-1.3zM373.9 425.3h1.3v1.3h-1.3zM373.8 418.5h1.3v1.3h-1.3zM346.8 414.4h1.3v1.3h-1.3zM317.2 432.4h1.3v1.3h-1.3zM372.0 409.0h1.3v1.3h-1.3zM357.8 422.2h1.3v1.3h-1.3zM407.3 404.3h1.3v1.3h-1.3zM352.8 411.4h1.3v1.3h-1.3zM371.2 404.6h1.3v1.3h-1.3zM394.8 406.9h1.3v1.3h-1.3zM378.9 410.4h1.3v1.3h-1.3zM370.3 409.9h1.3v1.3h-1.3zM351.9 415.4h1.3v1.3h-1.3zM350.4 398.9h1.3v1.3h-1.3zM422.1 390.0h1.3v1.3h-1.3zM337.6 436.9h1.3v1.3h-1.3zM332.8 415.1h1.3v1.3h-1.3zM344.0 420.7h1.3v1.3h-1.3zM358.7 416.3h1.3v1.3h-1.3zM359.7 414.9h1.3v1.3h-1.3zM402.7 395.3h1.3v1.3h-1.3zM416.5 390.1h1.3v1.3h-1.3zM376.7 393.6h1.3v1.3h-1.3zM358.3 404.3h1.3v1.3h-1.3zM353.0 407.2h1.3v1.3h-1.3zM376.4 402.8h1.3v1.3h-1.3zM363.7 394.4h1.3v1.3h-1.3zM386.8 406.3h1.3v1.3h-1.3zM417.2 395.7h1.3v1.3h-1.3zM388.2 396.0h1.3v1.3h-1.3zM374.5 402.0h1.3v1.3h-1.3zM365.0 406.8h1.3v1.3h-1.3zM357.5 415.6h1.3v1.3h-1.3zM364.3 408.1h1.3v1.3h-1.3zM366.1 400.1h1.3v1.3h-1.3zM357.3 398.2h1.3v1.3h-1.3zM373.8 406.7h1.3v1.3h-1.3zM370.1 401.7h1.3v1.3h-1.3zM362.2 406.2h1.3v1.3h-1.3zM369.6 417.9h1.3v1.3h-1.3zM372.3 395.9h1.3v1.3h-1.3zM352.6 409.2h1.3v1.3h-1.3zM347.5 409.3h1.3v1.3h-1.3zM348.3 420.0h1.3v1.3h-1.3zM373.9 405.4h1.3v1.3h-1.3zM367.2 398.4h1.3v1.3h-1.3zM389.0 404.9h1.3v1.3h-1.3zM382.5 402.7h1.3v1.3h-1.3zM380.1 406.6h1.3v1.3h-1.3zM363.0 410.3h1.3v1.3h-1.3zM350.8 415.7h1.3v1.3h-1.3zM429.5 389.4h1.3v1.3h-1.3zM330.3 423.4h1.3v1.3h-1.3zM359.3 418.7h1.3v1.3h-1.3zM370.7 410.3h1.3v1.3h-1.3zM389.2 392.4h1.3v1.3h-1.3zM338.5 421.2h1.3v1.3h-1.3zM338.3 427.3h1.3v1.3h-1.3zM369.9 405.3h1.3v1.3h-1.3zM359.7 401.0h1.3v1.3h-1.3zM334.5 421.9h1.3v1.3h-1.3zM372.6 413.4h1.3v1.3h-1.3zM367.0 420.5h1.3v1.3h-1.3zM344.5 418.5h1.3v1.3h-1.3zM347.3 415.9h1.3v1.3h-1.3zM376.7 399.0h1.3v1.3h-1.3zM380.0 409.0h1.3v1.3h-1.3zM352.4 412.4h1.3v1.3h-1.3zM356.3 400.8h1.3v1.3h-1.3zM368.8 411.9h1.3v1.3h-1.3zM350.7 416.4h1.3v1.3h-1.3zM363.3 409.2h1.3v1.3h-1.3zM354.2 418.0h1.3v1.3h-1.3zM365.3 413.3h1.3v1.3h-1.3zM347.5 417.7h1.3v1.3h-1.3zM365.2 412.3h1.3v1.3h-1.3zM376.0 413.9h1.3v1.3h-1.3zM369.9 405.4h1.3v1.3h-1.3zM371.3 409.4h1.3v1.3h-1.3zM354.7 417.1h1.3v1.3h-1.3zM340.0 406.8h1.3v1.3h-1.3zM378.6 403.0h1.3v1.3h-1.3zM389.9 401.4h1.3v1.3h-1.3zM375.6 406.1h1.3v1.3h-1.3zM349.6 429.3h1.3v1.3h-1.3zM383.9 396.9h1.3v1.3h-1.3zM382.7 405.3h1.3v1.3h-1.3zM384.0 398.1h1.3v1.3h-1.3zM396.1 397.1h1.3v1.3h-1.3zM391.7 411.8h1.3v1.3h-1.3zM390.1 396.8h1.3v1.3h-1.3zM347.1 417.3h1.3v1.3h-1.3zM381.5 397.4h1.3v1.3h-1.3zM388.2 395.1h1.3v1.3h-1.3zM370.8 408.5h1.3v1.3h-1.3zM381.6 409.1h1.3v1.3h-1.3zM348.9 412.6h1.3v1.3h-1.3zM366.1 410.2h1.3v1.3h-1.3zM394.2 415.2h1.3v1.3h-1.3zM364.3 406.4h1.3v1.3h-1.3zM364.6 402.3h1.3v1.3h-1.3zM343.6 419.7h1.3v1.3h-1.3zM357.6 416.4h1.3v1.3h-1.3zM344.4 419.0h1.3v1.3h-1.3zM349.0 422.5h1.3v1.3h-1.3zM381.0 405.4h1.3v1.3h-1.3zM342.0 419.5h1.3v1.3h-1.3zM380.7 400.3h1.3v1.3h-1.3zM370.7 401.2h1.3v1.3h-1.3zM365.2 415.1h1.3v1.3h-1.3zM356.2 413.0h1.3v1.3h-1.3zM316.2 418.4h1.3v1.3h-1.3zM385.1 407.2h1.3v1.3h-1.3zM362.8 408.3h1.3v1.3h-1.3zM405.2 405.5h1.3v1.3h-1.3zM391.8 399.3h1.3v1.3h-1.3zM357.5 410.8h1.3v1.3h-1.3zM350.0 425.7h1.3v1.3h-1.3zM330.0 410.8h1.3v1.3h-1.3zM357.9 416.1h1.3v1.3h-1.3zM365.5 413.5h1.3v1.3h-1.3zM346.5 413.3h1.3v1.3h-1.3zM374.0 404.9h1.3v1.3h-1.3zM340.1 411.6h1.3v1.3h-1.3zM376.8 400.1h1.3v1.3h-1.3zM359.7 415.1h1.3v1.3h-1.3zM340.4 411.0h1.3v1.3h-1.3zM376.8 413.9h1.3v1.3h-1.3zM368.3 410.0h1.3v1.3h-1.3zM371.7 402.8h1.3v1.3h-1.3zM391.4 399.0h1.3v1.3h-1.3zM346.6 423.1h1.3v1.3h-1.3zM350.6 420.4h1.3v1.3h-1.3zM378.2 409.8h1.3v1.3h-1.3zM365.5 406.4h1.3v1.3h-1.3zM358.0 401.7h1.3v1.3h-1.3zM325.6 421.3h1.3v1.3h-1.3zM349.4 415.8h1.3v1.3h-1.3zM365.9 411.5h1.3v1.3h-1.3zM350.7 415.1h1.3v1.3h-1.3zM348.7 415.9h1.3v1.3h-1.3zM354.4 421.9h1.3v1.3h-1.3zM395.4 399.8h1.3v1.3h-1.3zM352.6 412.3h1.3v1.3h-1.3zM384.9 393.6h1.3v1.3h-1.3zM377.0 402.3h1.3v1.3h-1.3zM348.4 405.0h1.3v1.3h-1.3zM357.9 412.8h1.3v1.3h-1.3zM374.2 402.5h1.3v1.3h-1.3zM370.8 409.1h1.3v1.3h-1.3zM371.6 398.8h1.3v1.3h-1.3zM393.8 396.4h1.3v1.3h-1.3zM382.3 410.1h1.3v1.3h-1.3zM361.1 419.3h1.3v1.3h-1.3zM410.7 405.0h1.3v1.3h-1.3zM341.9 424.2h1.3v1.3h-1.3zM359.0 423.6h1.3v1.3h-1.3zM344.8 413.2h1.3v1.3h-1.3zM334.5 415.7h1.3v1.3h-1.3zM377.9 411.0h1.3v1.3h-1.3zM310.8 434.8h1.3v1.3h-1.3zM368.5 413.7h1.3v1.3h-1.3zM361.5 411.7h1.3v1.3h-1.3zM365.5 399.9h1.3v1.3h-1.3zM382.6 397.0h1.3v1.3h-1.3zM373.0 422.6h1.3v1.3h-1.3zM363.6 410.3h1.3v1.3h-1.3zM343.3 414.4h1.3v1.3h-1.3zM372.8 419.6h1.3v1.3h-1.3zM390.4 399.1h1.3v1.3h-1.3zM367.9 414.4h1.3v1.3h-1.3zM392.2 416.7h1.3v1.3h-1.3zM356.3 406.7h1.3v1.3h-1.3zM399.8 395.7h1.3v1.3h-1.3zM404.6 399.6h1.3v1.3h-1.3zM348.1 404.7h1.3v1.3h-1.3zM396.9 399.2h1.3v1.3h-1.3zM390.0 399.5h1.3v1.3h-1.3zM368.6 406.4h1.3v1.3h-1.3zM397.4 406.7h1.3v1.3h-1.3zM357.8 414.1h1.3v1.3h-1.3zM355.1 414.6h1.3v1.3h-1.3zM340.2 422.3h1.3v1.3h-1.3zM384.8 405.2h1.3v1.3h-1.3zM368.6 405.6h1.3v1.3h-1.3zM405.3 400.0h1.3v1.3h-1.3zM356.8 408.6h1.3v1.3h-1.3zM382.0 411.8h1.3v1.3h-1.3zM351.7 418.7h1.3v1.3h-1.3zM369.4 409.3h1.3v1.3h-1.3zM388.3 392.3h1.3v1.3h-1.3zM393.8 404.0h1.3v1.3h-1.3zM357.9 418.6h1.3v1.3h-1.3zM352.4 409.2h1.3v1.3h-1.3zM379.0 418.5h1.3v1.3h-1.3zM369.4 402.6h1.3v1.3h-1.3zM337.7 416.9h1.3v1.3h-1.3zM408.9 406.5h1.3v1.3h-1.3zM356.2 421.0h1.3v1.3h-1.3zM375.6 405.6h1.3v1.3h-1.3zM398.8 397.5h1.3v1.3h-1.3zM364.8 411.6h1.3v1.3h-1.3zM393.8 406.5h1.3v1.3h-1.3zM364.0 415.2h1.3v1.3h-1.3zM361.3 404.9h1.3v1.3h-1.3zM356.9 407.2h1.3v1.3h-1.3zM353.9 421.4h1.3v1.3h-1.3zM339.7 402.8h1.3v1.3h-1.3zM369.2 401.6h1.3v1.3h-1.3zM365.8 409.4h1.3v1.3h-1.3zM351.7 408.6h1.3v1.3h-1.3zM384.4 408.2h1.3v1.3h-1.3zM386.0 396.1h1.3v1.3h-1.3zM394.0 398.2h1.3v1.3h-1.3zM394.1 394.2h1.3v1.3h-1.3zM372.2 418.5h1.3v1.3h-1.3zM349.7 407.4h1.3v1.3h-1.3zM354.8 414.8h1.3v1.3h-1.3zM366.1 414.3h1.3v1.3h-1.3zM406.7 399.2h1.3v1.3h-1.3zM401.9 396.9h1.3v1.3h-1.3zM363.5 410.7h1.3v1.3h-1.3zM342.3 417.5h1.3v1.3h-1.3zM382.1 404.1h1.3v1.3h-1.3zM371.7 412.9h1.3v1.3h-1.3zM383.9 408.5h1.3v1.3h-1.3zM359.1 417.7h1.3v1.3h-1.3zM401.0 396.9h1.3v1.3h-1.3zM363.2 404.0h1.3v1.3h-1.3zM362.0 419.0h1.3v1.3h-1.3zM374.6 404.0h1.3v1.3h-1.3zM391.1 412.6h1.3v1.3h-1.3zM355.0 407.2h1.3v1.3h-1.3zM381.6 405.6h1.3v1.3h-1.3zM333.3 422.5h1.3v1.3h-1.3zM354.4 420.9h1.3v1.3h-1.3zM375.1 412.7h1.3v1.3h-1.3zM372.9 402.8h1.3v1.3h-1.3zM360.9 406.3h1.3v1.3h-1.3zM399.2 390.7h1.3v1.3h-1.3zM350.1 423.4h1.3v1.3h-1.3zM350.5 424.5h1.3v1.3h-1.3zM354.6 412.9h1.3v1.3h-1.3zM372.0 405.4h1.3v1.3h-1.3zM400.8 399.8h1.3v1.3h-1.3zM351.1 421.8h1.3v1.3h-1.3zM346.9 414.2h1.3v1.3h-1.3zM400.9 395.6h1.3v1.3h-1.3zM362.0 410.7h1.3v1.3h-1.3zM393.5 403.1h1.3v1.3h-1.3zM385.5 403.0h1.3v1.3h-1.3zM359.5 406.4h1.3v1.3h-1.3zM391.4 401.3h1.3v1.3h-1.3zM353.6 422.3h1.3v1.3h-1.3zM352.1 407.3h1.3v1.3h-1.3zM373.8 406.2h1.3v1.3h-1.3zM382.7 403.9h1.3v1.3h-1.3zM378.0 410.7h1.3v1.3h-1.3zM398.2 404.2h1.3v1.3h-1.3zM387.4 417.6h1.3v1.3h-1.3zM351.6 422.8h1.3v1.3h-1.3zM381.7 412.9h1.3v1.3h-1.3zM341.5 415.2h1.3v1.3h-1.3zM401.9 392.3h1.3v1.3h-1.3zM416.5 386.8h1.3v1.3h-1.3zM346.8 429.8h1.3v1.3h-1.3zM356.4 418.5h1.3v1.3h-1.3zM347.1 417.2h1.3v1.3h-1.3zM403.0 390.9h1.3v1.3h-1.3zM377.1 402.7h1.3v1.3h-1.3zM354.8 406.3h1.3v1.3h-1.3zM354.8 411.6h1.3v1.3h-1.3zM354.4 417.2h1.3v1.3h-1.3zM385.5 393.7h1.3v1.3h-1.3zM339.4 417.3h1.3v1.3h-1.3zM428.7 384.9h1.3v1.3h-1.3zM381.0 398.2h1.3v1.3h-1.3zM378.5 401.2h1.3v1.3h-1.3zM374.6 414.4h1.3v1.3h-1.3zM380.2 405.6h1.3v1.3h-1.3zM402.2 406.6h1.3v1.3h-1.3zM349.0 404.6h1.3v1.3h-1.3zM364.8 401.6h1.3v1.3h-1.3zM357.7 407.0h1.3v1.3h-1.3zM341.9 427.5h1.3v1.3h-1.3zM366.2 408.1h1.3v1.3h-1.3zM363.5 401.7h1.3v1.3h-1.3zM357.7 407.8h1.3v1.3h-1.3zM357.9 418.3h1.3v1.3h-1.3zM385.8 407.4h1.3v1.3h-1.3zM327.7 422.8h1.3v1.3h-1.3zM389.4 400.1h1.3v1.3h-1.3zM355.4 421.9h1.3v1.3h-1.3zM349.1 414.1h1.3v1.3h-1.3zM407.5 402.5h1.3v1.3h-1.3zM368.4 403.1h1.3v1.3h-1.3zM379.9 405.2h1.3v1.3h-1.3zM358.4 408.5h1.3v1.3h-1.3zM366.6 413.3h1.3v1.3h-1.3zM331.6 419.3h1.3v1.3h-1.3zM380.6 402.3h1.3v1.3h-1.3zM353.2 408.7h1.3v1.3h-1.3zM383.2 405.7h1.3v1.3h-1.3zM342.7 416.5h1.3v1.3h-1.3zM390.4 413.7h1.3v1.3h-1.3zM380.2 407.4h1.3v1.3h-1.3zM366.8 408.5h1.3v1.3h-1.3zM390.6 400.3h1.3v1.3h-1.3zM343.5 415.2h1.3v1.3h-1.3zM379.8 406.5h1.3v1.3h-1.3zM402.1 399.5h1.3v1.3h-1.3zM391.1 394.6h1.3v1.3h-1.3zM375.9 405.3h1.3v1.3h-1.3zM363.7 413.9h1.3v1.3h-1.3zM358.6 418.4h1.3v1.3h-1.3zM360.8 416.7h1.3v1.3h-1.3zM362.8 413.2h1.3v1.3h-1.3zM394.0 408.5h1.3v1.3h-1.3zM350.3 409.5h1.3v1.3h-1.3zM394.4 395.6h1.3v1.3h-1.3zM373.8 392.4h1.3v1.3h-1.3zM373.7 406.6h1.3v1.3h-1.3zM394.6 405.9h1.3v1.3h-1.3zM363.4 413.0h1.3v1.3h-1.3zM338.5 416.7h1.3v1.3h-1.3zM403.6 392.3h1.3v1.3h-1.3zM360.9 413.9h1.3v1.3h-1.3zM348.5 417.5h1.3v1.3h-1.3zM378.0 413.4h1.3v1.3h-1.3zM388.1 411.1h1.3v1.3h-1.3zM356.1 413.9h1.3v1.3h-1.3zM388.3 402.7h1.3v1.3h-1.3zM342.7 426.9h1.3v1.3h-1.3zM372.6 406.2h1.3v1.3h-1.3zM378.1 415.4h1.3v1.3h-1.3zM379.3 401.3h1.3v1.3h-1.3zM350.2 421.3h1.3v1.3h-1.3zM384.2 409.4h1.3v1.3h-1.3zM383.4 394.8h1.3v1.3h-1.3zM355.8 411.7h1.3v1.3h-1.3zM380.0 401.9h1.3v1.3h-1.3zM378.6 403.4h1.3v1.3h-1.3zM359.9 412.9h1.3v1.3h-1.3zM384.0 395.6h1.3v1.3h-1.3zM384.9 394.6h1.3v1.3h-1.3zM387.8 401.9h1.3v1.3h-1.3zM385.6 397.4h1.3v1.3h-1.3zM335.4 420.5h1.3v1.3h-1.3zM332.5 417.8h1.3v1.3h-1.3zM396.3 396.6h1.3v1.3h-1.3zM387.8 400.6h1.3v1.3h-1.3zM382.8 406.8h1.3v1.3h-1.3zM425.0 383.0h1.3v1.3h-1.3zM398.3 398.2h1.3v1.3h-1.3zM387.0 396.3h1.3v1.3h-1.3zM374.8 409.9h1.3v1.3h-1.3zM397.5 403.4h1.3v1.3h-1.3zM379.8 402.8h1.3v1.3h-1.3zM341.6 412.5h1.3v1.3h-1.3zM378.9 408.6h1.3v1.3h-1.3zM389.8 407.9h1.3v1.3h-1.3zM395.2 398.3h1.3v1.3h-1.3zM364.7 403.3h1.3v1.3h-1.3zM371.6 411.3h1.3v1.3h-1.3zM376.4 405.7h1.3v1.3h-1.3zM336.8 423.1h1.3v1.3h-1.3zM365.8 401.0h1.3v1.3h-1.3zM386.5 408.0h1.3v1.3h-1.3zM372.8 407.4h1.3v1.3h-1.3zM397.2 393.1h1.3v1.3h-1.3zM371.1 409.3h1.3v1.3h-1.3zM339.5 429.9h1.3v1.3h-1.3zM354.5 400.1h1.3v1.3h-1.3zM373.0 411.7h1.3v1.3h-1.3zM385.5 392.9h1.3v1.3h-1.3zM368.6 408.0h1.3v1.3h-1.3zM401.4 396.8h1.3v1.3h-1.3zM364.6 414.2h1.3v1.3h-1.3zM386.3 406.2h1.3v1.3h-1.3zM370.1 404.5h1.3v1.3h-1.3zM349.5 424.5h1.3v1.3h-1.3zM375.0 408.9h1.3v1.3h-1.3zM357.5 417.3h1.3v1.3h-1.3zM396.2 395.1h1.3v1.3h-1.3zM374.2 405.2h1.3v1.3h-1.3zM376.8 406.9h1.3v1.3h-1.3zM349.3 415.8h1.3v1.3h-1.3zM397.6 383.6h1.3v1.3h-1.3zM376.8 405.7h1.3v1.3h-1.3zM357.9 406.1h1.3v1.3h-1.3zM339.5 423.3h1.3v1.3h-1.3zM349.1 419.5h1.3v1.3h-1.3zM380.0 405.7h1.3v1.3h-1.3zM351.9 414.4h1.3v1.3h-1.3zM394.2 401.2h1.3v1.3h-1.3zM333.2 422.1h1.3v1.3h-1.3zM401.0 398.5h1.3v1.3h-1.3zM381.8 403.9h1.3v1.3h-1.3zM374.7 405.9h1.3v1.3h-1.3zM420.2 387.7h1.3v1.3h-1.3zM340.9 414.0h1.3v1.3h-1.3zM369.0 405.2h1.3v1.3h-1.3zM378.8 406.0h1.3v1.3h-1.3zM374.9 408.8h1.3v1.3h-1.3zM347.6 416.1h1.3v1.3h-1.3zM343.8 421.6h1.3v1.3h-1.3zM399.5 389.8h1.3v1.3h-1.3zM374.6 402.9h1.3v1.3h-1.3zM384.1 402.6h1.3v1.3h-1.3zM349.6 419.7h1.3v1.3h-1.3zM407.2 398.8h1.3v1.3h-1.3zM358.9 408.9h1.3v1.3h-1.3zM353.2 415.1h1.3v1.3h-1.3zM350.8 409.1h1.3v1.3h-1.3zM378.0 391.9h1.3v1.3h-1.3zM393.2 406.6h1.3v1.3h-1.3zM356.9 433.3h1.3v1.3h-1.3zM348.5 415.8h1.3v1.3h-1.3zM348.6 424.9h1.3v1.3h-1.3zM356.3 412.3h1.3v1.3h-1.3zM403.2 397.3h1.3v1.3h-1.3zM366.0 412.7h1.3v1.3h-1.3zM345.5 413.2h1.3v1.3h-1.3zM382.4 408.2h1.3v1.3h-1.3zM398.5 393.8h1.3v1.3h-1.3zM386.7 408.8h1.3v1.3h-1.3zM365.7 415.7h1.3v1.3h-1.3zM365.7 407.8h1.3v1.3h-1.3zM399.6 392.0h1.3v1.3h-1.3zM381.2 412.0h1.3v1.3h-1.3zM345.9 419.6h1.3v1.3h-1.3zM372.7 410.4h1.3v1.3h-1.3zM372.5 404.7h1.3v1.3h-1.3zM394.2 401.1h1.3v1.3h-1.3zM365.2 415.6h1.3v1.3h-1.3zM383.6 413.7h1.3v1.3h-1.3zM313.2 416.9h1.3v1.3h-1.3zM405.1 397.3h1.3v1.3h-1.3zM342.6 406.6h1.3v1.3h-1.3zM396.5 401.1h1.3v1.3h-1.3zM351.2 409.3h1.3v1.3h-1.3zM365.7 407.8h1.3v1.3h-1.3zM363.2 405.8h1.3v1.3h-1.3zM344.2 417.4h1.3v1.3h-1.3zM397.0 403.1h1.3v1.3h-1.3zM347.0 415.1h1.3v1.3h-1.3zM378.0 414.2h1.3v1.3h-1.3zM352.3 412.4h1.3v1.3h-1.3zM368.2 418.2h1.3v1.3h-1.3zM363.3 408.6h1.3v1.3h-1.3zM372.5 406.8h1.3v1.3h-1.3zM361.9 423.0h1.3v1.3h-1.3zM365.4 411.2h1.3v1.3h-1.3zM361.0 408.8h1.3v1.3h-1.3zM393.6 395.8h1.3v1.3h-1.3zM394.5 409.2h1.3v1.3h-1.3zM376.0 411.0h1.3v1.3h-1.3zM368.2 414.5h1.3v1.3h-1.3zM349.5 407.9h1.3v1.3h-1.3zM398.8 397.6h1.3v1.3h-1.3zM360.3 406.3h1.3v1.3h-1.3zM371.9 404.3h1.3v1.3h-1.3zM392.8 402.3h1.3v1.3h-1.3zM377.2 398.0h1.3v1.3h-1.3zM388.0 407.2h1.3v1.3h-1.3zM336.6 426.5h1.3v1.3h-1.3zM387.5 407.1h1.3v1.3h-1.3zM359.0 414.2h1.3v1.3h-1.3zM400.1 385.5h1.3v1.3h-1.3zM371.3 401.1h1.3v1.3h-1.3zM372.0 405.4h1.3v1.3h-1.3zM367.8 403.5h1.3v1.3h-1.3zM371.4 395.1h1.3v1.3h-1.3zM357.0 401.0h1.3v1.3h-1.3zM345.2 428.6h1.3v1.3h-1.3zM365.9 410.1h1.3v1.3h-1.3zM374.9 405.2h1.3v1.3h-1.3zM374.7 405.8h1.3v1.3h-1.3zM371.0 401.7h1.3v1.3h-1.3zM363.0 414.8h1.3v1.3h-1.3zM341.0 414.2h1.3v1.3h-1.3zM395.5 394.1h1.3v1.3h-1.3zM372.9 407.4h1.3v1.3h-1.3zM374.1 414.7h1.3v1.3h-1.3zM356.1 416.9h1.3v1.3h-1.3zM385.7 397.0h1.3v1.3h-1.3zM348.1 400.2h1.3v1.3h-1.3zM382.4 416.6h1.3v1.3h-1.3zM378.7 400.6h1.3v1.3h-1.3zM362.3 409.6h1.3v1.3h-1.3zM341.8 418.0h1.3v1.3h-1.3zM366.2 406.7h1.3v1.3h-1.3zM384.9 402.9h1.3v1.3h-1.3zM307.1 430.1h1.3v1.3h-1.3zM366.4 414.6h1.3v1.3h-1.3zM368.6 405.5h1.3v1.3h-1.3zM371.7 408.8h1.3v1.3h-1.3zM400.5 403.4h1.3v1.3h-1.3zM362.0 404.5h1.3v1.3h-1.3zM394.9 394.0h1.3v1.3h-1.3zM413.6 383.8h1.3v1.3h-1.3zM344.6 413.6h1.3v1.3h-1.3zM413.8 396.1h1.3v1.3h-1.3zM382.6 411.9h1.3v1.3h-1.3zM351.9 410.2h1.3v1.3h-1.3zM370.5 414.0h1.3v1.3h-1.3zM396.9 402.3h1.3v1.3h-1.3zM380.7 406.6h1.3v1.3h-1.3zM345.0 417.7h1.3v1.3h-1.3zM362.2 404.5h1.3v1.3h-1.3zM350.1 416.0h1.3v1.3h-1.3zM368.3 402.4h1.3v1.3h-1.3zM357.7 410.5h1.3v1.3h-1.3zM391.9 399.1h1.3v1.3h-1.3zM365.0 413.6h1.3v1.3h-1.3zM379.1 407.6h1.3v1.3h-1.3zM375.2 406.0h1.3v1.3h-1.3zM375.0 410.7h1.3v1.3h-1.3zM399.7 394.9h1.3v1.3h-1.3zM371.2 403.0h1.3v1.3h-1.3zM354.6 416.6h1.3v1.3h-1.3zM386.3 407.3h1.3v1.3h-1.3zM349.2 422.9h1.3v1.3h-1.3zM336.9 423.8h1.3v1.3h-1.3zM366.2 406.9h1.3v1.3h-1.3zM332.2 419.3h1.3v1.3h-1.3zM346.5 416.3h1.3v1.3h-1.3zM401.9 404.5h1.3v1.3h-1.3zM401.5 400.6h1.3v1.3h-1.3zM360.4 417.9h1.3v1.3h-1.3zM373.9 395.8h1.3v1.3h-1.3zM338.9 433.4h1.3v1.3h-1.3zM373.1 394.4h1.3v1.3h-1.3zM379.1 396.2h1.3v1.3h-1.3zM333.5 417.6h1.3v1.3h-1.3zM356.8 416.9h1.3v1.3h-1.3zM374.6 410.9h1.3v1.3h-1.3zM366.9 418.4h1.3v1.3h-1.3zM368.5 421.4h1.3v1.3h-1.3zM397.5 389.8h1.3v1.3h-1.3zM371.0 419.3h1.3v1.3h-1.3zM397.3 400.9h1.3v1.3h-1.3zM374.5 414.2h1.3v1.3h-1.3zM393.0 403.1h1.3v1.3h-1.3zM366.2 410.5h1.3v1.3h-1.3zM361.0 410.6h1.3v1.3h-1.3zM395.4 399.5h1.3v1.3h-1.3zM378.7 404.6h1.3v1.3h-1.3zM384.2 404.7h1.3v1.3h-1.3zM352.5 406.9h1.3v1.3h-1.3zM410.5 391.8h1.3v1.3h-1.3zM362.1 411.4h1.3v1.3h-1.3zM385.0 400.6h1.3v1.3h-1.3zM356.7 419.8h1.3v1.3h-1.3zM367.2 407.8h1.3v1.3h-1.3zM367.1 414.4h1.3v1.3h-1.3zM349.1 414.6h1.3v1.3h-1.3zM325.1 431.1h1.3v1.3h-1.3zM383.3 416.1h1.3v1.3h-1.3zM365.8 402.0h1.3v1.3h-1.3zM354.0 423.6h1.3v1.3h-1.3zM329.1 416.9h1.3v1.3h-1.3zM327.3 422.8h1.3v1.3h-1.3zM337.2 419.1h1.3v1.3h-1.3zM372.7 403.8h1.3v1.3h-1.3zM341.4 421.2h1.3v1.3h-1.3zM329.7 423.8h1.3v1.3h-1.3zM384.2 408.7h1.3v1.3h-1.3zM388.0 399.9h1.3v1.3h-1.3zM391.1 392.0h1.3v1.3h-1.3zM366.2 401.5h1.3v1.3h-1.3zM366.4 416.8h1.3v1.3h-1.3zM384.7 407.6h1.3v1.3h-1.3zM320.9 423.5h1.3v1.3h-1.3zM381.2 396.4h1.3v1.3h-1.3zM385.3 402.6h1.3v1.3h-1.3zM322.4 425.1h1.3v1.3h-1.3zM395.3 407.5h1.3v1.3h-1.3zM388.0 396.6h1.3v1.3h-1.3zM368.1 407.0h1.3v1.3h-1.3zM367.4 420.9h1.3v1.3h-1.3zM344.5 415.1h1.3v1.3h-1.3zM359.2 408.4h1.3v1.3h-1.3zM400.2 393.4h1.3v1.3h-1.3zM367.0 414.9h1.3v1.3h-1.3zM353.2 397.8h1.3v1.3h-1.3zM375.1 400.2h1.3v1.3h-1.3zM412.8 387.7h1.3v1.3h-1.3zM371.2 415.8h1.3v1.3h-1.3zM361.4 409.5h1.3v1.3h-1.3zM385.6 395.9h1.3v1.3h-1.3zM350.8 414.5h1.3v1.3h-1.3zM356.0 415.0h1.3v1.3h-1.3zM383.5 411.4h1.3v1.3h-1.3zM383.4 400.1h1.3v1.3h-1.3zM388.2 397.8h1.3v1.3h-1.3zM356.5 412.5h1.3v1.3h-1.3zM402.4 398.3h1.3v1.3h-1.3zM349.5 410.4h1.3v1.3h-1.3zM364.3 413.0h1.3v1.3h-1.3zM342.1 419.7h1.3v1.3h-1.3zM363.7 405.6h1.3v1.3h-1.3zM352.5 422.2h1.3v1.3h-1.3zM381.1 407.3h1.3v1.3h-1.3zM342.4 409.6h1.3v1.3h-1.3zM377.5 405.0h1.3v1.3h-1.3zM385.4 401.5h1.3v1.3h-1.3zM380.9 400.2h1.3v1.3h-1.3zM354.3 414.3h1.3v1.3h-1.3zM341.6 423.6h1.3v1.3h-1.3zM365.1 407.7h1.3v1.3h-1.3zM392.1 401.7h1.3v1.3h-1.3zM378.9 404.4h1.3v1.3h-1.3zM366.6 416.5h1.3v1.3h-1.3zM402.0 401.3h1.3v1.3h-1.3zM400.6 393.1h1.3v1.3h-1.3zM445.9 386.6h1.3v1.3h-1.3zM387.3 409.5h1.3v1.3h-1.3zM402.8 402.2h1.3v1.3h-1.3zM355.0 411.9h1.3v1.3h-1.3zM378.9 405.5h1.3v1.3h-1.3zM362.9 410.0h1.3v1.3h-1.3zM385.5 398.6h1.3v1.3h-1.3zM367.8 394.3h1.3v1.3h-1.3zM380.5 398.2h1.3v1.3h-1.3zM348.8 417.3h1.3v1.3h-1.3zM382.9 418.6h1.3v1.3h-1.3zM373.9 409.4h1.3v1.3h-1.3zM356.8 408.8h1.3v1.3h-1.3zM397.3 403.9h1.3v1.3h-1.3zM346.9 410.4h1.3v1.3h-1.3zM378.7 406.2h1.3v1.3h-1.3zM379.5 406.0h1.3v1.3h-1.3zM376.6 406.5h1.3v1.3h-1.3zM381.7 408.7h1.3v1.3h-1.3zM389.7 407.9h1.3v1.3h-1.3zM421.7 385.6h1.3v1.3h-1.3zM396.7 387.2h1.3v1.3h-1.3zM390.2 406.5h1.3v1.3h-1.3zM377.8 405.0h1.3v1.3h-1.3zM371.5 404.5h1.3v1.3h-1.3zM369.9 413.1h1.3v1.3h-1.3zM361.5 411.0h1.3v1.3h-1.3zM380.6 409.7h1.3v1.3h-1.3zM403.4 395.5h1.3v1.3h-1.3zM360.7 418.8h1.3v1.3h-1.3zM370.8 413.9h1.3v1.3h-1.3zM383.6 414.2h1.3v1.3h-1.3zM335.3 419.6h1.3v1.3h-1.3zM362.4 404.5h1.3v1.3h-1.3zM364.9 412.2h1.3v1.3h-1.3zM339.1 426.3h1.3v1.3h-1.3zM457.3 380.6h1.3v1.3h-1.3zM346.0 413.4h1.3v1.3h-1.3zM416.9 382.2h1.3v1.3h-1.3zM398.6 396.2h1.3v1.3h-1.3zM333.7 418.7h1.3v1.3h-1.3zM413.5 399.4h1.3v1.3h-1.3zM415.3 394.9h1.3v1.3h-1.3zM379.9 405.1h1.3v1.3h-1.3zM339.2 418.9h1.3v1.3h-1.3zM393.6 409.3h1.3v1.3h-1.3zM370.1 415.7h1.3v1.3h-1.3zM374.4 403.4h1.3v1.3h-1.3zM370.2 414.1h1.3v1.3h-1.3zM398.1 395.0h1.3v1.3h-1.3zM342.3 423.2h1.3v1.3h-1.3zM354.7 413.7h1.3v1.3h-1.3zM394.3 401.5h1.3v1.3h-1.3zM342.3 422.6h1.3v1.3h-1.3zM383.0 404.1h1.3v1.3h-1.3zM342.3 406.8h1.3v1.3h-1.3zM418.9 387.6h1.3v1.3h-1.3zM352.5 419.0h1.3v1.3h-1.3zM367.2 422.1h1.3v1.3h-1.3zM370.7 409.7h1.3v1.3h-1.3zM382.8 408.7h1.3v1.3h-1.3zM383.3 410.1h1.3v1.3h-1.3zM375.0 408.9h1.3v1.3h-1.3zM330.5 423.2h1.3v1.3h-1.3zM354.0 404.4h1.3v1.3h-1.3zM386.1 397.1h1.3v1.3h-1.3zM404.1 395.5h1.3v1.3h-1.3zM366.4 401.2h1.3v1.3h-1.3zM388.8 398.9h1.3v1.3h-1.3zM358.7 414.2h1.3v1.3h-1.3zM360.3 403.8h1.3v1.3h-1.3zM343.6 421.1h1.3v1.3h-1.3zM403.5 394.2h1.3v1.3h-1.3zM341.4 418.2h1.3v1.3h-1.3zM415.3 390.6h1.3v1.3h-1.3zM394.9 398.2h1.3v1.3h-1.3zM355.7 411.7h1.3v1.3h-1.3zM382.7 401.8h1.3v1.3h-1.3zM374.7 410.6h1.3v1.3h-1.3zM333.1 415.5h1.3v1.3h-1.3zM359.0 401.8h1.3v1.3h-1.3zM383.9 400.4h1.3v1.3h-1.3zM364.8 409.4h1.3v1.3h-1.3zM385.0 397.0h1.3v1.3h-1.3zM369.0 409.1h1.3v1.3h-1.3zM370.0 404.3h1.3v1.3h-1.3zM347.2 413.2h1.3v1.3h-1.3zM332.6 417.9h1.3v1.3h-1.3zM387.9 410.3h1.3v1.3h-1.3zM324.6 421.6h1.3v1.3h-1.3zM364.5 404.9h1.3v1.3h-1.3zM388.7 398.9h1.3v1.3h-1.3zM429.1 388.3h1.3v1.3h-1.3zM362.2 405.6h1.3v1.3h-1.3zM371.0 401.9h1.3v1.3h-1.3zM373.2 412.6h1.3v1.3h-1.3zM437.0 385.8h1.3v1.3h-1.3zM369.8 412.3h1.3v1.3h-1.3zM420.3 384.4h1.3v1.3h-1.3zM398.6 400.3h1.3v1.3h-1.3zM368.8 404.9h1.3v1.3h-1.3zM377.6 409.0h1.3v1.3h-1.3zM357.4 413.6h1.3v1.3h-1.3zM386.1 391.8h1.3v1.3h-1.3zM392.5 405.9h1.3v1.3h-1.3zM360.2 409.5h1.3v1.3h-1.3zM379.2 404.1h1.3v1.3h-1.3zM368.2 407.6h1.3v1.3h-1.3zM366.8 406.9h1.3v1.3h-1.3zM353.6 423.0h1.3v1.3h-1.3zM382.1 405.5h1.3v1.3h-1.3zM388.6 412.1h1.3v1.3h-1.3zM394.1 405.8h1.3v1.3h-1.3zM383.7 414.8h1.3v1.3h-1.3zM403.1 394.0h1.3v1.3h-1.3zM399.7 409.5h1.3v1.3h-1.3zM354.6 419.3h1.3v1.3h-1.3zM351.3 410.3h1.3v1.3h-1.3zM353.2 411.1h1.3v1.3h-1.3zM386.5 411.2h1.3v1.3h-1.3zM339.5 416.5h1.3v1.3h-1.3zM403.7 394.1h1.3v1.3h-1.3zM350.0 415.6h1.3v1.3h-1.3zM385.6 403.6h1.3v1.3h-1.3zM377.3 389.7h1.3v1.3h-1.3zM370.4 413.4h1.3v1.3h-1.3zM363.9 423.6h1.3v1.3h-1.3zM357.4 416.5h1.3v1.3h-1.3zM366.5 403.1h1.3v1.3h-1.3zM298.4 424.2h1.3v1.3h-1.3zM346.1 410.9h1.3v1.3h-1.3zM367.3 408.5h1.3v1.3h-1.3zM416.8 386.2h1.3v1.3h-1.3zM342.1 414.3h1.3v1.3h-1.3zM360.5 409.7h1.3v1.3h-1.3zM351.7 408.9h1.3v1.3h-1.3zM347.6 418.4h1.3v1.3h-1.3zM347.9 416.8h1.3v1.3h-1.3zM377.1 408.9h1.3v1.3h-1.3zM367.7 407.8h1.3v1.3h-1.3zM382.8 408.1h1.3v1.3h-1.3zM370.4 410.2h1.3v1.3h-1.3zM370.0 411.9h1.3v1.3h-1.3zM359.8 407.6h1.3v1.3h-1.3zM333.1 425.2h1.3v1.3h-1.3zM400.3 402.7h1.3v1.3h-1.3zM342.9 429.4h1.3v1.3h-1.3zM355.8 410.2h1.3v1.3h-1.3zM392.7 397.9h1.3v1.3h-1.3zM372.4 410.3h1.3v1.3h-1.3zM339.3 421.4h1.3v1.3h-1.3zM354.8 412.9h1.3v1.3h-1.3zM402.6 401.6h1.3v1.3h-1.3zM386.1 401.8h1.3v1.3h-1.3zM348.7 416.2h1.3v1.3h-1.3zM360.5 416.9h1.3v1.3h-1.3zM370.2 404.7h1.3v1.3h-1.3zM334.8 415.4h1.3v1.3h-1.3zM355.5 414.8h1.3v1.3h-1.3zM357.8 412.6h1.3v1.3h-1.3zM377.5 399.0h1.3v1.3h-1.3zM399.8 405.6h1.3v1.3h-1.3zM412.5 398.8h1.3v1.3h-1.3zM369.0 407.9h1.3v1.3h-1.3zM405.4 404.1h1.3v1.3h-1.3zM381.5 402.5h1.3v1.3h-1.3zM364.4 400.4h1.3v1.3h-1.3zM369.2 406.0h1.3v1.3h-1.3zM381.8 405.6h1.3v1.3h-1.3zM388.4 415.7h1.3v1.3h-1.3zM353.3 411.9h1.3v1.3h-1.3zM386.6 399.5h1.3v1.3h-1.3zM370.9 413.0h1.3v1.3h-1.3zM393.1 394.3h1.3v1.3h-1.3zM373.1 411.9h1.3v1.3h-1.3zM363.7 417.2h1.3v1.3h-1.3zM353.1 412.0h1.3v1.3h-1.3zM377.8 389.4h1.3v1.3h-1.3zM347.1 422.8h1.3v1.3h-1.3zM396.1 404.4h1.3v1.3h-1.3zM384.0 402.4h1.3v1.3h-1.3zM374.8 406.3h1.3v1.3h-1.3zM394.7 394.6h1.3v1.3h-1.3zM357.8 417.5h1.3v1.3h-1.3zM376.0 407.5h1.3v1.3h-1.3zM315.5 428.4h1.3v1.3h-1.3zM404.2 402.9h1.3v1.3h-1.3zM355.4 422.2h1.3v1.3h-1.3zM375.4 409.2h1.3v1.3h-1.3zM349.3 414.6h1.3v1.3h-1.3zM415.1 401.1h1.3v1.3h-1.3zM401.4 402.3h1.3v1.3h-1.3zM373.3 403.7h1.3v1.3h-1.3zM365.4 411.0h1.3v1.3h-1.3zM420.9 387.9h1.3v1.3h-1.3zM364.6 403.9h1.3v1.3h-1.3zM382.7 405.6h1.3v1.3h-1.3zM365.4 418.1h1.3v1.3h-1.3zM360.0 422.3h1.3v1.3h-1.3zM382.5 413.3h1.3v1.3h-1.3zM372.0 387.9h1.3v1.3h-1.3zM381.2 399.4h1.3v1.3h-1.3zM408.3 400.4h1.3v1.3h-1.3zM363.1 408.3h1.3v1.3h-1.3zM391.5 391.2h1.3v1.3h-1.3zM401.4 408.6h1.3v1.3h-1.3zM347.4 409.3h1.3v1.3h-1.3zM344.3 417.1h1.3v1.3h-1.3zM392.9 395.0h1.3v1.3h-1.3zM374.1 394.5h1.3v1.3h-1.3zM364.8 400.8h1.3v1.3h-1.3zM406.4 394.8h1.3v1.3h-1.3zM396.0 403.5h1.3v1.3h-1.3zM388.9 406.2h1.3v1.3h-1.3zM319.7 425.7h1.3v1.3h-1.3zM374.0 405.0h1.3v1.3h-1.3zM373.9 411.2h1.3v1.3h-1.3zM391.6 407.1h1.3v1.3h-1.3zM390.6 409.7h1.3v1.3h-1.3zM342.0 422.0h1.3v1.3h-1.3zM363.2 420.1h1.3v1.3h-1.3zM381.6 402.6h1.3v1.3h-1.3zM343.0 412.7h1.3v1.3h-1.3zM358.1 409.0h1.3v1.3h-1.3zM354.8 415.1h1.3v1.3h-1.3zM373.2 407.7h1.3v1.3h-1.3zM366.0 402.8h1.3v1.3h-1.3zM352.3 415.6h1.3v1.3h-1.3zM394.8 396.8h1.3v1.3h-1.3zM367.6 417.9h1.3v1.3h-1.3zM371.3 410.4h1.3v1.3h-1.3zM383.4 403.4h1.3v1.3h-1.3zM358.4 420.0h1.3v1.3h-1.3zM366.4 410.7h1.3v1.3h-1.3zM383.1 402.1h1.3v1.3h-1.3zM366.6 408.0h1.3v1.3h-1.3zM407.6 400.8h1.3v1.3h-1.3zM409.9 390.8h1.3v1.3h-1.3zM354.5 421.6h1.3v1.3h-1.3zM360.8 410.8h1.3v1.3h-1.3zM375.1 411.4h1.3v1.3h-1.3zM367.4 406.8h1.3v1.3h-1.3zM372.7 405.4h1.3v1.3h-1.3zM364.5 411.9h1.3v1.3h-1.3zM404.6 408.6h1.3v1.3h-1.3zM360.7 410.9h1.3v1.3h-1.3zM334.1 432.3h1.3v1.3h-1.3zM357.3 418.1h1.3v1.3h-1.3zM354.4 419.2h1.3v1.3h-1.3zM374.0 408.0h1.3v1.3h-1.3zM385.7 406.1h1.3v1.3h-1.3zM379.0 409.5h1.3v1.3h-1.3zM363.8 413.6h1.3v1.3h-1.3zM349.7 412.9h1.3v1.3h-1.3zM357.6 408.2h1.3v1.3h-1.3zM408.6 391.8h1.3v1.3h-1.3zM373.7 415.5h1.3v1.3h-1.3zM364.5 416.9h1.3v1.3h-1.3zM332.1 429.0h1.3v1.3h-1.3zM365.9 411.0h1.3v1.3h-1.3zM375.9 404.4h1.3v1.3h-1.3zM376.4 412.3h1.3v1.3h-1.3zM351.0 414.1h1.3v1.3h-1.3zM385.7 400.0h1.3v1.3h-1.3zM341.2 429.1h1.3v1.3h-1.3zM332.0 415.8h1.3v1.3h-1.3zM356.0 411.5h1.3v1.3h-1.3zM384.6 403.9h1.3v1.3h-1.3zM374.5 409.6h1.3v1.3h-1.3zM363.2 418.0h1.3v1.3h-1.3zM376.1 408.0h1.3v1.3h-1.3zM397.7 397.9h1.3v1.3h-1.3zM379.0 404.6h1.3v1.3h-1.3zM384.3 393.4h1.3v1.3h-1.3zM394.1 394.3h1.3v1.3h-1.3zM352.6 423.0h1.3v1.3h-1.3zM351.4 415.7h1.3v1.3h-1.3zM356.9 417.0h1.3v1.3h-1.3zM377.7 406.6h1.3v1.3h-1.3zM386.1 406.3h1.3v1.3h-1.3zM383.5 414.6h1.3v1.3h-1.3zM371.8 408.4h1.3v1.3h-1.3zM397.2 393.0h1.3v1.3h-1.3zM352.6 405.9h1.3v1.3h-1.3zM359.4 422.2h1.3v1.3h-1.3zM373.5 408.0h1.3v1.3h-1.3zM417.4 384.9h1.3v1.3h-1.3zM367.2 419.2h1.3v1.3h-1.3zM406.7 393.0h1.3v1.3h-1.3zM363.4 417.7h1.3v1.3h-1.3zM374.3 407.9h1.3v1.3h-1.3zM349.0 408.4h1.3v1.3h-1.3zM323.3 419.3h1.3v1.3h-1.3zM376.2 394.6h1.3v1.3h-1.3zM350.9 422.5h1.3v1.3h-1.3zM416.4 393.6h1.3v1.3h-1.3zM390.0 389.9h1.3v1.3h-1.3zM395.2 395.7h1.3v1.3h-1.3zM387.4 400.0h1.3v1.3h-1.3zM397.0 404.6h1.3v1.3h-1.3zM367.0 413.4h1.3v1.3h-1.3zM400.1 402.9h1.3v1.3h-1.3zM364.6 417.5h1.3v1.3h-1.3zM369.0 400.5h1.3v1.3h-1.3zM348.0 418.7h1.3v1.3h-1.3zM380.9 410.2h1.3v1.3h-1.3zM318.7 437.7h1.3v1.3h-1.3zM380.5 400.1h1.3v1.3h-1.3zM416.5 390.1h1.3v1.3h-1.3zM405.9 391.9h1.3v1.3h-1.3zM373.1 407.4h1.3v1.3h-1.3zM366.9 418.8h1.3v1.3h-1.3zM346.9 418.9h1.3v1.3h-1.3zM374.0 405.6h1.3v1.3h-1.3zM339.8 422.5h1.3v1.3h-1.3zM354.4 410.9h1.3v1.3h-1.3zM363.2 408.4h1.3v1.3h-1.3zM351.1 420.3h1.3v1.3h-1.3zM398.4 401.7h1.3v1.3h-1.3zM360.2 415.3h1.3v1.3h-1.3zM383.8 398.6h1.3v1.3h-1.3zM372.6 407.4h1.3v1.3h-1.3zM366.1 409.6h1.3v1.3h-1.3zM379.5 415.6h1.3v1.3h-1.3zM359.6 415.1h1.3v1.3h-1.3zM366.8 416.9h1.3v1.3h-1.3zM351.8 411.0h1.3v1.3h-1.3zM357.7 421.0h1.3v1.3h-1.3zM382.1 400.8h1.3v1.3h-1.3zM397.3 403.3h1.3v1.3h-1.3zM336.4 412.3h1.3v1.3h-1.3zM380.6 406.6h1.3v1.3h-1.3zM325.7 426.4h1.3v1.3h-1.3zM365.5 413.2h1.3v1.3h-1.3zM382.1 407.6h1.3v1.3h-1.3zM385.3 407.3h1.3v1.3h-1.3zM366.4 414.5h1.3v1.3h-1.3zM358.5 405.6h1.3v1.3h-1.3zM343.4 415.0h1.3v1.3h-1.3zM377.8 408.4h1.3v1.3h-1.3zM357.8 410.2h1.3v1.3h-1.3zM354.4 415.3h1.3v1.3h-1.3zM376.4 409.2h1.3v1.3h-1.3zM334.8 423.5h1.3v1.3h-1.3zM355.5 418.2h1.3v1.3h-1.3zM356.1 429.5h1.3v1.3h-1.3zM354.9 409.7h1.3v1.3h-1.3zM335.7 424.8h1.3v1.3h-1.3zM342.4 426.9h1.3v1.3h-1.3zM382.8 410.5h1.3v1.3h-1.3zM356.2 413.5h1.3v1.3h-1.3zM387.3 405.2h1.3v1.3h-1.3zM388.9 400.3h1.3v1.3h-1.3zM338.6 408.6h1.3v1.3h-1.3zM374.6 412.5h1.3v1.3h-1.3zM396.2 402.3h1.3v1.3h-1.3zM330.1 416.4h1.3v1.3h-1.3zM362.2 414.7h1.3v1.3h-1.3zM379.5 405.1h1.3v1.3h-1.3zM366.7 397.9h1.3v1.3h-1.3zM417.9 395.3h1.3v1.3h-1.3zM331.3 427.2h1.3v1.3h-1.3zM412.8 404.1h1.3v1.3h-1.3zM377.9 400.2h1.3v1.3h-1.3zM376.8 396.4h1.3v1.3h-1.3zM406.1 394.4h1.3v1.3h-1.3zM393.8 398.5h1.3v1.3h-1.3zM395.9 394.3h1.3v1.3h-1.3zM344.8 417.2h1.3v1.3h-1.3zM377.0 405.7h1.3v1.3h-1.3zM381.0 401.3h1.3v1.3h-1.3zM367.4 404.8h1.3v1.3h-1.3zM313.5 434.5h1.3v1.3h-1.3zM345.7 419.7h1.3v1.3h-1.3zM335.7 418.7h1.3v1.3h-1.3zM359.4 423.4h1.3v1.3h-1.3zM341.3 412.3h1.3v1.3h-1.3zM385.6 402.7h1.3v1.3h-1.3zM356.4 417.7h1.3v1.3h-1.3zM402.9 393.4h1.3v1.3h-1.3zM388.7 405.9h1.3v1.3h-1.3zM376.5 415.1h1.3v1.3h-1.3zM335.7 413.8h1.3v1.3h-1.3zM353.6 406.9h1.3v1.3h-1.3zM413.6 394.8h1.3v1.3h-1.3zM374.4 411.9h1.3v1.3h-1.3zM349.5 406.6h1.3v1.3h-1.3zM360.8 411.4h1.3v1.3h-1.3zM346.3 412.6h1.3v1.3h-1.3zM379.0 401.9h1.3v1.3h-1.3zM350.1 422.0h1.3v1.3h-1.3zM372.0 411.6h1.3v1.3h-1.3zM357.1 414.4h1.3v1.3h-1.3zM416.9 386.8h1.3v1.3h-1.3zM406.7 398.4h1.3v1.3h-1.3zM364.8 410.6h1.3v1.3h-1.3zM411.5 392.3h1.3v1.3h-1.3zM348.0 423.2h1.3v1.3h-1.3zM355.2 421.3h1.3v1.3h-1.3zM357.3 421.0h1.3v1.3h-1.3zM371.0 405.9h1.3v1.3h-1.3zM346.8 415.3h1.3v1.3h-1.3zM409.8 392.5h1.3v1.3h-1.3zM382.4 407.9h1.3v1.3h-1.3zM391.9 396.6h1.3v1.3h-1.3zM402.2 395.6h1.3v1.3h-1.3zM346.6 418.9h1.3v1.3h-1.3zM386.7 401.3h1.3v1.3h-1.3zM365.2 400.7h1.3v1.3h-1.3zM374.5 405.5h1.3v1.3h-1.3zM355.9 422.7h1.3v1.3h-1.3zM402.6 392.4h1.3v1.3h-1.3zM388.3 403.3h1.3v1.3h-1.3zM342.5 414.5h1.3v1.3h-1.3zM387.1 400.5h1.3v1.3h-1.3zM358.2 406.9h1.3v1.3h-1.3zM348.5 428.5h1.3v1.3h-1.3zM380.2 412.2h1.3v1.3h-1.3zM387.3 399.2h1.3v1.3h-1.3zM361.4 411.3h1.3v1.3h-1.3zM388.3 398.2h1.3v1.3h-1.3zM362.0 415.6h1.3v1.3h-1.3zM393.0 400.8h1.3v1.3h-1.3zM407.9 396.6h1.3v1.3h-1.3zM402.0 392.6h1.3v1.3h-1.3zM361.6 411.7h1.3v1.3h-1.3zM341.8 414.3h1.3v1.3h-1.3zM335.0 414.2h1.3v1.3h-1.3zM367.9 414.7h1.3v1.3h-1.3zM322.8 420.0h1.3v1.3h-1.3zM361.1 414.3h1.3v1.3h-1.3zM359.0 410.8h1.3v1.3h-1.3zM369.7 401.4h1.3v1.3h-1.3zM359.9 396.6h1.3v1.3h-1.3zM345.7 420.1h1.3v1.3h-1.3zM362.8 413.9h1.3v1.3h-1.3zM359.7 419.5h1.3v1.3h-1.3zM362.6 413.0h1.3v1.3h-1.3zM335.6 421.9h1.3v1.3h-1.3zM360.8 406.7h1.3v1.3h-1.3zM376.4 408.1h1.3v1.3h-1.3zM343.0 415.5h1.3v1.3h-1.3zM386.7 398.6h1.3v1.3h-1.3zM395.2 401.7h1.3v1.3h-1.3zM360.1 408.8h1.3v1.3h-1.3zM358.1 407.7h1.3v1.3h-1.3zM355.8 408.2h1.3v1.3h-1.3zM345.7 424.3h1.3v1.3h-1.3zM375.9 410.7h1.3v1.3h-1.3zM393.8 399.1h1.3v1.3h-1.3zM358.6 411.7h1.3v1.3h-1.3zM347.8 416.6h1.3v1.3h-1.3zM354.6 417.6h1.3v1.3h-1.3zM365.3 409.4h1.3v1.3h-1.3zM386.2 397.8h1.3v1.3h-1.3zM401.7 385.4h1.3v1.3h-1.3zM411.7 380.6h1.3v1.3h-1.3zM378.3 412.1h1.3v1.3h-1.3zM347.4 415.1h1.3v1.3h-1.3zM361.3 408.3h1.3v1.3h-1.3zM357.0 409.4h1.3v1.3h-1.3zM380.0 413.5h1.3v1.3h-1.3zM418.3 402.1h1.3v1.3h-1.3zM364.7 403.6h1.3v1.3h-1.3zM362.6 409.3h1.3v1.3h-1.3zM372.9 409.8h1.3v1.3h-1.3zM359.6 401.1h1.3v1.3h-1.3zM391.5 402.5h1.3v1.3h-1.3zM397.9 402.7h1.3v1.3h-1.3zM389.1 406.8h1.3v1.3h-1.3zM374.4 417.4h1.3v1.3h-1.3zM320.2 438.4h1.3v1.3h-1.3zM375.3 400.6h1.3v1.3h-1.3zM372.5 407.2h1.3v1.3h-1.3zM335.9 419.9h1.3v1.3h-1.3zM394.1 404.5h1.3v1.3h-1.3zM340.4 426.1h1.3v1.3h-1.3zM371.7 411.1h1.3v1.3h-1.3zM412.0 387.2h1.3v1.3h-1.3zM379.8 400.9h1.3v1.3h-1.3zM366.7 416.1h1.3v1.3h-1.3zM364.8 413.1h1.3v1.3h-1.3zM357.8 411.6h1.3v1.3h-1.3zM365.8 414.4h1.3v1.3h-1.3zM397.6 400.0h1.3v1.3h-1.3zM381.9 408.7h1.3v1.3h-1.3zM411.2 397.1h1.3v1.3h-1.3zM399.7 401.3h1.3v1.3h-1.3zM379.5 410.9h1.3v1.3h-1.3zM362.6 414.8h1.3v1.3h-1.3zM374.6 403.3h1.3v1.3h-1.3zM407.9 400.1h1.3v1.3h-1.3zM398.7 390.3h1.3v1.3h-1.3zM350.0 417.6h1.3v1.3h-1.3zM363.6 409.4h1.3v1.3h-1.3zM372.4 420.3h1.3v1.3h-1.3zM416.9 385.2h1.3v1.3h-1.3zM353.8 413.4h1.3v1.3h-1.3zM373.5 405.1h1.3v1.3h-1.3zM374.7 417.3h1.3v1.3h-1.3zM366.8 412.0h1.3v1.3h-1.3zM386.3 409.5h1.3v1.3h-1.3zM382.3 414.0h1.3v1.3h-1.3zM376.9 399.0h1.3v1.3h-1.3zM334.5 422.8h1.3v1.3h-1.3zM356.2 417.9h1.3v1.3h-1.3zM381.8 405.9h1.3v1.3h-1.3zM400.4 398.3h1.3v1.3h-1.3zM378.1 403.4h1.3v1.3h-1.3zM370.1 412.4h1.3v1.3h-1.3zM367.8 405.5h1.3v1.3h-1.3zM392.6 408.5h1.3v1.3h-1.3zM367.0 405.7h1.3v1.3h-1.3zM404.1 401.2h1.3v1.3h-1.3zM372.6 407.2h1.3v1.3h-1.3zM367.9 412.8h1.3v1.3h-1.3zM356.3 419.8h1.3v1.3h-1.3zM393.8 401.7h1.3v1.3h-1.3zM396.6 408.7h1.3v1.3h-1.3zM377.4 403.1h1.3v1.3h-1.3zM324.3 433.9h1.3v1.3h-1.3zM393.0 404.4h1.3v1.3h-1.3zM359.8 414.8h1.3v1.3h-1.3zM371.6 402.6h1.3v1.3h-1.3zM369.4 411.7h1.3v1.3h-1.3zM343.4 422.5h1.3v1.3h-1.3zM368.4 403.6h1.3v1.3h-1.3zM421.4 385.7h1.3v1.3h-1.3zM410.8 398.8h1.3v1.3h-1.3zM373.5 402.3h1.3v1.3h-1.3zM341.9 416.1h1.3v1.3h-1.3zM376.1 409.7h1.3v1.3h-1.3zM360.1 417.9h1.3v1.3h-1.3zM378.9 397.5h1.3v1.3h-1.3zM381.5 404.2h1.3v1.3h-1.3zM382.9 398.4h1.3v1.3h-1.3zM391.9 402.6h1.3v1.3h-1.3zM366.3 406.4h1.3v1.3h-1.3zM385.7 404.1h1.3v1.3h-1.3zM350.0 419.5h1.3v1.3h-1.3zM338.8 418.0h1.3v1.3h-1.3zM372.4 412.2h1.3v1.3h-1.3zM330.4 416.7h1.3v1.3h-1.3zM405.5 401.3h1.3v1.3h-1.3zM352.8 416.7h1.3v1.3h-1.3zM386.2 397.2h1.3v1.3h-1.3zM365.5 424.2h1.3v1.3h-1.3zM377.8 398.6h1.3v1.3h-1.3zM380.3 400.6h1.3v1.3h-1.3zM360.0 403.7h1.3v1.3h-1.3zM395.1 389.1h1.3v1.3h-1.3zM351.0 413.4h1.3v1.3h-1.3zM344.8 416.9h1.3v1.3h-1.3zM367.1 406.8h1.3v1.3h-1.3zM332.1 425.4h1.3v1.3h-1.3zM398.0 395.2h1.3v1.3h-1.3zM380.6 410.2h1.3v1.3h-1.3zM351.8 410.6h1.3v1.3h-1.3zM365.4 404.8h1.3v1.3h-1.3zM385.9 401.9h1.3v1.3h-1.3zM357.3 403.1h1.3v1.3h-1.3zM373.8 397.8h1.3v1.3h-1.3zM361.9 409.5h1.3v1.3h-1.3zM366.9 405.8h1.3v1.3h-1.3zM387.8 406.9h1.3v1.3h-1.3zM377.7 402.3h1.3v1.3h-1.3zM377.9 408.8h1.3v1.3h-1.3zM384.3 407.9h1.3v1.3h-1.3zM370.4 408.8h1.3v1.3h-1.3zM359.7 414.5h1.3v1.3h-1.3zM382.6 405.4h1.3v1.3h-1.3zM366.5 415.9h1.3v1.3h-1.3zM352.4 423.5h1.3v1.3h-1.3zM365.0 410.2h1.3v1.3h-1.3zM380.3 417.8h1.3v1.3h-1.3zM387.2 405.6h1.3v1.3h-1.3zM389.3 403.9h1.3v1.3h-1.3zM350.8 405.9h1.3v1.3h-1.3zM317.1 429.3h1.3v1.3h-1.3zM341.7 417.1h1.3v1.3h-1.3zM350.7 417.6h1.3v1.3h-1.3zM366.5 406.9h1.3v1.3h-1.3zM318.0 418.9h1.3v1.3h-1.3zM381.3 409.5h1.3v1.3h-1.3zM377.7 405.6h1.3v1.3h-1.3zM370.4 410.3h1.3v1.3h-1.3zM343.7 407.0h1.3v1.3h-1.3zM370.0 395.0h1.3v1.3h-1.3zM364.7 414.2h1.3v1.3h-1.3zM378.9 394.7h1.3v1.3h-1.3zM382.4 407.2h1.3v1.3h-1.3zM380.9 388.1h1.3v1.3h-1.3zM352.8 410.6h1.3v1.3h-1.3zM379.1 404.1h1.3v1.3h-1.3zM391.9 397.0h1.3v1.3h-1.3zM377.1 408.2h1.3v1.3h-1.3zM393.1 403.4h1.3v1.3h-1.3zM331.8 416.5h1.3v1.3h-1.3zM393.7 408.9h1.3v1.3h-1.3zM323.1 428.8h1.3v1.3h-1.3zM362.7 413.0h1.3v1.3h-1.3zM360.7 408.2h1.3v1.3h-1.3zM350.7 421.5h1.3v1.3h-1.3zM345.7 415.6h1.3v1.3h-1.3zM349.0 414.2h1.3v1.3h-1.3zM356.3 411.8h1.3v1.3h-1.3zM396.0 404.1h1.3v1.3h-1.3zM375.6 407.8h1.3v1.3h-1.3zM347.3 414.7h1.3v1.3h-1.3zM336.6 430.3h1.3v1.3h-1.3zM354.9 418.4h1.3v1.3h-1.3zM390.5 398.1h1.3v1.3h-1.3zM358.8 414.9h1.3v1.3h-1.3zM371.9 406.5h1.3v1.3h-1.3zM365.3 404.9h1.3v1.3h-1.3zM366.8 404.8h1.3v1.3h-1.3zM376.7 414.1h1.3v1.3h-1.3zM341.8 411.3h1.3v1.3h-1.3zM360.0 420.8h1.3v1.3h-1.3zM393.9 406.6h1.3v1.3h-1.3zM399.7 399.8h1.3v1.3h-1.3zM379.8 407.3h1.3v1.3h-1.3zM334.4 432.3h1.3v1.3h-1.3zM339.1 405.7h1.3v1.3h-1.3zM371.3 417.7h1.3v1.3h-1.3zM397.5 403.5h1.3v1.3h-1.3zM308.0 422.4h1.3v1.3h-1.3zM390.7 403.6h1.3v1.3h-1.3zM398.1 397.1h1.3v1.3h-1.3zM361.8 417.5h1.3v1.3h-1.3zM378.5 405.4h1.3v1.3h-1.3zM367.2 415.2h1.3v1.3h-1.3zM340.7 412.3h1.3v1.3h-1.3zM329.1 414.9h1.3v1.3h-1.3zM363.3 408.6h1.3v1.3h-1.3zM327.4 416.7h1.3v1.3h-1.3zM379.1 405.5h1.3v1.3h-1.3zM383.9 400.2h1.3v1.3h-1.3zM357.3 403.0h1.3v1.3h-1.3zM322.1 428.5h1.3v1.3h-1.3zM339.4 415.2h1.3v1.3h-1.3zM364.1 419.5h1.3v1.3h-1.3zM350.0 415.2h1.3v1.3h-1.3zM389.6 393.2h1.3v1.3h-1.3zM380.0 407.6h1.3v1.3h-1.3zM371.1 419.7h1.3v1.3h-1.3zM359.1 418.7h1.3v1.3h-1.3zM387.4 404.4h1.3v1.3h-1.3zM353.5 411.1h1.3v1.3h-1.3zM360.0 408.2h1.3v1.3h-1.3zM395.9 394.7h1.3v1.3h-1.3zM354.0 423.7h1.3v1.3h-1.3zM342.9 425.5h1.3v1.3h-1.3zM381.6 407.8h1.3v1.3h-1.3zM369.3 400.7h1.3v1.3h-1.3zM353.4 407.5h1.3v1.3h-1.3zM370.3 413.8h1.3v1.3h-1.3zM354.3 420.3h1.3v1.3h-1.3zM370.1 412.1h1.3v1.3h-1.3zM371.5 404.3h1.3v1.3h-1.3zM398.8 394.9h1.3v1.3h-1.3zM338.3 414.2h1.3v1.3h-1.3zM377.8 407.1h1.3v1.3h-1.3zM347.6 417.0h1.3v1.3h-1.3zM349.1 418.7h1.3v1.3h-1.3zM365.5 400.9h1.3v1.3h-1.3zM441.0 377.6h1.3v1.3h-1.3zM391.1 405.2h1.3v1.3h-1.3zM387.1 410.9h1.3v1.3h-1.3zM369.2 405.7h1.3v1.3h-1.3zM350.5 423.4h1.3v1.3h-1.3zM383.4 411.0h1.3v1.3h-1.3zM336.2 425.4h1.3v1.3h-1.3zM359.1 419.4h1.3v1.3h-1.3zM348.6 413.6h1.3v1.3h-1.3zM349.0 417.8h1.3v1.3h-1.3zM385.3 405.7h1.3v1.3h-1.3zM365.0 408.7h1.3v1.3h-1.3zM384.6 402.8h1.3v1.3h-1.3zM364.9 423.2h1.3v1.3h-1.3zM347.5 426.1h1.3v1.3h-1.3zM371.4 406.3h1.3v1.3h-1.3zM383.2 405.0h1.3v1.3h-1.3zM350.2 409.3h1.3v1.3h-1.3zM370.9 407.5h1.3v1.3h-1.3zM369.4 425.9h1.3v1.3h-1.3zM383.4 405.9h1.3v1.3h-1.3zM370.0 405.3h1.3v1.3h-1.3zM341.4 429.9h1.3v1.3h-1.3zM356.9 417.8h1.3v1.3h-1.3zM394.2 409.1h1.3v1.3h-1.3zM362.3 411.5h1.3v1.3h-1.3zM375.1 412.2h1.3v1.3h-1.3zM386.6 400.7h1.3v1.3h-1.3zM362.1 412.8h1.3v1.3h-1.3zM401.6 393.3h1.3v1.3h-1.3zM361.6 406.6h1.3v1.3h-1.3zM361.4 424.9h1.3v1.3h-1.3zM370.1 409.0h1.3v1.3h-1.3zM391.9 405.2h1.3v1.3h-1.3zM359.9 414.1h1.3v1.3h-1.3zM377.9 410.6h1.3v1.3h-1.3zM374.1 401.4h1.3v1.3h-1.3zM386.1 404.1h1.3v1.3h-1.3zM338.8 421.6h1.3v1.3h-1.3zM379.1 406.6h1.3v1.3h-1.3zM333.1 428.8h1.3v1.3h-1.3zM393.9 398.1h1.3v1.3h-1.3zM368.3 403.0h1.3v1.3h-1.3zM381.8 409.4h1.3v1.3h-1.3zM401.7 402.2h1.3v1.3h-1.3zM379.1 396.2h1.3v1.3h-1.3zM354.8 411.1h1.3v1.3h-1.3zM301.4 427.0h1.3v1.3h-1.3zM376.3 414.1h1.3v1.3h-1.3zM387.9 400.2h1.3v1.3h-1.3zM389.5 401.4h1.3v1.3h-1.3zM362.7 414.7h1.3v1.3h-1.3zM363.1 411.6h1.3v1.3h-1.3zM361.1 415.0h1.3v1.3h-1.3zM373.8 399.2h1.3v1.3h-1.3zM350.6 412.1h1.3v1.3h-1.3zM364.8 411.3h1.3v1.3h-1.3zM389.0 399.5h1.3v1.3h-1.3zM358.5 412.5h1.3v1.3h-1.3zM348.1 420.3h1.3v1.3h-1.3zM368.6 407.1h1.3v1.3h-1.3zM395.1 407.6h1.3v1.3h-1.3zM373.4 403.2h1.3v1.3h-1.3zM380.0 407.4h1.3v1.3h-1.3zM366.1 414.1h1.3v1.3h-1.3zM340.6 426.1h1.3v1.3h-1.3zM373.9 416.7h1.3v1.3h-1.3zM341.7 418.8h1.3v1.3h-1.3zM331.1 424.7h1.3v1.3h-1.3zM339.2 424.9h1.3v1.3h-1.3zM353.5 396.7h1.3v1.3h-1.3zM353.5 412.8h1.3v1.3h-1.3zM350.8 409.6h1.3v1.3h-1.3zM387.8 397.3h1.3v1.3h-1.3zM379.0 410.1h1.3v1.3h-1.3zM397.5 390.1h1.3v1.3h-1.3zM364.9 413.8h1.3v1.3h-1.3zM403.4 388.6h1.3v1.3h-1.3zM358.0 410.4h1.3v1.3h-1.3zM354.6 414.4h1.3v1.3h-1.3zM377.9 406.6h1.3v1.3h-1.3zM334.7 411.9h1.3v1.3h-1.3zM382.5 396.8h1.3v1.3h-1.3zM379.5 408.6h1.3v1.3h-1.3zM330.8 424.3h1.3v1.3h-1.3zM367.9 404.5h1.3v1.3h-1.3zM350.6 419.2h1.3v1.3h-1.3zM342.3 431.3h1.3v1.3h-1.3zM337.6 430.3h1.3v1.3h-1.3zM363.9 408.6h1.3v1.3h-1.3zM373.1 411.5h1.3v1.3h-1.3zM398.1 407.4h1.3v1.3h-1.3zM401.1 398.3h1.3v1.3h-1.3zM327.5 421.1h1.3v1.3h-1.3zM334.7 417.3h1.3v1.3h-1.3zM382.2 396.7h1.3v1.3h-1.3zM368.4 412.3h1.3v1.3h-1.3zM351.2 412.9h1.3v1.3h-1.3zM388.6 401.8h1.3v1.3h-1.3zM421.2 392.7h1.3v1.3h-1.3zM367.1 405.4h1.3v1.3h-1.3zM341.1 421.7h1.3v1.3h-1.3zM345.2 419.3h1.3v1.3h-1.3zM366.3 424.1h1.3v1.3h-1.3zM360.5 422.9h1.3v1.3h-1.3zM357.7 418.6h1.3v1.3h-1.3zM407.1 404.5h1.3v1.3h-1.3zM389.0 407.0h1.3v1.3h-1.3zM350.3 420.0h1.3v1.3h-1.3zM385.1 398.7h1.3v1.3h-1.3zM376.5 410.0h1.3v1.3h-1.3zM358.2 412.2h1.3v1.3h-1.3zM385.8 409.6h1.3v1.3h-1.3zM365.7 403.0h1.3v1.3h-1.3zM386.6 401.1h1.3v1.3h-1.3zM359.0 410.4h1.3v1.3h-1.3zM364.5 409.8h1.3v1.3h-1.3zM382.5 396.8h1.3v1.3h-1.3zM359.7 416.2h1.3v1.3h-1.3zM363.7 415.7h1.3v1.3h-1.3zM355.3 414.2h1.3v1.3h-1.3zM374.5 398.6h1.3v1.3h-1.3zM367.6 411.5h1.3v1.3h-1.3zM374.7 411.0h1.3v1.3h-1.3zM381.0 403.3h1.3v1.3h-1.3zM359.6 418.1h1.3v1.3h-1.3zM365.5 408.9h1.3v1.3h-1.3zM364.8 422.4h1.3v1.3h-1.3zM325.0 438.3h1.3v1.3h-1.3zM397.4 395.9h1.3v1.3h-1.3zM386.8 396.3h1.3v1.3h-1.3zM394.4 406.5h1.3v1.3h-1.3zM341.2 414.5h1.3v1.3h-1.3zM396.9 396.2h1.3v1.3h-1.3zM369.7 403.9h1.3v1.3h-1.3zM361.9 427.6h1.3v1.3h-1.3zM382.3 400.8h1.3v1.3h-1.3zM367.9 409.3h1.3v1.3h-1.3zM366.0 412.5h1.3v1.3h-1.3zM374.6 414.4h1.3v1.3h-1.3zM355.0 415.7h1.3v1.3h-1.3zM339.0 419.9h1.3v1.3h-1.3zM382.0 406.1h1.3v1.3h-1.3zM376.3 402.0h1.3v1.3h-1.3zM393.4 401.0h1.3v1.3h-1.3zM352.3 418.6h1.3v1.3h-1.3zM328.1 421.8h1.3v1.3h-1.3zM357.0 409.1h1.3v1.3h-1.3zM348.9 413.7h1.3v1.3h-1.3zM366.0 404.0h1.3v1.3h-1.3zM366.8 410.4h1.3v1.3h-1.3zM366.7 410.6h1.3v1.3h-1.3zM350.5 415.3h1.3v1.3h-1.3zM361.8 403.9h1.3v1.3h-1.3zM341.0 420.6h1.3v1.3h-1.3zM382.6 402.7h1.3v1.3h-1.3zM367.4 402.5h1.3v1.3h-1.3zM344.0 419.0h1.3v1.3h-1.3zM389.2 403.9h1.3v1.3h-1.3zM365.9 393.2h1.3v1.3h-1.3zM403.8 388.7h1.3v1.3h-1.3zM336.1 425.6h1.3v1.3h-1.3zM354.8 407.6h1.3v1.3h-1.3zM352.5 407.5h1.3v1.3h-1.3zM356.0 417.0h1.3v1.3h-1.3zM374.7 410.1h1.3v1.3h-1.3zM360.8 414.3h1.3v1.3h-1.3zM373.1 400.0h1.3v1.3h-1.3zM386.5 395.2h1.3v1.3h-1.3zM399.4 407.1h1.3v1.3h-1.3zM383.0 398.2h1.3v1.3h-1.3zM392.5 403.6h1.3v1.3h-1.3zM346.5 414.7h1.3v1.3h-1.3zM357.6 411.0h1.3v1.3h-1.3zM365.9 399.4h1.3v1.3h-1.3zM383.6 407.8h1.3v1.3h-1.3zM363.7 411.4h1.3v1.3h-1.3zM378.5 399.3h1.3v1.3h-1.3zM376.3 413.3h1.3v1.3h-1.3zM369.2 409.3h1.3v1.3h-1.3zM383.9 408.1h1.3v1.3h-1.3zM349.5 412.2h1.3v1.3h-1.3zM359.1 410.8h1.3v1.3h-1.3zM357.4 414.9h1.3v1.3h-1.3zM341.3 412.1h1.3v1.3h-1.3zM384.2 417.0h1.3v1.3h-1.3zM348.7 419.6h1.3v1.3h-1.3zM412.5 391.0h1.3v1.3h-1.3zM381.1 420.1h1.3v1.3h-1.3zM350.7 412.8h1.3v1.3h-1.3zM384.9 406.6h1.3v1.3h-1.3zM383.8 400.8h1.3v1.3h-1.3zM369.4 399.5h1.3v1.3h-1.3zM378.3 407.0h1.3v1.3h-1.3zM373.1 408.7h1.3v1.3h-1.3zM409.9 399.6h1.3v1.3h-1.3zM367.9 403.9h1.3v1.3h-1.3zM336.4 426.0h1.3v1.3h-1.3zM381.7 409.1h1.3v1.3h-1.3zM341.6 412.8h1.3v1.3h-1.3zM365.7 410.6h1.3v1.3h-1.3zM364.8 413.3h1.3v1.3h-1.3zM350.4 416.5h1.3v1.3h-1.3zM362.1 410.4h1.3v1.3h-1.3zM377.0 405.9h1.3v1.3h-1.3zM396.5 401.8h1.3v1.3h-1.3zM364.6 416.2h1.3v1.3h-1.3zM387.6 414.5h1.3v1.3h-1.3zM399.5 388.5h1.3v1.3h-1.3zM376.0 400.7h1.3v1.3h-1.3zM404.9 402.2h1.3v1.3h-1.3zM378.8 399.3h1.3v1.3h-1.3zM388.0 398.3h1.3v1.3h-1.3zM356.3 405.2h1.3v1.3h-1.3zM394.4 403.6h1.3v1.3h-1.3zM384.6 420.6h1.3v1.3h-1.3zM375.3 404.8h1.3v1.3h-1.3zM363.0 406.4h1.3v1.3h-1.3zM408.5 401.2h1.3v1.3h-1.3zM412.1 392.8h1.3v1.3h-1.3zM328.2 421.4h1.3v1.3h-1.3zM372.3 414.9h1.3v1.3h-1.3zM374.7 402.4h1.3v1.3h-1.3zM336.7 417.7h1.3v1.3h-1.3zM354.0 421.6h1.3v1.3h-1.3zM359.9 411.0h1.3v1.3h-1.3zM355.8 409.1h1.3v1.3h-1.3zM373.6 399.6h1.3v1.3h-1.3zM350.7 421.9h1.3v1.3h-1.3zM376.7 405.5h1.3v1.3h-1.3zM383.4 409.9h1.3v1.3h-1.3zM399.5 399.5h1.3v1.3h-1.3zM369.4 411.3h1.3v1.3h-1.3zM389.9 394.9h1.3v1.3h-1.3zM379.8 396.4h1.3v1.3h-1.3zM373.1 406.3h1.3v1.3h-1.3zM367.6 403.8h1.3v1.3h-1.3zM363.4 409.1h1.3v1.3h-1.3zM403.9 392.6h1.3v1.3h-1.3zM382.3 394.5h1.3v1.3h-1.3zM325.0 422.7h1.3v1.3h-1.3zM373.3 415.7h1.3v1.3h-1.3zM379.0 400.0h1.3v1.3h-1.3zM362.0 413.2h1.3v1.3h-1.3zM381.9 403.9h1.3v1.3h-1.3zM353.5 416.0h1.3v1.3h-1.3zM396.3 395.4h1.3v1.3h-1.3zM379.4 413.8h1.3v1.3h-1.3zM346.8 423.2h1.3v1.3h-1.3zM369.8 419.7h1.3v1.3h-1.3zM380.8 401.9h1.3v1.3h-1.3zM389.5 397.1h1.3v1.3h-1.3zM338.2 419.8h1.3v1.3h-1.3zM358.2 405.0h1.3v1.3h-1.3zM386.7 406.0h1.3v1.3h-1.3zM366.3 408.7h1.3v1.3h-1.3zM379.2 404.8h1.3v1.3h-1.3zM370.4 410.4h1.3v1.3h-1.3zM385.0 400.7h1.3v1.3h-1.3zM360.0 417.4h1.3v1.3h-1.3zM376.3 403.2h1.3v1.3h-1.3zM369.8 399.3h1.3v1.3h-1.3zM358.5 416.4h1.3v1.3h-1.3zM349.1 422.6h1.3v1.3h-1.3zM357.3 420.5h1.3v1.3h-1.3zM395.7 389.1h1.3v1.3h-1.3zM334.3 420.7h1.3v1.3h-1.3zM349.4 415.4h1.3v1.3h-1.3zM399.4 391.4h1.3v1.3h-1.3zM351.2 417.4h1.3v1.3h-1.3zM381.8 399.5h1.3v1.3h-1.3zM365.1 413.6h1.3v1.3h-1.3zM407.5 395.4h1.3v1.3h-1.3zM411.2 399.4h1.3v1.3h-1.3zM398.1 397.0h1.3v1.3h-1.3zM381.9 403.4h1.3v1.3h-1.3zM379.6 412.6h1.3v1.3h-1.3zM348.2 419.0h1.3v1.3h-1.3zM361.6 410.4h1.3v1.3h-1.3zM392.1 392.2h1.3v1.3h-1.3zM368.5 413.3h1.3v1.3h-1.3zM365.8 415.9h1.3v1.3h-1.3zM371.6 414.6h1.3v1.3h-1.3zM365.5 394.1h1.3v1.3h-1.3zM346.3 420.8h1.3v1.3h-1.3zM378.9 407.2h1.3v1.3h-1.3zM374.9 416.8h1.3v1.3h-1.3zM328.4 420.8h1.3v1.3h-1.3zM415.8 398.1h1.3v1.3h-1.3zM351.5 418.6h1.3v1.3h-1.3zM378.7 401.3h1.3v1.3h-1.3zM351.3 406.6h1.3v1.3h-1.3zM341.9 419.5h1.3v1.3h-1.3zM387.3 405.2h1.3v1.3h-1.3zM389.9 390.5h1.3v1.3h-1.3zM338.0 421.4h1.3v1.3h-1.3zM364.5 404.1h1.3v1.3h-1.3zM378.7 411.8h1.3v1.3h-1.3zM357.0 417.2h1.3v1.3h-1.3zM364.1 418.5h1.3v1.3h-1.3zM363.7 407.4h1.3v1.3h-1.3zM379.8 403.9h1.3v1.3h-1.3zM324.6 428.4h1.3v1.3h-1.3zM304.4 440.1h1.3v1.3h-1.3zM368.0 413.6h1.3v1.3h-1.3zM386.3 406.6h1.3v1.3h-1.3zM413.5 385.6h1.3v1.3h-1.3zM323.4 422.4h1.3v1.3h-1.3zM388.2 392.0h1.3v1.3h-1.3zM368.8 403.7h1.3v1.3h-1.3zM344.5 413.1h1.3v1.3h-1.3zM388.9 402.4h1.3v1.3h-1.3zM360.4 420.9h1.3v1.3h-1.3zM322.1 420.1h1.3v1.3h-1.3zM365.7 408.9h1.3v1.3h-1.3zM350.0 417.2h1.3v1.3h-1.3zM378.2 411.4h1.3v1.3h-1.3zM357.1 410.0h1.3v1.3h-1.3zM394.2 389.9h1.3v1.3h-1.3zM375.8 413.8h1.3v1.3h-1.3zM395.5 394.3h1.3v1.3h-1.3zM371.5 404.0h1.3v1.3h-1.3zM366.8 403.0h1.3v1.3h-1.3zM358.3 409.1h1.3v1.3h-1.3zM351.2 433.1h1.3v1.3h-1.3zM364.2 408.6h1.3v1.3h-1.3zM372.2 406.3h1.3v1.3h-1.3zM393.4 400.3h1.3v1.3h-1.3zM347.6 429.9h1.3v1.3h-1.3zM363.4 403.5h1.3v1.3h-1.3zM399.4 403.2h1.3v1.3h-1.3zM334.6 430.8h1.3v1.3h-1.3zM356.6 414.4h1.3v1.3h-1.3zM341.1 426.9h1.3v1.3h-1.3zM349.1 424.9h1.3v1.3h-1.3zM355.9 418.8h1.3v1.3h-1.3zM390.2 396.4h1.3v1.3h-1.3zM356.0 422.0h1.3v1.3h-1.3zM375.9 416.9h1.3v1.3h-1.3zM336.7 426.8h1.3v1.3h-1.3zM344.5 419.7h1.3v1.3h-1.3zM373.5 417.9h1.3v1.3h-1.3zM402.8 398.4h1.3v1.3h-1.3zM334.6 430.9h1.3v1.3h-1.3zM389.7 395.3h1.3v1.3h-1.3zM375.9 402.0h1.3v1.3h-1.3zM340.2 418.9h1.3v1.3h-1.3zM347.5 411.7h1.3v1.3h-1.3zM356.1 412.5h1.3v1.3h-1.3zM380.8 402.6h1.3v1.3h-1.3zM350.6 410.2h1.3v1.3h-1.3zM361.7 406.2h1.3v1.3h-1.3zM377.5 411.5h1.3v1.3h-1.3zM381.5 399.3h1.3v1.3h-1.3zM373.1 410.1h1.3v1.3h-1.3zM380.1 391.8h1.3v1.3h-1.3zM339.1 417.7h1.3v1.3h-1.3zM382.2 399.1h1.3v1.3h-1.3zM357.7 401.7h1.3v1.3h-1.3zM381.3 412.2h1.3v1.3h-1.3zM412.2 387.3h1.3v1.3h-1.3zM454.9 392.5h1.3v1.3h-1.3zM406.4 403.8h1.3v1.3h-1.3zM395.4 410.9h1.3v1.3h-1.3zM393.2 401.5h1.3v1.3h-1.3zM415.8 401.2h1.3v1.3h-1.3zM407.6 401.8h1.3v1.3h-1.3zM435.0 399.1h1.3v1.3h-1.3zM416.8 385.5h1.3v1.3h-1.3zM408.1 408.9h1.3v1.3h-1.3zM467.4 394.7h1.3v1.3h-1.3zM423.7 400.6h1.3v1.3h-1.3zM428.3 396.9h1.3v1.3h-1.3zM429.0 397.4h1.3v1.3h-1.3zM406.1 418.9h1.3v1.3h-1.3zM414.2 398.4h1.3v1.3h-1.3zM486.9 396.4h1.3v1.3h-1.3zM380.6 397.3h1.3v1.3h-1.3zM383.9 402.8h1.3v1.3h-1.3zM443.2 401.0h1.3v1.3h-1.3zM466.8 406.6h1.3v1.3h-1.3zM451.7 414.2h1.3v1.3h-1.3zM402.6 402.4h1.3v1.3h-1.3zM393.0 411.2h1.3v1.3h-1.3zM410.9 400.5h1.3v1.3h-1.3zM381.4 412.5h1.3v1.3h-1.3zM475.3 416.7h1.3v1.3h-1.3zM426.3 398.7h1.3v1.3h-1.3zM393.2 405.8h1.3v1.3h-1.3zM431.1 404.2h1.3v1.3h-1.3zM394.7 404.4h1.3v1.3h-1.3zM463.8 399.7h1.3v1.3h-1.3zM384.5 409.3h1.3v1.3h-1.3zM410.7 414.4h1.3v1.3h-1.3zM428.4 397.3h1.3v1.3h-1.3zM468.4 408.5h1.3v1.3h-1.3zM395.9 390.2h1.3v1.3h-1.3zM440.9 388.3h1.3v1.3h-1.3zM423.8 389.9h1.3v1.3h-1.3zM394.8 409.4h1.3v1.3h-1.3zM404.2 402.1h1.3v1.3h-1.3zM388.8 401.2h1.3v1.3h-1.3zM505.5 407.3h1.3v1.3h-1.3zM430.8 410.3h1.3v1.3h-1.3zM410.4 399.3h1.3v1.3h-1.3zM445.0 413.7h1.3v1.3h-1.3zM380.8 418.0h1.3v1.3h-1.3zM473.0 390.4h1.3v1.3h-1.3zM396.5 393.2h1.3v1.3h-1.3zM383.5 406.2h1.3v1.3h-1.3zM419.4 416.2h1.3v1.3h-1.3zM394.6 399.1h1.3v1.3h-1.3zM423.7 397.1h1.3v1.3h-1.3zM404.0 409.5h1.3v1.3h-1.3zM396.8 429.6h1.3v1.3h-1.3zM390.8 408.7h1.3v1.3h-1.3zM449.3 417.4h1.3v1.3h-1.3zM410.3 399.6h1.3v1.3h-1.3zM407.4 396.5h1.3v1.3h-1.3zM433.7 401.6h1.3v1.3h-1.3zM421.6 402.1h1.3v1.3h-1.3zM452.6 410.3h1.3v1.3h-1.3zM414.4 393.4h1.3v1.3h-1.3zM472.2 391.1h1.3v1.3h-1.3zM421.7 401.6h1.3v1.3h-1.3zM398.6 395.6h1.3v1.3h-1.3zM394.8 398.7h1.3v1.3h-1.3zM402.4 398.7h1.3v1.3h-1.3zM394.9 395.3h1.3v1.3h-1.3zM399.2 408.7h1.3v1.3h-1.3zM408.6 406.9h1.3v1.3h-1.3zM402.3 402.8h1.3v1.3h-1.3zM415.8 394.5h1.3v1.3h-1.3zM423.3 391.2h1.3v1.3h-1.3zM450.5 405.9h1.3v1.3h-1.3zM437.0 398.7h1.3v1.3h-1.3zM403.5 391.0h1.3v1.3h-1.3zM437.0 387.0h1.3v1.3h-1.3zM429.3 385.1h1.3v1.3h-1.3zM384.1 390.6h1.3v1.3h-1.3zM439.6 398.4h1.3v1.3h-1.3zM471.1 382.6h1.3v1.3h-1.3zM379.5 411.7h1.3v1.3h-1.3zM409.3 417.1h1.3v1.3h-1.3zM382.8 405.4h1.3v1.3h-1.3zM450.9 387.4h1.3v1.3h-1.3zM380.7 396.1h1.3v1.3h-1.3zM416.0 394.9h1.3v1.3h-1.3zM438.9 409.3h1.3v1.3h-1.3zM411.9 405.5h1.3v1.3h-1.3zM393.4 403.6h1.3v1.3h-1.3zM403.8 393.8h1.3v1.3h-1.3zM408.7 418.4h1.3v1.3h-1.3zM485.1 376.0h1.3v1.3h-1.3zM428.8 411.8h1.3v1.3h-1.3zM399.0 409.2h1.3v1.3h-1.3zM471.2 394.5h1.3v1.3h-1.3zM399.5 416.8h1.3v1.3h-1.3zM389.9 397.3h1.3v1.3h-1.3zM391.7 383.9h1.3v1.3h-1.3zM399.1 402.1h1.3v1.3h-1.3zM407.7 407.0h1.3v1.3h-1.3zM405.3 385.4h1.3v1.3h-1.3zM384.6 404.5h1.3v1.3h-1.3zM429.4 398.5h1.3v1.3h-1.3zM379.8 411.0h1.3v1.3h-1.3zM421.1 400.2h1.3v1.3h-1.3zM457.8 406.6h1.3v1.3h-1.3zM422.2 397.8h1.3v1.3h-1.3zM444.0 401.2h1.3v1.3h-1.3zM384.7 406.0h1.3v1.3h-1.3zM406.9 400.9h1.3v1.3h-1.3zM397.8 404.9h1.3v1.3h-1.3zM411.9 398.1h1.3v1.3h-1.3zM396.9 418.9h1.3v1.3h-1.3zM420.8 393.8h1.3v1.3h-1.3zM397.5 408.2h1.3v1.3h-1.3zM459.4 392.2h1.3v1.3h-1.3zM393.6 381.9h1.3v1.3h-1.3zM399.0 413.3h1.3v1.3h-1.3zM408.6 406.5h1.3v1.3h-1.3zM444.6 414.8h1.3v1.3h-1.3zM409.2 404.5h1.3v1.3h-1.3zM433.7 379.6h1.3v1.3h-1.3zM429.4 413.2h1.3v1.3h-1.3zM425.1 400.3h1.3v1.3h-1.3zM418.8 397.9h1.3v1.3h-1.3zM384.1 405.4h1.3v1.3h-1.3zM492.2 386.6h1.3v1.3h-1.3zM388.7 407.8h1.3v1.3h-1.3zM435.8 404.1h1.3v1.3h-1.3zM416.9 411.1h1.3v1.3h-1.3zM454.6 402.1h1.3v1.3h-1.3zM426.3 407.0h1.3v1.3h-1.3zM480.9 397.1h1.3v1.3h-1.3zM439.4 386.8h1.3v1.3h-1.3zM461.4 374.9h1.3v1.3h-1.3zM385.1 420.2h1.3v1.3h-1.3zM421.6 409.5h1.3v1.3h-1.3zM423.3 407.1h1.3v1.3h-1.3zM403.3 382.9h1.3v1.3h-1.3zM405.3 399.9h1.3v1.3h-1.3zM441.8 409.8h1.3v1.3h-1.3zM433.9 382.5h1.3v1.3h-1.3zM432.9 397.4h1.3v1.3h-1.3zM383.4 389.5h1.3v1.3h-1.3zM385.1 400.1h1.3v1.3h-1.3zM381.9 409.5h1.3v1.3h-1.3zM380.5 402.6h1.3v1.3h-1.3zM443.7 409.7h1.3v1.3h-1.3zM440.5 392.1h1.3v1.3h-1.3zM398.9 408.4h1.3v1.3h-1.3zM415.8 401.8h1.3v1.3h-1.3zM434.4 390.7h1.3v1.3h-1.3zM412.1 400.0h1.3v1.3h-1.3zM398.0 401.6h1.3v1.3h-1.3zM393.5 416.8h1.3v1.3h-1.3zM420.8 413.3h1.3v1.3h-1.3zM405.5 408.0h1.3v1.3h-1.3zM477.9 392.2h1.3v1.3h-1.3zM439.9 395.0h1.3v1.3h-1.3zM391.9 401.3h1.3v1.3h-1.3zM404.3 400.7h1.3v1.3h-1.3zM474.3 403.2h1.3v1.3h-1.3zM403.1 390.9h1.3v1.3h-1.3zM422.5 397.8h1.3v1.3h-1.3zM435.9 401.3h1.3v1.3h-1.3zM410.7 407.8h1.3v1.3h-1.3zM425.2 400.9h1.3v1.3h-1.3zM460.6 390.3h1.3v1.3h-1.3zM381.8 389.4h1.3v1.3h-1.3zM388.0 417.1h1.3v1.3h-1.3zM421.6 400.5h1.3v1.3h-1.3zM411.3 416.8h1.3v1.3h-1.3zM389.0 405.9h1.3v1.3h-1.3zM395.6 391.0h1.3v1.3h-1.3zM423.0 406.0h1.3v1.3h-1.3zM460.1 404.1h1.3v1.3h-1.3zM400.9 399.1h1.3v1.3h-1.3zM437.1 383.3h1.3v1.3h-1.3zM422.9 402.9h1.3v1.3h-1.3zM403.7 388.9h1.3v1.3h-1.3zM403.1 402.9h1.3v1.3h-1.3zM404.6 397.9h1.3v1.3h-1.3zM379.4 409.5h1.3v1.3h-1.3zM458.4 404.5h1.3v1.3h-1.3zM410.9 389.6h1.3v1.3h-1.3zM438.3 367.1h1.3v1.3h-1.3zM416.6 398.3h1.3v1.3h-1.3zM404.7 395.1h1.3v1.3h-1.3zM429.1 402.4h1.3v1.3h-1.3zM405.4 414.4h1.3v1.3h-1.3zM410.3 400.8h1.3v1.3h-1.3zM380.6 401.8h1.3v1.3h-1.3zM423.2 401.5h1.3v1.3h-1.3zM408.5 411.7h1.3v1.3h-1.3zM397.7 400.6h1.3v1.3h-1.3zM411.2 402.8h1.3v1.3h-1.3zM421.1 404.8h1.3v1.3h-1.3zM427.4 408.8h1.3v1.3h-1.3zM417.4 392.3h1.3v1.3h-1.3zM398.6 412.3h1.3v1.3h-1.3zM393.6 404.4h1.3v1.3h-1.3zM427.7 389.9h1.3v1.3h-1.3zM400.9 401.2h1.3v1.3h-1.3zM402.4 392.3h1.3v1.3h-1.3zM405.1 418.0h1.3v1.3h-1.3zM410.3 409.9h1.3v1.3h-1.3zM412.7 398.4h1.3v1.3h-1.3zM392.3 398.6h1.3v1.3h-1.3zM407.5 398.4h1.3v1.3h-1.3zM417.9 404.2h1.3v1.3h-1.3zM387.5 387.2h1.3v1.3h-1.3zM427.4 399.0h1.3v1.3h-1.3zM406.1 397.6h1.3v1.3h-1.3zM436.6 397.2h1.3v1.3h-1.3zM403.9 400.1h1.3v1.3h-1.3zM402.8 407.1h1.3v1.3h-1.3zM448.7 399.8h1.3v1.3h-1.3zM418.1 412.6h1.3v1.3h-1.3zM434.2 416.0h1.3v1.3h-1.3zM395.3 431.2h1.3v1.3h-1.3zM399.7 410.3h1.3v1.3h-1.3zM475.3 402.4h1.3v1.3h-1.3zM388.0 410.0h1.3v1.3h-1.3zM383.1 415.6h1.3v1.3h-1.3zM399.2 384.6h1.3v1.3h-1.3zM418.5 412.6h1.3v1.3h-1.3zM411.6 413.0h1.3v1.3h-1.3zM409.4 409.1h1.3v1.3h-1.3zM421.0 391.3h1.3v1.3h-1.3zM400.0 403.5h1.3v1.3h-1.3zM439.6 405.4h1.3v1.3h-1.3zM441.4 391.8h1.3v1.3h-1.3zM384.3 404.0h1.3v1.3h-1.3zM388.5 398.8h1.3v1.3h-1.3zM467.0 378.1h1.3v1.3h-1.3zM438.6 388.0h1.3v1.3h-1.3zM401.9 401.8h1.3v1.3h-1.3zM446.5 415.3h1.3v1.3h-1.3zM443.6 400.1h1.3v1.3h-1.3zM384.5 406.2h1.3v1.3h-1.3zM384.2 410.9h1.3v1.3h-1.3zM386.9 401.7h1.3v1.3h-1.3zM409.1 401.0h1.3v1.3h-1.3zM396.3 402.2h1.3v1.3h-1.3zM445.4 403.5h1.3v1.3h-1.3zM426.7 408.3h1.3v1.3h-1.3zM384.7 401.9h1.3v1.3h-1.3zM411.7 401.3h1.3v1.3h-1.3zM458.3 407.6h1.3v1.3h-1.3zM393.4 406.0h1.3v1.3h-1.3zM408.7 416.1h1.3v1.3h-1.3zM387.7 416.1h1.3v1.3h-1.3zM399.4 409.5h1.3v1.3h-1.3zM452.0 404.2h1.3v1.3h-1.3zM403.4 390.7h1.3v1.3h-1.3zM448.6 423.2h1.3v1.3h-1.3zM427.5 378.2h1.3v1.3h-1.3zM405.3 391.0h1.3v1.3h-1.3zM387.0 395.3h1.3v1.3h-1.3zM407.6 388.3h1.3v1.3h-1.3zM432.6 407.3h1.3v1.3h-1.3zM394.0 403.8h1.3v1.3h-1.3zM480.1 386.8h1.3v1.3h-1.3zM454.2 401.7h1.3v1.3h-1.3zM407.9 389.5h1.3v1.3h-1.3zM379.5 416.1h1.3v1.3h-1.3zM481.6 408.2h1.3v1.3h-1.3zM434.8 411.3h1.3v1.3h-1.3zM382.9 410.7h1.3v1.3h-1.3zM398.3 384.7h1.3v1.3h-1.3zM451.5 401.7h1.3v1.3h-1.3zM423.7 394.5h1.3v1.3h-1.3zM407.6 404.3h1.3v1.3h-1.3zM420.5 403.0h1.3v1.3h-1.3zM398.0 409.9h1.3v1.3h-1.3zM404.6 403.1h1.3v1.3h-1.3zM397.4 408.5h1.3v1.3h-1.3zM381.4 415.3h1.3v1.3h-1.3zM412.3 400.7h1.3v1.3h-1.3zM385.3 404.2h1.3v1.3h-1.3zM391.6 404.6h1.3v1.3h-1.3zM395.8 397.4h1.3v1.3h-1.3zM407.9 389.0h1.3v1.3h-1.3zM422.0 392.1h1.3v1.3h-1.3zM415.4 388.1h1.3v1.3h-1.3zM396.5 396.8h1.3v1.3h-1.3zM380.2 415.8h1.3v1.3h-1.3zM448.9 408.0h1.3v1.3h-1.3zM383.8 394.0h1.3v1.3h-1.3zM421.0 409.3h1.3v1.3h-1.3zM401.8 414.4h1.3v1.3h-1.3zM419.6 388.5h1.3v1.3h-1.3zM387.4 411.4h1.3v1.3h-1.3zM414.1 400.0h1.3v1.3h-1.3zM385.9 412.6h1.3v1.3h-1.3zM478.6 383.4h1.3v1.3h-1.3zM444.9 410.1h1.3v1.3h-1.3zM402.4 413.2h1.3v1.3h-1.3zM421.7 400.4h1.3v1.3h-1.3zM381.5 402.8h1.3v1.3h-1.3zM444.9 403.4h1.3v1.3h-1.3zM458.0 419.3h1.3v1.3h-1.3zM401.7 422.5h1.3v1.3h-1.3zM381.9 425.2h1.3v1.3h-1.3zM396.1 395.4h1.3v1.3h-1.3zM446.4 419.9h1.3v1.3h-1.3zM415.6 415.4h1.3v1.3h-1.3zM386.2 372.1h1.3v1.3h-1.3zM425.8 387.7h1.3v1.3h-1.3zM386.8 394.6h1.3v1.3h-1.3zM410.1 406.7h1.3v1.3h-1.3zM380.4 388.7h1.3v1.3h-1.3zM469.5 415.0h1.3v1.3h-1.3zM473.6 391.9h1.3v1.3h-1.3zM411.9 405.9h1.3v1.3h-1.3zM447.6 409.0h1.3v1.3h-1.3zM425.1 400.7h1.3v1.3h-1.3zM383.9 413.1h1.3v1.3h-1.3zM399.1 409.9h1.3v1.3h-1.3zM433.7 410.9h1.3v1.3h-1.3zM419.3 407.3h1.3v1.3h-1.3zM399.7 408.7h1.3v1.3h-1.3zM446.3 394.1h1.3v1.3h-1.3zM449.4 398.6h1.3v1.3h-1.3zM403.5 386.9h1.3v1.3h-1.3zM386.3 408.1h1.3v1.3h-1.3zM449.4 396.2h1.3v1.3h-1.3zM411.8 398.0h1.3v1.3h-1.3zM469.2 394.6h1.3v1.3h-1.3zM403.4 405.4h1.3v1.3h-1.3zM424.4 403.5h1.3v1.3h-1.3zM403.4 390.1h1.3v1.3h-1.3zM383.0 409.8h1.3v1.3h-1.3zM388.7 408.8h1.3v1.3h-1.3zM433.3 390.7h1.3v1.3h-1.3zM317.6 403.1h1.3v1.3h-1.3zM333.1 424.5h1.3v1.3h-1.3zM347.3 414.6h1.3v1.3h-1.3zM334.2 405.9h1.3v1.3h-1.3zM329.4 424.1h1.3v1.3h-1.3zM345.4 409.7h1.3v1.3h-1.3zM338.9 417.4h1.3v1.3h-1.3zM337.6 416.5h1.3v1.3h-1.3zM322.3 421.9h1.3v1.3h-1.3zM323.9 408.4h1.3v1.3h-1.3zM328.9 426.9h1.3v1.3h-1.3zM312.6 421.5h1.3v1.3h-1.3zM317.6 419.6h1.3v1.3h-1.3zM338.3 415.1h1.3v1.3h-1.3zM342.2 411.6h1.3v1.3h-1.3zM312.1 419.8h1.3v1.3h-1.3zM332.8 415.7h1.3v1.3h-1.3zM344.1 405.1h1.3v1.3h-1.3zM331.2 405.2h1.3v1.3h-1.3zM336.7 419.8h1.3v1.3h-1.3zM336.2 407.2h1.3v1.3h-1.3zM347.1 415.1h1.3v1.3h-1.3zM309.2 409.1h1.3v1.3h-1.3zM327.9 414.7h1.3v1.3h-1.3zM336.9 415.6h1.3v1.3h-1.3zM318.5 414.5h1.3v1.3h-1.3zM335.6 412.8h1.3v1.3h-1.3zM344.4 415.9h1.3v1.3h-1.3zM332.4 422.0h1.3v1.3h-1.3zM329.6 409.5h1.3v1.3h-1.3zM345.4 421.8h1.3v1.3h-1.3zM320.8 419.5h1.3v1.3h-1.3zM347.4 418.8h1.3v1.3h-1.3zM336.9 409.0h1.3v1.3h-1.3zM342.5 425.6h1.3v1.3h-1.3zM339.1 395.4h1.3v1.3h-1.3zM338.8 419.2h1.3v1.3h-1.3zM328.2 424.3h1.3v1.3h-1.3zM343.4 414.8h1.3v1.3h-1.3zM339.9 408.5h1.3v1.3h-1.3zM339.4 407.2h1.3v1.3h-1.3zM339.6 407.3h1.3v1.3h-1.3zM302.3 420.9h1.3v1.3h-1.3zM332.0 401.3h1.3v1.3h-1.3zM325.5 414.7h1.3v1.3h-1.3zM341.3 415.5h1.3v1.3h-1.3zM289.1 406.8h1.3v1.3h-1.3zM343.5 423.9h1.3v1.3h-1.3zM330.0 415.3h1.3v1.3h-1.3zM335.0 411.2h1.3v1.3h-1.3zM414.8 392.6h1.3v1.3h-1.3zM429.6 378.4h1.3v1.3h-1.3zM412.5 391.0h1.3v1.3h-1.3zM368.2 393.9h1.3v1.3h-1.3zM404.0 396.0h1.3v1.3h-1.3zM417.4 371.0h1.3v1.3h-1.3zM392.7 367.2h1.3v1.3h-1.3zM389.1 399.0h1.3v1.3h-1.3zM419.0 384.0h1.3v1.3h-1.3zM367.9 393.6h1.3v1.3h-1.3zM424.9 390.9h1.3v1.3h-1.3zM401.5 390.0h1.3v1.3h-1.3zM392.5 386.3h1.3v1.3h-1.3zM389.9 400.8h1.3v1.3h-1.3zM397.8 396.9h1.3v1.3h-1.3zM392.6 394.3h1.3v1.3h-1.3zM415.3 392.9h1.3v1.3h-1.3zM418.2 393.9h1.3v1.3h-1.3zM378.7 393.0h1.3v1.3h-1.3zM385.6 393.8h1.3v1.3h-1.3zM358.7 391.3h1.3v1.3h-1.3zM334.5 391.2h1.3v1.3h-1.3zM426.4 386.7h1.3v1.3h-1.3zM407.5 396.6h1.3v1.3h-1.3zM410.4 395.7h1.3v1.3h-1.3zM423.9 380.5h1.3v1.3h-1.3zM410.6 400.6h1.3v1.3h-1.3zM394.1 380.4h1.3v1.3h-1.3zM382.6 396.7h1.3v1.3h-1.3zM358.9 391.3h1.3v1.3h-1.3zM397.1 389.9h1.3v1.3h-1.3zM366.6 388.9h1.3v1.3h-1.3zM414.3 378.4h1.3v1.3h-1.3zM394.8 372.2h1.3v1.3h-1.3zM396.4 398.4h1.3v1.3h-1.3zM416.0 383.1h1.3v1.3h-1.3zM382.7 394.2h1.3v1.3h-1.3zM386.9 388.5h1.3v1.3h-1.3zM403.5 376.7h1.3v1.3h-1.3zM395.6 383.2h1.3v1.3h-1.3zM385.4 390.7h1.3v1.3h-1.3zM392.6 390.1h1.3v1.3h-1.3zM376.0 389.5h1.3v1.3h-1.3zM425.6 388.5h1.3v1.3h-1.3zM418.1 385.8h1.3v1.3h-1.3zM430.1 372.2h1.3v1.3h-1.3zM378.8 386.0h1.3v1.3h-1.3zM406.1 385.5h1.3v1.3h-1.3zM411.5 378.2h1.3v1.3h-1.3zM423.5 396.2h1.3v1.3h-1.3zM379.3 399.2h1.3v1.3h-1.3zM430.0 392.7h1.3v1.3h-1.3zM357.7 379.3h1.3v1.3h-1.3zM394.2 375.7h1.3v1.3h-1.3zM377.4 389.2h1.3v1.3h-1.3zM413.0 400.4h1.3v1.3h-1.3zM428.5 385.3h1.3v1.3h-1.3zM398.8 379.9h1.3v1.3h-1.3zM395.7 400.8h1.3v1.3h-1.3zM433.7 393.1h1.3v1.3h-1.3zM420.0 387.6h1.3v1.3h-1.3zM394.7 370.7h1.3v1.3h-1.3zM412.1 392.1h1.3v1.3h-1.3zM397.5 379.1h1.3v1.3h-1.3zM440.0 399.6h1.3v1.3h-1.3zM375.1 399.8h1.3v1.3h-1.3zM383.2 370.6h1.3v1.3h-1.3zM342.0 399.5h1.3v1.3h-1.3zM414.0 395.4h1.3v1.3h-1.3zM386.2 386.6h1.3v1.3h-1.3zM396.5 400.6h1.3v1.3h-1.3zM428.7 394.3h1.3v1.3h-1.3zM394.7 397.2h1.3v1.3h-1.3zM393.2 400.9h1.3v1.3h-1.3zM395.3 385.0h1.3v1.3h-1.3zM430.9 372.3h1.3v1.3h-1.3zM439.4 389.0h1.3v1.3h-1.3zM376.6 397.3h1.3v1.3h-1.3zM380.4 394.9h1.3v1.3h-1.3zM378.5 376.1h1.3v1.3h-1.3zM430.1 387.4h1.3v1.3h-1.3zM400.1 392.4h1.3v1.3h-1.3zM404.8 395.7h1.3v1.3h-1.3zM413.7 377.2h1.3v1.3h-1.3zM356.7 395.6h1.3v1.3h-1.3zM365.4 397.3h1.3v1.3h-1.3zM382.3 390.9h1.3v1.3h-1.3zM429.3 377.3h1.3v1.3h-1.3zM362.2 389.6h1.3v1.3h-1.3zM435.4 394.1h1.3v1.3h-1.3zM385.4 382.9h1.3v1.3h-1.3zM387.9 373.7h1.3v1.3h-1.3zM386.6 399.4h1.3v1.3h-1.3zM383.4 388.3h1.3v1.3h-1.3zM398.6 396.5h1.3v1.3h-1.3zM382.7 398.5h1.3v1.3h-1.3zM388.7 399.0h1.3v1.3h-1.3zM415.4 397.4h1.3v1.3h-1.3zM416.4 378.8h1.3v1.3h-1.3zM425.6 387.9h1.3v1.3h-1.3zM389.2 380.9h1.3v1.3h-1.3zM397.9 385.1h1.3v1.3h-1.3zM409.7 397.0h1.3v1.3h-1.3zM387.5 394.1h1.3v1.3h-1.3zM391.1 379.0h1.3v1.3h-1.3zM419.7 385.2h1.3v1.3h-1.3zM399.2 397.5h1.3v1.3h-1.3zM409.7 374.8h1.3v1.3h-1.3zM387.1 373.8h1.3v1.3h-1.3zM389.4 380.0h1.3v1.3h-1.3zM397.7 398.0h1.3v1.3h-1.3zM442.3 398.6h1.3v1.3h-1.3zM424.4 399.8h1.3v1.3h-1.3zM403.4 389.8h1.3v1.3h-1.3zM396.2 383.2h1.3v1.3h-1.3zM375.5 358.8h1.3v1.3h-1.3zM374.9 396.7h1.3v1.3h-1.3zM375.9 396.6h1.3v1.3h-1.3zM375.9 400.1h1.3v1.3h-1.3zM407.0 397.6h1.3v1.3h-1.3zM344.6 396.3h1.3v1.3h-1.3zM420.3 365.2h1.3v1.3h-1.3zM386.3 387.0h1.3v1.3h-1.3zM403.7 398.7h1.3v1.3h-1.3zM397.8 392.3h1.3v1.3h-1.3zM431.1 395.1h1.3v1.3h-1.3zM395.4 396.4h1.3v1.3h-1.3zM386.4 399.0h1.3v1.3h-1.3zM382.6 386.9h1.3v1.3h-1.3zM402.3 399.3h1.3v1.3h-1.3zM411.2 388.3h1.3v1.3h-1.3zM389.6 389.1h1.3v1.3h-1.3zM420.1 400.6h1.3v1.3h-1.3zM366.8 397.7h1.3v1.3h-1.3zM420.5 388.8h1.3v1.3h-1.3zM391.7 395.6h1.3v1.3h-1.3zM416.2 386.1h1.3v1.3h-1.3zM393.7 396.6h1.3v1.3h-1.3zM397.4 400.4h1.3v1.3h-1.3zM402.4 389.4h1.3v1.3h-1.3zM365.8 400.2h1.3v1.3h-1.3zM408.8 383.8h1.3v1.3h-1.3zM367.7 391.0h1.3v1.3h-1.3zM350.6 393.4h1.3v1.3h-1.3zM423.1 381.3h1.3v1.3h-1.3zM388.0 398.8h1.3v1.3h-1.3zM429.2 400.4h1.3v1.3h-1.3zM415.3 393.3h1.3v1.3h-1.3zM410.8 392.0h1.3v1.3h-1.3zM379.9 373.6h1.3v1.3h-1.3zM372.3 385.1h1.3v1.3h-1.3zM374.4 366.8h1.3v1.3h-1.3zM381.8 392.7h1.3v1.3h-1.3zM393.7 400.6h1.3v1.3h-1.3zM406.2 392.2h1.3v1.3h-1.3zM360.0 393.4h1.3v1.3h-1.3zM382.6 399.2h1.3v1.3h-1.3zM426.6 397.0h1.3v1.3h-1.3zM392.1 398.5h1.3v1.3h-1.3zM397.4 384.6h1.3v1.3h-1.3zM374.5 395.8h1.3v1.3h-1.3zM389.6 381.2h1.3v1.3h-1.3zM410.1 398.2h1.3v1.3h-1.3zM414.2 397.5h1.3v1.3h-1.3zM429.3 398.3h1.3v1.3h-1.3zM368.3 395.3h1.3v1.3h-1.3zM393.2 395.1h1.3v1.3h-1.3zM389.5 393.6h1.3v1.3h-1.3zM420.5 364.2h1.3v1.3h-1.3zM405.6 382.2h1.3v1.3h-1.3zM383.0 425.4h1.3v1.3h-1.3zM394.2 424.9h1.3v1.3h-1.3zM365.3 425.8h1.3v1.3h-1.3zM359.5 432.7h1.3v1.3h-1.3zM352.1 428.4h1.3v1.3h-1.3zM389.0 425.8h1.3v1.3h-1.3zM371.7 428.9h1.3v1.3h-1.3zM367.8 432.3h1.3v1.3h-1.3zM386.5 426.6h1.3v1.3h-1.3zM353.1 436.5h1.3v1.3h-1.3zM384.3 430.6h1.3v1.3h-1.3zM360.8 433.0h1.3v1.3h-1.3zM388.6 435.6h1.3v1.3h-1.3zM390.9 428.3h1.3v1.3h-1.3zM385.7 433.6h1.3v1.3h-1.3zM370.1 428.9h1.3v1.3h-1.3zM369.9 431.1h1.3v1.3h-1.3zM366.3 429.4h1.3v1.3h-1.3zM368.8 430.1h1.3v1.3h-1.3zM345.4 437.3h1.3v1.3h-1.3zM401.6 429.0h1.3v1.3h-1.3zM392.0 441.6h1.3v1.3h-1.3zM370.6 428.2h1.3v1.3h-1.3zM405.6 426.5h1.3v1.3h-1.3zM371.6 427.4h1.3v1.3h-1.3zM369.9 432.2h1.3v1.3h-1.3zM373.1 426.6h1.3v1.3h-1.3zM376.0 429.8h1.3v1.3h-1.3zM381.7 433.0h1.3v1.3h-1.3zM367.3 429.0h1.3v1.3h-1.3zM368.9 434.2h1.3v1.3h-1.3zM361.0 436.3h1.3v1.3h-1.3zM355.5 429.9h1.3v1.3h-1.3zM358.4 432.5h1.3v1.3h-1.3zM392.8 426.9h1.3v1.3h-1.3zM396.7 426.1h1.3v1.3h-1.3zM394.3 442.3h1.3v1.3h-1.3zM370.3 426.5h1.3v1.3h-1.3zM378.7 425.6h1.3v1.3h-1.3zM399.6 433.1h1.3v1.3h-1.3z" fill="#a2a2a2"/>
<path d="M330,424 L338,416 L348,408 L358,401 L368,396 L380,394 L391,395 L396,399 L395,406 L388,413 L376,419 L362,424 L348,428 L336,429 Z" fill="#a9a9a9" filter="url(#mblur)"/>
<line x1="336" y1="417" x2="305" y2="397" stroke="#5f8f50" stroke-width="0.45"/>
<line x1="336" y1="418" x2="316" y2="404" stroke="#5f8f50" stroke-width="0.45"/>
<line x1="335" y1="419" x2="301" y2="410" stroke="#5f8f50" stroke-width="0.45"/>
<line x1="335" y1="420" x2="318" y2="412" stroke="#5f8f50" stroke-width="0.45"/>
<line x1="334" y1="421" x2="285" y2="417" stroke="#5f8f50" stroke-width="0.45"/>
<line x1="334" y1="421" x2="302" y2="417" stroke="#5f8f50" stroke-width="0.45"/>
<line x1="334" y1="422" x2="320" y2="420" stroke="#5f8f50" stroke-width="0.45"/>
<line x1="333" y1="423" x2="290" y2="425" stroke="#5f8f50" stroke-width="0.45"/>
<line x1="333" y1="424" x2="315" y2="425" stroke="#5f8f50" stroke-width="0.45"/>
<line x1="332" y1="425" x2="301" y2="432" stroke="#5f8f50" stroke-width="0.45"/>
<line x1="333" y1="426" x2="316" y2="432" stroke="#5f8f50" stroke-width="0.45"/>
<line x1="332" y1="427" x2="289" y2="440" stroke="#5f8f50" stroke-width="0.45"/>
<line x1="333" y1="428" x2="317" y2="440" stroke="#5f8f50" stroke-width="0.45"/>
<line x1="334" y1="429" x2="305" y2="448" stroke="#5f8f50" stroke-width="0.45"/>
<line x1="336" y1="430" x2="322" y2="450" stroke="#5f8f50" stroke-width="0.45"/>
<line x1="337" y1="430" x2="309" y2="457" stroke="#5f8f50" stroke-width="0.45"/>
<line x1="338" y1="429" x2="333" y2="443" stroke="#5f8f50" stroke-width="0.45"/>
<line x1="339" y1="428" x2="339" y2="450" stroke="#5f8f50" stroke-width="0.45"/>
<line x1="340" y1="426" x2="338" y2="432" stroke="#5f8f50" stroke-width="0.45"/>
<line x1="342" y1="424" x2="348" y2="439" stroke="#5f8f50" stroke-width="0.45"/>
<line x1="343" y1="424" x2="353" y2="446" stroke="#5f8f50" stroke-width="0.45"/>
<line x1="340" y1="418" x2="365" y2="418" stroke="#5f8f50" stroke-width="0.45"/>
<line x1="338" y1="418" x2="372" y2="425" stroke="#5f8f50" stroke-width="0.45"/>
<line x1="340" y1="420" x2="360" y2="433" stroke="#5f8f50" stroke-width="0.45"/>
<line x1="338" y1="416" x2="380" y2="418" stroke="#5f8f50" stroke-width="0.45"/>
<line x1="337" y1="420" x2="350" y2="444" stroke="#5f8f50" stroke-width="0.45"/>
<line x1="336" y1="421" x2="345" y2="448" stroke="#5f8f50" stroke-width="0.45"/>
<line x1="332" y1="424" x2="330" y2="440" stroke="#5f8f50" stroke-width="0.45"/>
<line x1="330" y1="425" x2="322" y2="448" stroke="#5f8f50" stroke-width="0.45"/>
<line x1="330" y1="423" x2="310" y2="457" stroke="#5f8f50" stroke-width="0.45"/>
<line x1="334" y1="420" x2="314" y2="410" stroke="#5f8f50" stroke-width="0.45"/>
<line x1="338" y1="417" x2="325" y2="402" stroke="#5f8f50" stroke-width="0.45"/>
<line x1="336" y1="418" x2="300" y2="398" stroke="#5f8f50" stroke-width="0.45"/>
<line x1="336" y1="420" x2="305" y2="425" stroke="#5f8f50" stroke-width="0.45"/>
<line x1="334" y1="421" x2="300" y2="433" stroke="#5f8f50" stroke-width="0.45"/>
<line x1="335" y1="422" x2="296" y2="440" stroke="#5f8f50" stroke-width="0.45"/>
<line x1="340" y1="416" x2="376" y2="405" stroke="#5f8f50" stroke-width="0.45"/>
<line x1="339" y1="417" x2="370" y2="410" stroke="#5f8f50" stroke-width="0.45"/>
<path d="M334.5 418.1h1.9v1.9h-1.9zM335.5 417.2h1.9v1.9h-1.9zM340.9 417.3h1.9v1.9h-1.9zM333.9 429.3h1.9v1.9h-1.9zM331.0 417.1h1.9v1.9h-1.9zM319.6 419.7h1.9v1.9h-1.9zM347.1 433.1h1.9v1.9h-1.9zM336.7 422.9h1.9v1.9h-1.9zM327.3 423.3h1.9v1.9h-1.9zM338.6 433.1h1.9v1.9h-1.9zM335.0 424.7h1.9v1.9h-1.9zM327.7 415.3h1.9v1.9h-1.9zM330.3 418.7h1.9v1.9h-1.9zM331.7 425.1h1.9v1.9h-1.9zM335.4 417.1h1.9v1.9h-1.9zM336.8 429.4h1.9v1.9h-1.9zM331.0 421.8h1.9v1.9h-1.9zM327.3 423.8h1.9v1.9h-1.9zM329.3 417.5h1.9v1.9h-1.9zM330.0 416.2h1.9v1.9h-1.9zM330.9 423.0h1.9v1.9h-1.9zM347.0 422.2h1.9v1.9h-1.9zM326.9 420.2h1.9v1.9h-1.9zM333.1 427.5h1.9v1.9h-1.9zM340.7 420.8h1.9v1.9h-1.9zM329.7 417.0h1.9v1.9h-1.9zM330.9 431.4h1.9v1.9h-1.9zM322.6 415.4h1.9v1.9h-1.9zM334.4 423.7h1.9v1.9h-1.9zM333.7 415.2h1.9v1.9h-1.9zM329.8 429.3h1.9v1.9h-1.9zM335.1 422.6h1.9v1.9h-1.9zM337.7 422.6h1.9v1.9h-1.9zM340.6 419.3h1.9v1.9h-1.9zM340.6 411.4h1.9v1.9h-1.9zM320.8 415.0h1.9v1.9h-1.9zM338.4 413.9h1.9v1.9h-1.9zM327.7 415.3h1.9v1.9h-1.9zM338.6 424.1h1.9v1.9h-1.9zM330.5 427.2h1.9v1.9h-1.9zM340.4 421.0h1.9v1.9h-1.9zM324.8 416.7h1.9v1.9h-1.9zM329.4 424.5h1.9v1.9h-1.9zM336.4 420.3h1.9v1.9h-1.9zM319.9 426.5h1.9v1.9h-1.9zM336.9 419.6h1.9v1.9h-1.9zM336.4 425.2h1.9v1.9h-1.9zM339.7 426.2h1.9v1.9h-1.9zM323.4 427.5h1.9v1.9h-1.9zM333.9 416.0h1.9v1.9h-1.9zM321.4 429.0h1.9v1.9h-1.9zM326.5 423.3h1.9v1.9h-1.9zM332.2 412.4h1.9v1.9h-1.9zM340.9 420.6h1.9v1.9h-1.9zM325.9 420.2h1.9v1.9h-1.9zM339.4 420.4h1.9v1.9h-1.9zM327.8 423.0h1.9v1.9h-1.9zM324.5 418.8h1.9v1.9h-1.9zM330.3 425.7h1.9v1.9h-1.9zM338.6 430.6h1.9v1.9h-1.9zM327.8 424.2h1.9v1.9h-1.9zM333.4 413.6h1.9v1.9h-1.9zM340.0 421.5h1.9v1.9h-1.9zM335.6 412.8h1.9v1.9h-1.9zM328.3 417.4h1.9v1.9h-1.9zM339.4 420.1h1.9v1.9h-1.9zM324.6 427.2h1.9v1.9h-1.9zM338.5 424.4h1.9v1.9h-1.9zM334.0 414.4h1.9v1.9h-1.9zM327.7 421.0h1.9v1.9h-1.9zM336.6 413.0h1.9v1.9h-1.9zM336.1 427.4h1.9v1.9h-1.9zM332.9 418.9h1.9v1.9h-1.9zM347.1 423.6h1.9v1.9h-1.9zM324.6 422.0h1.9v1.9h-1.9zM342.1 414.7h1.9v1.9h-1.9zM331.3 419.1h1.9v1.9h-1.9zM347.1 413.9h1.9v1.9h-1.9zM332.8 418.8h1.9v1.9h-1.9zM324.7 421.5h1.9v1.9h-1.9zM342.8 428.3h1.9v1.9h-1.9zM334.0 418.4h1.9v1.9h-1.9zM328.1 431.5h1.9v1.9h-1.9zM326.0 412.7h1.9v1.9h-1.9zM331.5 417.0h1.9v1.9h-1.9zM331.7 436.3h1.9v1.9h-1.9zM312.3 427.3h1.9v1.9h-1.9zM331.6 425.8h1.9v1.9h-1.9zM330.8 442.0h1.9v1.9h-1.9zM327.0 436.2h1.9v1.9h-1.9zM335.5 433.0h1.9v1.9h-1.9zM339.7 428.7h1.9v1.9h-1.9zM331.3 439.5h1.9v1.9h-1.9zM335.9 427.5h1.9v1.9h-1.9zM337.0 435.2h1.9v1.9h-1.9zM330.0 428.7h1.9v1.9h-1.9zM321.9 442.2h1.9v1.9h-1.9zM321.7 429.6h1.9v1.9h-1.9zM344.1 440.7h1.9v1.9h-1.9zM306.1 436.1h1.9v1.9h-1.9zM307.1 442.1h1.9v1.9h-1.9zM325.1 437.1h1.9v1.9h-1.9zM324.1 442.1h1.9v1.9h-1.9zM330.1 447.1h1.9v1.9h-1.9zM344.1 437.1h1.9v1.9h-1.9zM343.1 441.1h1.9v1.9h-1.9zM328.1 459.1h1.9v1.9h-1.9zM306.1 469.1h1.9v1.9h-1.9zM293.1 443.1h1.9v1.9h-1.9zM317.1 469.1h1.9v1.9h-1.9zM322.1 474.1h1.9v1.9h-1.9zM295.1 461.1h1.9v1.9h-1.9zM284.1 448.1h1.9v1.9h-1.9zM333.1 454.1h1.9v1.9h-1.9zM337.1 451.1h1.9v1.9h-1.9zM411.4 421.2h1.9v1.9h-1.9zM410.4 422.0h1.9v1.9h-1.9zM413.5 420.2h1.9v1.9h-1.9zM411.0 425.7h1.9v1.9h-1.9zM399.7 421.6h1.9v1.9h-1.9zM406.7 425.2h1.9v1.9h-1.9zM399.1 419.1h1.9v1.9h-1.9zM406.1 422.1h1.9v1.9h-1.9zM409.1 426.1h1.9v1.9h-1.9zM391.1 429.1h1.9v1.9h-1.9zM414.1 436.1h1.9v1.9h-1.9zM424.1 430.1h1.9v1.9h-1.9zM434.1 425.1h1.9v1.9h-1.9zM445.1 427.1h1.9v1.9h-1.9zM417.1 442.1h1.9v1.9h-1.9zM401.1 446.1h1.9v1.9h-1.9zM429.1 449.1h1.9v1.9h-1.9z" fill="#e0101c"/>
<path d="M408.1 398.2h1.9v1.9h-1.9zM408.0 390.2h1.9v1.9h-1.9zM424.5 399.7h1.9v1.9h-1.9zM391.6 393.8h1.9v1.9h-1.9zM429.1 395.4h1.9v1.9h-1.9zM401.4 402.3h1.9v1.9h-1.9zM394.0 397.5h1.9v1.9h-1.9zM379.1 403.6h1.9v1.9h-1.9zM421.6 400.0h1.9v1.9h-1.9zM394.3 389.2h1.9v1.9h-1.9zM388.3 400.2h1.9v1.9h-1.9zM386.1 391.3h1.9v1.9h-1.9zM389.4 391.4h1.9v1.9h-1.9zM408.7 402.5h1.9v1.9h-1.9zM398.0 398.6h1.9v1.9h-1.9zM400.6 396.6h1.9v1.9h-1.9zM379.1 392.6h1.9v1.9h-1.9zM400.9 393.5h1.9v1.9h-1.9zM409.2 391.0h1.9v1.9h-1.9zM414.7 401.2h1.9v1.9h-1.9zM393.9 399.4h1.9v1.9h-1.9zM401.0 394.9h1.9v1.9h-1.9zM421.8 390.5h1.9v1.9h-1.9zM417.0 391.5h1.9v1.9h-1.9zM415.8 392.9h1.9v1.9h-1.9zM415.0 388.5h1.9v1.9h-1.9zM398.1 392.8h1.9v1.9h-1.9zM414.3 394.7h1.9v1.9h-1.9zM405.5 404.0h1.9v1.9h-1.9zM412.3 397.9h1.9v1.9h-1.9zM388.8 397.3h1.9v1.9h-1.9zM419.5 388.2h1.9v1.9h-1.9zM420.9 393.4h1.9v1.9h-1.9zM394.4 395.6h1.9v1.9h-1.9zM384.3 396.2h1.9v1.9h-1.9zM426.6 395.9h1.9v1.9h-1.9zM397.0 396.9h1.9v1.9h-1.9zM397.1 386.9h1.9v1.9h-1.9zM389.0 393.2h1.9v1.9h-1.9zM414.7 399.9h1.9v1.9h-1.9zM401.6 396.9h1.9v1.9h-1.9zM422.7 399.2h1.9v1.9h-1.9zM419.1 407.1h1.9v1.9h-1.9zM425.4 398.3h1.9v1.9h-1.9zM403.5 399.1h1.9v1.9h-1.9zM395.6 390.0h1.9v1.9h-1.9zM399.3 403.5h1.9v1.9h-1.9zM384.4 393.0h1.9v1.9h-1.9zM392.5 391.5h1.9v1.9h-1.9zM384.3 407.1h1.9v1.9h-1.9zM415.4 391.4h1.9v1.9h-1.9zM398.7 387.1h1.9v1.9h-1.9zM400.4 395.6h1.9v1.9h-1.9zM404.5 387.1h1.9v1.9h-1.9zM392.3 399.0h1.9v1.9h-1.9zM385.9 401.7h1.9v1.9h-1.9zM379.1 386.5h1.9v1.9h-1.9zM398.4 391.2h1.9v1.9h-1.9zM397.0 407.1h1.9v1.9h-1.9zM409.7 394.4h1.9v1.9h-1.9zM390.7 368.4h1.9v1.9h-1.9zM396.1 371.1h1.9v1.9h-1.9zM412.1 371.1h1.9v1.9h-1.9zM419.1 377.1h1.9v1.9h-1.9zM427.1 387.1h1.9v1.9h-1.9zM465.2 371.4h1.9v1.9h-1.9zM438.6 380.4h1.9v1.9h-1.9zM437.4 382.7h1.9v1.9h-1.9zM437.9 385.4h1.9v1.9h-1.9zM439.8 390.9h1.9v1.9h-1.9zM476.2 384.8h1.9v1.9h-1.9zM469.8 390.2h1.9v1.9h-1.9zM476.2 395.9h1.9v1.9h-1.9zM498.4 396.1h1.9v1.9h-1.9zM446.2 396.6h1.9v1.9h-1.9zM433.2 396.9h1.9v1.9h-1.9zM433.1 399.1h1.9v1.9h-1.9zM336.9 382.1h1.9v1.9h-1.9zM342.1 394.1h1.9v1.9h-1.9zM359.1 394.1h1.9v1.9h-1.9zM366.1 397.1h1.9v1.9h-1.9zM444.1 392.1h1.9v1.9h-1.9zM451.1 389.1h1.9v1.9h-1.9zM424.1 381.1h1.9v1.9h-1.9z" fill="#1a1a8c"/>
<rect x="335.8" y="375.4" width="14.2" height="5.4" fill="#fbfdf9" stroke="#79a569" stroke-width="0.9" rx="1"/>
<text x="342.9" y="379.6" font-size="4.3" text-anchor="middle" fill="#36682c" textLength="12.2" lengthAdjust="spacingAndGlyphs">Cited1</text>
<rect x="295.4" y="394.6" width="19.5" height="4.6" fill="#fbfdf9" stroke="#79a569" stroke-width="0.9" rx="1"/>
<text x="305.15" y="398.4" font-size="3.91" text-anchor="middle" fill="#36682c" textLength="17.5" lengthAdjust="spacingAndGlyphs">Tbc1d4b</text>
<rect x="317.7" y="393" width="13.1" height="5.2" fill="#fbfdf9" stroke="#79a569" stroke-width="0.9" rx="1"/>
<text x="324.25" y="397.1" font-size="4.3" text-anchor="middle" fill="#36682c" textLength="11.1" lengthAdjust="spacingAndGlyphs">Gmds</text>
<rect x="328.5" y="400.3" width="21.5" height="4.3" fill="#fbfdf9" stroke="#79a569" stroke-width="0.9" rx="1"/>
<text x="339.25" y="403.95" font-size="3.66" text-anchor="middle" fill="#36682c" textLength="19.5" lengthAdjust="spacingAndGlyphs">BC051169</text>
<rect x="308.5" y="401.8" width="15.3" height="5.1" fill="#fbfdf9" stroke="#79a569" stroke-width="0.9" rx="1"/>
<text x="316.15" y="405.85" font-size="4.3" text-anchor="middle" fill="#36682c" textLength="13.3" lengthAdjust="spacingAndGlyphs">Alg13b</text>
<rect x="295.4" y="407.4" width="11.2" height="4.9" fill="#fbfdf9" stroke="#79a569" stroke-width="0.9" rx="1"/>
<text x="301" y="411.35" font-size="4.17" text-anchor="middle" fill="#36682c" textLength="9.2" lengthAdjust="spacingAndGlyphs">Dgd1</text>
<rect x="311.8" y="410" width="12.8" height="5" fill="#fbfdf9" stroke="#79a569" stroke-width="0.9" rx="1"/>
<text x="318.2" y="414" font-size="4.25" text-anchor="middle" fill="#36682c" textLength="10.8" lengthAdjust="spacingAndGlyphs">Runxl</text>
<rect x="328.2" y="408.9" width="14.1" height="4.9" fill="#fbfdf9" stroke="#79a569" stroke-width="0.9" rx="1"/>
<text x="335.25" y="412.85" font-size="4.17" text-anchor="middle" fill="#36682c" textLength="12.1" lengthAdjust="spacingAndGlyphs">Lrrc1Tal</text>
<rect x="276.2" y="414.6" width="16.8" height="5.4" fill="#fbfdf9" stroke="#79a569" stroke-width="0.9" rx="1"/>
<text x="284.6" y="418.8" font-size="4.3" text-anchor="middle" fill="#36682c" textLength="14.8" lengthAdjust="spacingAndGlyphs">Rasgrp2</text>
<rect x="295.8" y="415" width="13.4" height="5" fill="#fbfdf9" stroke="#79a569" stroke-width="0.9" rx="1"/>
<text x="302.5" y="419" font-size="4.25" text-anchor="middle" fill="#36682c" textLength="11.4" lengthAdjust="spacingAndGlyphs">Lrp53</text>
<rect x="314.6" y="418.2" width="12.4" height="4.8" fill="#fbfdf9" stroke="#79a569" stroke-width="0.9" rx="1"/>
<text x="320.8" y="422.1" font-size="4.08" text-anchor="middle" fill="#36682c" textLength="10.4" lengthAdjust="spacingAndGlyphs">Tgfb1</text>
<rect x="273.4" y="422.3" width="30.8" height="5.4" fill="#fbfdf9" stroke="#79a569" stroke-width="0.9" rx="1"/>
<text x="288.8" y="426.5" font-size="4.3" text-anchor="middle" fill="#36682c" textLength="28.8" lengthAdjust="spacingAndGlyphs">Dennd2c6mbr</text>
<rect x="310.3" y="422.3" width="10.5" height="5.1" fill="#fbfdf9" stroke="#79a569" stroke-width="0.9" rx="1"/>
<text x="315.55" y="426.35" font-size="4.3" text-anchor="middle" fill="#36682c" textLength="8.5" lengthAdjust="spacingAndGlyphs">Apr1</text>
<rect x="294.6" y="430" width="14.3" height="5" fill="#fbfdf9" stroke="#79a569" stroke-width="0.9" rx="1"/>
<text x="301.75" y="434" font-size="4.25" text-anchor="middle" fill="#36682c" textLength="12.3" lengthAdjust="spacingAndGlyphs">Hapa4</text>
<rect x="310.8" y="430" width="10.4" height="5" fill="#fbfdf9" stroke="#79a569" stroke-width="0.9" rx="1"/>
<text x="316" y="434" font-size="4.25" text-anchor="middle" fill="#36682c" textLength="8.4" lengthAdjust="spacingAndGlyphs">Hst1</text>
<rect x="281.5" y="437.7" width="14.7" height="4.6" fill="#fbfdf9" stroke="#79a569" stroke-width="0.9" rx="1"/>
<text x="288.85" y="441.5" font-size="3.91" text-anchor="middle" fill="#36682c" textLength="12.7" lengthAdjust="spacingAndGlyphs">Cmpk1</text>
<rect x="312.3" y="437.7" width="9.2" height="5.1" fill="#fbfdf9" stroke="#79a569" stroke-width="0.9" rx="1"/>
<text x="316.9" y="441.75" font-size="4.3" text-anchor="middle" fill="#36682c" textLength="7.2" lengthAdjust="spacingAndGlyphs">Svip</text>
<rect x="298.5" y="445.4" width="13.8" height="5.1" fill="#fbfdf9" stroke="#79a569" stroke-width="0.9" rx="1"/>
<text x="305.4" y="449.45" font-size="4.3" text-anchor="middle" fill="#36682c" textLength="11.8" lengthAdjust="spacingAndGlyphs">Hook1</text>
<rect x="315" y="447.7" width="13.5" height="5.3" fill="#fbfdf9" stroke="#79a569" stroke-width="0.9" rx="1"/>
<text x="321.75" y="451.85" font-size="4.3" text-anchor="middle" fill="#36682c" textLength="11.5" lengthAdjust="spacingAndGlyphs">Ndbp2</text>
<rect x="302.8" y="455" width="12.9" height="5.3" fill="#fbfdf9" stroke="#79a569" stroke-width="0.9" rx="1"/>
<text x="309.25" y="459.15" font-size="4.3" text-anchor="middle" fill="#36682c" textLength="10.9" lengthAdjust="spacingAndGlyphs">Pkdcc</text>
<rect x="328.9" y="440.3" width="9.6" height="5.1" fill="#fbfdf9" stroke="#79a569" stroke-width="0.9" rx="1"/>
<text x="333.7" y="444.35" font-size="4.3" text-anchor="middle" fill="#36682c" textLength="7.6" lengthAdjust="spacingAndGlyphs">Pygm</text>
<rect x="331.5" y="447.7" width="16.2" height="5.3" fill="#fbfdf9" stroke="#79a569" stroke-width="0.9" rx="1"/>
<text x="339.6" y="451.85" font-size="4.3" text-anchor="middle" fill="#36682c" textLength="14.2" lengthAdjust="spacingAndGlyphs">Sh3bp5</text>
<rect x="332.3" y="429.2" width="12.3" height="5.4" fill="#fbfdf9" stroke="#79a569" stroke-width="0.9" rx="1"/>
<text x="338.45" y="433.4" font-size="4.3" text-anchor="middle" fill="#36682c" textLength="10.3" lengthAdjust="spacingAndGlyphs">Arntl1</text>
<rect x="340.8" y="436.6" width="16.1" height="4.9" fill="#fbfdf9" stroke="#79a569" stroke-width="0.9" rx="1"/>
<text x="348.85" y="440.55" font-size="4.16" text-anchor="middle" fill="#36682c" textLength="14.1" lengthAdjust="spacingAndGlyphs">Col4a5</text>
<rect x="349.2" y="443" width="8.5" height="5.5" fill="#fbfdf9" stroke="#79a569" stroke-width="0.9" rx="1"/>
<text x="353.45" y="447.25" font-size="4.3" text-anchor="middle" fill="#36682c" textLength="6.5" lengthAdjust="spacingAndGlyphs">Cd7</text>
<rect x="380.7" y="387" width="13.2" height="5.2" fill="#fbfdf9" stroke="#79a569" stroke-width="0.9" rx="1"/>
<text x="387.3" y="391.1" font-size="4.3" text-anchor="middle" fill="#36682c" textLength="11.2" lengthAdjust="spacingAndGlyphs">Nacc2</text>
<rect x="400.1" y="389.2" width="13.8" height="4.6" fill="#fbfdf9" stroke="#79a569" stroke-width="0.9" rx="1"/>
<text x="407" y="393" font-size="3.91" text-anchor="middle" fill="#36682c" textLength="11.8" lengthAdjust="spacingAndGlyphs">Dgat2</text>
<rect x="345" y="392.7" width="13.8" height="4.6" fill="#fbfdf9" stroke="#79a569" stroke-width="0.9" rx="1"/>
<text x="351.9" y="396.5" font-size="3.91" text-anchor="middle" fill="#36682c" textLength="11.8" lengthAdjust="spacingAndGlyphs">Rbm38</text>
<rect x="375.8" y="396.8" width="9.5" height="4.7" fill="#fbfdf9" stroke="#79a569" stroke-width="0.9" rx="1"/>
<text x="380.55" y="400.65" font-size="3.99" text-anchor="middle" fill="#36682c" textLength="7.5" lengthAdjust="spacingAndGlyphs">Ern1</text>
<rect x="388.8" y="395.8" width="13.4" height="5" fill="#fbfdf9" stroke="#79a569" stroke-width="0.9" rx="1"/>
<text x="395.5" y="399.8" font-size="4.25" text-anchor="middle" fill="#36682c" textLength="11.4" lengthAdjust="spacingAndGlyphs">Cdk18</text>
<rect x="361.2" y="400.4" width="11.2" height="5.1" fill="#fbfdf9" stroke="#79a569" stroke-width="0.9" rx="1"/>
<text x="366.8" y="404.45" font-size="4.3" text-anchor="middle" fill="#36682c" textLength="9.2" lengthAdjust="spacingAndGlyphs">Ptst1</text>
<rect x="375" y="404.2" width="9.7" height="4.6" fill="#fbfdf9" stroke="#79a569" stroke-width="0.9" rx="1"/>
<text x="379.85" y="408" font-size="3.91" text-anchor="middle" fill="#36682c" textLength="7.7" lengthAdjust="spacingAndGlyphs">Cha1</text>
<rect x="391.9" y="405" width="8.8" height="5.1" fill="#fbfdf9" stroke="#79a569" stroke-width="0.9" rx="1"/>
<text x="396.3" y="409.05" font-size="4.3" text-anchor="middle" fill="#36682c" textLength="6.8" lengthAdjust="spacingAndGlyphs">Pik3</text>
<rect x="404.2" y="404.2" width="8.5" height="4.6" fill="#fbfdf9" stroke="#79a569" stroke-width="0.9" rx="1"/>
<text x="408.45" y="408" font-size="3.91" text-anchor="middle" fill="#36682c" textLength="6.5" lengthAdjust="spacingAndGlyphs">Dd1</text>
<rect x="374.2" y="408.1" width="8.5" height="4.6" fill="#fbfdf9" stroke="#79a569" stroke-width="0.9" rx="1"/>
<text x="378.45" y="411.9" font-size="3.91" text-anchor="middle" fill="#36682c" textLength="6.5" lengthAdjust="spacingAndGlyphs">Cdl1</text>
<rect x="348.8" y="408.1" width="12.4" height="4.6" fill="#fbfdf9" stroke="#79a569" stroke-width="0.9" rx="1"/>
<text x="355" y="411.9" font-size="3.91" text-anchor="middle" fill="#36682c" textLength="10.4" lengthAdjust="spacingAndGlyphs">Tspo2</text>
<rect x="358.8" y="415.3" width="15.7" height="4.6" fill="#fbfdf9" stroke="#79a569" stroke-width="0.9" rx="1"/>
<text x="366.65" y="419.1" font-size="3.91" text-anchor="middle" fill="#36682c" textLength="13.7" lengthAdjust="spacingAndGlyphs">Sema4a</text>
<rect x="381.6" y="415.3" width="15.7" height="4.6" fill="#fbfdf9" stroke="#79a569" stroke-width="0.9" rx="1"/>
<text x="389.45" y="419.1" font-size="3.91" text-anchor="middle" fill="#36682c" textLength="13.7" lengthAdjust="spacingAndGlyphs">Sh3bgrl</text>
<rect x="373.9" y="422.4" width="12.3" height="4.9" fill="#fbfdf9" stroke="#79a569" stroke-width="0.9" rx="1"/>
<text x="380.05" y="426.35" font-size="4.17" text-anchor="middle" fill="#36682c" textLength="10.3" lengthAdjust="spacingAndGlyphs">Pdgfrb</text>
<rect x="389.3" y="422.7" width="12.9" height="4.9" fill="#fbfdf9" stroke="#79a569" stroke-width="0.9" rx="1"/>
<text x="395.75" y="426.65" font-size="4.17" text-anchor="middle" fill="#36682c" textLength="10.9" lengthAdjust="spacingAndGlyphs">Thiox1</text>
<rect x="360.4" y="430.7" width="14.1" height="4.6" fill="#fbfdf9" stroke="#79a569" stroke-width="0.9" rx="1"/>
<text x="367.45" y="434.5" font-size="3.91" text-anchor="middle" fill="#36682c" textLength="12.1" lengthAdjust="spacingAndGlyphs">Slc4a1</text>
<rect x="377.3" y="430.7" width="9.2" height="4.6" fill="#fbfdf9" stroke="#79a569" stroke-width="0.9" rx="1"/>
<text x="381.9" y="434.5" font-size="3.91" text-anchor="middle" fill="#36682c" textLength="7.2" lengthAdjust="spacingAndGlyphs">Ggs1</text>
<rect x="360.4" y="437.3" width="16.1" height="5.4" fill="#fbfdf9" stroke="#79a569" stroke-width="0.9" rx="1"/>
<text x="368.45" y="441.5" font-size="4.3" text-anchor="middle" fill="#36682c" textLength="14.1" lengthAdjust="spacingAndGlyphs">Dennd3</text>
<rect x="348.8" y="422" width="13.1" height="5.3" fill="#fbfdf9" stroke="#79a569" stroke-width="0.9" rx="1"/>
<text x="355.35" y="426.15" font-size="4.3" text-anchor="middle" fill="#36682c" textLength="11.1" lengthAdjust="spacingAndGlyphs">Cdl4</text>
<rect x="302.4" y="493" width="12.4" height="4.5" fill="#fbfdf9" stroke="#79a569" stroke-width="0.9" rx="1"/>
<text x="308.6" y="496.75" font-size="3.82" text-anchor="middle" fill="#36682c" textLength="10.4" lengthAdjust="spacingAndGlyphs">Fh1a</text>
<rect x="464.3" y="366.5" width="15.5" height="4.8" fill="#fbfdf9" stroke="#79a569" stroke-width="0.9" rx="1"/>
<text x="472.05" y="370.4" font-size="4.08" text-anchor="middle" fill="#36682c" textLength="13.5" lengthAdjust="spacingAndGlyphs">Mpeg1</text>
<rect x="490.2" y="390" width="12.1" height="4.7" fill="#fdeeee" stroke="#e0505a" stroke-width="0.9" rx="1"/>
<text x="496.25" y="393.85" font-size="4.2" text-anchor="middle" fill="#d02a30" textLength="9.7" lengthAdjust="spacingAndGlyphs">Snai1</text>
<text x="303.4" y="478.9" font-size="6.5" text-anchor="middle" font-weight="bold" fill="#111" textLength="51.4" lengthAdjust="spacingAndGlyphs" stroke="#111" stroke-width="0.12">DOWN Methylation</text>
<text x="303.4" y="485.3" font-size="6.5" text-anchor="middle" font-weight="bold" fill="#111" textLength="47.5" lengthAdjust="spacingAndGlyphs" stroke="#111" stroke-width="0.12">DOWN Expression</text>
<text x="472" y="348.8" font-size="6.5" text-anchor="middle" font-weight="bold" fill="#111" textLength="39.7" lengthAdjust="spacingAndGlyphs" stroke="#111" stroke-width="0.12">UP Methylation</text>
<text x="472" y="354.9" font-size="6.5" text-anchor="middle" font-weight="bold" fill="#111" textLength="36.5" lengthAdjust="spacingAndGlyphs" stroke="#111" stroke-width="0.12">UP Expression</text>
<text x="268.2" y="372.1" font-size="6.8" text-anchor="middle" fill="#222">1</text>
<text x="268.2" y="411.8" font-size="6.8" text-anchor="middle" fill="#222">0</text>
<text x="266.8" y="451.5" font-size="6.8" text-anchor="middle" fill="#222">-1</text>
<text x="294.5" y="510.5" font-size="6.8" text-anchor="middle" fill="#222">-5</text>
<text x="365.8" y="510.3" font-size="6.8" text-anchor="middle" fill="#222">0</text>
<text x="437.5" y="510.1" font-size="6.8" text-anchor="middle" fill="#222">5</text>
<rect x="412.4" y="470.2" width="1.4" height="1.4" fill="#e0101c"/>
<text x="416.9" y="472.8" font-size="5.3" fill="#222" textLength="57.7" lengthAdjust="spacingAndGlyphs">DOWN in WT H3K4me2</text>
<rect x="412.4" y="476.1" width="1.4" height="1.4" fill="#999"/>
<text x="416.9" y="478.7" font-size="5.3" fill="#222" textLength="81.4" lengthAdjust="spacingAndGlyphs">No change in mRNA or H3K4me2</text>
<rect x="412.4" y="482.2" width="1.4" height="1.4" fill="#1a1a8c"/>
<text x="416.9" y="484.8" font-size="5.3" fill="#222" textLength="49.5" lengthAdjust="spacingAndGlyphs">Up in WT H3K4me2</text>
<rect x="412.4" y="488.1" width="1.4" height="1.4" fill="#2a7a2a"/>
<text x="416.9" y="490.7" font-size="5.3" fill="#222" textLength="32.5" lengthAdjust="spacingAndGlyphs">Snai1 target</text>
<text x="239.6" y="337.9" font-size="12.3" font-weight="bold">H</text>
<text x="390.5" y="333.1" font-size="6.3" text-anchor="middle" fill="#222" textLength="28.3" lengthAdjust="spacingAndGlyphs">H3K4me2</text>
<text x="390.5" y="340.7" font-size="6.3" text-anchor="middle" fill="#222" textLength="62.2" lengthAdjust="spacingAndGlyphs">MIG-Snai1 vs MIG-EV</text>
<text x="259.2" y="423.9" font-size="8" text-anchor="middle" fill="#222" textLength="43.2" lengthAdjust="spacingAndGlyphs" transform="rotate(-90 259.2 423.9)" stroke="#222" stroke-width="0.15">logFC ChIPseq</text>
<rect x="0.5" y="0.5" width="519" height="669" fill="none" stroke="#000" stroke-width="1"/>
</svg>
</body></html>
